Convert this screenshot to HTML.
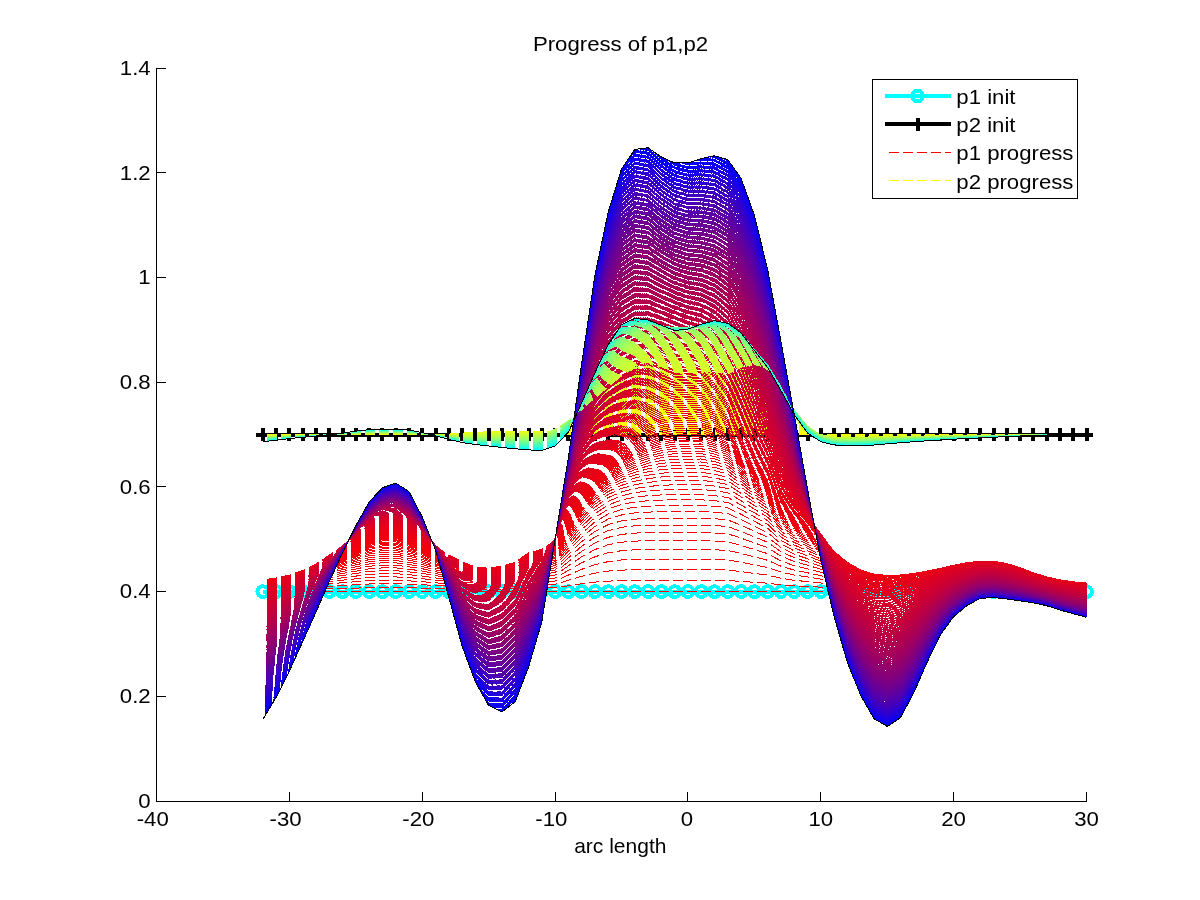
<!DOCTYPE html>
<html><head><meta charset="utf-8"><title>Progress of p1,p2</title>
<style>html,body{margin:0;padding:0;background:#fff}svg{display:block}text{font-family:"Liberation Sans",sans-serif;font-size:20.8px;fill:#000}.p path{vector-effect:non-scaling-stroke}</style></head>
<body>
<svg width="1200" height="900" viewBox="0 0 1200 900">
<rect width="1200" height="900" fill="#fff"/>
<g shape-rendering="crispEdges">
<g stroke="#0ff" stroke-width="4" fill="none"><path d="M262.8 591.6H1086.5"/>
<circle cx="262.8" cy="591.6" r="5.4"/><circle cx="276.1" cy="591.6" r="5.4"/><circle cx="289.4" cy="591.6" r="5.4"/><circle cx="302.6" cy="591.6" r="5.4"/><circle cx="315.9" cy="591.6" r="5.4"/><circle cx="329.2" cy="591.6" r="5.4"/><circle cx="342.5" cy="591.6" r="5.4"/><circle cx="355.8" cy="591.6" r="5.4"/><circle cx="369.1" cy="591.6" r="5.4"/><circle cx="382.4" cy="591.6" r="5.4"/><circle cx="395.6" cy="591.6" r="5.4"/><circle cx="408.9" cy="591.6" r="5.4"/><circle cx="422.2" cy="591.6" r="5.4"/><circle cx="435.5" cy="591.6" r="5.4"/><circle cx="448.8" cy="591.6" r="5.4"/><circle cx="462.1" cy="591.6" r="5.4"/><circle cx="475.4" cy="591.6" r="5.4"/><circle cx="488.6" cy="591.6" r="5.4"/><circle cx="501.9" cy="591.6" r="5.4"/><circle cx="515.2" cy="591.6" r="5.4"/><circle cx="528.5" cy="591.6" r="5.4"/><circle cx="541.8" cy="591.6" r="5.4"/><circle cx="555.1" cy="591.6" r="5.4"/><circle cx="568.4" cy="591.6" r="5.4"/><circle cx="581.6" cy="591.6" r="5.4"/><circle cx="594.9" cy="591.6" r="5.4"/><circle cx="608.2" cy="591.6" r="5.4"/><circle cx="621.5" cy="591.6" r="5.4"/><circle cx="634.8" cy="591.6" r="5.4"/><circle cx="648.1" cy="591.6" r="5.4"/><circle cx="661.4" cy="591.6" r="5.4"/><circle cx="674.6" cy="591.6" r="5.4"/><circle cx="687.9" cy="591.6" r="5.4"/><circle cx="701.2" cy="591.6" r="5.4"/><circle cx="714.5" cy="591.6" r="5.4"/><circle cx="727.8" cy="591.6" r="5.4"/><circle cx="741.1" cy="591.6" r="5.4"/><circle cx="754.4" cy="591.6" r="5.4"/><circle cx="767.6" cy="591.6" r="5.4"/><circle cx="780.9" cy="591.6" r="5.4"/><circle cx="794.2" cy="591.6" r="5.4"/><circle cx="807.5" cy="591.6" r="5.4"/><circle cx="820.8" cy="591.6" r="5.4"/><circle cx="834.1" cy="591.6" r="5.4"/><circle cx="847.4" cy="591.6" r="5.4"/><circle cx="860.6" cy="591.6" r="5.4"/><circle cx="873.9" cy="591.6" r="5.4"/><circle cx="887.2" cy="591.6" r="5.4"/><circle cx="900.5" cy="591.6" r="5.4"/><circle cx="913.8" cy="591.6" r="5.4"/><circle cx="927.1" cy="591.6" r="5.4"/><circle cx="940.4" cy="591.6" r="5.4"/><circle cx="953.6" cy="591.6" r="5.4"/><circle cx="966.9" cy="591.6" r="5.4"/><circle cx="980.2" cy="591.6" r="5.4"/><circle cx="993.5" cy="591.6" r="5.4"/><circle cx="1006.8" cy="591.6" r="5.4"/><circle cx="1020.1" cy="591.6" r="5.4"/><circle cx="1033.4" cy="591.6" r="5.4"/><circle cx="1046.6" cy="591.6" r="5.4"/><circle cx="1059.9" cy="591.6" r="5.4"/><circle cx="1073.2" cy="591.6" r="5.4"/><circle cx="1086.5" cy="591.6" r="5.4"/></g>
<g stroke="#000" stroke-width="4" fill="none"><path d="M256.3 434.6H1093.0"/>
<path d="M262.8 428.1v13M276.1 428.1v13M289.4 428.1v13M302.6 428.1v13M315.9 428.1v13M329.2 428.1v13M342.5 428.1v13M355.8 428.1v13M369.1 428.1v13M382.4 428.1v13M395.6 428.1v13M408.9 428.1v13M422.2 428.1v13M435.5 428.1v13M448.8 428.1v13M462.1 428.1v13M475.4 428.1v13M488.6 428.1v13M501.9 428.1v13M515.2 428.1v13M528.5 428.1v13M541.8 428.1v13M555.1 428.1v13M568.4 428.1v13M581.6 428.1v13M594.9 428.1v13M608.2 428.1v13M621.5 428.1v13M634.8 428.1v13M648.1 428.1v13M661.4 428.1v13M674.6 428.1v13M687.9 428.1v13M701.2 428.1v13M714.5 428.1v13M727.8 428.1v13M741.1 428.1v13M754.4 428.1v13M767.6 428.1v13M780.9 428.1v13M794.2 428.1v13M807.5 428.1v13M820.8 428.1v13M834.1 428.1v13M847.4 428.1v13M860.6 428.1v13M873.9 428.1v13M887.2 428.1v13M900.5 428.1v13M913.8 428.1v13M927.1 428.1v13M940.4 428.1v13M953.6 428.1v13M966.9 428.1v13M980.2 428.1v13M993.5 428.1v13M1006.8 428.1v13M1020.1 428.1v13M1033.4 428.1v13M1046.6 428.1v13M1059.9 428.1v13M1073.2 428.1v13M1086.5 428.1v13"/></g>
<g class="p q" transform="translate(262.786,0) scale(13.2857,1)" fill="none" stroke-width="1" stroke-dasharray="10 4" stroke-dashoffset="10">
<path stroke="#ff0000" d="M0 591.6l1 0 1 0 1 0 1 0 1 0 1 0 1 0 1 0 1 0 1 0 1 0 1 0 1 0 1 0 1 0 1 0 1 0 1 0 1 0 1 0 1 0 1 0 1 0 1 0 1 0 1 0 1 0 1 0 1 0 1 0 1 0 1 0 1 0 1 0 1 0 1 0 1 0 1 0 1 0 1 0 1 0 1 0 1 0 1 0 1 0 1 0 1 0 1 0 1 0 1 0 1 0 1 0 1 0 1 0 1 0 1 0 1 0 1 0 1 0 1 0 1 0 1 0"/>
<path stroke="#ffff00" d="M0 434.6l1 0 1 0 1 0 1 0 1 0 1 0 1 0 1 0 1 0 1 0 1 0 1 0 1 0 1 0 1 0 1 0 1 0 1 0 1 0 1 0 1 0 1 0 1 0 1 0 1 0 1 0 1 0 1 0 1 0 1 0 1 0 1 0 1 0 1 0 1 0 1 0 1 0 1 0 1 0 1 0 1 0 1 0 1 0 1 0 1 0 1 0 1 0 1 0 1 0 1 0 1 0 1 0 1 0 1 0 1 0 1 0 1 0 1 0 1 0 1 0 1 0 1 0"/>
<path stroke="#fe0001" d="M0 590.3l1-.1 1-.2 1-.3 1-.4 1-.4 1-.4 1-.4 1-.4 1-.1 1 0 1 .2 1 .3 1 .4 1 .2 1 .3 1 .3 1 0 1-.2 1-.3 1-.6 1-.1 1-.3 1-2 1-2.1 1-1.6 1-1 1-.5 1-.2 1-.1 1 .1 1 0 1 0 1 0 1 0 1 .2 1 .8 1 .9 1 .9 1 1.6 1 1 1 .6 1 .8 1 1 1 .7 1 .5 1 .2 1 .1 1 0 1 0 1-.1 1-.2 1-.2 1-.1 1-.1 1 0 1 .2 1 .3 1 .5 1 .3 1 .2 1 .2 1 .1"/>
<path stroke="#feff01" d="M0 434.6l1 0 1 0 1 0 1 0 1 0 1 0 1 0 1 0 1 0 1 0 1 0 1 0 1 0 1-.1 1-.1 1-.1 1-.1 1 0 1 0 1 0 1 .1 1 .1 1 0 1 0 1-.2 1-.2 1-.3 1-.2 1-.1 1 0 1 0 1 0 1 0 1 .1 1 .1 1 0 1 .2 1 .1 1 .2 1 .2 1 .2 1 .1 1 .1 1 0 1 0 1 0 1-.1 1 0 1 0 1 0 1 0 1 0 1 0 1 0 1 0 1 0 1 0 1 0 1 0 1 0 1 0 1 0"/>
<path stroke="#fe0001" d="M0 589l1-.2 1-.3 1-.6 1-.7 1-.9 1-.8 1-.7 1-.8 1-.2 1 0 1 .4 1 .5 1 .9 1 .4 1 .6 1 .5 1 0 1-.4 1-.5 1-1.2 1-.2 1-.5 1-4 1-4 1-3.1 1-2.1 1-1 1-.4 1-.1 1 0 1 0 1 0 1 0 1 .1 1 .3 1 1.6 1 1.8 1 1.7 1 3.2 1 2 1 1.3 1 1.4 1 2.1 1 1.2 1 1 1 .5 1 .2 1 0 1-.1 1-.3 1-.2 1-.4 1-.3 1-.1 1 0 1 .4 1 .6 1 .8 1 .6 1 .5 1 .3 1 .1"/>
<path stroke="#feff01" d="M0 434.7l1 0 1-.1 1 0 1 0 1 0 1 0 1 0 1 0 1 0 1 0 1 0 1 0 1 0 1-.1 1-.3 1-.2 1-.1 1 0 1 0 1 0 1 .1 1 .3 1 0 1-.1 1-.4 1-.5 1-.4 1-.4 1-.3 1 0 1 .1 1 0 1 0 1 .1 1 .1 1 .2 1 .2 1 .3 1 .4 1 .5 1 .3 1 .2 1 .1 1 0 1 0 1 0 1 0 1 0 1 0 1 0 1 0 1-.1 1 0 1 0 1 0 1 0 1 0 1 0 1 0 1 0 1 0 1 0"/>
<path stroke="#fd0002" d="M0 587.9l1-.3 1-.5 1-.8 1-1.1 1-1.3 1-1.2 1-1 1-1.1 1-.4 1 0 1 .7 1 .7 1 1.3 1 .6 1 .8 1 .8 1 .1 1-.6 1-.8 1-1.8 1-.2 1-.8 1-5.9 1-5.8 1-4.6 1-3.1 1-1.6 1-.6 1-.2 1 .1 1 0 1 0 1 0 1 .2 1 .4 1 2.3 1 2.6 1 2.7 1 4.5 1 3 1 2 1 2.2 1 3 1 1.8 1 1.4 1 .8 1 .3 1-.1 1-.2 1-.3 1-.4 1-.5 1-.4 1-.2 1 0 1 .5 1 .9 1 1.2 1 .9 1 .6 1 .4 1 .3"/>
<path stroke="#fdff02" d="M0 434.7l1 0 1 0 1-.1 1 0 1 0 1 0 1 0 1 0 1 0 1 0 1 0 1 0 1 0 1-.2 1-.4 1-.3 1-.2 1 0 1 0 1 0 1 .2 1 .4 1 0 1-.1 1-.7 1-.6 1-.7 1-.6 1-.4 1 0 1 .1 1 0 1 0 1 .1 1 .3 1 .2 1 .3 1 .4 1 .7 1 .7 1 .5 1 .3 1 .1 1 0 1 0 1 0 1 0 1 0 1 0 1 0 1 0 1 0 1 0 1 0 1-.1 1 0 1 0 1 0 1 0 1 0 1 0 1 0"/>
<path stroke="#fd0002" d="M0 586.8l1-.4 1-.6 1-1 1-1.4 1-1.8 1-1.4 1-1.4 1-1.5 1-.5 1 .1 1 .8 1 1 1 1.7 1 .8 1 1 1 1 1 .1 1-.7 1-.9 1-2.4 1-.2 1-1.1 1-7.7 1-7.5 1-6 1-4.1 1-2 1-.9 1-.2 1 0 1 0 1 0 1 0 1 .2 1 .6 1 3.1 1 3.3 1 3.5 1 5.9 1 3.9 1 2.7 1 2.8 1 3.9 1 2.3 1 1.9 1 1 1 .3 1-.1 1-.2 1-.4 1-.5 1-.7 1-.5 1-.3 1 0 1 .7 1 1.2 1 1.5 1 1.1 1 .8 1 .6 1 .3"/>
<path stroke="#fdff02" d="M0 434.7l1 0 1 0 1 0 1-.1 1 0 1 0 1 0 1 0 1 0 1 0 1 0 1 0 1 0 1-.3 1-.5 1-.4 1-.2 1 0 1 0 1-.1 1 .3 1 .5 1 0 1-.1 1-.9 1-.9 1-.9 1-.8 1-.4 1 0 1 0 1 0 1 0 1 .2 1 .4 1 .2 1 .5 1 .5 1 .9 1 .9 1 .7 1 .4 1 .2 1 0 1 0 1 0 1-.1 1 0 1 0 1 0 1 0 1 0 1 0 1 0 1 0 1-.1 1 0 1 0 1 0 1 0 1 0 1 0"/>
<path stroke="#fc0003" d="M0 585.9l1-.5 1-.8 1-1.3 1-1.6 1-2.2 1-1.7 1-1.7 1-1.8 1-.6 1 0 1 1 1 1.3 1 2 1 1 1 1.3 1 1.2 1 .2 1-.9 1-1.2 1-2.8 1-.3 1-1.4 1-9.2 1-9.1 1-7.2 1-4.9 1-2.5 1-1.1 1-.4 1 .1 1 0 1 0 1 0 1 .3 1 .7 1 3.7 1 4 1 4.2 1 7.2 1 4.8 1 3.2 1 3.4 1 4.7 1 2.8 1 2.3 1 1.2 1 .4 1-.1 1-.3 1-.5 1-.6 1-.9 1-.6 1-.3 1 0 1 .8 1 1.4 1 1.8 1 1.4 1 1 1 .7 1 .4"/>
<path stroke="#fcff03" d="M0 434.7l1 0 1 0 1 0 1-.1 1 0 1 0 1 0 1-.1 1 0 1 0 1 0 1 .1 1 0 1-.4 1-.6 1-.5 1-.2 1-.1 1 0 1 0 1 .3 1 .6 1 0 1-.1 1-1.1 1-1.1 1-1.1 1-1 1-.6 1 0 1 .1 1-.1 1 .1 1 .2 1 .4 1 .4 1 .5 1 .7 1 1 1 1.2 1 .9 1 .5 1 .2 1 0 1 0 1 0 1 0 1-.1 1 0 1 0 1 0 1 0 1 0 1 0 1 0 1 0 1-.1 1 0 1 0 1 0 1 0 1 0"/>
<path stroke="#fc0003" d="M0 585l1-.6 1-.9 1-1.4 1-2 1-2.5 1-2.1 1-2 1-2.1 1-.7 1 0 1 1.2 1 1.5 1 2.4 1 1.2 1 1.5 1 1.5 1 .2 1-1 1-1.4 1-3.3 1-.4 1-1.6 1-10.8 1-10.4 1-8.3 1-5.7 1-2.9 1-1.3 1-.5 1 0 1 .1 1-.1 1 0 1 .4 1 .8 1 4.3 1 4.8 1 4.8 1 8.4 1 5.4 1 3.7 1 4 1 5.5 1 3.3 1 2.7 1 1.4 1 .5 1-.2 1-.3 1-.7 1-.7 1-1 1-.7 1-.4 1 0 1 .9 1 1.7 1 2.1 1 1.6 1 1.2 1 .7 1 .5"/>
<path stroke="#fcff03" d="M0 434.8l1-.1 1 0 1 0 1-.1 1 0 1 0 1 0 1-.1 1 0 1 0 1 0 1 .1 1 0 1-.4 1-.8 1-.5 1-.3 1 0 1 0 1 0 1 .3 1 .7 1 0 1-.2 1-1.3 1-1.4 1-1.3 1-1.2 1-.7 1 0 1 .1 1 0 1 0 1 .3 1 .5 1 .4 1 .7 1 .7 1 1.3 1 1.4 1 1.1 1 .6 1 .3 1-.1 1 0 1 0 1 0 1 0 1 0 1-.1 1 0 1 0 1 0 1 0 1 0 1 0 1-.1 1 0 1 0 1 0 1 0 1 0"/>
<path stroke="#fb0004" d="M0 584.3l1-.7 1-1.1 1-1.6 1-2.3 1-2.8 1-2.4 1-2.2 1-2.4 1-.9 1 0 1 1.4 1 1.7 1 2.8 1 1.3 1 1.7 1 1.7 1 .3 1-1.2 1-1.5 1-3.8 1-.5 1-1.8 1-12.1 1-11.6 1-9.3 1-6.4 1-3.3 1-1.5 1-.6 1-.1 1 0 1 0 1 0 1 .4 1 1.1 1 4.9 1 5.3 1 5.5 1 9.3 1 6.1 1 4.2 1 4.5 1 6.2 1 3.7 1 3.1 1 1.5 1 .6 1-.1 1-.5 1-.7 1-.8 1-1.1 1-.9 1-.4 1 0 1 1 1 1.9 1 2.4 1 1.8 1 1.3 1 .8 1 .6"/>
<path stroke="#fbff04" d="M0 434.8l1-.1 1 0 1 0 1 0 1-.1 1 0 1-.1 1 0 1 0 1 0 1 0 1 .1 1 0 1-.5 1-.8 1-.6 1-.3 1-.1 1 0 1 0 1 .4 1 .8 1-.1 1-.2 1-1.6 1-1.5 1-1.5 1-1.4 1-.9 1 0 1 .1 1 0 1 0 1 .4 1 .6 1 .5 1 .7 1 .9 1 1.5 1 1.7 1 1.2 1 .7 1 .3 1 0 1 0 1 0 1-.1 1 0 1 0 1 0 1-.1 1 0 1 0 1 0 1 0 1 0 1 0 1-.1 1 0 1 0 1 0 1 0"/>
<path stroke="#fa0005" d="M0 583.6l1-.8 1-1.2 1-1.8 1-2.5 1-3.2 1-2.6 1-2.5 1-2.8 1-.9 1 0 1 1.5 1 1.9 1 3.1 1 1.6 1 1.9 1 1.9 1 .3 1-1.3 1-1.7 1-4.1 1-.6 1-2 1-13.4 1-12.8 1-10.1 1-6.9 1-3.7 1-1.8 1-.7 1-.2 1 0 1 0 1-.1 1 .6 1 1.2 1 5.4 1 5.9 1 6 1 10.3 1 6.7 1 4.5 1 5 1 6.9 1 4.2 1 3.3 1 1.8 1 .7 1-.2 1-.5 1-.8 1-1 1-1.2 1-.9 1-.5 1 0 1 1.1 1 2.1 1 2.6 1 2 1 1.5 1 .9 1 .6"/>
<path stroke="#faff05" d="M0 434.8l1 0 1-.1 1 0 1 0 1-.1 1 0 1-.1 1 0 1 0 1 0 1 0 1 .1 1 .1 1-.6 1-.9 1-.6 1-.4 1 0 1 0 1 0 1 .4 1 .7 1-.1 1-.2 1-1.8 1-1.7 1-1.8 1-1.6 1-1 1 0 1 .2 1 0 1 0 1 .4 1 .7 1 .5 1 .9 1 1 1 1.7 1 1.9 1 1.4 1 .8 1 .3 1 0 1 0 1 0 1 0 1-.1 1 0 1 0 1 0 1-.1 1 0 1 0 1 0 1 0 1 0 1-.1 1 0 1 0 1 0 1 0"/>
<path stroke="#fa0005" d="M0 583l1-.9 1-1.3 1-2 1-2.8 1-3.4 1-2.9 1-2.8 1-3 1-1.1 1 0 1 1.7 1 2.1 1 3.4 1 1.8 1 2.1 1 2.1 1 .3 1-1.3 1-1.9 1-4.6 1-.6 1-2.3 1-14.5 1-13.7 1-10.9 1-7.5 1-4 1-2.1 1-.8 1-.4 1-.1 1 0 1 0 1 .7 1 1.3 1 6 1 6.5 1 6.5 1 11.1 1 7.2 1 4.9 1 5.4 1 7.6 1 4.5 1 3.8 1 1.9 1 .7 1-.2 1-.5 1-1 1-1 1-1.3 1-1.1 1-.5 1 0 1 1.2 1 2.3 1 2.8 1 2.2 1 1.6 1 1 1 .7"/>
<path stroke="#faff05" d="M0 434.8l1 0 1-.1 1 0 1 0 1-.1 1 0 1-.1 1 0 1 0 1 0 1 0 1 .1 1 .1 1-.6 1-.9 1-.7 1-.4 1 0 1 0 1 0 1 .4 1 .7 1-.2 1-.2 1-2 1-2 1-2 1-1.8 1-1 1 0 1 .1 1 0 1 0 1 .4 1 .9 1 .6 1 .9 1 1.2 1 1.9 1 2.1 1 1.6 1 .9 1 .4 1 0 1-.1 1 0 1 0 1 0 1-.1 1 0 1 0 1 0 1-.1 1 0 1 0 1 0 1 0 1-.1 1 0 1 0 1 0 1 0"/>
<path stroke="#f90006" d="M0 582.4l1-.9 1-1.5 1-2.1 1-3 1-3.7 1-3.2 1-3.1 1-3.2 1-1.2 1 0 1 1.8 1 2.3 1 3.8 1 1.9 1 2.4 1 2.2 1 .4 1-1.5 1-2 1-5 1-.7 1-2.4 1-15.6 1-14.7 1-11.5 1-8 1-4.4 1-2.3 1-1 1-.5 1-.1 1 0 1-.1 1 .8 1 1.5 1 6.5 1 7 1 7 1 11.9 1 7.7 1 5.2 1 5.9 1 8.1 1 4.9 1 4.1 1 2.1 1 .8 1-.2 1-.7 1-1 1-1.1 1-1.5 1-1.1 1-.6 1 0 1 1.4 1 2.4 1 3 1 2.4 1 1.7 1 1.1 1 .7"/>
<path stroke="#f9ff06" d="M0 434.8l1 0 1-.1 1 0 1 0 1-.1 1 0 1-.1 1 0 1 0 1 0 1 0 1 .1 1 .1 1-.6 1-.9 1-.7 1-.4 1-.1 1 0 1 0 1 .4 1 .7 1-.2 1-.3 1-2.2 1-2.2 1-2.2 1-2 1-1.2 1 0 1 .2 1 0 1 0 1 .5 1 .9 1 .6 1 1.1 1 1.3 1 2.1 1 2.3 1 1.8 1 1 1 .4 1 0 1 0 1 0 1-.1 1 0 1-.1 1 0 1 0 1 0 1-.1 1 0 1 0 1 0 1 0 1-.1 1 0 1 0 1 0 1 0"/>
<path stroke="#f90006" d="M0 581.9l1-1 1-1.5 1-2.4 1-3.2 1-4 1-3.4 1-3.3 1-3.5 1-1.3 1-.1 1 2 1 2.6 1 4 1 2.1 1 2.6 1 2.4 1 .4 1-1.5 1-2.2 1-5.3 1-.8 1-2.7 1-16.6 1-15.4 1-12.2 1-8.4 1-4.7 1-2.5 1-1.3 1-.6 1-.2 1 0 1-.1 1 .9 1 1.8 1 7 1 7.4 1 7.4 1 12.7 1 8 1 5.6 1 6.2 1 8.7 1 5.3 1 4.4 1 2.3 1 .8 1-.2 1-.7 1-1.1 1-1.3 1-1.5 1-1.2 1-.7 1 .1 1 1.4 1 2.6 1 3.2 1 2.5 1 1.8 1 1.2 1 .8"/>
<path stroke="#f9ff06" d="M0 434.9l1-.1 1 0 1-.1 1 0 1-.1 1 0 1-.1 1-.1 1 0 1 0 1 .1 1 0 1 .2 1-.6 1-1 1-.7 1-.4 1 0 1 0 1 0 1 .4 1 .6 1-.3 1-.3 1-2.4 1-2.4 1-2.4 1-2.2 1-1.3 1 0 1 .2 1-.1 1 0 1 .6 1 1 1 .7 1 1.1 1 1.5 1 2.3 1 2.6 1 1.9 1 1.1 1 .4 1 0 1 0 1 0 1-.1 1 0 1 0 1-.1 1 0 1 0 1 0 1-.1 1 0 1 0 1 0 1-.1 1 0 1 0 1 0 1 0"/>
<path stroke="#f80007" d="M0 581.5l1-1.1 1-1.6 1-2.6 1-3.3 1-4.3 1-3.7 1-3.5 1-3.8 1-1.4 1 0 1 2.1 1 2.7 1 4.3 1 2.4 1 2.7 1 2.6 1 .4 1-1.6 1-2.3 1-5.6 1-.9 1-2.9 1-17.5 1-16.1 1-12.7 1-8.8 1-5 1-2.8 1-1.5 1-.8 1-.3 1 0 1-.1 1 1.1 1 1.9 1 7.5 1 7.8 1 7.8 1 13.4 1 8.4 1 5.9 1 6.6 1 9.2 1 5.7 1 4.6 1 2.4 1 .9 1-.2 1-.8 1-1.2 1-1.3 1-1.7 1-1.3 1-.7 1 .1 1 1.5 1 2.7 1 3.4 1 2.7 1 1.9 1 1.2 1 .9"/>
<path stroke="#f8ff07" d="M0 434.9l1-.1 1 0 1-.1 1 0 1-.1 1 0 1-.1 1-.1 1 0 1 0 1 0 1 .1 1 .2 1-.6 1-1 1-.7 1-.4 1-.1 1 0 1 0 1 .4 1 .7 1-.5 1-.2 1-2.8 1-2.6 1-2.6 1-2.4 1-1.4 1 0 1 .2 1 0 1 0 1 .6 1 1 1 .8 1 1.3 1 1.6 1 2.5 1 2.8 1 2.1 1 1.2 1 .5 1 0 1-.1 1 0 1 0 1-.1 1 0 1 0 1-.1 1 0 1 0 1-.1 1 0 1 0 1 0 1 0 1-.1 1 0 1 0 1 0"/>
<path stroke="#f80007" d="M0 581.1l1-1.1 1-1.8 1-2.7 1-3.5 1-4.6 1-3.8 1-3.8 1-4 1-1.6 1 0 1 2.2 1 3 1 4.6 1 2.5 1 2.9 1 2.8 1 .5 1-1.7 1-2.5 1-5.9 1-1 1-3 1-18.5 1-16.6 1-13.2 1-9.1 1-5.4 1-3.1 1-1.8 1-1 1-.4 1 0 1-.1 1 1.3 1 2.1 1 8 1 8.3 1 8.1 1 14 1 8.8 1 6.1 1 6.9 1 9.8 1 6 1 4.9 1 2.6 1 .9 1-.2 1-.9 1-1.3 1-1.4 1-1.7 1-1.4 1-.8 1 .1 1 1.5 1 2.9 1 3.6 1 2.8 1 2 1 1.3 1 .9"/>
<path stroke="#f8ff07" d="M0 434.9l1-.1 1 0 1-.1 1 0 1-.1 1 0 1-.1 1-.1 1 0 1 0 1 0 1 .1 1 .2 1-.6 1-1 1-.7 1-.5 1 0 1 0 1 0 1 .4 1 .6 1-.5 1-.3 1-3 1-2.8 1-2.8 1-2.6 1-1.5 1 0 1 .2 1 0 1 0 1 .6 1 1.2 1 .8 1 1.4 1 1.7 1 2.7 1 3 1 2.3 1 1.3 1 .5 1 0 1 0 1 0 1-.1 1 0 1-.1 1 0 1-.1 1 0 1 0 1 0 1-.1 1 0 1 0 1 0 1-.1 1 0 1 0 1 0"/>
<path stroke="#f70008" d="M0 580.8l1-1.2 1-1.9 1-2.8 1-3.8 1-4.7 1-4.1 1-4 1-4.3 1-1.6 1-.1 1 2.4 1 3.1 1 4.9 1 2.7 1 3.1 1 3 1 .5 1-1.8 1-2.6 1-6.2 1-1.1 1-3.2 1-19.2 1-17.2 1-13.6 1-9.5 1-5.6 1-3.5 1-2 1-1.2 1-.5 1 0 1-.1 1 1.4 1 2.4 1 8.4 1 8.7 1 8.5 1 14.5 1 9.1 1 6.4 1 7.3 1 10.2 1 6.3 1 5.1 1 2.8 1 1 1-.3 1-.9 1-1.4 1-1.5 1-1.8 1-1.5 1-.8 1 .1 1 1.6 1 3 1 3.7 1 3 1 2.1 1 1.3 1 .9"/>
<path stroke="#f7ff08" d="M0 434.9l1 0 1-.1 1-.1 1 0 1-.1 1 0 1-.1 1-.1 1 0 1 0 1 0 1 .1 1 .2 1-.6 1-1 1-.7 1-.5 1 0 1 0 1-.1 1 .4 1 .6 1-.6 1-.3 1-3.2 1-3 1-3.1 1-2.7 1-1.7 1 0 1 .3 1-.1 1 .1 1 .6 1 1.3 1 .9 1 1.4 1 1.8 1 3 1 3.3 1 2.4 1 1.4 1 .6 1-.1 1 0 1 0 1-.1 1 0 1-.1 1 0 1 0 1-.1 1 0 1 0 1-.1 1 0 1 0 1 0 1-.1 1 0 1 0 1 0"/>
<path stroke="#f60008" d="M0 580.6l1-1.4 1-1.9 1-3 1-3.9 1-5 1-4.3 1-4.2 1-4.5 1-1.7 1-.1 1 2.5 1 3.3 1 5.1 1 2.9 1 3.3 1 3.1 1 .5 1-1.8 1-2.7 1-6.5 1-1.2 1-3.4 1-20 1-17.5 1-13.9 1-9.8 1-6 1-3.8 1-2.3 1-1.4 1-.6 1 0 1-.1 1 1.6 1 2.6 1 8.8 1 9.1 1 8.8 1 15 1 9.5 1 6.6 1 7.5 1 10.7 1 6.6 1 5.4 1 2.9 1 1 1-.3 1-.9 1-1.5 1-1.6 1-2 1-1.5 1-.8 1 .1 1 1.6 1 3.2 1 3.8 1 3.1 1 2.1 1 1.4 1 1"/>
<path stroke="#f6ff08" d="M0 435l1-.1 1-.1 1-.1 1 0 1-.1 1 0 1-.1 1-.1 1 0 1 0 1 0 1 .1 1 .2 1-.6 1-1 1-.8 1-.4 1-.1 1 0 1 0 1 .4 1 .5 1-.7 1-.3 1-3.4 1-3.2 1-3.3 1-2.9 1-1.8 1 0 1 .3 1-.1 1 0 1 .7 1 1.4 1 .9 1 1.6 1 2 1 3.1 1 3.5 1 2.6 1 1.5 1 .6 1 0 1 0 1-.1 1 0 1-.1 1 0 1-.1 1 0 1-.1 1 0 1 0 1-.1 1 0 1 0 1 0 1-.1 1 0 1 0 1 0"/>
<path stroke="#f60009" d="M0 580.3l1-1.3 1-2.1 1-3.1 1-4.1 1-5.2 1-4.5 1-4.4 1-4.7 1-1.9 1-.1 1 2.6 1 3.5 1 5.4 1 3 1 3.5 1 3.3 1 .6 1-1.9 1-2.8 1-6.7 1-1.3 1-3.6 1-20.7 1-18 1-14.2 1-10 1-6.3 1-4 1-2.6 1-1.7 1-.7 1 0 1-.1 1 1.7 1 2.9 1 9.2 1 9.4 1 9.1 1 15.5 1 9.7 1 6.8 1 7.8 1 11.1 1 7 1 5.6 1 3 1 1.1 1-.3 1-1 1-1.6 1-1.7 1-2 1-1.6 1-.9 1 .1 1 1.7 1 3.3 1 3.9 1 3.2 1 2.3 1 1.4 1 1"/>
<path stroke="#f6ff09" d="M0 435l1-.1 1-.1 1 0 1-.1 1-.1 1-.1 1-.1 1 0 1 0 1 0 1 0 1 .1 1 .2 1-.6 1-1 1-.8 1-.5 1 0 1 0 1 0 1 .4 1 .4 1-.7 1-.4 1-3.6 1-3.5 1-3.4 1-3.2 1-1.8 1 0 1 .2 1 0 1 0 1 .8 1 1.4 1 1 1 1.7 1 2.1 1 3.3 1 3.7 1 2.8 1 1.6 1 .6 1 0 1 0 1 0 1-.1 1-.1 1 0 1-.1 1 0 1 0 1-.1 1 0 1 0 1-.1 1 0 1 0 1-.1 1 0 1 0 1 0"/>
<path stroke="#f5000a" d="M0 580.2l1-1.5 1-2.2 1-3.2 1-4.3 1-5.4 1-4.6 1-4.7 1-4.9 1-1.9 1-.1 1 2.7 1 3.6 1 5.7 1 3.2 1 3.6 1 3.5 1 .6 1-1.9 1-2.9 1-7 1-1.4 1-3.8 1-21.4 1-18.2 1-14.5 1-10.2 1-6.6 1-4.4 1-2.9 1-1.9 1-.9 1 0 1 0 1 1.9 1 3.1 1 9.6 1 9.8 1 9.4 1 15.9 1 9.9 1 7 1 8.1 1 11.5 1 7.2 1 5.9 1 3.1 1 1.2 1-.4 1-1.1 1-1.6 1-1.8 1-2.1 1-1.7 1-.9 1 .1 1 1.8 1 3.3 1 4.1 1 3.3 1 2.3 1 1.5 1 1"/>
<path stroke="#f5ff0a" d="M0 435l1-.1 1-.1 1 0 1-.1 1-.1 1-.1 1-.1 1 0 1-.1 1 0 1 .1 1 .1 1 .2 1-.6 1-1 1-.8 1-.5 1 0 1 0 1-.1 1 .4 1 .4 1-.8 1-.4 1-3.8 1-3.7 1-3.6 1-3.4 1-1.9 1 0 1 .2 1 0 1 0 1 .8 1 1.5 1 1.1 1 1.8 1 2.2 1 3.6 1 3.9 1 2.9 1 1.7 1 .7 1 0 1-.1 1 0 1-.1 1 0 1-.1 1 0 1-.1 1 0 1-.1 1 0 1 0 1-.1 1 0 1 0 1-.1 1 0 1 0 1 0"/>
<path stroke="#f5000a" d="M0 580l1-1.5 1-2.3 1-3.3 1-4.5 1-5.5 1-4.9 1-4.8 1-5.2 1-2 1-.1 1 2.8 1 3.8 1 5.9 1 3.4 1 3.8 1 3.6 1 .7 1-2 1-3 1-7.2 1-1.5 1-4 1-22 1-18.5 1-14.6 1-10.5 1-6.9 1-4.7 1-3.2 1-2.2 1-.9 1 0 1-.1 1 2 1 3.4 1 10 1 10.1 1 9.7 1 16.3 1 10.1 1 7.2 1 8.4 1 11.8 1 7.5 1 6.1 1 3.3 1 1.2 1-.4 1-1.1 1-1.8 1-1.8 1-2.2 1-1.8 1-.9 1 .1 1 1.8 1 3.4 1 4.2 1 3.4 1 2.4 1 1.5 1 1.1"/>
<path stroke="#f5ff0a" d="M0 435l1-.1 1-.1 1 0 1-.1 1-.1 1-.1 1-.1 1-.1 1 0 1 0 1 .1 1 .1 1 .2 1-.6 1-1 1-.8 1-.5 1-.1 1 0 1 0 1 .4 1 .4 1-1 1-.4 1-4 1-3.9 1-3.9 1-3.5 1-2 1-.1 1 .3 1 0 1 0 1 .9 1 1.5 1 1.2 1 1.9 1 2.3 1 3.8 1 4.1 1 3.1 1 1.8 1 .7 1 0 1 0 1-.1 1-.1 1 0 1-.1 1 0 1-.1 1 0 1-.1 1 0 1 0 1-.1 1 0 1 0 1-.1 1 0 1 0 1 0"/>
<path stroke="#f4000b" d="M0 579.9l1-1.6 1-2.3 1-3.5 1-4.6 1-5.8 1-5 1-5 1-5.3 1-2.2 1-.1 1 2.9 1 4 1 6.1 1 3.5 1 4.1 1 3.7 1 .7 1-2 1-3.1 1-7.4 1-1.7 1-4.1 1-22.5 1-18.8 1-14.8 1-10.6 1-7.2 1-5 1-3.5 1-2.4 1-1.1 1-.1 1 0 1 2.2 1 3.6 1 10.4 1 10.4 1 9.9 1 16.7 1 10.3 1 7.3 1 8.6 1 12.3 1 7.7 1 6.3 1 3.4 1 1.2 1-.3 1-1.3 1-1.8 1-1.9 1-2.3 1-1.8 1-1 1 .1 1 1.9 1 3.5 1 4.3 1 3.4 1 2.5 1 1.6 1 1.1"/>
<path stroke="#f4ff0b" d="M0 435l1-.1 1 0 1-.1 1-.1 1-.1 1-.1 1-.1 1-.1 1 0 1 0 1 0 1 .2 1 .2 1-.6 1-1 1-.8 1-.5 1-.1 1 0 1 0 1 .4 1 .3 1-1 1-.5 1-4.2 1-4.1 1-4.1 1-3.7 1-2.2 1 0 1 .4 1-.1 1 0 1 .9 1 1.7 1 1.2 1 2 1 2.4 1 4 1 4.3 1 3.3 1 1.9 1 .7 1 0 1 0 1-.1 1 0 1-.1 1-.1 1 0 1-.1 1 0 1 0 1-.1 1 0 1-.1 1 0 1 0 1-.1 1 0 1 0 1 0"/>
<path stroke="#f4000b" d="M0 579.8l1-1.6 1-2.4 1-3.6 1-4.8 1-5.9 1-5.2 1-5.2 1-5.6 1-2.2 1-.1 1 3 1 4.1 1 6.3 1 3.8 1 4.2 1 3.8 1 .8 1-2 1-3.2 1-7.7 1-1.7 1-4.4 1-23 1-18.9 1-15 1-10.8 1-7.4 1-5.3 1-3.8 1-2.7 1-1.2 1 0 1-.1 1 2.4 1 3.8 1 10.8 1 10.7 1 10.1 1 17 1 10.4 1 7.5 1 8.9 1 12.6 1 7.9 1 6.5 1 3.6 1 1.3 1-.4 1-1.3 1-1.9 1-2.1 1-2.4 1-1.8 1-1 1 .1 1 1.9 1 3.6 1 4.4 1 3.5 1 2.5 1 1.6 1 1.2"/>
<path stroke="#f4ff0b" d="M0 435.1l1-.1 1-.1 1-.1 1-.1 1-.1 1-.1 1-.1 1-.1 1 0 1 0 1 0 1 .2 1 .2 1-.6 1-1 1-.8 1-.5 1-.1 1 0 1 0 1 .4 1 .2 1-1.1 1-.5 1-4.4 1-4.3 1-4.3 1-3.9 1-2.3 1 0 1 .4 1-.1 1 .1 1 .9 1 1.7 1 1.3 1 2.1 1 2.5 1 4.2 1 4.6 1 3.4 1 2 1 .8 1 0 1-.1 1 0 1-.1 1-.1 1 0 1-.1 1 0 1-.1 1 0 1-.1 1 0 1-.1 1 0 1 0 1-.1 1 0 1 0 1 0"/>
<path stroke="#f3000c" d="M0 579.8l1-1.7 1-2.5 1-3.7 1-4.9 1-6.1 1-5.4 1-5.4 1-5.7 1-2.3 1-.2 1 3.1 1 4.3 1 6.5 1 4 1 4.3 1 4 1 .8 1-2 1-3.3 1-7.9 1-1.8 1-4.5 1-23.6 1-19.1 1-15 1-11 1-7.6 1-5.6 1-4.2 1-2.9 1-1.3 1 0 1-.1 1 2.6 1 4 1 11.1 1 11 1 10.3 1 17.3 1 10.6 1 7.6 1 9.1 1 12.9 1 8.2 1 6.7 1 3.7 1 1.3 1-.4 1-1.4 1-2 1-2.1 1-2.4 1-1.9 1-1.1 1 .1 1 2 1 3.6 1 4.5 1 3.5 1 2.6 1 1.7 1 1.2"/>
<path stroke="#f3ff0c" d="M0 435.1l1-.1 1-.1 1-.1 1-.1 1-.1 1-.1 1-.1 1-.1 1 0 1 0 1 0 1 .2 1 .2 1-.6 1-1 1-.8 1-.5 1-.1 1 0 1 0 1 .3 1 .2 1-1.2 1-.5 1-4.6 1-4.5 1-4.5 1-4 1-2.4 1 0 1 .3 1 0 1 0 1 .9 1 1.9 1 1.3 1 2.2 1 2.7 1 4.3 1 4.8 1 3.6 1 2.1 1 .8 1 0 1 0 1-.1 1-.1 1 0 1-.1 1-.1 1 0 1-.1 1 0 1-.1 1 0 1-.1 1 0 1 0 1-.1 1 0 1 0 1 0"/>
<path stroke="#f3000c" d="M0 579.8l1-1.8 1-2.6 1-3.8 1-5 1-6.3 1-5.6 1-5.5 1-5.9 1-2.4 1-.2 1 3.2 1 4.5 1 6.7 1 4.1 1 4.5 1 4.1 1 .9 1-2.1 1-3.3 1-8.1 1-1.9 1-4.8 1-23.9 1-19.3 1-15.1 1-11.1 1-7.8 1-6 1-4.4 1-3.2 1-1.4 1 0 1-.1 1 2.7 1 4.3 1 11.4 1 11.2 1 10.5 1 17.6 1 10.7 1 7.8 1 9.3 1 13.2 1 8.5 1 6.9 1 3.7 1 1.4 1-.4 1-1.5 1-2 1-2.3 1-2.5 1-1.9 1-1.1 1 .1 1 2 1 3.7 1 4.5 1 3.7 1 2.6 1 1.7 1 1.2"/>
<path stroke="#f3ff0c" d="M0 435.1l1-.1 1-.1 1-.1 1-.1 1-.1 1-.1 1-.1 1-.1 1 0 1 0 1 0 1 .2 1 .2 1-.6 1-1 1-.8 1-.5 1-.1 1 0 1 0 1 .3 1 .1 1-1.2 1-.5 1-4.9 1-4.7 1-4.7 1-4.2 1-2.5 1 0 1 .3 1 0 1 0 1 1 1 1.9 1 1.4 1 2.3 1 2.8 1 4.6 1 5 1 3.7 1 2.2 1 .9 1-.1 1 0 1-.1 1 0 1-.1 1-.1 1-.1 1 0 1-.1 1 0 1-.1 1 0 1 0 1-.1 1 0 1-.1 1 0 1 0 1 0"/>
<path stroke="#f2000d" d="M0 579.8l1-1.8 1-2.7 1-3.9 1-5.2 1-6.4 1-5.7 1-5.7 1-6.1 1-2.5 1-.2 1 3.3 1 4.6 1 6.9 1 4.3 1 4.7 1 4.2 1 1 1-2.2 1-3.4 1-8.3 1-2 1-4.9 1-24.4 1-19.3 1-15.2 1-11.2 1-8.1 1-6.3 1-4.7 1-3.4 1-1.5 1 0 1-.1 1 2.9 1 4.5 1 11.7 1 11.4 1 10.7 1 17.8 1 10.9 1 7.9 1 9.4 1 13.6 1 8.7 1 7 1 3.9 1 1.5 1-.5 1-1.5 1-2.2 1-2.3 1-2.6 1-2 1-1.1 1 .1 1 2 1 3.8 1 4.6 1 3.7 1 2.7 1 1.7 1 1.3"/>
<path stroke="#f2ff0d" d="M0 435.1l1-.1 1-.1 1-.1 1-.1 1-.1 1-.1 1-.1 1-.1 1-.1 1 .1 1 0 1 .2 1 .2 1-.6 1-1 1-.8 1-.5 1-.1 1 0 1 0 1 .3 1 .1 1-1.4 1-.5 1-5.1 1-4.9 1-4.9 1-4.4 1-2.6 1 0 1 .4 1-.1 1 .1 1 1 1 2 1 1.4 1 2.4 1 2.9 1 4.8 1 5.2 1 3.9 1 2.3 1 .9 1 0 1-.1 1 0 1-.1 1-.1 1-.1 1 0 1-.1 1 0 1-.1 1 0 1-.1 1 0 1-.1 1 0 1-.1 1 0 1 0 1 0"/>
<path stroke="#f1000e" d="M0 579.9l1-1.9 1-2.8 1-4 1-5.3 1-6.6 1-5.9 1-5.8 1-6.2 1-2.7 1-.2 1 3.4 1 4.8 1 7.1 1 4.4 1 4.8 1 4.4 1 1 1-2.1 1-3.5 1-8.5 1-2.1 1-5.1 1-24.8 1-19.4 1-15.3 1-11.3 1-8.3 1-6.5 1-5 1-3.6 1-1.7 1 0 1-.1 1 3 1 4.8 1 11.9 1 11.7 1 10.8 1 18.1 1 11 1 8 1 9.7 1 13.8 1 8.9 1 7.3 1 4 1 1.4 1-.5 1-1.5 1-2.3 1-2.4 1-2.6 1-2.1 1-1.1 1 0 1 2.1 1 3.8 1 4.7 1 3.8 1 2.7 1 1.8 1 1.2"/>
<path stroke="#f1ff0e" d="M0 435.2l1-.2 1-.1 1-.1 1-.1 1-.1 1-.1 1-.1 1-.2 1 0 1 0 1 .1 1 .2 1 .2 1-.6 1-1 1-.8 1-.5 1-.1 1 0 1 0 1 .3 1 0 1-1.4 1-.6 1-5.3 1-5.1 1-5.1 1-4.6 1-2.7 1 0 1 .4 1 0 1 0 1 1.1 1 2 1 1.6 1 2.4 1 3.1 1 4.9 1 5.4 1 4.2 1 2.3 1 .9 1 0 1 0 1-.1 1-.1 1-.1 1 0 1-.1 1-.1 1 0 1-.1 1 0 1-.1 1 0 1-.1 1 0 1-.1 1 0 1 0 1 0"/>
<path stroke="#f1000e" d="M0 580l1-2 1-2.9 1-4.1 1-5.4 1-6.8 1-6 1-6 1-6.4 1-2.7 1-.2 1 3.5 1 4.9 1 7.3 1 4.5 1 5.1 1 4.5 1 1 1-2.1 1-3.6 1-8.6 1-2.3 1-5.3 1-25.2 1-19.5 1-15.3 1-11.4 1-8.6 1-6.8 1-5.2 1-3.9 1-1.8 1 0 1 0 1 3.1 1 5 1 12.2 1 11.9 1 11 1 18.3 1 11.1 1 8.2 1 9.8 1 14.2 1 9.1 1 7.4 1 4.1 1 1.6 1-.6 1-1.6 1-2.4 1-2.4 1-2.8 1-2.1 1-1.1 1 0 1 2.1 1 3.9 1 4.8 1 3.7 1 2.8 1 1.8 1 1.3"/>
<path stroke="#f1ff0e" d="M0 435.2l1-.1 1-.2 1-.1 1-.1 1-.1 1-.1 1-.1 1-.2 1 0 1 0 1 .1 1 .2 1 .2 1-.6 1-.9 1-.8 1-.6 1-.1 1 0 1 0 1 .3 1-.1 1-1.5 1-.6 1-5.5 1-5.3 1-5.3 1-4.7 1-2.8 1 0 1 .4 1-.1 1 .1 1 1.1 1 2.1 1 1.6 1 2.6 1 3.1 1 5.2 1 5.6 1 4.3 1 2.4 1 1 1 0 1-.1 1-.1 1-.1 1 0 1-.1 1-.1 1-.1 1 0 1-.1 1 0 1-.1 1 0 1-.1 1 0 1-.1 1 0 1 0 1 0"/>
<path stroke="#f0000f" d="M0 580.1l1-2.1 1-2.9 1-4.3 1-5.5 1-6.9 1-6.1 1-6.2 1-6.5 1-2.8 1-.2 1 3.5 1 5 1 7.5 1 4.8 1 5.1 1 4.6 1 1.2 1-2.2 1-3.6 1-8.8 1-2.4 1-5.5 1-25.6 1-19.6 1-15.4 1-11.5 1-8.8 1-7.1 1-5.5 1-4 1-1.9 1 0 1-.1 1 3.3 1 5.1 1 12.5 1 12.2 1 11.1 1 18.6 1 11.2 1 8.4 1 10 1 14.4 1 9.4 1 7.5 1 4.3 1 1.5 1-.5 1-1.8 1-2.4 1-2.5 1-2.8 1-2.2 1-1.2 1 .1 1 2.1 1 3.9 1 4.8 1 3.8 1 2.9 1 1.8 1 1.3"/>
<path stroke="#f0ff0f" d="M0 435.2l1-.1 1-.2 1-.1 1-.1 1-.1 1-.1 1-.2 1-.1 1 0 1 0 1 0 1 .3 1 .2 1-.5 1-1 1-.8 1-.6 1-.1 1 0 1 0 1 .3 1-.1 1-1.7 1-.6 1-5.7 1-5.5 1-5.4 1-5 1-2.9 1 0 1 .4 1 0 1 0 1 1.2 1 2.2 1 1.6 1 2.7 1 3.2 1 5.4 1 5.8 1 4.5 1 2.5 1 1 1 0 1-.1 1 0 1-.1 1-.1 1-.1 1-.1 1 0 1-.1 1-.1 1 0 1-.1 1 0 1-.1 1 0 1 0 1-.1 1 0 1 0"/>
<path stroke="#f0000f" d="M0 580.2l1-2.1 1-3 1-4.4 1-5.6 1-7 1-6.3 1-6.3 1-6.7 1-2.9 1-.3 1 3.6 1 5.2 1 7.7 1 4.9 1 5.3 1 4.8 1 1.2 1-2.2 1-3.7 1-9 1-2.5 1-5.6 1-26 1-19.7 1-15.6 1-11.6 1-9 1-7.3 1-5.8 1-4.2 1-2 1 0 1-.1 1 3.5 1 5.3 1 12.7 1 12.4 1 11.3 1 18.8 1 11.4 1 8.5 1 10.2 1 14.7 1 9.5 1 7.8 1 4.3 1 1.6 1-.6 1-1.8 1-2.5 1-2.6 1-2.9 1-2.2 1-1.2 1 0 1 2.2 1 3.9 1 4.9 1 3.9 1 2.8 1 1.9 1 1.3"/>
<path stroke="#f0ff0f" d="M0 435.2l1-.1 1-.1 1-.2 1-.1 1-.1 1-.1 1-.2 1-.1 1 0 1 0 1 0 1 .2 1 .3 1-.5 1-1 1-.8 1-.6 1 0 1 0 1-.1 1 .3 1-.2 1-1.7 1-.7 1-5.9 1-5.7 1-5.6 1-5.1 1-3 1 0 1 .4 1-.1 1 .1 1 1.2 1 2.3 1 1.7 1 2.7 1 3.4 1 5.6 1 6 1 4.6 1 2.6 1 1 1 0 1 0 1-.1 1-.1 1-.1 1-.1 1-.1 1 0 1-.1 1 0 1-.1 1-.1 1 0 1-.1 1 0 1 0 1-.1 1 0 1 0"/>
<path stroke="#ef0010" d="M0 580.4l1-2.2 1-3.1 1-4.5 1-5.7 1-7.2 1-6.4 1-6.5 1-6.8 1-2.9 1-.3 1 3.6 1 5.4 1 7.8 1 5.1 1 5.5 1 4.8 1 1.3 1-2.2 1-3.7 1-9.2 1-2.6 1-5.9 1-26.3 1-19.8 1-15.6 1-11.8 1-9.1 1-7.6 1-6 1-4.5 1-2 1 0 1-.1 1 3.6 1 5.4 1 13 1 12.6 1 11.5 1 19 1 11.5 1 8.6 1 10.5 1 14.9 1 9.8 1 7.9 1 4.4 1 1.6 1-.6 1-1.9 1-2.6 1-2.7 1-2.9 1-2.3 1-1.2 1 0 1 2.2 1 4 1 4.9 1 3.9 1 2.9 1 1.9 1 1.3"/>
<path stroke="#efff10" d="M0 435.2l1-.1 1-.1 1-.1 1-.2 1-.1 1-.1 1-.2 1-.1 1 0 1 0 1 0 1 .2 1 .3 1-.5 1-1 1-.8 1-.5 1-.1 1 0 1-.1 1 .3 1-.3 1-1.8 1-.6 1-6.2 1-5.8 1-5.9 1-5.3 1-3.1 1 0 1 .5 1-.1 1 .1 1 1.2 1 2.4 1 1.7 1 2.9 1 3.5 1 5.7 1 6.2 1 4.8 1 2.7 1 1.1 1 0 1-.1 1-.1 1-.1 1-.1 1-.1 1 0 1-.1 1-.1 1 0 1-.1 1-.1 1 0 1-.1 1 0 1 0 1-.1 1 0 1 0"/>
<path stroke="#ef0010" d="M0 580.5l1-2.2 1-3.2 1-4.5 1-5.9 1-7.3 1-6.5 1-6.6 1-7 1-3.1 1-.3 1 3.8 1 5.4 1 8 1 5.3 1 5.6 1 5 1 1.3 1-2.2 1-3.8 1-9.3 1-2.7 1-6.1 1-26.6 1-19.8 1-15.7 1-11.9 1-9.3 1-7.8 1-6.2 1-4.7 1-2.1 1 0 1-.1 1 3.7 1 5.6 1 13.2 1 12.8 1 11.6 1 19.2 1 11.6 1 8.7 1 10.7 1 15.1 1 10 1 8.1 1 4.5 1 1.6 1-.6 1-1.9 1-2.7 1-2.8 1-3 1-2.3 1-1.3 1 0 1 2.2 1 4.1 1 4.9 1 3.9 1 3 1 1.9 1 1.4"/>
<path stroke="#efff10" d="M0 435.3l1-.2 1-.1 1-.1 1-.2 1-.1 1-.1 1-.2 1-.1 1-.1 1 .1 1 0 1 .2 1 .3 1-.5 1-1 1-.7 1-.6 1-.1 1 0 1 0 1 .2 1-.3 1-1.9 1-.7 1-6.3 1-6.1 1-6.1 1-5.4 1-3.2 1 0 1 .5 1-.1 1 .1 1 1.2 1 2.5 1 1.8 1 2.9 1 3.6 1 6 1 6.4 1 4.9 1 2.8 1 1.1 1 0 1-.1 1 0 1-.1 1-.1 1-.1 1-.1 1-.1 1-.1 1 0 1-.1 1 0 1-.1 1-.1 1 0 1 0 1-.1 1 0 1 0"/>
<path stroke="#ee0011" d="M0 580.7l1-2.3 1-3.2 1-4.7 1-6 1-7.4 1-6.6 1-6.8 1-7.1 1-3.1 1-.3 1 3.8 1 5.5 1 8.2 1 5.4 1 5.8 1 5.1 1 1.4 1-2.2 1-3.9 1-9.4 1-2.8 1-6.3 1-26.9 1-20 1-15.8 1-11.9 1-9.5 1-8.1 1-6.4 1-4.8 1-2.2 1 0 1-.1 1 3.8 1 5.8 1 13.4 1 12.9 1 11.8 1 19.4 1 11.7 1 8.9 1 10.8 1 15.4 1 10.2 1 8.2 1 4.6 1 1.7 1-.6 1-2 1-2.8 1-2.9 1-3.1 1-2.3 1-1.4 1 .1 1 2.2 1 4.1 1 4.9 1 4 1 3 1 1.9 1 1.4"/>
<path stroke="#eeff11" d="M0 435.3l1-.2 1-.1 1-.1 1-.2 1-.1 1-.1 1-.2 1-.1 1-.1 1 0 1 .1 1 .2 1 .3 1-.5 1-.9 1-.8 1-.6 1-.1 1 0 1 0 1 .2 1-.4 1-2 1-.7 1-6.5 1-6.3 1-6.2 1-5.6 1-3.3 1 0 1 .5 1-.1 1 .1 1 1.2 1 2.6 1 1.8 1 3.1 1 3.7 1 6.1 1 6.7 1 5 1 2.9 1 1.1 1 0 1 0 1-.1 1-.1 1-.1 1-.1 1-.1 1-.1 1 0 1-.1 1-.1 1 0 1-.1 1-.1 1 0 1 0 1-.1 1 0 1 0"/>
<path stroke="#ed0012" d="M0 580.9l1-2.3 1-3.4 1-4.7 1-6.1 1-7.5 1-6.8 1-6.9 1-7.3 1-3.2 1-.3 1 3.9 1 5.7 1 8.3 1 5.6 1 5.9 1 5.2 1 1.5 1-2.2 1-3.9 1-9.6 1-3 1-6.4 1-27.2 1-20.1 1-15.9 1-12 1-9.8 1-8.2 1-6.6 1-5 1-2.3 1 0 1-.1 1 3.9 1 6 1 13.6 1 13.1 1 11.9 1 19.6 1 11.8 1 9.1 1 11 1 15.6 1 10.4 1 8.3 1 4.8 1 1.7 1-.7 1-2.1 1-2.9 1-2.9 1-3.2 1-2.3 1-1.4 1 .1 1 2.2 1 4.1 1 5 1 4 1 3 1 1.9 1 1.5"/>
<path stroke="#edff12" d="M0 435.3l1-.1 1-.2 1-.1 1-.1 1-.2 1-.1 1-.2 1-.2 1 0 1 0 1 .1 1 .2 1 .3 1-.5 1-.9 1-.8 1-.5 1-.1 1 0 1-.1 1 .3 1-.5 1-2.1 1-.8 1-6.7 1-6.4 1-6.5 1-5.7 1-3.4 1 0 1 .5 1-.1 1 .1 1 1.3 1 2.6 1 1.9 1 3.1 1 3.9 1 6.3 1 6.8 1 5.2 1 3 1 1.2 1 0 1-.1 1-.1 1-.1 1-.1 1-.1 1-.1 1-.1 1 0 1-.1 1-.1 1 0 1-.1 1 0 1-.1 1 0 1-.1 1 0 1 0"/>
<path stroke="#ed0012" d="M0 581.2l1-2.5 1-3.4 1-4.8 1-6.2 1-7.7 1-6.9 1-7 1-7.4 1-3.3 1-.3 1 3.9 1 5.9 1 8.4 1 5.8 1 6.1 1 5.3 1 1.5 1-2.2 1-3.9 1-9.7 1-3.1 1-6.7 1-27.5 1-20.2 1-16 1-12.2 1-10 1-8.4 1-6.8 1-5.1 1-2.4 1 0 1-.1 1 4 1 6.1 1 13.8 1 13.3 1 12 1 19.8 1 12 1 9.3 1 11.2 1 15.9 1 10.5 1 8.5 1 4.8 1 1.8 1-.7 1-2.1 1-3 1-3.1 1-3.2 1-2.4 1-1.4 1 .1 1 2.2 1 4.1 1 5 1 4.1 1 3 1 2 1 1.4"/>
<path stroke="#edff12" d="M0 435.3l1-.1 1-.2 1-.1 1-.1 1-.2 1-.1 1-.2 1-.2 1 0 1 0 1 .1 1 .2 1 .3 1-.4 1-1 1-.7 1-.6 1-.1 1 0 1 0 1 .2 1-.6 1-2.2 1-.8 1-6.9 1-6.6 1-6.6 1-5.9 1-3.5 1 0 1 .5 1-.1 1 .1 1 1.3 1 2.7 1 2 1 3.2 1 3.9 1 6.5 1 7.1 1 5.3 1 3.1 1 1.2 1 0 1-.1 1 0 1-.2 1-.1 1-.1 1-.1 1 0 1-.1 1-.1 1-.1 1 0 1-.1 1 0 1-.1 1 0 1-.1 1 0 1 0"/>
<path stroke="#ec0013" d="M0 581.4l1-2.5 1-3.5 1-4.9 1-6.3 1-7.8 1-7 1-7.2 1-7.5 1-3.3 1-.4 1 4 1 5.9 1 8.7 1 5.9 1 6.3 1 5.4 1 1.6 1-2.2 1-4 1-9.8 1-3.2 1-7 1-27.8 1-20.3 1-16.2 1-12.3 1-10.2 1-8.7 1-7 1-5.2 1-2.4 1 0 1-.1 1 4.1 1 6.2 1 14 1 13.4 1 12.3 1 20 1 12.2 1 9.4 1 11.5 1 16.1 1 10.7 1 8.6 1 5 1 1.8 1-.8 1-2.2 1-3.1 1-3.1 1-3.3 1-2.5 1-1.4 1 .1 1 2.2 1 4.2 1 5 1 4.1 1 3 1 2 1 1.5"/>
<path stroke="#ecff13" d="M0 435.3l1-.1 1-.2 1-.1 1-.1 1-.2 1-.1 1-.2 1-.2 1 0 1 0 1 .1 1 .2 1 .3 1-.4 1-.9 1-.8 1-.6 1-.1 1 0 1 0 1 .2 1-.6 1-2.3 1-.8 1-7.1 1-6.9 1-6.8 1-6 1-3.6 1 0 1 .5 1 0 1 0 1 1.4 1 2.7 1 2.1 1 3.3 1 4 1 6.7 1 7.2 1 5.6 1 3.1 1 1.3 1-.1 1 0 1-.1 1-.1 1-.2 1 0 1-.1 1-.1 1-.1 1-.1 1 0 1-.1 1-.1 1 0 1-.1 1 0 1-.1 1 0 1 0"/>
<path stroke="#ec0013" d="M0 581.7l1-2.6 1-3.6 1-5 1-6.4 1-7.9 1-7.1 1-7.3 1-7.6 1-3.5 1-.3 1 4 1 6.1 1 8.7 1 6.1 1 6.5 1 5.5 1 1.6 1-2.1 1-4 1-10 1-3.3 1-7.2 1-28.2 1-20.5 1-16.3 1-12.5 1-10.3 1-9 1-7.1 1-5.3 1-2.5 1 0 1-.1 1 4.1 1 6.4 1 14.1 1 13.7 1 12.4 1 20.2 1 12.4 1 9.7 1 11.7 1 16.3 1 10.9 1 8.8 1 5 1 1.8 1-.7 1-2.3 1-3.2 1-3.3 1-3.3 1-2.5 1-1.4 1 0 1 2.3 1 4.1 1 5.1 1 4.1 1 3.1 1 2 1 1.5"/>
<path stroke="#ecff13" d="M0 435.4l1-.2 1-.2 1-.1 1-.1 1-.2 1-.1 1-.2 1-.2 1 0 1 0 1 0 1 .3 1 .3 1-.4 1-.9 1-.8 1-.5 1-.1 1 0 1-.1 1 .2 1-.7 1-2.4 1-.8 1-7.3 1-7 1-7 1-6.2 1-3.7 1 0 1 .6 1-.1 1 0 1 1.5 1 2.8 1 2.1 1 3.4 1 4.1 1 6.9 1 7.4 1 5.7 1 3.3 1 1.2 1 0 1-.1 1-.1 1-.1 1-.1 1-.1 1-.1 1-.1 1-.1 1-.1 1 0 1-.1 1-.1 1 0 1-.1 1 0 1-.1 1 0 1 0"/>
<path stroke="#eb0014" d="M0 582l1-2.6 1-3.7 1-5.1 1-6.5 1-8 1-7.3 1-7.4 1-7.8 1-3.5 1-.4 1 4.1 1 6.2 1 8.9 1 6.3 1 6.6 1 5.7 1 1.6 1-2.1 1-4.1 1-10 1-3.5 1-7.4 1-28.5 1-20.7 1-16.5 1-12.7 1-10.6 1-9.1 1-7.3 1-5.4 1-2.6 1 0 1-.1 1 4.3 1 6.5 1 14.3 1 13.8 1 12.6 1 20.5 1 12.6 1 9.9 1 11.9 1 16.6 1 11.1 1 8.9 1 5.1 1 1.8 1-.7 1-2.4 1-3.3 1-3.4 1-3.3 1-2.6 1-1.5 1 .1 1 2.2 1 4.2 1 5.1 1 4.1 1 3.1 1 2.1 1 1.4"/>
<path stroke="#ebff14" d="M0 435.4l1-.2 1-.1 1-.2 1-.1 1-.2 1-.1 1-.3 1-.1 1-.1 1 .1 1 0 1 .3 1 .4 1-.5 1-.9 1-.7 1-.6 1-.1 1 0 1 0 1 .1 1-.8 1-2.4 1-.9 1-7.5 1-7.2 1-7.1 1-6.4 1-3.7 1 0 1 .5 1-.1 1 .1 1 1.4 1 2.9 1 2.2 1 3.4 1 4.3 1 7 1 7.7 1 5.8 1 3.4 1 1.2 1 0 1-.1 1 0 1-.2 1-.1 1-.1 1-.1 1-.1 1-.1 1-.1 1 0 1-.1 1-.1 1 0 1-.1 1 0 1-.1 1 0 1 0"/>
<path stroke="#eb0014" d="M0 582.3l1-2.7 1-3.8 1-5.2 1-6.6 1-8.1 1-7.4 1-7.5 1-7.9 1-3.5 1-.5 1 4.2 1 6.3 1 9.1 1 6.4 1 6.7 1 5.8 1 1.8 1-2.2 1-4 1-10.2 1-3.6 1-7.7 1-28.8 1-20.9 1-16.7 1-12.9 1-10.8 1-9.3 1-7.5 1-5.5 1-2.6 1 0 1-.1 1 4.3 1 6.6 1 14.5 1 13.9 1 12.9 1 20.7 1 12.8 1 10.2 1 12.2 1 16.8 1 11.3 1 9 1 5.2 1 1.9 1-.8 1-2.5 1-3.4 1-3.4 1-3.5 1-2.6 1-1.5 1 .1 1 2.2 1 4.2 1 5.1 1 4.2 1 3.1 1 2 1 1.5"/>
<path stroke="#ebff14" d="M0 435.4l1-.2 1-.1 1-.2 1-.1 1-.2 1-.1 1-.3 1-.1 1-.1 1 .1 1 0 1 .3 1 .4 1-.5 1-.8 1-.8 1-.6 1-.1 1 0 1 0 1 .2 1-.9 1-2.5 1-.9 1-7.7 1-7.4 1-7.4 1-6.5 1-3.8 1 0 1 .6 1-.1 1 0 1 1.5 1 3 1 2.2 1 3.5 1 4.4 1 7.2 1 7.8 1 6 1 3.5 1 1.3 1 0 1-.1 1-.1 1-.1 1-.2 1-.1 1-.1 1-.1 1-.1 1 0 1-.1 1-.1 1-.1 1 0 1-.1 1 0 1-.1 1 0 1 0"/>
<path stroke="#ea0015" d="M0 582.6l1-2.7 1-3.9 1-5.3 1-6.7 1-8.2 1-7.5 1-7.7 1-7.9 1-3.7 1-.4 1 4.2 1 6.4 1 9.2 1 6.6 1 6.9 1 5.9 1 1.8 1-2.1 1-4.1 1-10.3 1-3.7 1-8 1-29.1 1-21.1 1-17 1-13 1-11.1 1-9.5 1-7.6 1-5.6 1-2.6 1 0 1-.2 1 4.4 1 6.7 1 14.6 1 14.2 1 13 1 21 1 13.1 1 10.4 1 12.5 1 17 1 11.5 1 9.1 1 5.3 1 1.9 1-.8 1-2.6 1-3.5 1-3.5 1-3.5 1-2.7 1-1.5 1 0 1 2.3 1 4.2 1 5.2 1 4.1 1 3.1 1 2.1 1 1.5"/>
<path stroke="#eaff15" d="M0 435.4l1-.1 1-.2 1-.2 1-.1 1-.2 1-.1 1-.3 1-.2 1 0 1 0 1 .1 1 .3 1 .4 1-.5 1-.8 1-.7 1-.6 1-.1 1 0 1-.1 1 .2 1-1 1-2.6 1-.9 1-7.9 1-7.6 1-7.5 1-6.7 1-3.9 1 .1 1 .5 1 0 1 0 1 1.5 1 3.1 1 2.2 1 3.6 1 4.5 1 7.4 1 8 1 6.1 1 3.6 1 1.3 1 0 1-.1 1-.1 1-.1 1-.2 1-.1 1-.1 1-.1 1 0 1-.1 1-.1 1-.1 1-.1 1 0 1-.1 1 0 1-.1 1 0 1 0"/>
<path stroke="#e90016" d="M0 582.9l1-2.8 1-3.9 1-5.4 1-6.8 1-8.3 1-7.7 1-7.7 1-8.1 1-3.7 1-.5 1 4.3 1 6.5 1 9.3 1 6.8 1 7.1 1 6 1 1.9 1-2.1 1-4.1 1-10.4 1-3.8 1-8.3 1-29.5 1-21.3 1-17.2 1-13.3 1-11.2 1-9.8 1-7.7 1-5.7 1-2.7 1 0 1-.1 1 4.4 1 6.8 1 14.8 1 14.3 1 13.3 1 21.3 1 13.3 1 10.7 1 12.7 1 17.3 1 11.6 1 9.3 1 5.3 1 2 1-.9 1-2.6 1-3.6 1-3.7 1-3.5 1-2.7 1-1.6 1 .1 1 2.3 1 4.2 1 5.1 1 4.2 1 3.1 1 2.1 1 1.5"/>
<path stroke="#e9ff16" d="M0 435.5l1-.2 1-.2 1-.2 1-.1 1-.2 1-.2 1-.2 1-.2 1 0 1 0 1 .1 1 .3 1 .4 1-.4 1-.9 1-.7 1-.6 1-.1 1 0 1 0 1 .1 1-1 1-2.7 1-1 1-8.1 1-7.7 1-7.7 1-6.8 1-4 1 0 1 .6 1-.1 1 .1 1 1.5 1 3.1 1 2.3 1 3.7 1 4.6 1 7.6 1 8.2 1 6.2 1 3.7 1 1.3 1 0 1 0 1-.1 1-.2 1-.1 1-.1 1-.1 1-.1 1-.1 1-.1 1-.1 1-.1 1-.1 1 0 1-.1 1 0 1-.1 1 0 1 0"/>
<path stroke="#e90016" d="M0 583.3l1-2.9 1-4 1-5.5 1-6.9 1-8.4 1-7.8 1-7.8 1-8.3 1-3.7 1-.5 1 4.3 1 6.6 1 9.5 1 6.9 1 7.3 1 6.1 1 2 1-2.1 1-4.1 1-10.5 1-4 1-8.5 1-29.8 1-21.6 1-17.5 1-13.4 1-11.6 1-9.9 1-7.9 1-5.7 1-2.7 1 0 1-.2 1 4.5 1 6.9 1 14.9 1 14.6 1 13.4 1 21.6 1 13.5 1 11.1 1 13 1 17.5 1 11.8 1 9.4 1 5.4 1 2 1-.9 1-2.8 1-3.7 1-3.7 1-3.6 1-2.8 1-1.5 1 0 1 2.3 1 4.2 1 5.1 1 4.2 1 3.2 1 2.1 1 1.6"/>
<path stroke="#e9ff16" d="M0 435.5l1-.2 1-.2 1-.2 1-.1 1-.2 1-.2 1-.2 1-.2 1 0 1 0 1 .1 1 .3 1 .4 1-.4 1-.8 1-.8 1-.5 1-.1 1 0 1-.1 1 .1 1-1.1 1-2.8 1-1 1-8.2 1-7.9 1-7.9 1-7 1-4 1 0 1 .6 1-.1 1 .1 1 1.6 1 3.1 1 2.3 1 3.9 1 4.7 1 7.7 1 8.4 1 6.4 1 3.7 1 1.4 1 0 1-.1 1-.1 1-.2 1-.1 1-.1 1-.1 1-.1 1-.1 1-.1 1-.1 1-.1 1 0 1-.1 1-.1 1 0 1-.1 1 0 1 0"/>
<path stroke="#e80017" d="M0 583.7l1-3 1-4.1 1-5.5 1-7.1 1-8.5 1-7.9 1-7.9 1-8.4 1-3.8 1-.5 1 4.3 1 6.8 1 9.6 1 7.1 1 7.4 1 6.3 1 2 1-2 1-4.2 1-10.6 1-4.1 1-8.9 1-30 1-21.9 1-17.7 1-13.7 1-11.8 1-10.1 1-8 1-5.9 1-2.7 1 0 1-.2 1 4.6 1 7 1 15 1 14.8 1 13.7 1 21.8 1 13.8 1 11.3 1 13.4 1 17.7 1 11.9 1 9.6 1 5.5 1 2 1-.9 1-2.9 1-3.8 1-3.8 1-3.7 1-2.8 1-1.6 1 0 1 2.3 1 4.3 1 5.1 1 4.2 1 3.2 1 2.1 1 1.6"/>
<path stroke="#e8ff17" d="M0 435.5l1-.2 1-.2 1-.2 1-.1 1-.2 1-.2 1-.2 1-.2 1 0 1 0 1 .1 1 .3 1 .4 1-.4 1-.8 1-.7 1-.6 1-.1 1 0 1 0 1 .1 1-1.2 1-2.9 1-1 1-8.5 1-8.1 1-8 1-7.1 1-4.1 1 0 1 .6 1-.1 1 .1 1 1.6 1 3.2 1 2.4 1 3.9 1 4.8 1 7.9 1 8.5 1 6.6 1 3.8 1 1.4 1 0 1-.1 1-.1 1-.1 1-.2 1-.1 1-.1 1-.1 1-.1 1-.1 1-.1 1-.1 1 0 1-.1 1-.1 1 0 1-.1 1 0 1 0"/>
<path stroke="#e80017" d="M0 584.1l1-3.1 1-4.1 1-5.7 1-7.1 1-8.7 1-7.9 1-8.1 1-8.5 1-3.9 1-.5 1 4.4 1 6.8 1 9.8 1 7.2 1 7.6 1 6.4 1 2.2 1-2.1 1-4.2 1-10.6 1-4.3 1-9.2 1-30.4 1-22.1 1-18 1-14 1-12 1-10.2 1-8.2 1-5.9 1-2.7 1 0 1-.2 1 4.6 1 7.1 1 15.1 1 15 1 13.9 1 22.1 1 14.1 1 11.6 1 13.7 1 17.9 1 12.2 1 9.6 1 5.6 1 2 1-.9 1-3 1-3.9 1-3.9 1-3.8 1-2.8 1-1.6 1 0 1 2.3 1 4.2 1 5.2 1 4.2 1 3.2 1 2.1 1 1.6"/>
<path stroke="#e8ff17" d="M0 435.5l1-.2 1-.2 1-.1 1-.2 1-.2 1-.2 1-.2 1-.2 1-.1 1 .1 1 0 1 .4 1 .4 1-.4 1-.7 1-.8 1-.5 1-.1 1 0 1-.1 1 .1 1-1.2 1-3 1-1.1 1-8.6 1-8.3 1-8.2 1-7.2 1-4.2 1 0 1 .6 1-.1 1 .1 1 1.6 1 3.3 1 2.4 1 4 1 4.9 1 8.1 1 8.7 1 6.7 1 3.9 1 1.4 1 0 1 0 1-.1 1-.2 1-.2 1-.1 1-.1 1-.1 1-.1 1-.1 1-.1 1-.1 1 0 1-.1 1-.1 1 0 1-.1 1 0 1 0"/>
<path stroke="#e70018" d="M0 584.5l1-3.1 1-4.3 1-5.8 1-7.2 1-8.7 1-8.1 1-8.2 1-8.6 1-4 1-.5 1 4.4 1 7 1 9.9 1 7.4 1 7.8 1 6.5 1 2.2 1-2 1-4.2 1-10.8 1-4.3 1-9.5 1-30.8 1-22.4 1-18.3 1-14.2 1-12.2 1-10.5 1-8.2 1-6 1-2.7 1-.1 1-.2 1 4.6 1 7.2 1 15.3 1 15.1 1 14.2 1 22.4 1 14.4 1 12 1 13.9 1 18.1 1 12.4 1 9.7 1 5.7 1 2.1 1-1 1-3 1-4.1 1-4 1-3.8 1-2.9 1-1.6 1 0 1 2.3 1 4.2 1 5.2 1 4.2 1 3.2 1 2.2 1 1.6"/>
<path stroke="#e7ff18" d="M0 435.5l1-.2 1-.2 1-.1 1-.2 1-.2 1-.2 1-.2 1-.2 1-.1 1 .1 1 0 1 .4 1 .4 1-.4 1-.7 1-.7 1-.6 1-.1 1 0 1 0 1 0 1-1.3 1-3.1 1-1 1-8.9 1-8.4 1-8.4 1-7.3 1-4.3 1 0 1 .6 1 0 1 0 1 1.7 1 3.3 1 2.5 1 4.1 1 5 1 8.2 1 8.9 1 6.8 1 4 1 1.5 1 0 1-.1 1-.1 1-.2 1-.1 1-.2 1-.1 1-.1 1-.1 1-.1 1-.1 1 0 1-.1 1-.1 1-.1 1 0 1-.1 1 0 1 0"/>
<path stroke="#e70018" d="M0 584.9l1-3.2 1-4.3 1-5.9 1-7.3 1-8.9 1-8.2 1-8.3 1-8.6 1-4.1 1-.6 1 4.5 1 7.1 1 10.1 1 7.5 1 8 1 6.6 1 2.3 1-2 1-4.2 1-10.9 1-4.5 1-9.8 1-31.1 1-22.6 1-18.7 1-14.4 1-12.5 1-10.7 1-8.3 1-6 1-2.8 1 0 1-.3 1 4.7 1 7.3 1 15.4 1 15.3 1 14.4 1 22.7 1 14.7 1 12.3 1 14.2 1 18.4 1 12.5 1 9.9 1 5.8 1 2.1 1-1.1 1-3.1 1-4.1 1-4.2 1-3.9 1-2.9 1-1.7 1 0 1 2.4 1 4.2 1 5.1 1 4.3 1 3.2 1 2.2 1 1.6"/>
<path stroke="#e7ff18" d="M0 435.6l1-.2 1-.2 1-.2 1-.2 1-.2 1-.2 1-.2 1-.2 1-.1 1 0 1 .1 1 .3 1 .5 1-.3 1-.8 1-.7 1-.5 1-.1 1 0 1-.1 1 .1 1-1.4 1-3.2 1-1.1 1-9 1-8.6 1-8.6 1-7.5 1-4.3 1 0 1 .7 1-.1 1 0 1 1.7 1 3.4 1 2.5 1 4.2 1 5.1 1 8.4 1 9.1 1 6.9 1 4.1 1 1.5 1 0 1-.1 1-.1 1-.1 1-.2 1-.1 1-.2 1-.1 1-.1 1-.1 1 0 1-.1 1-.1 1-.1 1-.1 1 0 1-.1 1 0 1 0"/>
<path stroke="#e60019" d="M0 585.3l1-3.2 1-4.4 1-6 1-7.4 1-9 1-8.3 1-8.4 1-8.8 1-4.1 1-.6 1 4.5 1 7.2 1 10.2 1 7.7 1 8.2 1 6.7 1 2.4 1-2 1-4.2 1-11 1-4.6 1-10.2 1-31.3 1-23 1-19 1-14.7 1-12.7 1-10.9 1-8.4 1-6 1-2.8 1 0 1-.3 1 4.7 1 7.4 1 15.5 1 15.5 1 14.6 1 23 1 15 1 12.6 1 14.6 1 18.6 1 12.7 1 10 1 5.8 1 2.2 1-1.1 1-3.2 1-4.3 1-4.2 1-4 1-2.9 1-1.8 1 0 1 2.4 1 4.2 1 5.1 1 4.3 1 3.2 1 2.2 1 1.6"/>
<path stroke="#e6ff19" d="M0 435.6l1-.2 1-.2 1-.2 1-.2 1-.2 1-.2 1-.2 1-.3 1 0 1 0 1 .1 1 .3 1 .5 1-.3 1-.7 1-.7 1-.6 1-.1 1 0 1 0 1 0 1-1.5 1-3.2 1-1.2 1-9.2 1-8.8 1-8.6 1-7.7 1-4.4 1 0 1 .7 1-.1 1 .1 1 1.7 1 3.4 1 2.6 1 4.3 1 5.2 1 8.5 1 9.3 1 7.1 1 4.1 1 1.5 1 0 1 0 1-.2 1-.1 1-.2 1-.1 1-.1 1-.1 1-.1 1-.1 1-.1 1-.1 1-.1 1-.1 1-.1 1 0 1-.1 1 0 1-.1"/>
<path stroke="#e6001a" d="M0 585.8l1-3.4 1-4.5 1-6 1-7.6 1-9 1-8.4 1-8.6 1-8.8 1-4.2 1-.6 1 4.5 1 7.3 1 10.3 1 8 1 8.2 1 6.9 1 2.5 1-1.9 1-4.3 1-11 1-4.8 1-10.5 1-31.7 1-23.3 1-19.3 1-15 1-13 1-11 1-8.5 1-6.1 1-2.7 1 0 1-.3 1 4.7 1 7.4 1 15.7 1 15.6 1 14.9 1 23.3 1 15.3 1 13 1 14.9 1 18.8 1 12.9 1 10.1 1 5.9 1 2.2 1-1.1 1-3.4 1-4.4 1-4.3 1-4 1-3 1-1.8 1 0 1 2.4 1 4.2 1 5.1 1 4.3 1 3.2 1 2.2 1 1.7"/>
<path stroke="#e6ff1a" d="M0 435.6l1-.2 1-.2 1-.2 1-.2 1-.2 1-.2 1-.3 1-.2 1 0 1 0 1 .1 1 .3 1 .5 1-.3 1-.7 1-.7 1-.5 1-.1 1 0 1-.1 1 0 1-1.5 1-3.3 1-1.2 1-9.4 1-9 1-8.8 1-7.7 1-4.5 1 0 1 .7 1-.1 1 0 1 1.8 1 3.5 1 2.6 1 4.3 1 5.3 1 8.7 1 9.5 1 7.2 1 4.2 1 1.6 1 0 1-.1 1-.1 1-.2 1-.2 1-.1 1-.1 1-.1 1-.1 1-.1 1-.1 1-.1 1-.1 1-.1 1-.1 1 0 1-.1 1 0 1-.1"/>
<path stroke="#e5001a" d="M0 586.2l1-3.4 1-4.6 1-6.2 1-7.6 1-9.1 1-8.6 1-8.6 1-9 1-4.2 1-.6 1 4.6 1 7.4 1 10.4 1 8.1 1 8.5 1 7 1 2.5 1-1.9 1-4.3 1-11.1 1-4.9 1-10.8 1-32.1 1-23.6 1-19.7 1-15.2 1-13.2 1-11.2 1-8.6 1-6.1 1-2.7 1-.1 1-.3 1 4.8 1 7.5 1 15.7 1 15.8 1 15.2 1 23.5 1 15.7 1 13.4 1 15.2 1 19 1 13.1 1 10.2 1 6 1 2.2 1-1.1 1-3.5 1-4.5 1-4.4 1-4.1 1-3.1 1-1.7 1-.1 1 2.4 1 4.2 1 5.1 1 4.3 1 3.3 1 2.2 1 1.6"/>
<path stroke="#e5ff1a" d="M0 435.6l1-.2 1-.2 1-.2 1-.2 1-.2 1-.2 1-.3 1-.2 1 0 1 0 1 .1 1 .3 1 .5 1-.3 1-.6 1-.7 1-.6 1-.1 1 0 1 0 1 0 1-1.7 1-3.4 1-1.2 1-9.5 1-9.2 1-8.9 1-7.9 1-4.6 1 .1 1 .6 1 0 1 0 1 1.8 1 3.5 1 2.7 1 4.4 1 5.4 1 8.8 1 9.7 1 7.3 1 4.3 1 1.6 1 0 1-.1 1-.1 1-.2 1-.1 1-.2 1-.1 1-.1 1-.1 1-.1 1-.1 1-.1 1-.1 1-.1 1-.1 1 0 1-.1 1 0 1-.1"/>
<path stroke="#e4001b" d="M0 586.7l1-3.5 1-4.7 1-6.3 1-7.7 1-9.3 1-8.6 1-8.7 1-9.1 1-4.3 1-.6 1 4.6 1 7.5 1 10.6 1 8.3 1 8.6 1 7.1 1 2.7 1-1.9 1-4.3 1-11.2 1-5.1 1-11.2 1-32.3 1-24 1-20 1-15.5 1-13.5 1-11.3 1-8.7 1-6.1 1-2.7 1-.1 1-.3 1 4.8 1 7.5 1 15.9 1 16 1 15.4 1 23.8 1 16 1 13.8 1 15.5 1 19.3 1 13.2 1 10.3 1 6.1 1 2.2 1-1.1 1-3.6 1-4.6 1-4.6 1-4.1 1-3.1 1-1.8 1 0 1 2.3 1 4.2 1 5.2 1 4.2 1 3.3 1 2.2 1 1.7"/>
<path stroke="#e4ff1b" d="M0 435.6l1-.2 1-.2 1-.2 1-.2 1-.2 1-.2 1-.3 1-.2 1-.1 1 .1 1 .1 1 .3 1 .5 1-.2 1-.7 1-.6 1-.6 1-.1 1 0 1-.1 1 0 1-1.7 1-3.5 1-1.2 1-9.8 1-9.3 1-9.1 1-8 1-4.6 1 0 1 .7 1-.1 1 .1 1 1.8 1 3.6 1 2.7 1 4.5 1 5.4 1 9.1 1 9.8 1 7.5 1 4.3 1 1.6 1 0 1 0 1-.2 1-.1 1-.2 1-.1 1-.2 1-.1 1-.1 1-.1 1-.1 1-.1 1-.1 1-.1 1-.1 1 0 1-.1 1 0 1-.1"/>
<path stroke="#e4001b" d="M0 587.1l1-3.5 1-4.8 1-6.3 1-7.8 1-9.4 1-8.8 1-8.8 1-9.2 1-4.4 1-.6 1 4.6 1 7.7 1 10.7 1 8.4 1 8.8 1 7.3 1 2.7 1-1.8 1-4.3 1-11.3 1-5.2 1-11.6 1-32.6 1-24.3 1-20.4 1-15.8 1-13.7 1-11.5 1-8.8 1-6.1 1-2.7 1-.1 1-.3 1 4.8 1 7.6 1 15.9 1 16.2 1 15.6 1 24.2 1 16.4 1 14 1 15.9 1 19.5 1 13.4 1 10.4 1 6.2 1 2.3 1-1.2 1-3.7 1-4.7 1-4.7 1-4.2 1-3.1 1-1.9 1 0 1 2.3 1 4.3 1 5.1 1 4.2 1 3.3 1 2.3 1 1.7"/>
<path stroke="#e4ff1b" d="M0 435.7l1-.3 1-.2 1-.2 1-.2 1-.2 1-.2 1-.3 1-.2 1-.1 1 .1 1 0 1 .4 1 .5 1-.2 1-.7 1-.6 1-.5 1-.2 1 0 1 0 1 0 1-1.8 1-3.6 1-1.3 1-9.9 1-9.5 1-9.2 1-8.1 1-4.7 1 0 1 .7 1-.1 1 .1 1 1.8 1 3.7 1 2.7 1 4.6 1 5.5 1 9.2 1 10 1 7.6 1 4.4 1 1.7 1 0 1-.1 1-.1 1-.2 1-.2 1-.1 1-.2 1-.1 1-.1 1-.1 1-.1 1-.1 1-.1 1-.1 1-.1 1 0 1-.1 1 0 1-.1"/>
<path stroke="#e3001c" d="M0 587.6l1-3.6 1-4.9 1-6.4 1-7.9 1-9.5 1-8.9 1-8.9 1-9.3 1-4.4 1-.7 1 4.7 1 7.7 1 10.9 1 8.6 1 9 1 7.3 1 2.9 1-1.8 1-4.4 1-11.3 1-5.4 1-11.9 1-33 1-24.6 1-20.8 1-16 1-14 1-11.6 1-8.8 1-6.1 1-2.8 1 0 1-.4 1 4.8 1 7.7 1 16 1 16.3 1 15.9 1 24.5 1 16.7 1 14.4 1 16.2 1 19.8 1 13.5 1 10.6 1 6.3 1 2.2 1-1.2 1-3.8 1-4.8 1-4.8 1-4.3 1-3.2 1-1.8 1-.1 1 2.4 1 4.2 1 5.1 1 4.2 1 3.4 1 2.2 1 1.7"/>
<path stroke="#e3ff1c" d="M0 435.7l1-.2 1-.3 1-.2 1-.2 1-.2 1-.2 1-.3 1-.2 1-.1 1 .1 1 0 1 .4 1 .5 1-.2 1-.6 1-.6 1-.6 1-.1 1 0 1 0 1-.1 1-1.9 1-3.6 1-1.4 1-10 1-9.6 1-9.5 1-8.2 1-4.7 1 0 1 .7 1-.1 1 .1 1 1.8 1 3.7 1 2.8 1 4.6 1 5.7 1 9.3 1 10.2 1 7.7 1 4.5 1 1.7 1 0 1-.1 1-.1 1-.2 1-.2 1-.1 1-.1 1-.2 1-.1 1-.1 1-.1 1-.1 1-.1 1-.1 1-.1 1 0 1-.1 1 0 1-.1"/>
<path stroke="#e3001c" d="M0 588.1l1-3.7 1-4.9 1-6.6 1-8 1-9.6 1-8.9 1-9.1 1-9.4 1-4.5 1-.7 1 4.8 1 7.8 1 11 1 8.8 1 9.1 1 7.5 1 2.9 1-1.7 1-4.4 1-11.4 1-5.5 1-12.3 1-33.3 1-25 1-21.1 1-16.4 1-14.2 1-11.7 1-8.9 1-6.1 1-2.8 1 0 1-.4 1 4.8 1 7.7 1 16.2 1 16.5 1 16.1 1 24.8 1 17 1 14.8 1 16.6 1 19.9 1 13.8 1 10.7 1 6.3 1 2.3 1-1.3 1-3.8 1-5 1-4.9 1-4.4 1-3.2 1-1.9 1 0 1 2.3 1 4.2 1 5.1 1 4.3 1 3.3 1 2.3 1 1.7"/>
<path stroke="#e3ff1c" d="M0 435.7l1-.2 1-.3 1-.2 1-.2 1-.2 1-.2 1-.3 1-.3 1 0 1 0 1 .1 1 .4 1 .5 1-.2 1-.6 1-.6 1-.5 1-.2 1 .1 1-.1 1-.1 1-1.9 1-3.8 1-1.3 1-10.2 1-9.8 1-9.6 1-8.3 1-4.8 1 0 1 .8 1-.1 1 0 1 1.9 1 3.7 1 2.8 1 4.8 1 5.7 1 9.5 1 10.3 1 7.8 1 4.6 1 1.7 1 0 1 0 1-.2 1-.2 1-.1 1-.2 1-.1 1-.2 1-.1 1-.1 1-.1 1-.1 1-.1 1-.1 1 0 1-.1 1-.1 1 0 1-.1"/>
<path stroke="#e2001d" d="M0 588.6l1-3.7 1-5.1 1-6.7 1-8.1 1-9.7 1-9 1-9.2 1-9.4 1-4.6 1-.7 1 4.8 1 7.9 1 11.1 1 8.9 1 9.4 1 7.6 1 3 1-1.7 1-4.4 1-11.5 1-5.7 1-12.6 1-33.6 1-25.4 1-21.5 1-16.6 1-14.4 1-11.9 1-9 1-6.1 1-2.7 1 0 1-.5 1 4.8 1 7.8 1 16.2 1 16.7 1 16.4 1 25.1 1 17.4 1 15.2 1 16.8 1 20.2 1 13.9 1 10.8 1 6.5 1 2.3 1-1.3 1-4 1-5.1 1-5 1-4.4 1-3.3 1-1.9 1-.1 1 2.4 1 4.2 1 5.1 1 4.2 1 3.4 1 2.2 1 1.8"/>
<path stroke="#e2ff1d" d="M0 435.7l1-.2 1-.2 1-.3 1-.2 1-.2 1-.2 1-.3 1-.3 1 0 1 0 1 .1 1 .4 1 .5 1-.2 1-.5 1-.6 1-.6 1-.1 1 0 1 0 1-.1 1-2 1-3.9 1-1.4 1-10.4 1-9.9 1-9.7 1-8.5 1-4.8 1 0 1 .8 1-.1 1 0 1 1.9 1 3.8 1 2.9 1 4.8 1 5.8 1 9.6 1 10.5 1 8 1 4.6 1 1.8 1 0 1-.1 1-.1 1-.2 1-.2 1-.2 1-.1 1-.1 1-.2 1-.1 1-.1 1-.1 1-.1 1-.1 1 0 1-.1 1-.1 1 0 1-.1"/>
<path stroke="#e2001d" d="M0 589.1l1-3.8 1-5.2 1-6.7 1-8.2 1-9.8 1-9.2 1-9.3 1-9.5 1-4.6 1-.8 1 4.8 1 8.1 1 11.2 1 9.1 1 9.5 1 7.8 1 3.1 1-1.7 1-4.3 1-11.7 1-5.8 1-12.9 1-34 1-25.7 1-21.9 1-16.9 1-14.7 1-12 1-9 1-6.1 1-2.7 1-.1 1-.4 1 4.8 1 7.8 1 16.3 1 16.9 1 16.6 1 25.4 1 17.7 1 15.6 1 17.2 1 20.4 1 14.1 1 10.9 1 6.6 1 2.3 1-1.4 1-4 1-5.3 1-5.1 1-4.5 1-3.3 1-2 1 0 1 2.3 1 4.2 1 5.1 1 4.2 1 3.4 1 2.3 1 1.7"/>
<path stroke="#e2ff1d" d="M0 435.8l1-.3 1-.2 1-.3 1-.2 1-.2 1-.2 1-.3 1-.3 1 0 1 0 1 .1 1 .4 1 .5 1-.1 1-.6 1-.6 1-.5 1-.1 1 0 1-.1 1-.1 1-2.1 1-3.9 1-1.4 1-10.6 1-10.1 1-9.8 1-8.6 1-4.9 1 .1 1 .7 1-.1 1 .1 1 1.9 1 3.8 1 2.9 1 4.9 1 5.9 1 9.8 1 10.6 1 8.1 1 4.7 1 1.8 1 0 1-.1 1-.1 1-.2 1-.2 1-.1 1-.2 1-.1 1-.1 1-.2 1-.1 1-.1 1-.1 1-.1 1 0 1-.1 1-.1 1 0 1-.1"/>
<path stroke="#e1001e" d="M0 589.6l1-3.9 1-5.2 1-6.9 1-8.3 1-9.9 1-9.2 1-9.4 1-9.6 1-4.8 1-.7 1 4.8 1 8.2 1 11.3 1 9.3 1 9.7 1 7.9 1 3.2 1-1.6 1-4.4 1-11.7 1-6 1-13.3 1-34.3 1-26.1 1-22.2 1-17.2 1-14.9 1-12.2 1-9.1 1-6 1-2.8 1 0 1-.5 1 4.9 1 7.8 1 16.4 1 17 1 16.9 1 25.7 1 18.1 1 15.9 1 17.6 1 20.6 1 14.2 1 11.1 1 6.6 1 2.4 1-1.4 1-4.2 1-5.4 1-5.2 1-4.6 1-3.3 1-2 1-.1 1 2.4 1 4.2 1 5.1 1 4.2 1 3.4 1 2.3 1 1.7"/>
<path stroke="#e1ff1e" d="M0 435.8l1-.3 1-.2 1-.2 1-.3 1-.2 1-.2 1-.3 1-.3 1 0 1 0 1 .1 1 .4 1 .5 1-.1 1-.5 1-.6 1-.6 1-.1 1 0 1 0 1-.1 1-2.2 1-4 1-1.5 1-10.7 1-10.2 1-10 1-8.7 1-4.9 1 0 1 .8 1-.1 1 0 1 2 1 3.8 1 3 1 4.9 1 6 1 9.9 1 10.8 1 8.2 1 4.8 1 1.9 1 0 1-.1 1-.2 1-.2 1-.2 1-.1 1-.2 1-.1 1-.1 1-.1 1-.2 1-.1 1-.1 1-.1 1 0 1-.1 1-.1 1 0 1-.1"/>
<path stroke="#e0001f" d="M0 590.2l1-4 1-5.4 1-6.9 1-8.4 1-10.1 1-9.3 1-9.5 1-9.7 1-4.8 1-.7 1 4.8 1 8.3 1 11.4 1 9.5 1 9.9 1 8 1 3.3 1-1.6 1-4.4 1-11.8 1-6.1 1-13.7 1-34.6 1-26.4 1-22.7 1-17.5 1-15.1 1-12.3 1-9.1 1-6 1-2.7 1-.1 1-.5 1 4.9 1 7.9 1 16.4 1 17.2 1 17.1 1 26.1 1 18.4 1 16.3 1 17.8 1 20.9 1 14.4 1 11.2 1 6.7 1 2.4 1-1.4 1-4.3 1-5.5 1-5.4 1-4.6 1-3.4 1-2 1-.1 1 2.3 1 4.2 1 5.1 1 4.2 1 3.4 1 2.3 1 1.8"/>
<path stroke="#e0ff1f" d="M0 435.8l1-.3 1-.2 1-.2 1-.3 1-.2 1-.2 1-.3 1-.3 1-.1 1 .1 1 .1 1 .4 1 .5 1-.1 1-.5 1-.6 1-.5 1-.1 1 0 1-.1 1-.1 1-2.2 1-4.1 1-1.5 1-10.9 1-10.4 1-10.1 1-8.8 1-5 1 .1 1 .8 1-.1 1 0 1 2 1 3.9 1 2.9 1 5.1 1 6.1 1 10 1 10.9 1 8.4 1 4.8 1 1.9 1 0 1-.1 1-.1 1-.2 1-.2 1-.2 1-.1 1-.2 1-.1 1-.1 1-.1 1-.2 1-.1 1-.1 1 0 1-.1 1-.1 1 0 1-.1"/>
<path stroke="#e0001f" d="M0 590.7l1-4.1 1-5.4 1-7.1 1-8.5 1-10.1 1-9.4 1-9.6 1-9.8 1-4.9 1-.8 1 5 1 8.3 1 11.6 1 9.7 1 10 1 8.2 1 3.3 1-1.5 1-4.4 1-11.9 1-6.3 1-14 1-35 1-26.8 1-23 1-17.8 1-15.4 1-12.4 1-9.1 1-6 1-2.7 1 0 1-.6 1 4.9 1 7.9 1 16.5 1 17.3 1 17.4 1 26.4 1 18.7 1 16.7 1 18.2 1 21.1 1 14.6 1 11.3 1 6.8 1 2.4 1-1.5 1-4.3 1-5.7 1-5.4 1-4.8 1-3.4 1-2.1 1 0 1 2.3 1 4.2 1 5.1 1 4.2 1 3.4 1 2.3 1 1.8"/>
<path stroke="#e0ff1f" d="M0 435.8l1-.3 1-.2 1-.2 1-.2 1-.3 1-.2 1-.4 1-.2 1-.1 1 .1 1 .1 1 .4 1 .5 1-.1 1-.4 1-.6 1-.5 1-.2 1 .1 1-.1 1-.2 1-2.2 1-4.2 1-1.6 1-11 1-10.6 1-10.2 1-8.9 1-5 1 .1 1 .8 1-.1 1 0 1 1.9 1 4 1 3 1 5.1 1 6.2 1 10.2 1 11 1 8.5 1 4.9 1 1.9 1 0 1-.1 1-.1 1-.2 1-.2 1-.2 1-.1 1-.2 1-.1 1-.1 1-.1 1-.1 1-.2 1 0 1-.1 1-.1 1-.1 1 0 1-.1"/>
<path stroke="#df0020" d="M0 591.2l1-4.1 1-5.5 1-7.2 1-8.6 1-10.2 1-9.6 1-9.7 1-9.9 1-4.8 1-.9 1 5 1 8.4 1 11.7 1 9.9 1 10.2 1 8.3 1 3.4 1-1.5 1-4.4 1-12 1-6.4 1-14.4 1-35.2 1-27.2 1-23.5 1-18.1 1-15.5 1-12.6 1-9.1 1-6 1-2.6 1-.1 1-.5 1 4.8 1 7.9 1 16.6 1 17.5 1 17.7 1 26.6 1 19.1 1 17.1 1 18.5 1 21.3 1 14.8 1 11.4 1 6.9 1 2.5 1-1.6 1-4.5 1-5.7 1-5.6 1-4.8 1-3.5 1-2.1 1 0 1 2.3 1 4.2 1 5 1 4.2 1 3.4 1 2.4 1 1.8"/>
<path stroke="#dfff20" d="M0 435.8l1-.2 1-.3 1-.2 1-.2 1-.3 1-.2 1-.4 1-.2 1-.1 1 0 1 .1 1 .5 1 .5 1 0 1-.5 1-.6 1-.5 1-.1 1 0 1 0 1-.2 1-2.4 1-4.2 1-1.6 1-11.2 1-10.7 1-10.4 1-8.9 1-5.1 1 0 1 .9 1-.2 1 .1 1 1.9 1 4.1 1 3 1 5.1 1 6.3 1 10.3 1 11.3 1 8.6 1 4.9 1 1.9 1 .1 1-.1 1-.2 1-.2 1-.2 1-.2 1-.1 1-.2 1-.1 1-.1 1-.1 1-.1 1-.1 1-.1 1-.1 1-.1 1-.1 1 0 1-.1"/>
<path stroke="#df0020" d="M0 591.8l1-4.3 1-5.6 1-7.3 1-8.7 1-10.3 1-9.6 1-9.8 1-10 1-4.9 1-.9 1 5 1 8.5 1 11.8 1 10.1 1 10.4 1 8.4 1 3.6 1-1.5 1-4.4 1-12.1 1-6.6 1-14.8 1-35.5 1-27.6 1-23.8 1-18.4 1-15.8 1-12.7 1-9.1 1-5.9 1-2.7 1 0 1-.6 1 4.8 1 8 1 16.6 1 17.7 1 17.9 1 26.9 1 19.5 1 17.4 1 18.9 1 21.5 1 15 1 11.5 1 7 1 2.5 1-1.6 1-4.6 1-5.9 1-5.7 1-4.8 1-3.6 1-2.1 1-.1 1 2.4 1 4.1 1 5.1 1 4.2 1 3.4 1 2.3 1 1.9"/>
<path stroke="#dfff20" d="M0 435.9l1-.3 1-.3 1-.2 1-.2 1-.3 1-.2 1-.4 1-.3 1 0 1 0 1 .1 1 .5 1 .5 1 0 1-.5 1-.5 1-.5 1-.2 1 .1 1-.1 1-.2 1-2.4 1-4.3 1-1.6 1-11.4 1-10.9 1-10.5 1-9 1-5.2 1 .1 1 .8 1-.1 1 .1 1 1.9 1 4.1 1 3.1 1 5.2 1 6.4 1 10.4 1 11.4 1 8.7 1 5.1 1 1.9 1 0 1-.1 1-.1 1-.3 1-.2 1-.1 1-.2 1-.1 1-.2 1-.1 1-.1 1-.1 1-.1 1-.1 1-.1 1-.1 1-.1 1 0 1-.1"/>
<path stroke="#de0021" d="M0 592.3l1-4.3 1-5.7 1-7.4 1-8.8 1-10.4 1-9.8 1-9.9 1-10 1-5 1-.9 1 5 1 8.7 1 11.9 1 10.2 1 10.6 1 8.6 1 3.6 1-1.4 1-4.5 1-12.1 1-6.8 1-15.1 1-35.8 1-28 1-24.3 1-18.6 1-16 1-12.8 1-9.2 1-5.9 1-2.5 1-.1 1-.6 1 4.8 1 8 1 16.7 1 17.8 1 18.1 1 27.3 1 19.8 1 17.8 1 19.2 1 21.8 1 15.1 1 11.6 1 7.1 1 2.5 1-1.6 1-4.7 1-6 1-5.8 1-5 1-3.5 1-2.2 1-.1 1 2.4 1 4.1 1 5 1 4.2 1 3.5 1 2.3 1 1.8"/>
<path stroke="#deff21" d="M0 435.9l1-.3 1-.3 1-.2 1-.2 1-.3 1-.2 1-.4 1-.3 1 0 1 0 1 .1 1 .5 1 .5 1 0 1-.4 1-.5 1-.6 1-.1 1 0 1 0 1-.2 1-2.5 1-4.5 1-1.6 1-11.5 1-11 1-10.7 1-9.1 1-5.2 1 .1 1 .8 1-.1 1 0 1 2 1 4.1 1 3.1 1 5.3 1 6.5 1 10.6 1 11.5 1 8.8 1 5.2 1 1.9 1 0 1-.1 1-.1 1-.2 1-.2 1-.2 1-.2 1-.1 1-.2 1-.1 1-.1 1-.1 1-.1 1-.1 1-.1 1-.1 1-.1 1 0 1-.1"/>
<path stroke="#de0021" d="M0 592.9l1-4.4 1-5.8 1-7.5 1-8.9 1-10.5 1-9.9 1-10 1-10.1 1-5.1 1-.9 1 5.1 1 8.7 1 12 1 10.5 1 10.7 1 8.7 1 3.8 1-1.4 1-4.5 1-12.2 1-7 1-15.4 1-36.2 1-28.4 1-24.6 1-18.9 1-16.2 1-12.9 1-9.2 1-5.8 1-2.6 1 0 1-.7 1 4.8 1 8 1 16.7 1 18 1 18.4 1 27.5 1 20.2 1 18.1 1 19.6 1 22 1 15.3 1 11.8 1 7.2 1 2.5 1-1.7 1-4.8 1-6.2 1-5.9 1-5 1-3.6 1-2.2 1-.1 1 2.4 1 4.1 1 5 1 4.2 1 3.4 1 2.4 1 1.8"/>
<path stroke="#deff21" d="M0 435.9l1-.3 1-.3 1-.2 1-.2 1-.3 1-.2 1-.4 1-.3 1 0 1 0 1 .1 1 .4 1 .6 1 0 1-.4 1-.5 1-.5 1-.1 1 0 1-.1 1-.2 1-2.5 1-4.6 1-1.6 1-11.7 1-11.2 1-10.8 1-9.2 1-5.2 1 .1 1 .8 1-.1 1 0 1 2 1 4.2 1 3.1 1 5.4 1 6.5 1 10.7 1 11.7 1 9 1 5.2 1 1.9 1 .1 1-.2 1-.1 1-.2 1-.2 1-.2 1-.2 1-.1 1-.1 1-.2 1-.1 1-.1 1-.1 1-.1 1-.1 1-.1 1-.1 1 0 1-.1"/>
<path stroke="#dd0022" d="M0 593.4l1-4.4 1-5.9 1-7.6 1-9 1-10.7 1-9.9 1-10.1 1-10.2 1-5.1 1-.9 1 5 1 8.8 1 12.2 1 10.6 1 11 1 8.8 1 3.8 1-1.3 1-4.5 1-12.4 1-7.1 1-15.8 1-36.4 1-28.8 1-25 1-19.2 1-16.4 1-13 1-9.2 1-5.8 1-2.5 1 0 1-.7 1 4.7 1 8.1 1 16.7 1 18.1 1 18.7 1 27.8 1 20.5 1 18.5 1 19.9 1 22.2 1 15.5 1 11.9 1 7.3 1 2.6 1-1.7 1-5 1-6.3 1-6 1-5.1 1-3.7 1-2.2 1-.1 1 2.3 1 4.2 1 4.9 1 4.3 1 3.4 1 2.4 1 1.8"/>
<path stroke="#ddff22" d="M0 435.9l1-.3 1-.2 1-.3 1-.2 1-.3 1-.2 1-.4 1-.3 1-.1 1 .1 1 .1 1 .4 1 .6 1 0 1-.3 1-.5 1-.5 1-.2 1 0 1 0 1-.2 1-2.7 1-4.6 1-1.7 1-11.8 1-11.3 1-11 1-9.3 1-5.2 1 0 1 .9 1-.1 1 0 1 2 1 4.2 1 3.2 1 5.4 1 6.6 1 10.9 1 11.8 1 9.1 1 5.3 1 2 1 0 1-.1 1-.2 1-.2 1-.2 1-.2 1-.1 1-.2 1-.1 1-.2 1-.1 1-.1 1-.1 1-.1 1-.1 1-.1 1-.1 1 0 1-.1"/>
<path stroke="#dc0023" d="M0 594l1-4.6 1-6 1-7.6 1-9.2 1-10.7 1-10 1-10.2 1-10.3 1-5.2 1-.9 1 5.1 1 8.9 1 12.3 1 10.8 1 11.1 1 8.9 1 4 1-1.3 1-4.6 1-12.4 1-7.3 1-16.1 1-36.8 1-29.1 1-25.4 1-19.4 1-16.7 1-13.1 1-9.2 1-5.7 1-2.5 1 0 1-.7 1 4.7 1 8 1 16.9 1 18.2 1 18.9 1 28.1 1 20.8 1 18.9 1 20.2 1 22.4 1 15.7 1 12 1 7.4 1 2.6 1-1.7 1-5.1 1-6.4 1-6.2 1-5.1 1-3.8 1-2.2 1-.1 1 2.3 1 4.1 1 5 1 4.2 1 3.5 1 2.4 1 1.8"/>
<path stroke="#dcff23" d="M0 435.9l1-.3 1-.2 1-.3 1-.2 1-.3 1-.3 1-.3 1-.3 1-.1 1 .1 1 .1 1 .4 1 .6 1 .1 1-.4 1-.5 1-.5 1-.1 1 0 1 0 1-.3 1-2.7 1-4.7 1-1.7 1-12 1-11.5 1-11 1-9.4 1-5.4 1 .1 1 .9 1-.1 1 0 1 2 1 4.3 1 3.2 1 5.5 1 6.7 1 11 1 12 1 9.1 1 5.4 1 2 1 0 1-.1 1-.1 1-.3 1-.2 1-.2 1-.1 1-.2 1-.1 1-.1 1-.2 1-.1 1-.1 1-.1 1-.1 1-.1 1-.1 1 0 1-.1"/>
<path stroke="#dc0023" d="M0 594.6l1-4.7 1-6.1 1-7.8 1-9.2 1-10.8 1-10.2 1-10.2 1-10.4 1-5.3 1-.9 1 5.1 1 9 1 12.4 1 11 1 11.3 1 9.1 1 4 1-1.2 1-4.6 1-12.5 1-7.4 1-16.6 1-37 1-29.4 1-25.8 1-19.8 1-16.8 1-13.2 1-9.2 1-5.7 1-2.5 1 0 1-.7 1 4.7 1 8.1 1 16.8 1 18.4 1 19.1 1 28.4 1 21.1 1 19.3 1 20.5 1 22.7 1 15.8 1 12.2 1 7.5 1 2.6 1-1.8 1-5.2 1-6.5 1-6.3 1-5.3 1-3.7 1-2.3 1-.1 1 2.3 1 4.1 1 5 1 4.2 1 3.4 1 2.4 1 1.9"/>
<path stroke="#dcff23" d="M0 436l1-.3 1-.3 1-.3 1-.2 1-.3 1-.3 1-.3 1-.3 1-.1 1 .1 1 .1 1 .4 1 .6 1 .1 1-.3 1-.5 1-.5 1-.2 1 .1 1-.1 1-.3 1-2.7 1-4.8 1-1.8 1-12.1 1-11.6 1-11.2 1-9.5 1-5.4 1 .1 1 .9 1-.2 1 .1 1 2 1 4.3 1 3.3 1 5.5 1 6.8 1 11.2 1 12.1 1 9.3 1 5.4 1 2 1 .1 1-.2 1-.1 1-.2 1-.3 1-.1 1-.2 1-.2 1-.1 1-.1 1-.2 1-.1 1-.1 1-.1 1-.1 1-.1 1-.1 1 0 1-.1"/>
<path stroke="#db0024" d="M0 595.2l1-4.8 1-6.2 1-7.9 1-9.3 1-10.9 1-10.3 1-10.3 1-10.5 1-5.3 1-1 1 5.2 1 9.1 1 12.5 1 11.2 1 11.5 1 9.2 1 4.1 1-1.2 1-4.6 1-12.6 1-7.6 1-16.9 1-37.3 1-29.8 1-26.1 1-20.1 1-17 1-13.3 1-9.2 1-5.7 1-2.4 1 0 1-.8 1 4.7 1 8.1 1 16.9 1 18.6 1 19.3 1 28.7 1 21.4 1 19.6 1 20.9 1 22.8 1 16.1 1 12.2 1 7.6 1 2.7 1-1.9 1-5.2 1-6.8 1-6.3 1-5.4 1-3.8 1-2.3 1-.1 1 2.3 1 4.1 1 5 1 4.1 1 3.5 1 2.4 1 1.9"/>
<path stroke="#dbff24" d="M0 436l1-.3 1-.3 1-.3 1-.2 1-.3 1-.3 1-.3 1-.3 1-.1 1 0 1 .1 1 .5 1 .6 1 .1 1-.3 1-.5 1-.5 1-.1 1 0 1 0 1-.3 1-2.9 1-4.8 1-1.8 1-12.3 1-11.8 1-11.3 1-9.6 1-5.4 1 .1 1 .8 1-.1 1 .1 1 2 1 4.3 1 3.3 1 5.7 1 6.8 1 11.3 1 12.3 1 9.4 1 5.5 1 2.1 1 0 1-.1 1-.2 1-.2 1-.2 1-.2 1-.2 1-.1 1-.2 1-.1 1-.2 1-.1 1-.1 1-.1 1-.1 1-.1 1-.1 1 0 1-.1"/>
<path stroke="#db0024" d="M0 595.7l1-4.8 1-6.3 1-8 1-9.4 1-11 1-10.4 1-10.5 1-10.5 1-5.4 1-.9 1 5.1 1 9.2 1 12.7 1 11.3 1 11.7 1 9.4 1 4.2 1-1.2 1-4.6 1-12.7 1-7.8 1-17.2 1-37.6 1-30.2 1-26.5 1-20.2 1-17.3 1-13.3 1-9.3 1-5.6 1-2.4 1 0 1-.8 1 4.7 1 8.1 1 17 1 18.6 1 19.6 1 28.9 1 21.8 1 19.9 1 21.2 1 23 1 16.3 1 12.4 1 7.6 1 2.7 1-1.8 1-5.4 1-6.9 1-6.5 1-5.4 1-3.8 1-2.4 1-.1 1 2.3 1 4.1 1 4.9 1 4.2 1 3.5 1 2.4 1 1.9"/>
<path stroke="#dbff24" d="M0 436l1-.3 1-.3 1-.3 1-.2 1-.3 1-.3 1-.3 1-.4 1 0 1 0 1 .1 1 .5 1 .7 1 0 1-.3 1-.4 1-.5 1-.2 1 .1 1-.1 1-.3 1-2.9 1-4.9 1-1.8 1-12.5 1-11.9 1-11.5 1-9.7 1-5.5 1 .1 1 .9 1-.1 1 0 1 2.1 1 4.4 1 3.3 1 5.7 1 7 1 11.4 1 12.4 1 9.5 1 5.6 1 2.1 1 0 1-.1 1-.1 1-.3 1-.2 1-.2 1-.2 1-.1 1-.2 1-.1 1-.1 1-.2 1-.1 1-.1 1-.1 1-.1 1-.1 1 0 1-.1"/>
<path stroke="#da0025" d="M0 596.3l1-4.9 1-6.4 1-8.1 1-9.5 1-11.1 1-10.5 1-10.6 1-10.6 1-5.4 1-1 1 5.2 1 9.3 1 12.8 1 11.5 1 11.9 1 9.4 1 4.3 1-1.1 1-4.6 1-12.8 1-8 1-17.5 1-37.9 1-30.5 1-26.8 1-20.6 1-17.4 1-13.4 1-9.3 1-5.6 1-2.4 1 0 1-.8 1 4.7 1 8.1 1 17 1 18.8 1 19.8 1 29.2 1 22 1 20.3 1 21.5 1 23.3 1 16.4 1 12.5 1 7.8 1 2.7 1-1.9 1-5.5 1-7 1-6.6 1-5.5 1-3.9 1-2.4 1-.1 1 2.3 1 4.1 1 4.9 1 4.2 1 3.5 1 2.4 1 1.9"/>
<path stroke="#daff25" d="M0 436l1-.3 1-.3 1-.3 1-.2 1-.3 1-.3 1-.4 1-.3 1 0 1 0 1 .1 1 .5 1 .7 1 .1 1-.3 1-.5 1-.5 1-.1 1 0 1 0 1-.3 1-3 1-5 1-1.9 1-12.6 1-12.1 1-11.6 1-9.8 1-5.5 1 .1 1 .9 1-.1 1 0 1 2.1 1 4.4 1 3.4 1 5.8 1 7 1 11.6 1 12.5 1 9.7 1 5.6 1 2.1 1 .1 1-.2 1-.1 1-.2 1-.3 1-.2 1-.2 1-.1 1-.2 1-.1 1-.1 1-.2 1-.1 1-.1 1-.1 1-.1 1-.1 1 0 1-.1"/>
<path stroke="#da0025" d="M0 596.9l1-5 1-6.5 1-8.2 1-9.6 1-11.2 1-10.6 1-10.7 1-10.7 1-5.4 1-1 1 5.2 1 9.4 1 12.8 1 11.7 1 12.1 1 9.6 1 4.4 1-1.1 1-4.6 1-12.9 1-8.1 1-18 1-38.1 1-30.8 1-27.2 1-20.8 1-17.6 1-13.5 1-9.3 1-5.5 1-2.4 1 0 1-.8 1 4.6 1 8.1 1 17.1 1 18.9 1 20 1 29.5 1 22.3 1 20.6 1 21.8 1 23.5 1 16.6 1 12.7 1 7.8 1 2.8 1-1.9 1-5.7 1-7.1 1-6.8 1-5.5 1-3.9 1-2.5 1-.1 1 2.3 1 4.1 1 4.9 1 4.1 1 3.5 1 2.5 1 1.9"/>
<path stroke="#daff25" d="M0 436l1-.3 1-.3 1-.2 1-.3 1-.3 1-.3 1-.4 1-.3 1-.1 1 .1 1 .1 1 .5 1 .7 1 .1 1-.3 1-.4 1-.5 1-.2 1 .1 1-.1 1-.3 1-3 1-5.1 1-1.9 1-12.8 1-12.2 1-11.7 1-9.9 1-5.6 1 .1 1 .9 1-.1 1 0 1 2.1 1 4.5 1 3.4 1 5.8 1 7.2 1 11.6 1 12.8 1 9.7 1 5.7 1 2.2 1 0 1-.1 1-.2 1-.2 1-.3 1-.2 1-.1 1-.2 1-.2 1-.1 1-.1 1-.2 1-.1 1-.1 1-.1 1-.1 1-.1 1 0 1-.1"/>
<path stroke="#d90026" d="M0 597.5l1-5.1 1-6.6 1-8.3 1-9.7 1-11.3 1-10.7 1-10.8 1-10.8 1-5.5 1-1 1 5.3 1 9.4 1 13 1 11.9 1 12.3 1 9.7 1 4.5 1-1.1 1-4.6 1-13 1-8.3 1-18.3 1-38.4 1-31.2 1-27.5 1-21.1 1-17.7 1-13.7 1-9.2 1-5.5 1-2.3 1 0 1-.9 1 4.7 1 8.1 1 17.1 1 19 1 20.2 1 29.7 1 22.7 1 20.9 1 22.1 1 23.7 1 16.9 1 12.7 1 8 1 2.8 1-2 1-5.7 1-7.3 1-6.9 1-5.6 1-4 1-2.4 1-.1 1 2.3 1 4 1 4.8 1 4.2 1 3.5 1 2.5 1 1.9"/>
<path stroke="#d9ff26" d="M0 436.1l1-.4 1-.3 1-.2 1-.3 1-.3 1-.3 1-.4 1-.3 1-.1 1 .1 1 .1 1 .5 1 .7 1 .1 1-.2 1-.5 1-.5 1-.1 1 0 1 0 1-.4 1-3.1 1-5.1 1-2 1-12.9 1-12.4 1-11.8 1-10 1-5.6 1 .1 1 .9 1-.1 1 0 1 2.2 1 4.4 1 3.5 1 5.9 1 7.2 1 11.8 1 12.9 1 9.9 1 5.7 1 2.2 1 0 1-.1 1-.1 1-.3 1-.2 1-.2 1-.2 1-.2 1-.1 1-.2 1-.1 1-.2 1-.1 1-.1 1-.1 1-.1 1-.1 1 0 1-.1"/>
<path stroke="#d80027" d="M0 598.1l1-5.2 1-6.7 1-8.4 1-9.8 1-11.4 1-10.8 1-10.8 1-10.9 1-5.6 1-1 1 5.2 1 9.6 1 13.1 1 12.1 1 12.4 1 9.9 1 4.6 1-1.1 1-4.6 1-13.1 1-8.5 1-18.6 1-38.7 1-31.5 1-27.9 1-21.3 1-18 1-13.7 1-9.2 1-5.4 1-2.3 1-.1 1-.8 1 4.6 1 8.1 1 17.1 1 19.2 1 20.4 1 30 1 23 1 21.2 1 22.5 1 23.9 1 17 1 12.9 1 8.1 1 2.8 1-2 1-5.9 1-7.4 1-7 1-5.7 1-4.1 1-2.4 1-.1 1 2.3 1 4 1 4.8 1 4.2 1 3.5 1 2.5 1 1.9"/>
<path stroke="#d8ff27" d="M0 436.1l1-.3 1-.4 1-.2 1-.3 1-.3 1-.3 1-.4 1-.3 1-.1 1 .1 1 .1 1 .5 1 .7 1 .1 1-.2 1-.4 1-.5 1-.2 1 .1 1-.1 1-.3 1-3.2 1-5.2 1-2 1-13.1 1-12.5 1-12 1-10.1 1-5.7 1 .2 1 .9 1-.1 1 0 1 2.2 1 4.5 1 3.5 1 5.9 1 7.3 1 12 1 13 1 10 1 5.8 1 2.2 1 .1 1-.2 1-.1 1-.3 1-.2 1-.2 1-.2 1-.2 1-.1 1-.2 1-.1 1-.1 1-.2 1-.1 1-.1 1-.1 1-.1 1 0 1-.1"/>
<path stroke="#d80027" d="M0 598.7l1-5.3 1-6.7 1-8.6 1-9.9 1-11.5 1-10.9 1-10.9 1-11 1-5.6 1-1.1 1 5.3 1 9.7 1 13.2 1 12.2 1 12.7 1 10 1 4.7 1-1 1-4.7 1-13.2 1-8.6 1-19 1-39 1-31.9 1-28.2 1-21.6 1-18.1 1-13.8 1-9.2 1-5.4 1-2.2 1-.1 1-.8 1 4.6 1 8.1 1 17.1 1 19.3 1 20.7 1 30.2 1 23.3 1 21.6 1 22.7 1 24.1 1 17.2 1 13.1 1 8.1 1 2.9 1-2.1 1-6 1-7.5 1-7.1 1-5.8 1-4.1 1-2.5 1-.1 1 2.3 1 4 1 4.8 1 4.2 1 3.5 1 2.4 1 2"/>
<path stroke="#d8ff27" d="M0 436.1l1-.3 1-.3 1-.3 1-.3 1-.3 1-.3 1-.4 1-.3 1-.1 1 .1 1 .1 1 .5 1 .7 1 .1 1-.2 1-.4 1-.5 1-.1 1 0 1 0 1-.4 1-3.2 1-5.3 1-2.1 1-13.2 1-12.6 1-12.2 1-10.1 1-5.8 1 .1 1 1 1-.1 1 0 1 2.2 1 4.5 1 3.5 1 6.1 1 7.4 1 12.1 1 13.1 1 10.1 1 5.9 1 2.3 1 0 1-.1 1-.2 1-.2 1-.3 1-.2 1-.2 1-.2 1-.1 1-.2 1-.1 1-.1 1-.2 1-.1 1-.1 1-.1 1-.1 1 0 1-.1"/>
<path stroke="#d70028" d="M0 599.3l1-5.4 1-6.8 1-8.7 1-10 1-11.6 1-11 1-11 1-11.1 1-5.6 1-1.1 1 5.3 1 9.7 1 13.4 1 12.4 1 12.8 1 10.2 1 4.7 1-.9 1-4.7 1-13.3 1-8.8 1-19.3 1-39.2 1-32.3 1-28.7 1-21.8 1-18.3 1-13.8 1-9.2 1-5.3 1-2.2 1 0 1-.9 1 4.5 1 8.1 1 17.2 1 19.4 1 20.9 1 30.5 1 23.5 1 22 1 23 1 24.4 1 17.3 1 13.2 1 8.3 1 2.9 1-2.1 1-6.1 1-7.7 1-7.3 1-5.8 1-4.1 1-2.6 1-.1 1 2.3 1 4 1 4.8 1 4.1 1 3.5 1 2.5 1 2"/>
<path stroke="#d7ff28" d="M0 436.1l1-.3 1-.3 1-.3 1-.3 1-.3 1-.3 1-.4 1-.3 1-.1 1 0 1 .2 1 .5 1 .7 1 .2 1-.2 1-.4 1-.5 1-.2 1 .1 1-.1 1-.4 1-3.3 1-5.4 1-2 1-13.4 1-12.8 1-12.2 1-10.3 1-5.8 1 .1 1 1 1-.1 1 0 1 2.2 1 4.6 1 3.5 1 6.2 1 7.4 1 12.2 1 13.4 1 10.2 1 5.9 1 2.3 1 0 1-.1 1-.2 1-.2 1-.3 1-.2 1-.2 1-.1 1-.2 1-.1 1-.2 1-.1 1-.2 1-.1 1-.1 1-.1 1-.1 1 0 1-.1"/>
<path stroke="#d70028" d="M0 599.8l1-5.4 1-6.9 1-8.8 1-10.1 1-11.7 1-11.1 1-11.1 1-11.1 1-5.7 1-1.2 1 5.4 1 9.8 1 13.5 1 12.6 1 13 1 10.3 1 4.8 1-.9 1-4.7 1-13.3 1-9.1 1-19.7 1-39.4 1-32.7 1-29 1-22.1 1-18.5 1-13.8 1-9.2 1-5.2 1-2.2 1 0 1-.9 1 4.5 1 8.1 1 17.2 1 19.5 1 21.1 1 30.7 1 23.9 1 22.3 1 23.3 1 24.6 1 17.6 1 13.3 1 8.3 1 3 1-2.2 1-6.2 1-7.8 1-7.4 1-5.9 1-4.2 1-2.6 1-.1 1 2.3 1 4 1 4.8 1 4.1 1 3.5 1 2.5 1 2"/>
<path stroke="#d7ff28" d="M0 436.1l1-.3 1-.3 1-.3 1-.3 1-.3 1-.3 1-.4 1-.4 1 0 1 0 1 .1 1 .6 1 .7 1 .2 1-.2 1-.4 1-.5 1-.1 1 0 1 0 1-.4 1-3.4 1-5.5 1-2 1-13.6 1-12.9 1-12.4 1-10.4 1-5.8 1 .1 1 1 1-.1 1 0 1 2.2 1 4.7 1 3.5 1 6.2 1 7.6 1 12.3 1 13.5 1 10.3 1 6 1 2.3 1 .1 1-.2 1-.1 1-.3 1-.2 1-.3 1-.1 1-.2 1-.2 1-.1 1-.2 1-.1 1-.2 1-.1 1-.1 1-.1 1-.1 1 0 1-.1"/>
<path stroke="#d60029" d="M0 600.4l1-5.4 1-7.1 1-8.9 1-10.2 1-11.8 1-11.2 1-11.2 1-11.2 1-5.7 1-1.2 1 5.4 1 9.9 1 13.6 1 12.8 1 13.1 1 10.5 1 4.9 1-.8 1-4.8 1-13.4 1-9.2 1-20.1 1-39.7 1-33 1-29.4 1-22.4 1-18.6 1-14 1-9.1 1-5.1 1-2.2 1 0 1-.9 1 4.4 1 8.1 1 17.2 1 19.7 1 21.3 1 31 1 24.2 1 22.6 1 23.7 1 24.8 1 17.7 1 13.4 1 8.5 1 3 1-2.2 1-6.3 1-8 1-7.5 1-6 1-4.2 1-2.6 1-.2 1 2.3 1 4 1 4.7 1 4.2 1 3.5 1 2.5 1 2"/>
<path stroke="#d6ff29" d="M0 436.2l1-.4 1-.3 1-.3 1-.3 1-.3 1-.3 1-.4 1-.4 1 0 1 0 1 .1 1 .6 1 .7 1 .2 1-.1 1-.4 1-.5 1-.2 1 .1 1-.1 1-.4 1-3.4 1-5.6 1-2.1 1-13.7 1-13 1-12.6 1-10.4 1-5.9 1 .1 1 1 1-.1 1 0 1 2.2 1 4.7 1 3.6 1 6.3 1 7.6 1 12.5 1 13.6 1 10.4 1 6.1 1 2.4 1 0 1-.1 1-.2 1-.3 1-.2 1-.2 1-.2 1-.2 1-.2 1-.1 1-.2 1-.1 1-.2 1-.1 1-.1 1-.1 1-.1 1 0 1-.1"/>
<path stroke="#d60029" d="M0 601l1-5.5 1-7.2 1-9 1-10.3 1-11.9 1-11.3 1-11.3 1-11.2 1-5.9 1-1.1 1 5.4 1 10 1 13.7 1 12.9 1 13.4 1 10.5 1 5.1 1-.8 1-4.8 1-13.5 1-9.4 1-20.4 1-40 1-33.4 1-29.8 1-22.6 1-18.8 1-14 1-9.1 1-5.1 1-2 1-.1 1-.9 1 4.4 1 8.1 1 17.2 1 19.8 1 21.5 1 31.3 1 24.5 1 22.9 1 24 1 25 1 17.9 1 13.6 1 8.6 1 3 1-2.3 1-6.4 1-8.1 1-7.6 1-6.1 1-4.3 1-2.6 1-.2 1 2.3 1 4 1 4.7 1 4.1 1 3.6 1 2.5 1 2"/>
<path stroke="#d6ff29" d="M0 436.2l1-.4 1-.3 1-.3 1-.3 1-.3 1-.3 1-.4 1-.4 1-.1 1 .1 1 .1 1 .6 1 .7 1 .2 1-.1 1-.4 1-.5 1-.1 1 0 1 0 1-.4 1-3.6 1-5.6 1-2.1 1-13.8 1-13.3 1-12.6 1-10.6 1-5.9 1 .1 1 1 1-.1 1 0 1 2.2 1 4.8 1 3.6 1 6.4 1 7.7 1 12.6 1 13.7 1 10.6 1 6.1 1 2.4 1 0 1-.1 1-.2 1-.2 1-.3 1-.2 1-.2 1-.2 1-.2 1-.1 1-.2 1-.1 1-.2 1-.1 1-.1 1-.1 1-.1 1 0 1-.1"/>
<path stroke="#d5002a" d="M0 601.6l1-5.6 1-7.3 1-9 1-10.5 1-12 1-11.3 1-11.5 1-11.3 1-5.9 1-1.1 1 5.4 1 10.1 1 13.8 1 13.1 1 13.6 1 10.6 1 5.2 1-.8 1-4.7 1-13.7 1-9.6 1-20.7 1-40.3 1-33.7 1-30.2 1-22.9 1-19 1-14 1-9.1 1-5 1-2 1 0 1-1 1 4.4 1 8 1 17.3 1 19.9 1 21.7 1 31.6 1 24.8 1 23.3 1 24.2 1 25.3 1 18.1 1 13.7 1 8.6 1 3.1 1-2.3 1-6.6 1-8.2 1-7.8 1-6.1 1-4.3 1-2.7 1-.1 1 2.2 1 4 1 4.7 1 4.1 1 3.6 1 2.5 1 2"/>
<path stroke="#d5ff2a" d="M0 436.2l1-.3 1-.4 1-.3 1-.3 1-.3 1-.3 1-.4 1-.4 1-.1 1 .1 1 .1 1 .6 1 .7 1 .2 1-.1 1-.3 1-.5 1-.2 1 .1 1 0 1-.5 1-3.6 1-5.7 1-2.1 1-14 1-13.4 1-12.8 1-10.6 1-6 1 .1 1 1 1-.1 1 0 1 2.3 1 4.7 1 3.7 1 6.4 1 7.8 1 12.8 1 13.9 1 10.6 1 6.2 1 2.4 1 .1 1-.2 1-.1 1-.3 1-.3 1-.2 1-.2 1-.2 1-.1 1-.2 1-.2 1-.1 1-.1 1-.2 1-.1 1-.1 1-.1 1 0 1-.1"/>
<path stroke="#d4002a" d="M0 602.2l1-5.7 1-7.4 1-9.1 1-10.6 1-12.1 1-11.4 1-11.5 1-11.5 1-5.9 1-1.2 1 5.5 1 10.2 1 13.8 1 13.4 1 13.7 1 10.8 1 5.3 1-.7 1-4.8 1-13.8 1-9.7 1-21.1 1-40.5 1-34.2 1-30.5 1-23.2 1-19.1 1-14.1 1-9 1-4.9 1-2 1 0 1-1 1 4.3 1 8 1 17.3 1 20 1 21.9 1 31.8 1 25.2 1 23.6 1 24.6 1 25.4 1 18.3 1 13.8 1 8.8 1 3.1 1-2.4 1-6.6 1-8.4 1-7.9 1-6.2 1-4.4 1-2.7 1-.1 1 2.3 1 3.9 1 4.7 1 4.1 1 3.5 1 2.6 1 2"/>
<path stroke="#d4ff2a" d="M0 436.2l1-.3 1-.4 1-.3 1-.3 1-.3 1-.3 1-.5 1-.3 1-.1 1 .1 1 .1 1 .6 1 .7 1 .3 1-.1 1-.4 1-.4 1-.2 1 0 1 0 1-.5 1-3.6 1-5.8 1-2.2 1-14.1 1-13.5 1-12.9 1-10.8 1-6 1 .1 1 1 1-.1 1 0 1 2.3 1 4.8 1 3.7 1 6.5 1 7.9 1 12.8 1 14.1 1 10.8 1 6.3 1 2.4 1 0 1-.1 1-.2 1-.3 1-.3 1-.2 1-.2 1-.2 1-.1 1-.2 1-.1 1-.2 1-.1 1-.2 1-.1 1-.1 1-.1 1 0 1-.1"/>
<path stroke="#d4002b" d="M0 602.8l1-5.8 1-7.5 1-9.2 1-10.7 1-12.2 1-11.5 1-11.6 1-11.5 1-6 1-1.2 1 5.5 1 10.3 1 13.9 1 13.6 1 13.9 1 10.9 1 5.4 1-.7 1-4.8 1-13.9 1-9.9 1-21.4 1-40.8 1-34.6 1-30.9 1-23.4 1-19.3 1-14.1 1-9 1-4.8 1-2 1 0 1-1 1 4.3 1 8 1 17.3 1 20.1 1 22.2 1 32 1 25.5 1 23.9 1 24.9 1 25.7 1 18.4 1 14 1 8.9 1 3.1 1-2.4 1-6.8 1-8.5 1-8 1-6.3 1-4.4 1-2.7 1-.2 1 2.3 1 3.9 1 4.7 1 4.1 1 3.5 1 2.6 1 2"/>
<path stroke="#d4ff2b" d="M0 436.2l1-.3 1-.4 1-.3 1-.3 1-.3 1-.3 1-.5 1-.3 1-.1 1 .1 1 .1 1 .5 1 .8 1 .3 1-.1 1-.3 1-.5 1-.1 1 0 1 0 1-.5 1-3.7 1-5.9 1-2.2 1-14.3 1-13.7 1-13 1-10.8 1-6.1 1 .1 1 1 1-.1 1 0 1 2.3 1 4.9 1 3.7 1 6.6 1 7.9 1 13 1 14.2 1 10.9 1 6.4 1 2.4 1 0 1-.1 1-.2 1-.3 1-.2 1-.3 1-.2 1-.1 1-.2 1-.2 1-.1 1-.2 1-.1 1-.2 1-.1 1-.1 1-.1 1 0 1-.1"/>
<path stroke="#d3002c" d="M0 603.4l1-5.9 1-7.5 1-9.4 1-10.8 1-12.3 1-11.6 1-11.7 1-11.5 1-6.1 1-1.2 1 5.5 1 10.4 1 14.1 1 13.7 1 14.1 1 11 1 5.5 1-.7 1-4.8 1-14 1-10.1 1-21.7 1-41.1 1-34.9 1-31.3 1-23.7 1-19.4 1-14.2 1-9 1-4.7 1-1.9 1 0 1-1 1 4.2 1 8 1 17.3 1 20.2 1 22.4 1 32.3 1 25.8 1 24.3 1 25.1 1 25.9 1 18.7 1 14.1 1 8.9 1 3.2 1-2.4 1-6.9 1-8.7 1-8.1 1-6.4 1-4.5 1-2.7 1-.2 1 2.3 1 3.9 1 4.6 1 4.1 1 3.6 1 2.6 1 2"/>
<path stroke="#d3ff2c" d="M0 436.3l1-.4 1-.3 1-.4 1-.3 1-.3 1-.3 1-.5 1-.3 1-.1 1 0 1 .2 1 .5 1 .8 1 .3 1 0 1-.4 1-.4 1-.2 1 .1 1-.1 1-.5 1-3.8 1-5.9 1-2.3 1-14.4 1-13.8 1-13.1 1-11 1-6.1 1 .1 1 1 1-.1 1 0 1 2.4 1 4.9 1 3.8 1 6.5 1 8.1 1 13.1 1 14.3 1 11 1 6.5 1 2.4 1 .1 1-.2 1-.1 1-.3 1-.3 1-.2 1-.2 1-.2 1-.2 1-.2 1-.1 1-.2 1-.1 1-.2 1-.1 1-.1 1-.1 1 0 1-.1"/>
<path stroke="#d3002c" d="M0 604l1-6 1-7.6 1-9.5 1-10.8 1-12.4 1-11.8 1-11.7 1-11.7 1-6.1 1-1.2 1 5.5 1 10.4 1 14.3 1 13.8 1 14.3 1 11.2 1 5.6 1-.6 1-4.9 1-14 1-10.3 1-22.1 1-41.3 1-35.3 1-31.7 1-24 1-19.6 1-14.2 1-8.9 1-4.6 1-1.9 1 0 1-1.1 1 4.3 1 7.9 1 17.3 1 20.4 1 22.5 1 32.6 1 26.1 1 24.6 1 25.5 1 26 1 18.9 1 14.2 1 9.1 1 3.1 1-2.4 1-7 1-8.8 1-8.3 1-6.4 1-4.5 1-2.8 1-.2 1 2.3 1 3.9 1 4.6 1 4.1 1 3.6 1 2.5 1 2.1"/>
<path stroke="#d3ff2c" d="M0 436.3l1-.4 1-.3 1-.4 1-.3 1-.3 1-.3 1-.5 1-.4 1 0 1 0 1 .2 1 .5 1 .8 1 .3 1 0 1-.3 1-.5 1-.1 1 0 1 0 1-.5 1-3.9 1-6 1-2.3 1-14.6 1-13.9 1-13.3 1-11 1-6.2 1 .1 1 1.1 1-.2 1 .1 1 2.3 1 4.9 1 3.9 1 6.6 1 8.1 1 13.3 1 14.5 1 11.1 1 6.5 1 2.5 1 0 1-.1 1-.2 1-.3 1-.3 1-.2 1-.2 1-.2 1-.2 1-.2 1-.1 1-.2 1-.1 1-.2 1-.1 1-.1 1-.1 1 0 1-.1"/>
<path stroke="#d2002d" d="M0 604.6l1-6 1-7.8 1-9.6 1-10.9 1-12.5 1-11.9 1-11.8 1-11.7 1-6.1 1-1.3 1 5.5 1 10.5 1 14.4 1 14 1 14.5 1 11.3 1 5.7 1-.6 1-4.9 1-14.1 1-10.5 1-22.4 1-41.6 1-35.7 1-32 1-24.2 1-19.8 1-14.3 1-8.8 1-4.6 1-1.8 1 0 1-1.1 1 4.2 1 7.9 1 17.4 1 20.4 1 22.8 1 32.8 1 26.4 1 24.9 1 25.8 1 26.3 1 19 1 14.4 1 9.1 1 3.2 1-2.4 1-7.2 1-8.9 1-8.4 1-6.5 1-4.6 1-2.8 1-.1 1 2.2 1 3.9 1 4.6 1 4.1 1 3.6 1 2.5 1 2.1"/>
<path stroke="#d2ff2d" d="M0 436.3l1-.4 1-.3 1-.4 1-.3 1-.3 1-.3 1-.5 1-.4 1 0 1 0 1 .1 1 .6 1 .8 1 .3 1 0 1-.3 1-.4 1-.2 1 .1 1-.1 1-.5 1-3.9 1-6.1 1-2.3 1-14.8 1-14 1-13.4 1-11.2 1-6.2 1 .1 1 1.1 1-.1 1 0 1 2.3 1 5 1 3.9 1 6.7 1 8.2 1 13.4 1 14.6 1 11.2 1 6.6 1 2.5 1 0 1-.1 1-.2 1-.3 1-.3 1-.2 1-.2 1-.2 1-.2 1-.1 1-.2 1-.2 1-.1 1-.2 1-.1 1-.1 1-.1 1-.1 1 0"/>
<path stroke="#d2002d" d="M0 605.2l1-6.1 1-7.9 1-9.7 1-11 1-12.6 1-11.9 1-12 1-11.8 1-6.1 1-1.3 1 5.5 1 10.6 1 14.5 1 14.2 1 14.7 1 11.4 1 5.8 1-.6 1-4.9 1-14.2 1-10.6 1-22.8 1-41.9 1-36 1-32.4 1-24.5 1-19.9 1-14.3 1-8.8 1-4.5 1-1.8 1 0 1-1.1 1 4.2 1 7.9 1 17.3 1 20.6 1 23 1 33 1 26.7 1 25.3 1 26.1 1 26.4 1 19.3 1 14.5 1 9.2 1 3.2 1-2.5 1-7.2 1-9.1 1-8.5 1-6.6 1-4.6 1-2.8 1-.2 1 2.2 1 3.9 1 4.6 1 4.1 1 3.5 1 2.6 1 2.1"/>
<path stroke="#d2ff2d" d="M0 436.3l1-.4 1-.3 1-.3 1-.4 1-.3 1-.3 1-.5 1-.4 1-.1 1 .1 1 .1 1 .6 1 .8 1 .4 1 0 1-.3 1-.5 1-.1 1 0 1 0 1-.6 1-3.9 1-6.2 1-2.4 1-14.8 1-14.3 1-13.5 1-11.2 1-6.3 1 .2 1 1 1-.1 1 0 1 2.4 1 5 1 3.9 1 6.8 1 8.2 1 13.6 1 14.7 1 11.4 1 6.6 1 2.5 1 .1 1-.2 1-.2 1-.2 1-.3 1-.3 1-.2 1-.2 1-.2 1-.1 1-.2 1-.2 1-.1 1-.2 1-.1 1-.1 1-.1 1-.1 1 0"/>
<path stroke="#d1002e" d="M0 605.8l1-6.2 1-8 1-9.8 1-11.1 1-12.7 1-12 1-12 1-11.9 1-6.2 1-1.3 1 5.5 1 10.7 1 14.6 1 14.4 1 14.8 1 11.6 1 5.9 1-.5 1-5 1-14.3 1-10.8 1-23.1 1-42.1 1-36.4 1-32.8 1-24.7 1-20.1 1-14.3 1-8.8 1-4.4 1-1.7 1-.1 1-1.1 1 4.1 1 7.9 1 17.4 1 20.6 1 23.2 1 33.4 1 26.9 1 25.6 1 26.4 1 26.7 1 19.4 1 14.6 1 9.4 1 3.2 1-2.5 1-7.4 1-9.2 1-8.6 1-6.7 1-4.6 1-2.9 1-.2 1 2.2 1 3.9 1 4.6 1 4 1 3.6 1 2.6 1 2.1"/>
<path stroke="#d1ff2e" d="M0 436.3l1-.3 1-.4 1-.3 1-.3 1-.4 1-.3 1-.5 1-.4 1-.1 1 .1 1 .1 1 .6 1 .8 1 .4 1 0 1-.3 1-.4 1-.2 1 .1 1-.1 1-.5 1-4.1 1-6.2 1-2.4 1-15 1-14.4 1-13.6 1-11.3 1-6.4 1 .2 1 1.1 1-.2 1 0 1 2.4 1 5.1 1 3.9 1 6.9 1 8.3 1 13.7 1 14.9 1 11.4 1 6.7 1 2.6 1 0 1-.1 1-.2 1-.3 1-.3 1-.3 1-.2 1-.2 1-.2 1-.1 1-.2 1-.2 1-.1 1-.1 1-.2 1-.1 1-.1 1-.1 1 0"/>
<path stroke="#d1002e" d="M0 606.4l1-6.3 1-8.1 1-9.9 1-11.2 1-12.8 1-12.1 1-12.1 1-11.9 1-6.3 1-1.3 1 5.5 1 10.8 1 14.7 1 14.6 1 15 1 11.7 1 6 1-.5 1-4.9 1-14.5 1-11 1-23.4 1-42.4 1-36.8 1-33.1 1-25 1-20.2 1-14.4 1-8.7 1-4.3 1-1.7 1 0 1-1.2 1 4.1 1 7.8 1 17.4 1 20.8 1 23.4 1 33.6 1 27.3 1 25.9 1 26.6 1 26.9 1 19.6 1 14.8 1 9.4 1 3.3 1-2.6 1-7.5 1-9.3 1-8.8 1-6.7 1-4.7 1-2.9 1-.2 1 2.3 1 3.8 1 4.5 1 4.1 1 3.6 1 2.6 1 2.1"/>
<path stroke="#d1ff2e" d="M0 436.4l1-.4 1-.4 1-.3 1-.3 1-.4 1-.3 1-.5 1-.4 1-.1 1 .1 1 .1 1 .6 1 .8 1 .4 1 .1 1-.3 1-.5 1-.1 1 0 1 0 1-.6 1-4.1 1-6.3 1-2.4 1-15.2 1-14.5 1-13.8 1-11.4 1-6.3 1 .1 1 1.1 1-.2 1 .1 1 2.4 1 5.1 1 3.9 1 7 1 8.4 1 13.8 1 15 1 11.5 1 6.8 1 2.6 1 0 1-.1 1-.2 1-.3 1-.3 1-.2 1-.3 1-.2 1-.1 1-.2 1-.2 1-.1 1-.2 1-.1 1-.2 1-.1 1-.1 1-.1 1 0"/>
<path stroke="#d0002f" d="M0 607l1-6.4 1-8.1 1-10.1 1-11.3 1-12.9 1-12.2 1-12.2 1-12 1-6.3 1-1.3 1 5.6 1 10.8 1 14.8 1 14.8 1 15.2 1 11.8 1 6.1 1-.5 1-4.9 1-14.6 1-11.1 1-23.8 1-42.6 1-37.2 1-33.5 1-25.2 1-20.4 1-14.4 1-8.7 1-4.2 1-1.6 1-.1 1-1.1 1 4 1 7.8 1 17.4 1 20.9 1 23.6 1 33.8 1 27.6 1 26.2 1 27 1 27.1 1 19.8 1 14.8 1 9.6 1 3.3 1-2.6 1-7.6 1-9.5 1-8.9 1-6.8 1-4.7 1-3 1-.2 1 2.3 1 3.8 1 4.5 1 4.1 1 3.6 1 2.6 1 2.1"/>
<path stroke="#d0ff2f" d="M0 436.4l1-.4 1-.4 1-.3 1-.3 1-.4 1-.3 1-.5 1-.4 1-.1 1 .1 1 .1 1 .6 1 .8 1 .4 1 .1 1-.3 1-.4 1-.2 1 .1 1-.1 1-.5 1-4.2 1-6.4 1-2.5 1-15.3 1-14.6 1-13.9 1-11.5 1-6.4 1 .2 1 1 1-.1 1 0 1 2.4 1 5.2 1 4 1 7 1 8.5 1 13.9 1 15.1 1 11.7 1 6.8 1 2.6 1 .1 1-.2 1-.2 1-.3 1-.3 1-.2 1-.2 1-.2 1-.2 1-.2 1-.2 1-.1 1-.2 1-.1 1-.2 1-.1 1-.1 1-.1 1 0"/>
<path stroke="#cf0030" d="M0 607.6l1-6.5 1-8.2 1-10.1 1-11.5 1-12.9 1-12.4 1-12.2 1-12.1 1-6.4 1-1.3 1 5.6 1 11 1 14.8 1 14.9 1 15.4 1 12 1 6.2 1-.4 1-5 1-14.7 1-11.3 1-24.1 1-42.9 1-37.5 1-33.9 1-25.5 1-20.5 1-14.5 1-8.6 1-4.1 1-1.6 1 0 1-1.2 1 4 1 7.8 1 17.4 1 21 1 23.7 1 34.1 1 27.9 1 26.5 1 27.3 1 27.3 1 20 1 15 1 9.6 1 3.4 1-2.7 1-7.7 1-9.6 1-9 1-6.9 1-4.8 1-2.9 1-.2 1 2.2 1 3.8 1 4.5 1 4 1 3.6 1 2.7 1 2.1"/>
<path stroke="#cfff30" d="M0 436.4l1-.4 1-.4 1-.3 1-.3 1-.4 1-.3 1-.5 1-.4 1-.1 1 0 1 .2 1 .6 1 .8 1 .4 1 .1 1-.2 1-.5 1-.1 1 0 1 0 1-.6 1-4.2 1-6.5 1-2.5 1-15.4 1-14.8 1-14 1-11.6 1-6.5 1 .2 1 1.1 1-.2 1 .1 1 2.4 1 5.2 1 4 1 7.1 1 8.5 1 14.1 1 15.3 1 11.7 1 6.9 1 2.7 1 0 1-.2 1-.1 1-.3 1-.4 1-.2 1-.2 1-.2 1-.2 1-.2 1-.2 1-.1 1-.2 1-.1 1-.2 1-.1 1-.1 1-.1 1 0"/>
<path stroke="#cf0030" d="M0 608.2l1-6.6 1-8.3 1-10.2 1-11.6 1-13 1-12.4 1-12.4 1-12.1 1-6.4 1-1.4 1 5.6 1 11.1 1 14.9 1 15.1 1 15.6 1 12.1 1 6.2 1-.3 1-5 1-14.8 1-11.5 1-24.4 1-43.1 1-37.9 1-34.3 1-25.7 1-20.7 1-14.5 1-8.6 1-4 1-1.5 1 0 1-1.3 1 4 1 7.7 1 17.4 1 21.1 1 24 1 34.4 1 28.1 1 26.9 1 27.5 1 27.6 1 20.1 1 15.1 1 9.8 1 3.4 1-2.8 1-7.8 1-9.8 1-9 1-7 1-4.8 1-3 1-.2 1 2.2 1 3.8 1 4.5 1 4 1 3.6 1 2.6 1 2.2"/>
<path stroke="#cfff30" d="M0 436.4l1-.4 1-.4 1-.3 1-.3 1-.4 1-.4 1-.5 1-.4 1 0 1 0 1 .2 1 .6 1 .8 1 .5 1 .1 1-.3 1-.4 1-.2 1 .1 1 0 1-.7 1-4.3 1-6.5 1-2.5 1-15.6 1-14.9 1-14.2 1-11.6 1-6.5 1 .1 1 1.1 1-.1 1 0 1 2.5 1 5.2 1 4 1 7.2 1 8.6 1 14.2 1 15.4 1 11.9 1 6.9 1 2.7 1 0 1-.1 1-.2 1-.3 1-.3 1-.3 1-.2 1-.2 1-.2 1-.2 1-.2 1-.1 1-.2 1-.1 1-.2 1-.1 1-.1 1-.1 1 0"/>
<path stroke="#ce0031" d="M0 608.8l1-6.7 1-8.4 1-10.3 1-11.7 1-13.1 1-12.5 1-12.5 1-12.2 1-6.4 1-1.4 1 5.6 1 11.2 1 15 1 15.3 1 15.8 1 12.2 1 6.3 1-.3 1-5 1-14.8 1-11.7 1-24.8 1-43.4 1-38.3 1-34.6 1-26 1-20.8 1-14.5 1-8.6 1-3.9 1-1.4 1-.1 1-1.2 1 3.9 1 7.7 1 17.4 1 21.2 1 24.2 1 34.6 1 28.5 1 27.1 1 27.9 1 27.7 1 20.3 1 15.3 1 9.8 1 3.4 1-2.7 1-8 1-9.9 1-9.2 1-7 1-4.9 1-3 1-.2 1 2.2 1 3.8 1 4.5 1 4 1 3.6 1 2.6 1 2.2"/>
<path stroke="#ceff31" d="M0 436.4l1-.4 1-.3 1-.4 1-.3 1-.4 1-.4 1-.5 1-.4 1-.1 1 .1 1 .2 1 .6 1 .8 1 .5 1 .1 1-.2 1-.4 1-.2 1 .1 1-.1 1-.6 1-4.4 1-6.6 1-2.6 1-15.7 1-15 1-14.3 1-11.8 1-6.5 1 .2 1 1.1 1-.2 1 .1 1 2.4 1 5.3 1 4.1 1 7.2 1 8.7 1 14.3 1 15.5 1 12 1 7 1 2.7 1 .1 1-.2 1-.2 1-.3 1-.3 1-.3 1-.2 1-.2 1-.2 1-.2 1-.1 1-.2 1-.2 1-.1 1-.2 1-.1 1-.1 1-.1 1 0"/>
<path stroke="#ce0031" d="M0 609.3l1-6.7 1-8.5 1-10.4 1-11.7 1-13.3 1-12.6 1-12.5 1-12.3 1-6.5 1-1.4 1 5.7 1 11.2 1 15.1 1 15.5 1 15.9 1 12.4 1 6.4 1-.3 1-5 1-14.9 1-11.9 1-25.1 1-43.6 1-38.7 1-35 1-26.2 1-21 1-14.5 1-8.5 1-3.8 1-1.4 1-.1 1-1.2 1 3.8 1 7.7 1 17.4 1 21.3 1 24.4 1 34.8 1 28.8 1 27.5 1 28.1 1 27.9 1 20.5 1 15.4 1 9.9 1 3.5 1-2.8 1-8 1-10.1 1-9.3 1-7.1 1-4.9 1-3.1 1-.2 1 2.2 1 3.8 1 4.4 1 4 1 3.7 1 2.6 1 2.2"/>
<path stroke="#ceff31" d="M0 436.5l1-.4 1-.4 1-.4 1-.3 1-.4 1-.4 1-.5 1-.4 1-.1 1 .1 1 .1 1 .7 1 .8 1 .5 1 .2 1-.3 1-.4 1-.1 1 0 1 0 1-.7 1-4.4 1-6.7 1-2.6 1-15.9 1-15.1 1-14.4 1-11.9 1-6.5 1 .1 1 1.2 1-.2 1 0 1 2.5 1 5.3 1 4.1 1 7.3 1 8.8 1 14.4 1 15.7 1 12 1 7.1 1 2.7 1 .1 1-.2 1-.2 1-.3 1-.3 1-.2 1-.3 1-.2 1-.2 1-.2 1-.1 1-.2 1-.2 1-.1 1-.2 1-.1 1-.1 1-.1 1 0"/>
<path stroke="#cd0032" d="M0 609.9l1-6.8 1-8.6 1-10.5 1-11.8 1-13.4 1-12.7 1-12.6 1-12.3 1-6.5 1-1.5 1 5.7 1 11.3 1 15.2 1 15.7 1 16.1 1 12.5 1 6.5 1-.2 1-5.1 1-15 1-12.1 1-25.4 1-43.9 1-39 1-35.4 1-26.5 1-21.1 1-14.5 1-8.5 1-3.7 1-1.3 1-.1 1-1.2 1 3.8 1 7.6 1 17.4 1 21.4 1 24.6 1 35.1 1 29.1 1 27.7 1 28.5 1 28.1 1 20.6 1 15.5 1 10.1 1 3.5 1-2.9 1-8.1 1-10.2 1-9.4 1-7.2 1-5 1-3.1 1-.2 1 2.2 1 3.8 1 4.4 1 4 1 3.6 1 2.7 1 2.2"/>
<path stroke="#cdff32" d="M0 436.5l1-.4 1-.4 1-.4 1-.3 1-.4 1-.4 1-.5 1-.4 1-.1 1 .1 1 .1 1 .7 1 .8 1 .5 1 .2 1-.2 1-.4 1-.2 1 .1 1-.1 1-.6 1-4.5 1-6.8 1-2.6 1-16 1-15.3 1-14.5 1-12 1-6.6 1 .2 1 1.1 1-.1 1 0 1 2.5 1 5.3 1 4.2 1 7.3 1 8.8 1 14.6 1 15.8 1 12.2 1 7.1 1 2.8 1 0 1-.1 1-.2 1-.3 1-.4 1-.2 1-.2 1-.3 1-.2 1-.1 1-.2 1-.2 1-.2 1-.1 1-.2 1-.1 1-.1 1-.1 1 0"/>
<path stroke="#cd0032" d="M0 610.5l1-6.9 1-8.7 1-10.6 1-11.9 1-13.5 1-12.7 1-12.7 1-12.4 1-6.6 1-1.5 1 5.7 1 11.4 1 15.4 1 15.8 1 16.3 1 12.6 1 6.6 1-.2 1-5.1 1-15.1 1-12.3 1-25.7 1-44.1 1-39.4 1-35.8 1-26.7 1-21.3 1-14.5 1-8.4 1-3.6 1-1.3 1 0 1-1.3 1 3.7 1 7.6 1 17.4 1 21.5 1 24.8 1 35.3 1 29.4 1 28.1 1 28.7 1 28.3 1 20.9 1 15.6 1 10.1 1 3.5 1-2.8 1-8.3 1-10.3 1-9.6 1-7.2 1-5 1-3.1 1-.3 1 2.2 1 3.7 1 4.5 1 4 1 3.6 1 2.7 1 2.2"/>
<path stroke="#cdff32" d="M0 436.5l1-.4 1-.4 1-.4 1-.3 1-.4 1-.4 1-.5 1-.4 1-.1 1 .1 1 .1 1 .7 1 .8 1 .5 1 .2 1-.2 1-.4 1-.1 1 0 1 0 1-.7 1-4.6 1-6.8 1-2.6 1-16.2 1-15.4 1-14.6 1-12.1 1-6.6 1 .2 1 1.1 1-.2 1 .1 1 2.5 1 5.3 1 4.2 1 7.4 1 8.9 1 14.7 1 15.9 1 12.3 1 7.2 1 2.8 1 0 1-.1 1-.2 1-.3 1-.3 1-.3 1-.2 1-.2 1-.2 1-.2 1-.2 1-.2 1-.2 1-.1 1-.2 1-.1 1-.1 1-.1 1 0"/>
<path stroke="#cc0033" d="M0 611.1l1-7 1-8.8 1-10.7 1-12 1-13.6 1-12.8 1-12.8 1-12.5 1-6.6 1-1.5 1 5.8 1 11.4 1 15.5 1 16 1 16.4 1 12.8 1 6.6 1-.1 1-5.1 1-15.3 1-12.3 1-26.1 1-44.4 1-39.8 1-36.1 1-27 1-21.4 1-14.5 1-8.3 1-3.6 1-1.2 1 0 1-1.3 1 3.7 1 7.5 1 17.4 1 21.6 1 25 1 35.6 1 29.6 1 28.4 1 29 1 28.5 1 21.1 1 15.7 1 10.2 1 3.6 1-2.9 1-8.4 1-10.5 1-9.6 1-7.4 1-5 1-3.1 1-.3 1 2.2 1 3.7 1 4.5 1 3.9 1 3.7 1 2.7 1 2.2"/>
<path stroke="#ccff33" d="M0 436.5l1-.4 1-.4 1-.4 1-.3 1-.4 1-.4 1-.5 1-.4 1-.1 1 .1 1 .1 1 .7 1 .8 1 .6 1 .2 1-.2 1-.4 1-.2 1 .1 1 0 1-.7 1-4.7 1-6.9 1-2.7 1-16.3 1-15.5 1-14.7 1-12.2 1-6.7 1 .2 1 1.2 1-.2 1 0 1 2.6 1 5.4 1 4.2 1 7.4 1 9 1 14.8 1 16.1 1 12.4 1 7.2 1 2.8 1 .1 1-.2 1-.2 1-.3 1-.3 1-.3 1-.2 1-.2 1-.2 1-.2 1-.2 1-.2 1-.2 1-.1 1-.2 1-.1 1-.1 1-.1 1 0"/>
<path stroke="#cb0034" d="M0 611.6l1-7 1-8.9 1-10.8 1-12.1 1-13.6 1-13 1-12.8 1-12.6 1-6.6 1-1.5 1 5.7 1 11.5 1 15.6 1 16.1 1 16.7 1 12.8 1 6.8 1-.1 1-5.2 1-15.3 1-12.5 1-26.4 1-44.6 1-40.2 1-36.5 1-27.2 1-21.5 1-14.6 1-8.2 1-3.5 1-1.1 1-.1 1-1.3 1 3.6 1 7.6 1 17.4 1 21.7 1 25.1 1 35.9 1 29.9 1 28.7 1 29.3 1 28.6 1 21.3 1 15.8 1 10.3 1 3.6 1-2.9 1-8.5 1-10.6 1-9.8 1-7.4 1-5 1-3.2 1-.3 1 2.2 1 3.7 1 4.4 1 4 1 3.6 1 2.7 1 2.3"/>
<path stroke="#cbff34" d="M0 436.5l1-.4 1-.4 1-.4 1-.3 1-.4 1-.4 1-.5 1-.4 1-.1 1 0 1 .2 1 .7 1 .8 1 .6 1 .2 1-.1 1-.5 1-.1 1 0 1 0 1-.7 1-4.7 1-7 1-2.7 1-16.4 1-15.7 1-14.9 1-12.1 1-6.8 1 .2 1 1.2 1-.2 1 0 1 2.6 1 5.4 1 4.3 1 7.4 1 9.1 1 14.9 1 16.2 1 12.5 1 7.3 1 2.9 1 0 1-.1 1-.2 1-.4 1-.3 1-.3 1-.2 1-.2 1-.2 1-.2 1-.2 1-.2 1-.2 1-.1 1-.1 1-.2 1-.1 1-.1 1 0"/>
<path stroke="#cb0034" d="M0 612.2l1-7.1 1-9 1-10.9 1-12.2 1-13.7 1-13 1-13 1-12.6 1-6.7 1-1.5 1 5.7 1 11.6 1 15.7 1 16.3 1 16.8 1 13 1 6.9 1-.1 1-5.2 1-15.4 1-12.7 1-26.7 1-44.8 1-40.6 1-36.9 1-27.4 1-21.7 1-14.6 1-8.1 1-3.4 1-1.1 1 0 1-1.4 1 3.6 1 7.5 1 17.4 1 21.8 1 25.4 1 36 1 30.2 1 29 1 29.6 1 28.9 1 21.4 1 16 1 10.4 1 3.6 1-3 1-8.6 1-10.7 1-9.9 1-7.5 1-5.1 1-3.2 1-.2 1 2.1 1 3.7 1 4.4 1 4 1 3.6 1 2.7 1 2.2"/>
<path stroke="#cbff34" d="M0 436.6l1-.5 1-.4 1-.4 1-.3 1-.4 1-.4 1-.5 1-.5 1 0 1 0 1 .2 1 .7 1 .8 1 .6 1 .3 1-.2 1-.4 1-.2 1 .1 1 0 1-.7 1-4.8 1-7.1 1-2.7 1-16.6 1-15.8 1-15 1-12.2 1-6.8 1 .2 1 1.1 1-.1 1 0 1 2.6 1 5.4 1 4.3 1 7.6 1 9.1 1 15 1 16.4 1 12.6 1 7.4 1 2.8 1 0 1-.1 1-.2 1-.3 1-.4 1-.2 1-.3 1-.2 1-.2 1-.2 1-.2 1-.2 1-.1 1-.2 1-.1 1-.2 1-.1 1-.1 1 0"/>
<path stroke="#ca0035" d="M0 612.8l1-7.2 1-9.1 1-11 1-12.3 1-13.8 1-13.1 1-13 1-12.7 1-6.8 1-1.5 1 5.8 1 11.7 1 15.7 1 16.5 1 17 1 13.1 1 6.9 1 0 1-5.2 1-15.5 1-12.9 1-27 1-45.1 1-40.9 1-37.2 1-27.7 1-21.8 1-14.6 1-8.1 1-3.2 1-1.1 1 0 1-1.4 1 3.5 1 7.5 1 17.4 1 21.9 1 25.5 1 36.3 1 30.5 1 29.3 1 29.8 1 29.1 1 21.5 1 16.2 1 10.5 1 3.6 1-3 1-8.7 1-10.8 1-10.1 1-7.5 1-5.2 1-3.2 1-.2 1 2.1 1 3.7 1 4.4 1 3.9 1 3.7 1 2.7 1 2.2"/>
<path stroke="#caff35" d="M0 436.6l1-.5 1-.4 1-.3 1-.4 1-.4 1-.4 1-.5 1-.5 1-.1 1 .1 1 .2 1 .6 1 1 1 .5 1 .3 1-.1 1-.4 1-.2 1 .1 1-.1 1-.7 1-4.8 1-7.2 1-2.8 1-16.6 1-16 1-15.1 1-12.3 1-6.8 1 .2 1 1.1 1-.1 1 0 1 2.6 1 5.5 1 4.3 1 7.6 1 9.2 1 15.1 1 16.5 1 12.7 1 7.5 1 2.8 1 .1 1-.2 1-.2 1-.3 1-.4 1-.2 1-.3 1-.2 1-.2 1-.2 1-.2 1-.2 1-.1 1-.2 1-.1 1-.2 1-.1 1-.1 1 0"/>
<path stroke="#ca0035" d="M0 613.3l1-7.3 1-9.1 1-11.1 1-12.4 1-13.9 1-13.2 1-13.1 1-12.7 1-6.8 1-1.6 1 5.8 1 11.8 1 15.8 1 16.7 1 17.1 1 13.3 1 7 1 0 1-5.2 1-15.6 1-13.1 1-27.3 1-45.3 1-41.3 1-37.6 1-27.9 1-22 1-14.6 1-8 1-3.1 1-1 1-.1 1-1.3 1 3.4 1 7.4 1 17.4 1 22 1 25.7 1 36.6 1 30.8 1 29.5 1 30.2 1 29.2 1 21.7 1 16.3 1 10.6 1 3.6 1-3 1-8.8 1-11 1-10.1 1-7.6 1-5.2 1-3.3 1-.2 1 2.1 1 3.7 1 4.3 1 4 1 3.6 1 2.8 1 2.2"/>
<path stroke="#caff35" d="M0 436.6l1-.4 1-.5 1-.3 1-.4 1-.4 1-.4 1-.5 1-.5 1-.1 1 .1 1 .1 1 .7 1 1 1 .6 1 .3 1-.2 1-.4 1-.1 1 0 1 0 1-.8 1-4.9 1-7.2 1-2.8 1-16.8 1-16.1 1-15.2 1-12.4 1-6.8 1 .2 1 1.1 1-.1 1 0 1 2.6 1 5.5 1 4.4 1 7.6 1 9.3 1 15.3 1 16.6 1 12.8 1 7.5 1 2.9 1 0 1-.1 1-.3 1-.3 1-.3 1-.3 1-.2 1-.3 1-.2 1-.2 1-.2 1-.2 1-.1 1-.2 1-.1 1-.2 1-.1 1-.1 1 0"/>
<path stroke="#c90036" d="M0 613.9l1-7.4 1-9.2 1-11.2 1-12.5 1-14 1-13.3 1-13.1 1-12.8 1-6.9 1-1.5 1 5.8 1 11.8 1 15.9 1 16.9 1 17.3 1 13.3 1 7.1 1 .1 1-5.3 1-15.6 1-13.3 1-27.6 1-45.5 1-41.7 1-37.9 1-28.2 1-22.1 1-14.6 1-7.9 1-3.1 1-.9 1-.1 1-1.4 1 3.4 1 7.4 1 17.4 1 22.1 1 25.9 1 36.8 1 31 1 29.9 1 30.4 1 29.4 1 21.9 1 16.4 1 10.7 1 3.7 1-3.1 1-8.9 1-11.1 1-10.3 1-7.6 1-5.3 1-3.3 1-.2 1 2.1 1 3.7 1 4.3 1 3.9 1 3.7 1 2.7 1 2.3"/>
<path stroke="#c9ff36" d="M0 436.6l1-.4 1-.4 1-.4 1-.4 1-.4 1-.4 1-.5 1-.5 1-.1 1 .1 1 .1 1 .7 1 1 1 .6 1 .3 1-.1 1-.4 1-.2 1 .1 1-.1 1-.7 1-5 1-7.2 1-2.9 1-17 1-16.2 1-15.3 1-12.4 1-6.9 1 .2 1 1.2 1-.2 1 0 1 2.6 1 5.6 1 4.3 1 7.8 1 9.3 1 15.4 1 16.7 1 12.9 1 7.6 1 2.9 1 0 1-.1 1-.2 1-.4 1-.3 1-.3 1-.2 1-.3 1-.2 1-.2 1-.2 1-.2 1-.1 1-.2 1-.1 1-.2 1-.1 1-.1 1 0"/>
<path stroke="#c90036" d="M0 614.4l1-7.4 1-9.4 1-11.3 1-12.5 1-14.1 1-13.3 1-13.3 1-12.8 1-6.9 1-1.6 1 5.8 1 11.9 1 16.1 1 16.9 1 17.5 1 13.5 1 7.2 1 .1 1-5.3 1-15.8 1-13.4 1-27.9 1-45.8 1-42 1-38.3 1-28.4 1-22.2 1-14.6 1-7.9 1-2.9 1-.9 1 0 1-1.5 1 3.4 1 7.3 1 17.4 1 22.2 1 26.1 1 37 1 31.3 1 30.2 1 30.6 1 29.6 1 22.1 1 16.5 1 10.7 1 3.8 1-3.1 1-9.1 1-11.2 1-10.3 1-7.8 1-5.3 1-3.3 1-.2 1 2.1 1 3.7 1 4.3 1 3.9 1 3.7 1 2.7 1 2.3"/>
<path stroke="#c9ff36" d="M0 436.6l1-.4 1-.4 1-.4 1-.4 1-.4 1-.4 1-.6 1-.4 1-.1 1 .1 1 .1 1 .7 1 1 1 .6 1 .3 1-.1 1-.4 1-.1 1 0 1 0 1-.8 1-5 1-7.3 1-2.9 1-17.1 1-16.4 1-15.3 1-12.6 1-6.9 1 .2 1 1.2 1-.2 1 0 1 2.6 1 5.6 1 4.4 1 7.8 1 9.4 1 15.5 1 16.9 1 13 1 7.6 1 2.9 1 .1 1-.2 1-.2 1-.3 1-.4 1-.3 1-.2 1-.2 1-.3 1-.2 1-.2 1-.1 1-.2 1-.2 1-.1 1-.2 1-.1 1-.1 1 0"/>
<path stroke="#c80037" d="M0 615l1-7.5 1-9.5 1-11.4 1-12.6 1-14.2 1-13.4 1-13.3 1-13 1-6.9 1-1.6 1 5.9 1 11.9 1 16.2 1 17.1 1 17.6 1 13.6 1 7.3 1 .1 1-5.2 1-15.9 1-13.5 1-28.3 1-46 1-42.4 1-38.6 1-28.7 1-22.3 1-14.6 1-7.8 1-2.9 1-.8 1 0 1-1.5 1 3.3 1 7.3 1 17.4 1 22.3 1 26.2 1 37.3 1 31.6 1 30.4 1 30.9 1 29.9 1 22.2 1 16.6 1 10.8 1 3.8 1-3.2 1-9.1 1-11.3 1-10.5 1-7.8 1-5.3 1-3.4 1-.2 1 2.1 1 3.6 1 4.3 1 4 1 3.6 1 2.8 1 2.2"/>
<path stroke="#c8ff37" d="M0 436.7l1-.5 1-.4 1-.4 1-.4 1-.4 1-.4 1-.6 1-.4 1-.1 1 .1 1 .1 1 .7 1 1 1 .6 1 .4 1-.1 1-.4 1-.2 1 .1 1 0 1-.8 1-5.1 1-7.4 1-2.9 1-17.3 1-16.4 1-15.5 1-12.7 1-6.9 1 .2 1 1.2 1-.2 1 0 1 2.7 1 5.6 1 4.4 1 7.9 1 9.5 1 15.5 1 17 1 13.1 1 7.7 1 3 1 0 1-.2 1-.2 1-.3 1-.4 1-.2 1-.3 1-.2 1-.2 1-.3 1-.1 1-.2 1-.2 1-.2 1-.1 1-.2 1-.1 1-.1 1 0"/>
<path stroke="#c70038" d="M0 615.5l1-7.6 1-9.5 1-11.5 1-12.7 1-14.2 1-13.6 1-13.4 1-13 1-6.9 1-1.6 1 5.8 1 12.1 1 16.2 1 17.3 1 17.8 1 13.7 1 7.4 1 .1 1-5.3 1-15.9 1-13.7 1-28.6 1-46.2 1-42.7 1-39 1-28.9 1-22.4 1-14.7 1-7.7 1-2.8 1-.8 1 0 1-1.5 1 3.3 1 7.3 1 17.3 1 22.4 1 26.4 1 37.5 1 31.9 1 30.7 1 31.2 1 30 1 22.3 1 16.8 1 10.9 1 3.8 1-3.2 1-9.2 1-11.5 1-10.6 1-7.8 1-5.4 1-3.4 1-.2 1 2.1 1 3.6 1 4.3 1 3.9 1 3.7 1 2.7 1 2.3"/>
<path stroke="#c7ff38" d="M0 436.7l1-.5 1-.4 1-.4 1-.4 1-.4 1-.4 1-.6 1-.4 1-.1 1 0 1 .2 1 .7 1 1 1 .6 1 .4 1-.1 1-.4 1-.1 1 0 1 0 1-.8 1-5.1 1-7.5 1-3 1-17.3 1-16.6 1-15.6 1-12.7 1-7 1 .2 1 1.2 1-.1 1 0 1 2.6 1 5.7 1 4.4 1 7.9 1 9.6 1 15.7 1 17.1 1 13.2 1 7.7 1 3 1 0 1-.1 1-.2 1-.4 1-.3 1-.3 1-.3 1-.2 1-.2 1-.2 1-.2 1-.2 1-.2 1-.2 1-.1 1-.2 1-.1 1-.1 1 0"/>
<path stroke="#c70038" d="M0 616.1l1-7.7 1-9.6 1-11.6 1-12.8 1-14.3 1-13.7 1-13.4 1-13.1 1-7 1-1.6 1 5.9 1 12.1 1 16.3 1 17.4 1 18 1 13.8 1 7.5 1 .2 1-5.3 1-16.1 1-13.8 1-28.9 1-46.4 1-43.1 1-39.3 1-29.1 1-22.6 1-14.6 1-7.7 1-2.7 1-.7 1 0 1-1.5 1 3.2 1 7.2 1 17.4 1 22.4 1 26.6 1 37.7 1 32.2 1 31 1 31.4 1 30.2 1 22.5 1 16.8 1 11.1 1 3.8 1-3.2 1-9.4 1-11.6 1-10.6 1-8 1-5.4 1-3.4 1-.2 1 2.1 1 3.6 1 4.2 1 4 1 3.6 1 2.8 1 2.3"/>
<path stroke="#c7ff38" d="M0 436.7l1-.5 1-.4 1-.4 1-.4 1-.4 1-.4 1-.6 1-.4 1-.1 1 0 1 .2 1 .7 1 1 1 .7 1 .4 1-.1 1-.4 1-.2 1 .1 1 0 1-.8 1-5.2 1-7.6 1-3 1-17.5 1-16.7 1-15.7 1-12.8 1-7 1 .2 1 1.3 1-.2 1 0 1 2.6 1 5.7 1 4.5 1 8 1 9.6 1 15.8 1 17.2 1 13.3 1 7.8 1 3 1 .1 1-.2 1-.2 1-.4 1-.3 1-.3 1-.3 1-.2 1-.2 1-.2 1-.2 1-.2 1-.2 1-.2 1-.1 1-.2 1-.1 1-.1 1 0"/>
<path stroke="#c60039" d="M0 616.6l1-7.8 1-9.7 1-11.6 1-12.9 1-14.4 1-13.7 1-13.6 1-13.1 1-7 1-1.7 1 5.9 1 12.2 1 16.4 1 17.6 1 18.1 1 14 1 7.5 1 .2 1-5.3 1-16.1 1-14 1-29.2 1-46.6 1-43.4 1-39.7 1-29.4 1-22.6 1-14.7 1-7.6 1-2.6 1-.6 1-.1 1-1.5 1 3.2 1 7.1 1 17.4 1 22.5 1 26.8 1 37.9 1 32.4 1 31.3 1 31.7 1 30.4 1 22.7 1 16.9 1 11.1 1 3.9 1-3.3 1-9.4 1-11.7 1-10.8 1-8 1-5.5 1-3.4 1-.2 1 2.1 1 3.6 1 4.2 1 3.9 1 3.7 1 2.8 1 2.3"/>
<path stroke="#c6ff39" d="M0 436.7l1-.5 1-.4 1-.4 1-.4 1-.4 1-.4 1-.6 1-.5 1-.1 1 .1 1 .2 1 .7 1 1 1 .7 1 .4 1-.1 1-.4 1-.1 1 .1 1-.1 1-.8 1-5.3 1-7.6 1-3 1-17.6 1-16.9 1-15.8 1-12.8 1-7 1 .2 1 1.2 1-.2 1 .1 1 2.6 1 5.7 1 4.5 1 8 1 9.7 1 15.9 1 17.4 1 13.4 1 7.8 1 3 1 .1 1-.2 1-.2 1-.3 1-.4 1-.3 1-.2 1-.3 1-.2 1-.2 1-.2 1-.2 1-.2 1-.2 1-.1 1-.2 1-.1 1-.1 1 0"/>
<path stroke="#c60039" d="M0 617.1l1-7.8 1-9.8 1-11.8 1-12.9 1-14.5 1-13.8 1-13.6 1-13.2 1-7 1-1.7 1 5.9 1 12.2 1 16.5 1 17.8 1 18.3 1 14 1 7.6 1 .3 1-5.4 1-16.2 1-14.2 1-29.4 1-46.8 1-43.8 1-40 1-29.6 1-22.7 1-14.7 1-7.6 1-2.4 1-.7 1 0 1-1.5 1 3.1 1 7.1 1 17.4 1 22.6 1 27 1 38.1 1 32.6 1 31.6 1 31.9 1 30.6 1 22.8 1 17.1 1 11.2 1 3.9 1-3.3 1-9.6 1-11.8 1-10.9 1-8 1-5.5 1-3.5 1-.3 1 2.2 1 3.5 1 4.3 1 3.9 1 3.6 1 2.8 1 2.3"/>
<path stroke="#c6ff39" d="M0 436.7l1-.4 1-.5 1-.4 1-.4 1-.4 1-.4 1-.6 1-.5 1-.1 1 .1 1 .2 1 .7 1 1 1 .7 1 .4 1 0 1-.4 1-.2 1 .1 1 0 1-.9 1-5.3 1-7.7 1-3 1-17.8 1-16.9 1-15.9 1-12.9 1-7.1 1 .2 1 1.3 1-.2 1 0 1 2.7 1 5.7 1 4.5 1 8.1 1 9.8 1 16 1 17.4 1 13.5 1 7.9 1 3.1 1 0 1-.1 1-.3 1-.3 1-.4 1-.3 1-.2 1-.3 1-.2 1-.2 1-.2 1-.2 1-.2 1-.2 1-.1 1-.2 1-.1 1-.1 1 0"/>
<path stroke="#c5003a" d="M0 617.6l1-7.9 1-9.8 1-11.9 1-13.1 1-14.5 1-13.9 1-13.7 1-13.2 1-7.1 1-1.7 1 6 1 12.3 1 16.6 1 17.9 1 18.4 1 14.2 1 7.7 1 .2 1-5.3 1-16.3 1-14.4 1-29.7 1-47 1-44.1 1-40.4 1-29.8 1-22.9 1-14.6 1-7.6 1-2.3 1-.6 1 0 1-1.6 1 3.1 1 7.1 1 17.4 1 22.6 1 27.2 1 38.3 1 32.9 1 31.9 1 32.2 1 30.7 1 23 1 17.1 1 11.3 1 3.9 1-3.3 1-9.6 1-12 1-11 1-8.1 1-5.5 1-3.5 1-.3 1 2.2 1 3.5 1 4.2 1 3.9 1 3.7 1 2.8 1 2.3"/>
<path stroke="#c5ff3a" d="M0 436.8l1-.5 1-.5 1-.4 1-.4 1-.4 1-.4 1-.6 1-.5 1-.1 1 .1 1 .2 1 .7 1 1 1 .7 1 .5 1-.1 1-.3 1-.2 1 .1 1-.1 1-.8 1-5.4 1-7.8 1-3 1-17.9 1-17.1 1-16 1-13 1-7.1 1 .3 1 1.2 1-.1 1 0 1 2.6 1 5.8 1 4.6 1 8.1 1 9.8 1 16.1 1 17.6 1 13.6 1 7.9 1 3.1 1 .1 1-.2 1-.2 1-.4 1-.4 1-.2 1-.3 1-.3 1-.2 1-.2 1-.2 1-.2 1-.2 1-.2 1-.1 1-.2 1-.1 1-.1 1 0"/>
<path stroke="#c5003a" d="M0 618.1l1-7.9 1-10 1-11.9 1-13.2 1-14.6 1-13.9 1-13.8 1-13.3 1-7.1 1-1.7 1 5.9 1 12.4 1 16.7 1 18 1 18.6 1 14.3 1 7.8 1 .3 1-5.4 1-16.4 1-14.5 1-30 1-47.2 1-44.5 1-40.6 1-30 1-23.1 1-14.6 1-7.5 1-2.3 1-.5 1 0 1-1.6 1 3 1 7.1 1 17.4 1 22.7 1 27.3 1 38.6 1 33.2 1 32.1 1 32.4 1 30.8 1 23.2 1 17.3 1 11.3 1 4 1-3.4 1-9.7 1-12.1 1-11.1 1-8.1 1-5.6 1-3.5 1-.3 1 2.2 1 3.5 1 4.2 1 3.9 1 3.6 1 2.8 1 2.4"/>
<path stroke="#c5ff3a" d="M0 436.8l1-.5 1-.5 1-.4 1-.4 1-.4 1-.4 1-.6 1-.5 1-.1 1 .1 1 .1 1 .8 1 1 1 .7 1 .5 1 0 1-.4 1-.1 1 0 1 0 1-.9 1-5.4 1-7.8 1-3.2 1-18 1-17.1 1-16.2 1-13 1-7.1 1 .2 1 1.3 1-.2 1 0 1 2.7 1 5.8 1 4.6 1 8.2 1 9.9 1 16.2 1 17.7 1 13.6 1 8 1 3.1 1 .1 1-.2 1-.2 1-.4 1-.3 1-.3 1-.3 1-.2 1-.3 1-.2 1-.2 1-.2 1-.2 1-.2 1-.1 1-.2 1-.1 1-.1 1 0"/>
<path stroke="#c4003b" d="M0 618.6l1-8 1-10 1-12 1-13.3 1-14.7 1-14 1-13.8 1-13.4 1-7.2 1-1.7 1 6 1 12.4 1 16.8 1 18.2 1 18.7 1 14.4 1 7.9 1 .3 1-5.4 1-16.5 1-14.6 1-30.3 1-47.5 1-44.7 1-41 1-30.2 1-23.1 1-14.7 1-7.4 1-2.2 1-.5 1 0 1-1.6 1 3 1 7 1 17.4 1 22.8 1 27.5 1 38.7 1 33.5 1 32.3 1 32.7 1 31 1 23.3 1 17.4 1 11.5 1 3.9 1-3.4 1-9.8 1-12.1 1-11.2 1-8.3 1-5.6 1-3.5 1-.3 1 2.1 1 3.6 1 4.1 1 3.9 1 3.7 1 2.8 1 2.3"/>
<path stroke="#c4ff3b" d="M0 436.8l1-.5 1-.4 1-.5 1-.4 1-.4 1-.4 1-.6 1-.5 1-.1 1 .1 1 .1 1 .8 1 1 1 .8 1 .5 1-.1 1-.3 1-.2 1 .1 1 0 1-.9 1-5.5 1-7.9 1-3.2 1-18.1 1-17.3 1-16.2 1-13.1 1-7.1 1 .2 1 1.3 1-.2 1 0 1 2.7 1 5.8 1 4.6 1 8.2 1 10 1 16.3 1 17.8 1 13.8 1 8 1 3.2 1 0 1-.1 1-.3 1-.3 1-.4 1-.3 1-.3 1-.2 1-.3 1-.2 1-.2 1-.2 1-.2 1-.2 1-.1 1-.2 1-.1 1-.1 1 0"/>
<path stroke="#c3003c" d="M0 619.1l1-8.1 1-10.1 1-12.1 1-13.3 1-14.8 1-14.1 1-13.9 1-13.4 1-7.2 1-1.7 1 5.9 1 12.6 1 16.8 1 18.3 1 18.9 1 14.5 1 8 1 .3 1-5.4 1-16.5 1-14.8 1-30.6 1-47.7 1-45 1-41.3 1-30.5 1-23.2 1-14.7 1-7.3 1-2.1 1-.4 1-.1 1-1.6 1 3 1 6.9 1 17.4 1 22.9 1 27.7 1 38.9 1 33.7 1 32.6 1 32.9 1 31.2 1 23.5 1 17.4 1 11.6 1 4 1-3.5 1-9.9 1-12.2 1-11.3 1-8.3 1-5.7 1-3.5 1-.3 1 2.1 1 3.5 1 4.2 1 3.8 1 3.7 1 2.8 1 2.4"/>
<path stroke="#c3ff3c" d="M0 436.8l1-.5 1-.4 1-.5 1-.4 1-.4 1-.4 1-.6 1-.5 1-.1 1 0 1 .2 1 .8 1 1 1 .8 1 .5 1 0 1-.4 1-.1 1 0 1 0 1-.9 1-5.5 1-8 1-3.2 1-18.2 1-17.5 1-16.3 1-13.1 1-7.2 1 .3 1 1.3 1-.2 1 0 1 2.7 1 5.8 1 4.6 1 8.3 1 10.1 1 16.4 1 17.9 1 13.8 1 8.1 1 3.2 1 .1 1-.2 1-.2 1-.4 1-.4 1-.3 1-.3 1-.2 1-.2 1-.3 1-.2 1-.2 1-.2 1-.2 1-.1 1-.2 1-.1 1-.1 1 0"/>
<path stroke="#c3003c" d="M0 619.6l1-8.2 1-10.1 1-12.2 1-13.4 1-14.9 1-14.2 1-13.9 1-13.5 1-7.2 1-1.8 1 6 1 12.6 1 16.9 1 18.5 1 19 1 14.6 1 8.1 1 .4 1-5.5 1-16.6 1-14.9 1-30.9 1-47.8 1-45.5 1-41.6 1-30.6 1-23.4 1-14.7 1-7.2 1-2 1-.4 1 0 1-1.6 1 2.8 1 7 1 17.3 1 23 1 27.8 1 39.2 1 33.9 1 32.9 1 33.1 1 31.4 1 23.6 1 17.6 1 11.6 1 4 1-3.5 1-10 1-12.3 1-11.4 1-8.4 1-5.7 1-3.5 1-.3 1 2.1 1 3.5 1 4.1 1 3.9 1 3.7 1 2.8 1 2.4"/>
<path stroke="#c3ff3c" d="M0 436.8l1-.5 1-.4 1-.5 1-.4 1-.4 1-.4 1-.7 1-.4 1-.1 1 0 1 .2 1 .8 1 1 1 .8 1 .5 1 0 1-.3 1-.2 1 .1 1 0 1-.9 1-5.6 1-8.1 1-3.2 1-18.4 1-17.5 1-16.4 1-13.2 1-7.2 1 .3 1 1.3 1-.2 1 0 1 2.7 1 5.8 1 4.7 1 8.3 1 10.1 1 16.5 1 18.1 1 13.9 1 8.2 1 3.1 1 .1 1-.2 1-.2 1-.4 1-.4 1-.3 1-.2 1-.3 1-.2 1-.3 1-.2 1-.2 1-.2 1-.2 1-.1 1-.2 1-.1 1-.1 1 0"/>
<path stroke="#c2003d" d="M0 620.1l1-8.2 1-10.3 1-12.3 1-13.5 1-14.9 1-14.2 1-14.1 1-13.4 1-7.3 1-1.8 1 6 1 12.6 1 17 1 18.7 1 19.1 1 14.7 1 8.1 1 .5 1-5.5 1-16.7 1-15.1 1-31.1 1-48 1-45.8 1-41.9 1-30.9 1-23.4 1-14.7 1-7.2 1-1.9 1-.3 1-.1 1-1.6 1 2.8 1 6.9 1 17.4 1 23 1 28 1 39.4 1 34.1 1 33.2 1 33.3 1 31.6 1 23.7 1 17.7 1 11.7 1 4 1-3.5 1-10.1 1-12.5 1-11.4 1-8.5 1-5.7 1-3.6 1-.3 1 2.2 1 3.4 1 4.1 1 3.9 1 3.7 1 2.8 1 2.4"/>
<path stroke="#c2ff3d" d="M0 436.8l1-.4 1-.5 1-.4 1-.4 1-.5 1-.4 1-.7 1-.5 1-.1 1 .1 1 .2 1 .8 1 1 1 .8 1 .6 1 0 1-.4 1-.1 1 .1 1-.1 1-.9 1-5.6 1-8.2 1-3.2 1-18.5 1-17.7 1-16.4 1-13.3 1-7.2 1 .3 1 1.3 1-.2 1 0 1 2.7 1 5.8 1 4.7 1 8.4 1 10.2 1 16.6 1 18.1 1 14 1 8.3 1 3.1 1 .1 1-.2 1-.2 1-.4 1-.3 1-.3 1-.3 1-.3 1-.2 1-.2 1-.3 1-.2 1-.2 1-.2 1-.1 1-.2 1-.1 1-.1 1 0"/>
<path stroke="#c2003d" d="M0 620.6l1-8.3 1-10.4 1-12.3 1-13.6 1-15 1-14.3 1-14.1 1-13.5 1-7.4 1-1.7 1 6 1 12.7 1 17 1 18.8 1 19.3 1 14.8 1 8.2 1 .5 1-5.5 1-16.8 1-15.2 1-31.4 1-48.2 1-46.1 1-42.2 1-31.1 1-23.6 1-14.7 1-7.1 1-1.8 1-.2 1-.1 1-1.6 1 2.7 1 6.9 1 17.3 1 23.2 1 28.1 1 39.5 1 34.5 1 33.3 1 33.6 1 31.7 1 23.9 1 17.8 1 11.7 1 4.1 1-3.5 1-10.2 1-12.6 1-11.6 1-8.4 1-5.8 1-3.6 1-.3 1 2.1 1 3.5 1 4.1 1 3.8 1 3.8 1 2.8 1 2.4"/>
<path stroke="#c2ff3d" d="M0 436.9l1-.5 1-.5 1-.4 1-.4 1-.5 1-.4 1-.7 1-.5 1-.1 1 .1 1 .2 1 .8 1 1 1 .8 1 .6 1 0 1-.3 1-.2 1 .1 1 0 1-.9 1-5.8 1-8.1 1-3.3 1-18.6 1-17.8 1-16.6 1-13.3 1-7.2 1 .3 1 1.3 1-.2 1 0 1 2.7 1 5.9 1 4.7 1 8.4 1 10.2 1 16.8 1 18.2 1 14.1 1 8.3 1 3.2 1 0 1-.1 1-.3 1-.3 1-.4 1-.3 1-.3 1-.3 1-.2 1-.2 1-.2 1-.3 1-.2 1-.1 1-.2 1-.2 1-.1 1-.1 1 0"/>
<path stroke="#c1003e" d="M0 621l1-8.3 1-10.5 1-12.4 1-13.6 1-15.1 1-14.4 1-14.1 1-13.6 1-7.4 1-1.8 1 6 1 12.8 1 17.2 1 18.9 1 19.4 1 14.9 1 8.3 1 .5 1-5.6 1-16.8 1-15.4 1-31.6 1-48.4 1-46.4 1-42.6 1-31.2 1-23.7 1-14.7 1-7 1-1.7 1-.3 1 0 1-1.7 1 2.8 1 6.8 1 17.3 1 23.2 1 28.3 1 39.8 1 34.6 1 33.6 1 33.9 1 31.8 1 24 1 17.9 1 11.8 1 4.1 1-3.5 1-10.3 1-12.7 1-11.7 1-8.5 1-5.8 1-3.6 1-.3 1 2.1 1 3.4 1 4.1 1 3.9 1 3.7 1 2.8 1 2.4"/>
<path stroke="#c1ff3e" d="M0 436.9l1-.5 1-.5 1-.4 1-.4 1-.5 1-.4 1-.7 1-.5 1-.1 1 .1 1 .2 1 .8 1 1 1 .9 1 .6 1 0 1-.4 1-.1 1 .1 1-.1 1-.9 1-5.8 1-8.2 1-3.4 1-18.7 1-17.9 1-16.6 1-13.3 1-7.3 1 .3 1 1.3 1-.2 1 0 1 2.7 1 5.9 1 4.8 1 8.4 1 10.3 1 16.8 1 18.4 1 14.1 1 8.4 1 3.2 1 .1 1-.2 1-.2 1-.4 1-.4 1-.3 1-.3 1-.3 1-.2 1-.2 1-.2 1-.3 1-.2 1-.1 1-.2 1-.2 1-.1 1-.1 1 0"/>
<path stroke="#c1003e" d="M0 621.5l1-8.4 1-10.5 1-12.5 1-13.8 1-15.1 1-14.5 1-14.2 1-13.6 1-7.4 1-1.8 1 6 1 12.9 1 17.2 1 19 1 19.6 1 15 1 8.3 1 .6 1-5.6 1-16.9 1-15.5 1-31.9 1-48.6 1-46.7 1-42.9 1-31.4 1-23.8 1-14.7 1-7 1-1.6 1-.2 1 0 1-1.7 1 2.7 1 6.8 1 17.3 1 23.3 1 28.4 1 40 1 34.9 1 33.8 1 34.1 1 31.9 1 24.2 1 18 1 11.9 1 4.1 1-3.6 1-10.3 1-12.8 1-11.8 1-8.6 1-5.8 1-3.6 1-.4 1 2.2 1 3.4 1 4.1 1 3.8 1 3.7 1 2.9 1 2.4"/>
<path stroke="#c1ff3e" d="M0 436.9l1-.5 1-.5 1-.4 1-.4 1-.5 1-.4 1-.7 1-.5 1-.1 1 .1 1 .2 1 .8 1 1 1 .9 1 .6 1 0 1-.3 1-.2 1 .1 1 0 1-1 1-5.8 1-8.3 1-3.4 1-18.8 1-18 1-16.7 1-13.4 1-7.3 1 .3 1 1.3 1-.1 1-.1 1 2.7 1 6 1 4.7 1 8.6 1 10.3 1 16.9 1 18.4 1 14.3 1 8.4 1 3.2 1 .1 1-.2 1-.2 1-.4 1-.4 1-.3 1-.3 1-.2 1-.3 1-.2 1-.2 1-.2 1-.3 1-.1 1-.2 1-.2 1-.1 1-.1 1 0"/>
<path stroke="#c0003f" d="M0 621.9l1-8.5 1-10.5 1-12.6 1-13.8 1-15.2 1-14.5 1-14.3 1-13.7 1-7.4 1-1.8 1 6 1 12.9 1 17.3 1 19.2 1 19.7 1 15.1 1 8.4 1 .5 1-5.5 1-17 1-15.6 1-32.2 1-48.8 1-47 1-43.2 1-31.6 1-23.9 1-14.7 1-6.9 1-1.5 1-.1 1-.1 1-1.7 1 2.6 1 6.8 1 17.3 1 23.4 1 28.6 1 40.1 1 35.1 1 34.1 1 34.3 1 32.1 1 24.3 1 18.1 1 11.9 1 4.2 1-3.6 1-10.5 1-12.9 1-11.8 1-8.7 1-5.8 1-3.7 1-.3 1 2.1 1 3.4 1 4.1 1 3.8 1 3.8 1 2.8 1 2.4"/>
<path stroke="#c0ff3f" d="M0 436.9l1-.5 1-.5 1-.4 1-.4 1-.5 1-.5 1-.6 1-.5 1-.1 1 .1 1 .1 1 .8 1 1.1 1 .9 1 .6 1 .1 1-.4 1-.1 1 .1 1-.1 1-.9 1-5.9 1-8.3 1-3.5 1-18.9 1-18.1 1-16.9 1-13.4 1-7.2 1 .3 1 1.3 1-.2 1 0 1 2.7 1 5.9 1 4.8 1 8.6 1 10.4 1 17 1 18.5 1 14.4 1 8.4 1 3.3 1 0 1-.1 1-.3 1-.4 1-.4 1-.3 1-.3 1-.2 1-.3 1-.2 1-.2 1-.2 1-.2 1-.2 1-.2 1-.2 1-.1 1-.1 1-.1"/>
<path stroke="#c0003f" d="M0 622.4l1-8.6 1-10.6 1-12.7 1-13.8 1-15.3 1-14.6 1-14.3 1-13.8 1-7.4 1-1.9 1 6.1 1 12.9 1 17.4 1 19.3 1 19.9 1 15.1 1 8.5 1 .6 1-5.6 1-17 1-15.8 1-32.4 1-49 1-47.3 1-43.4 1-31.9 1-24 1-14.6 1-6.9 1-1.4 1-.1 1 0 1-1.8 1 2.6 1 6.7 1 17.3 1 23.4 1 28.8 1 40.3 1 35.4 1 34.3 1 34.5 1 32.2 1 24.5 1 18.1 1 12.1 1 4.1 1-3.6 1-10.5 1-13 1-11.9 1-8.7 1-5.9 1-3.7 1-.3 1 2.1 1 3.4 1 4 1 3.9 1 3.7 1 2.8 1 2.4"/>
<path stroke="#c0ff3f" d="M0 436.9l1-.5 1-.5 1-.4 1-.4 1-.5 1-.5 1-.6 1-.5 1-.1 1 .1 1 .1 1 .8 1 1.1 1 .9 1 .7 1 0 1-.3 1-.2 1 .1 1 0 1-1 1-5.9 1-8.4 1-3.5 1-19.1 1-18.2 1-16.9 1-13.4 1-7.3 1 .3 1 1.3 1-.2 1 0 1 2.7 1 6 1 4.8 1 8.6 1 10.5 1 17.1 1 18.6 1 14.4 1 8.5 1 3.3 1 .1 1-.2 1-.2 1-.4 1-.4 1-.4 1-.2 1-.3 1-.3 1-.2 1-.2 1-.2 1-.2 1-.2 1-.2 1-.2 1-.1 1-.1 1-.1"/>
<path stroke="#bf0040" d="M0 622.8l1-8.6 1-10.7 1-12.8 1-13.9 1-15.3 1-14.7 1-14.4 1-13.8 1-7.4 1-1.9 1 6.1 1 13 1 17.4 1 19.4 1 20 1 15.3 1 8.5 1 .7 1-5.6 1-17.2 1-15.9 1-32.6 1-49.2 1-47.6 1-43.7 1-32.1 1-24 1-14.7 1-6.8 1-1.3 1-.1 1 0 1-1.7 1 2.5 1 6.7 1 17.2 1 23.5 1 28.9 1 40.5 1 35.6 1 34.6 1 34.7 1 32.4 1 24.5 1 18.3 1 12.1 1 4.2 1-3.7 1-10.6 1-13.1 1-12 1-8.7 1-5.9 1-3.7 1-.4 1 2.1 1 3.4 1 4 1 3.9 1 3.7 1 2.9 1 2.4"/>
<path stroke="#bfff40" d="M0 437l1-.6 1-.5 1-.4 1-.4 1-.5 1-.5 1-.6 1-.5 1-.1 1 0 1 .2 1 .8 1 1.1 1 .9 1 .7 1 .1 1-.4 1-.1 1 .1 1 0 1-1 1-6 1-8.5 1-3.5 1-19.2 1-18.3 1-17 1-13.5 1-7.2 1 .3 1 1.3 1-.2 1 0 1 2.7 1 6 1 4.8 1 8.7 1 10.5 1 17.2 1 18.7 1 14.5 1 8.5 1 3.3 1 .1 1-.2 1-.2 1-.4 1-.4 1-.3 1-.3 1-.3 1-.2 1-.3 1-.2 1-.2 1-.2 1-.2 1-.2 1-.2 1-.1 1-.1 1-.1"/>
<path stroke="#be0041" d="M0 623.2l1-8.6 1-10.8 1-12.8 1-14 1-15.5 1-14.7 1-14.4 1-13.8 1-7.6 1-1.8 1 6.1 1 13 1 17.5 1 19.6 1 20.1 1 15.4 1 8.6 1 .6 1-5.6 1-17.2 1-16 1-32.9 1-49.3 1-48 1-44 1-32.2 1-24.2 1-14.7 1-6.7 1-1.2 1 0 1 0 1-1.8 1 2.5 1 6.6 1 17.3 1 23.5 1 29.1 1 40.7 1 35.8 1 34.8 1 34.9 1 32.5 1 24.7 1 18.3 1 12.2 1 4.2 1-3.7 1-10.6 1-13.2 1-12.1 1-8.8 1-5.9 1-3.8 1-.3 1 2.1 1 3.4 1 4 1 3.8 1 3.7 1 2.9 1 2.4"/>
<path stroke="#beff41" d="M0 437l1-.5 1-.5 1-.5 1-.4 1-.5 1-.5 1-.6 1-.5 1-.2 1 .1 1 .2 1 .8 1 1.1 1 .9 1 .7 1 .1 1-.3 1-.2 1 .1 1 0 1-1 1-6 1-8.5 1-3.6 1-19.3 1-18.4 1-17.1 1-13.5 1-7.3 1 .3 1 1.4 1-.2 1 0 1 2.6 1 6 1 4.9 1 8.7 1 10.6 1 17.3 1 18.8 1 14.6 1 8.5 1 3.3 1 .1 1-.1 1-.3 1-.4 1-.4 1-.3 1-.3 1-.3 1-.2 1-.3 1-.2 1-.2 1-.2 1-.2 1-.2 1-.2 1-.1 1-.1 1-.1"/>
<path stroke="#be0041" d="M0 623.6l1-8.7 1-10.8 1-12.9 1-14.1 1-15.5 1-14.7 1-14.5 1-13.9 1-7.6 1-1.8 1 6.1 1 13.1 1 17.6 1 19.6 1 20.3 1 15.4 1 8.7 1 .7 1-5.7 1-17.2 1-16.2 1-33.1 1-49.5 1-48.2 1-44.4 1-32.4 1-24.2 1-14.7 1-6.7 1-1.1 1 0 1 0 1-1.8 1 2.5 1 6.5 1 17.3 1 23.7 1 29.1 1 40.9 1 36 1 35.1 1 35.1 1 32.7 1 24.8 1 18.4 1 12.2 1 4.3 1-3.8 1-10.7 1-13.3 1-12.2 1-8.8 1-6 1-3.7 1-.4 1 2.1 1 3.4 1 4 1 3.8 1 3.8 1 2.8 1 2.5"/>
<path stroke="#beff41" d="M0 437l1-.5 1-.5 1-.5 1-.4 1-.5 1-.5 1-.6 1-.6 1-.1 1 .1 1 .2 1 .8 1 1.1 1 1 1 .7 1 .1 1-.4 1-.1 1 .1 1 0 1-1 1-6 1-8.6 1-3.7 1-19.4 1-18.5 1-17.2 1-13.5 1-7.3 1 .3 1 1.3 1-.1 1-.1 1 2.7 1 6 1 4.9 1 8.8 1 10.6 1 17.4 1 18.9 1 14.6 1 8.6 1 3.4 1 .1 1-.2 1-.3 1-.4 1-.4 1-.3 1-.3 1-.3 1-.2 1-.3 1-.2 1-.2 1-.2 1-.2 1-.2 1-.2 1-.1 1-.1 1-.1"/>
<path stroke="#bd0042" d="M0 624.1l1-8.8 1-10.9 1-13 1-14.1 1-15.6 1-14.8 1-14.6 1-13.9 1-7.6 1-1.9 1 6.1 1 13.2 1 17.7 1 19.8 1 20.3 1 15.6 1 8.7 1 .7 1-5.6 1-17.4 1-16.2 1-33.4 1-49.7 1-48.5 1-44.6 1-32.7 1-24.3 1-14.7 1-6.6 1-1 1 .1 1 0 1-1.8 1 2.4 1 6.5 1 17.2 1 23.8 1 29.3 1 41.1 1 36.2 1 35.3 1 35.3 1 32.8 1 24.9 1 18.5 1 12.4 1 4.2 1-3.7 1-10.9 1-13.3 1-12.3 1-8.9 1-6 1-3.8 1-.3 1 2.1 1 3.4 1 3.9 1 3.8 1 3.8 1 2.8 1 2.5"/>
<path stroke="#bdff42" d="M0 437l1-.5 1-.5 1-.5 1-.4 1-.5 1-.5 1-.6 1-.6 1-.1 1 .1 1 .2 1 .8 1 1.1 1 1 1 .7 1 .1 1-.3 1-.2 1 .2 1-.1 1-1 1-6 1-8.6 1-3.8 1-19.5 1-18.7 1-17.2 1-13.6 1-7.2 1 .3 1 1.3 1-.2 1 0 1 2.7 1 6 1 4.9 1 8.9 1 10.7 1 17.4 1 19 1 14.7 1 8.7 1 3.3 1 .1 1-.2 1-.2 1-.4 1-.5 1-.3 1-.3 1-.3 1-.2 1-.3 1-.2 1-.2 1-.2 1-.2 1-.2 1-.2 1-.1 1-.1 1-.1"/>
<path stroke="#bd0042" d="M0 624.5l1-8.8 1-11 1-13.1 1-14.2 1-15.6 1-14.9 1-14.6 1-14 1-7.6 1-1.9 1 6.1 1 13.3 1 17.7 1 19.9 1 20.5 1 15.6 1 8.8 1 .8 1-5.7 1-17.4 1-16.4 1-33.6 1-49.9 1-48.8 1-44.9 1-32.8 1-24.4 1-14.7 1-6.5 1-1 1 .2 1-.1 1-1.8 1 2.4 1 6.5 1 17.2 1 23.8 1 29.5 1 41.2 1 36.5 1 35.5 1 35.5 1 33 1 25 1 18.6 1 12.4 1 4.3 1-3.8 1-10.9 1-13.5 1-12.3 1-9 1-6 1-3.8 1-.4 1 2.1 1 3.4 1 4 1 3.8 1 3.7 1 2.9 1 2.4"/>
<path stroke="#bdff42" d="M0 437l1-.5 1-.5 1-.5 1-.4 1-.5 1-.5 1-.7 1-.5 1-.1 1 .1 1 .2 1 .8 1 1.1 1 1 1 .7 1 .1 1-.3 1-.1 1 .1 1 0 1-1 1-6.1 1-8.7 1-3.8 1-19.6 1-18.8 1-17.3 1-13.6 1-7.2 1 .3 1 1.3 1-.2 1 0 1 2.7 1 6 1 5 1 8.9 1 10.7 1 17.6 1 19.1 1 14.7 1 8.7 1 3.3 1 .1 1-.2 1-.2 1-.4 1-.4 1-.4 1-.3 1-.2 1-.3 1-.2 1-.3 1-.2 1-.2 1-.2 1-.2 1-.1 1-.2 1-.1 1-.1"/>
<path stroke="#bc0043" d="M0 624.9l1-8.9 1-11 1-13.1 1-14.3 1-15.7 1-15 1-14.6 1-14 1-7.7 1-1.9 1 6.1 1 13.3 1 17.8 1 20 1 20.7 1 15.7 1 8.9 1 .7 1-5.7 1-17.4 1-16.6 1-33.8 1-50 1-49.1 1-45.2 1-33 1-24.6 1-14.6 1-6.5 1-.9 1 .2 1 0 1-1.8 1 2.3 1 6.4 1 17.3 1 23.8 1 29.6 1 41.4 1 36.7 1 35.7 1 35.8 1 33.1 1 25.2 1 18.6 1 12.5 1 4.3 1-3.8 1-11 1-13.6 1-12.4 1-9 1-6 1-3.9 1-.3 1 2.1 1 3.3 1 4 1 3.8 1 3.7 1 2.9 1 2.5"/>
<path stroke="#bcff43" d="M0 437.1l1-.6 1-.5 1-.5 1-.4 1-.5 1-.5 1-.7 1-.5 1-.1 1 .1 1 .2 1 .8 1 1.1 1 1 1 .8 1 .1 1-.3 1-.1 1 .1 1 0 1-1 1-6.2 1-8.7 1-3.9 1-19.8 1-18.8 1-17.4 1-13.6 1-7.2 1 .3 1 1.3 1-.1 1-.1 1 2.7 1 6 1 5 1 9 1 10.8 1 17.6 1 19.2 1 14.8 1 8.7 1 3.4 1 0 1-.1 1-.3 1-.4 1-.4 1-.3 1-.3 1-.3 1-.3 1-.2 1-.3 1-.2 1-.2 1-.2 1-.2 1-.1 1-.2 1-.1 1-.1"/>
<path stroke="#bc0043" d="M0 625.3l1-8.9 1-11.1 1-13.2 1-14.4 1-15.7 1-15 1-14.8 1-14 1-7.7 1-1.9 1 6.1 1 13.4 1 17.8 1 20.2 1 20.7 1 15.8 1 9 1 .8 1-5.7 1-17.6 1-16.6 1-34.1 1-50.2 1-49.4 1-45.5 1-33.2 1-24.6 1-14.7 1-6.4 1-.8 1 .3 1 0 1-1.8 1 2.2 1 6.4 1 17.2 1 23.9 1 29.8 1 41.6 1 36.9 1 35.9 1 36 1 33.2 1 25.3 1 18.8 1 12.5 1 4.3 1-3.8 1-11.1 1-13.6 1-12.5 1-9.1 1-6.1 1-3.8 1-.4 1 2.1 1 3.4 1 3.9 1 3.8 1 3.7 1 2.9 1 2.5"/>
<path stroke="#bcff43" d="M0 437.1l1-.6 1-.5 1-.5 1-.4 1-.5 1-.5 1-.7 1-.5 1-.1 1 .1 1 .1 1 .9 1 1.1 1 1 1 .8 1 .1 1-.3 1-.1 1 .1 1 0 1-1 1-6.1 1-8.8 1-4 1-19.9 1-18.9 1-17.4 1-13.7 1-7.2 1 .3 1 1.4 1-.2 1-.1 1 2.7 1 6.1 1 4.9 1 9.1 1 10.8 1 17.7 1 19.3 1 14.9 1 8.7 1 3.4 1 .1 1-.2 1-.3 1-.4 1-.4 1-.3 1-.3 1-.3 1-.3 1-.2 1-.3 1-.2 1-.2 1-.2 1-.2 1-.1 1-.2 1-.1 1-.1"/>
<path stroke="#bb0044" d="M0 625.7l1-9 1-11.1 1-13.3 1-14.4 1-15.8 1-15.1 1-14.8 1-14.1 1-7.7 1-1.9 1 6.1 1 13.4 1 17.9 1 20.3 1 20.9 1 15.9 1 9 1 .8 1-5.7 1-17.6 1-16.8 1-34.3 1-50.4 1-49.7 1-45.7 1-33.4 1-24.7 1-14.7 1-6.3 1-.7 1 .3 1 0 1-1.9 1 2.2 1 6.4 1 17.2 1 24 1 29.9 1 41.8 1 37.1 1 36.1 1 36.2 1 33.4 1 25.4 1 18.8 1 12.6 1 4.4 1-3.9 1-11.1 1-13.8 1-12.6 1-9.1 1-6.1 1-3.8 1-.4 1 2.1 1 3.3 1 3.9 1 3.8 1 3.8 1 2.9 1 2.5"/>
<path stroke="#bbff44" d="M0 437.1l1-.6 1-.5 1-.5 1-.4 1-.5 1-.5 1-.7 1-.5 1-.1 1 0 1 .2 1 .9 1 1.1 1 1.1 1 .7 1 .2 1-.3 1-.1 1 .1 1 0 1-1 1-6.2 1-8.8 1-4.1 1-20 1-19 1-17.5 1-13.7 1-7.2 1 .3 1 1.4 1-.2 1 0 1 2.6 1 6.1 1 5 1 9.1 1 10.9 1 17.8 1 19.3 1 15 1 8.7 1 3.4 1 .1 1-.2 1-.2 1-.4 1-.5 1-.3 1-.3 1-.3 1-.3 1-.2 1-.2 1-.3 1-.2 1-.2 1-.2 1-.1 1-.2 1-.1 1-.1"/>
<path stroke="#ba0045" d="M0 626.2l1-9.1 1-11.3 1-13.3 1-14.5 1-15.8 1-15.2 1-14.8 1-14.2 1-7.7 1-1.9 1 6.1 1 13.4 1 18.1 1 20.3 1 21 1 16 1 9.1 1 .8 1-5.7 1-17.7 1-16.8 1-34.5 1-50.6 1-50 1-46.1 1-33.5 1-24.8 1-14.7 1-6.3 1-.6 1 .4 1 0 1-1.9 1 2.1 1 6.4 1 17.2 1 24 1 30.1 1 41.9 1 37.4 1 36.3 1 36.4 1 33.5 1 25.5 1 19 1 12.6 1 4.4 1-3.9 1-11.2 1-13.8 1-12.7 1-9.2 1-6.1 1-3.9 1-.4 1 2.1 1 3.3 1 4 1 3.7 1 3.8 1 2.9 1 2.5"/>
<path stroke="#baff45" d="M0 437.1l1-.5 1-.6 1-.5 1-.4 1-.5 1-.5 1-.7 1-.5 1-.2 1 .1 1 .2 1 .9 1 1.1 1 1.1 1 .8 1 .1 1-.3 1-.1 1 .1 1 0 1-1 1-6.2 1-8.9 1-4.1 1-20.1 1-19.1 1-17.6 1-13.6 1-7.3 1 .4 1 1.3 1-.1 1-.1 1 2.7 1 6 1 5.1 1 9.1 1 11 1 17.8 1 19.5 1 15 1 8.7 1 3.4 1 .1 1-.1 1-.3 1-.4 1-.4 1-.4 1-.3 1-.3 1-.3 1-.2 1-.2 1-.3 1-.2 1-.2 1-.2 1-.1 1-.2 1-.1 1-.1"/>
<path stroke="#ba0045" d="M0 626.6l1-9.2 1-11.3 1-13.4 1-14.5 1-16 1-15.2 1-14.9 1-14.2 1-7.7 1-2 1 6.2 1 13.5 1 18.1 1 20.5 1 21.1 1 16.1 1 9.1 1 .9 1-5.7 1-17.8 1-17 1-34.7 1-50.8 1-50.3 1-46.3 1-33.8 1-24.8 1-14.7 1-6.2 1-.5 1 .4 1 0 1-1.9 1 2.1 1 6.3 1 17.2 1 24.1 1 30.2 1 42.1 1 37.5 1 36.6 1 36.6 1 33.6 1 25.7 1 19 1 12.7 1 4.4 1-3.9 1-11.3 1-13.9 1-12.8 1-9.2 1-6.1 1-3.9 1-.4 1 2.1 1 3.3 1 3.9 1 3.7 1 3.8 1 2.9 1 2.5"/>
<path stroke="#baff45" d="M0 437.1l1-.5 1-.6 1-.4 1-.5 1-.5 1-.5 1-.7 1-.6 1-.1 1 .1 1 .2 1 .9 1 1.1 1 1.1 1 .8 1 .2 1-.3 1-.1 1 .1 1 0 1-1 1-6.2 1-9 1-4.2 1-20.2 1-19.2 1-17.6 1-13.7 1-7.2 1 .3 1 1.4 1-.2 1 0 1 2.6 1 6.1 1 5 1 9.2 1 11.1 1 17.9 1 19.5 1 15.1 1 8.8 1 3.4 1 .1 1-.2 1-.3 1-.4 1-.4 1-.4 1-.3 1-.3 1-.2 1-.3 1-.2 1-.3 1-.2 1-.2 1-.2 1-.1 1-.2 1-.1 1-.1"/>
<path stroke="#b90046" d="M0 627l1-9.2 1-11.4 1-13.4 1-14.7 1-16 1-15.2 1-15 1-14.2 1-7.8 1-2 1 6.2 1 13.5 1 18.2 1 20.6 1 21.3 1 16.1 1 9.2 1 .9 1-5.7 1-17.8 1-17.2 1-34.9 1-51 1-50.5 1-46.6 1-34 1-24.9 1-14.7 1-6.1 1-.5 1 .5 1 0 1-1.9 1 2 1 6.3 1 17.1 1 24.2 1 30.3 1 42.4 1 37.7 1 36.8 1 36.8 1 33.8 1 25.8 1 19.1 1 12.7 1 4.5 1-4 1-11.3 1-14.1 1-12.8 1-9.3 1-6.1 1-4 1-.4 1 2.1 1 3.3 1 3.9 1 3.8 1 3.7 1 2.9 1 2.6"/>
<path stroke="#b9ff46" d="M0 437.1l1-.5 1-.5 1-.5 1-.5 1-.5 1-.5 1-.7 1-.6 1-.1 1 .1 1 .2 1 .9 1 1.1 1 1.1 1 .8 1 .2 1-.3 1-.1 1 .1 1 0 1-1 1-6.2 1-9 1-4.3 1-20.3 1-19.3 1-17.7 1-13.7 1-7.2 1 .4 1 1.4 1-.2 1-.1 1 2.7 1 6 1 5.1 1 9.3 1 11 1 18 1 19.6 1 15.2 1 8.8 1 3.4 1 .1 1-.2 1-.2 1-.5 1-.4 1-.3 1-.4 1-.3 1-.2 1-.3 1-.2 1-.3 1-.2 1-.2 1-.2 1-.1 1-.2 1-.1 1-.1"/>
<path stroke="#b90046" d="M0 627.4l1-9.3 1-11.4 1-13.5 1-14.7 1-16.1 1-15.3 1-15 1-14.3 1-7.8 1-2 1 6.2 1 13.6 1 18.2 1 20.7 1 21.4 1 16.3 1 9.2 1 1 1-5.8 1-17.9 1-17.3 1-35.1 1-51.1 1-50.9 1-46.8 1-34.2 1-25 1-14.7 1-6.1 1-.3 1 .5 1 0 1-1.9 1 2 1 6.2 1 17.1 1 24.3 1 30.4 1 42.5 1 38 1 37 1 37 1 33.9 1 25.9 1 19.2 1 12.8 1 4.5 1-4 1-11.4 1-14.1 1-13 1-9.2 1-6.3 1-3.9 1-.4 1 2.1 1 3.3 1 3.8 1 3.8 1 3.8 1 2.9 1 2.5"/>
<path stroke="#b9ff46" d="M0 437.2l1-.6 1-.5 1-.5 1-.5 1-.5 1-.5 1-.7 1-.6 1-.1 1 .1 1 .2 1 .9 1 1.1 1 1.1 1 .9 1 .1 1-.2 1-.1 1 .1 1 0 1-1 1-6.3 1-9 1-4.4 1-20.4 1-19.4 1-17.7 1-13.7 1-7.2 1 .4 1 1.3 1-.1 1-.1 1 2.6 1 6.1 1 5.1 1 9.3 1 11.1 1 18.1 1 19.7 1 15.1 1 8.9 1 3.4 1 .1 1-.2 1-.2 1-.5 1-.4 1-.3 1-.3 1-.3 1-.3 1-.3 1-.2 1-.3 1-.2 1-.2 1-.2 1-.1 1-.2 1-.1 1-.1"/>
<path stroke="#b80047" d="M0 627.8l1-9.3 1-11.5 1-13.6 1-14.8 1-16.1 1-15.4 1-15.1 1-14.3 1-7.8 1-2 1 6.2 1 13.6 1 18.3 1 20.9 1 21.5 1 16.3 1 9.3 1 1 1-5.8 1-17.9 1-17.4 1-35.4 1-51.3 1-51.1 1-47.2 1-34.3 1-25.1 1-14.6 1-6.1 1-.3 1 .6 1 0 1-2 1 2 1 6.2 1 17.2 1 24.3 1 30.5 1 42.7 1 38.2 1 37.2 1 37.2 1 34 1 26.1 1 19.2 1 12.9 1 4.5 1-4 1-11.5 1-14.2 1-13 1-9.3 1-6.3 1-4 1-.3 1 2 1 3.3 1 3.8 1 3.8 1 3.8 1 2.9 1 2.5"/>
<path stroke="#b8ff47" d="M0 437.2l1-.6 1-.5 1-.5 1-.5 1-.5 1-.5 1-.7 1-.6 1-.1 1 .1 1 .2 1 .9 1 1.2 1 1 1 .9 1 .2 1-.3 1-.1 1 .2 1 0 1-1.1 1-6.2 1-9.1 1-4.5 1-20.5 1-19.5 1-17.8 1-13.6 1-7.2 1 .3 1 1.4 1-.1 1-.1 1 2.6 1 6.1 1 5.1 1 9.4 1 11.1 1 18.2 1 19.7 1 15.2 1 8.9 1 3.4 1 .1 1-.1 1-.3 1-.4 1-.5 1-.3 1-.3 1-.3 1-.3 1-.3 1-.2 1-.2 1-.3 1-.2 1-.2 1-.1 1-.2 1-.1 1-.1"/>
<path stroke="#b80047" d="M0 628.2l1-9.4 1-11.5 1-13.7 1-14.8 1-16.2 1-15.5 1-15.1 1-14.3 1-7.9 1-2 1 6.2 1 13.7 1 18.3 1 21 1 21.6 1 16.5 1 9.3 1 1 1-5.8 1-18 1-17.5 1-35.6 1-51.5 1-51.4 1-47.4 1-34.4 1-25.3 1-14.6 1-6 1-.2 1 .6 1 0 1-2 1 2 1 6.1 1 17.2 1 24.3 1 30.8 1 42.8 1 38.4 1 37.4 1 37.4 1 34.2 1 26.1 1 19.4 1 12.9 1 4.5 1-4 1-11.6 1-14.3 1-13 1-9.4 1-6.3 1-4 1-.4 1 2.1 1 3.2 1 3.9 1 3.7 1 3.8 1 2.9 1 2.6"/>
<path stroke="#b8ff47" d="M0 437.2l1-.6 1-.5 1-.5 1-.5 1-.5 1-.5 1-.7 1-.6 1-.1 1 .1 1 .2 1 .9 1 1.2 1 1.1 1 .8 1 .2 1-.2 1-.1 1 .1 1 0 1-1 1-6.3 1-9.1 1-4.6 1-20.6 1-19.6 1-17.8 1-13.7 1-7.1 1 .3 1 1.4 1-.1 1-.1 1 2.6 1 6 1 5.2 1 9.4 1 11.2 1 18.2 1 19.9 1 15.2 1 8.9 1 3.5 1 .1 1-.2 1-.3 1-.4 1-.4 1-.4 1-.3 1-.3 1-.3 1-.3 1-.2 1-.2 1-.3 1-.2 1-.2 1-.1 1-.2 1-.1 1-.1"/>
<path stroke="#b70048" d="M0 628.6l1-9.4 1-11.7 1-13.7 1-14.9 1-16.2 1-15.5 1-15.2 1-14.4 1-7.9 1-2 1 6.2 1 13.7 1 18.4 1 21.1 1 21.8 1 16.5 1 9.4 1 1.1 1-5.9 1-18 1-17.7 1-35.8 1-51.6 1-51.7 1-47.7 1-34.6 1-25.3 1-14.7 1-5.9 1-.1 1 .6 1 0 1-1.9 1 1.8 1 6.1 1 17.2 1 24.4 1 30.9 1 43 1 38.6 1 37.6 1 37.6 1 34.3 1 26.3 1 19.4 1 13 1 4.5 1-4 1-11.7 1-14.3 1-13.2 1-9.4 1-6.4 1-4 1-.3 1 2 1 3.3 1 3.8 1 3.7 1 3.8 1 3 1 2.5"/>
<path stroke="#b7ff48" d="M0 437.2l1-.6 1-.5 1-.5 1-.5 1-.5 1-.5 1-.7 1-.6 1-.1 1 .1 1 .2 1 .9 1 1.2 1 1.1 1 .9 1 .2 1-.3 1-.1 1 .2 1 0 1-1.1 1-6.3 1-9.1 1-4.7 1-20.7 1-19.6 1-17.9 1-13.7 1-7.1 1 .4 1 1.4 1-.2 1-.1 1 2.6 1 6 1 5.2 1 9.5 1 11.3 1 18.2 1 19.9 1 15.3 1 9 1 3.4 1 .1 1-.2 1-.2 1-.5 1-.4 1-.4 1-.3 1-.3 1-.3 1-.2 1-.3 1-.2 1-.3 1-.2 1-.2 1-.1 1-.2 1-.1 1-.1"/>
<path stroke="#b60049" d="M0 629l1-9.5 1-11.7 1-13.8 1-14.9 1-16.3 1-15.6 1-15.2 1-14.5 1-7.9 1-2 1 6.2 1 13.8 1 18.5 1 21.2 1 21.8 1 16.6 1 9.5 1 1.1 1-5.9 1-18.1 1-17.7 1-36.1 1-51.8 1-51.9 1-48 1-34.8 1-25.4 1-14.6 1-5.9 1 0 1 .7 1-.1 1-1.9 1 1.8 1 6.1 1 17.1 1 24.5 1 31 1 43.2 1 38.8 1 37.8 1 37.7 1 34.5 1 26.4 1 19.5 1 13.1 1 4.6 1-4.1 1-11.7 1-14.5 1-13.2 1-9.5 1-6.4 1-4 1-.4 1 2.1 1 3.2 1 3.8 1 3.8 1 3.7 1 3 1 2.5"/>
<path stroke="#b6ff49" d="M0 437.2l1-.5 1-.6 1-.5 1-.5 1-.5 1-.5 1-.7 1-.6 1-.1 1 0 1 .2 1 1 1 1.2 1 1.1 1 .9 1 .2 1-.2 1-.1 1 .1 1 0 1-1 1-6.3 1-9.2 1-4.8 1-20.7 1-19.8 1-18 1-13.6 1-7.1 1 .4 1 1.4 1-.2 1-.1 1 2.6 1 6 1 5.2 1 9.6 1 11.3 1 18.3 1 20 1 15.3 1 9 1 3.4 1 .1 1-.1 1-.3 1-.5 1-.4 1-.4 1-.3 1-.3 1-.3 1-.2 1-.3 1-.2 1-.3 1-.2 1-.2 1-.1 1-.2 1-.1 1-.1"/>
<path stroke="#b60049" d="M0 629.4l1-9.5 1-11.8 1-13.9 1-15 1-16.4 1-15.6 1-15.3 1-14.5 1-7.9 1-2.1 1 6.3 1 13.8 1 18.6 1 21.3 1 22 1 16.7 1 9.5 1 1.1 1-5.8 1-18.3 1-17.8 1-36.3 1-52 1-52.2 1-48.1 1-35.1 1-25.4 1-14.7 1-5.8 1 .1 1 .7 1 0 1-2 1 1.8 1 6 1 17.1 1 24.6 1 31.1 1 43.4 1 38.9 1 38.1 1 37.9 1 34.6 1 26.5 1 19.7 1 13.1 1 4.6 1-4.1 1-11.8 1-14.6 1-13.3 1-9.5 1-6.4 1-4 1-.4 1 2 1 3.2 1 3.8 1 3.8 1 3.8 1 2.9 1 2.6"/>
<path stroke="#b6ff49" d="M0 437.3l1-.6 1-.6 1-.5 1-.5 1-.5 1-.5 1-.8 1-.5 1-.2 1 .1 1 .2 1 .9 1 1.3 1 1.1 1 .9 1 .2 1-.2 1-.1 1 .2 1 0 1-1 1-6.4 1-9.2 1-4.9 1-20.8 1-19.9 1-18 1-13.6 1-7.1 1 .4 1 1.4 1-.2 1 0 1 2.5 1 6.1 1 5.2 1 9.5 1 11.4 1 18.4 1 20 1 15.4 1 9 1 3.5 1 .1 1-.2 1-.3 1-.4 1-.5 1-.3 1-.4 1-.3 1-.3 1-.2 1-.3 1-.2 1-.3 1-.2 1-.2 1-.1 1-.2 1-.1 1-.1"/>
<path stroke="#b5004a" d="M0 629.8l1-9.6 1-11.8 1-14 1-15 1-16.5 1-15.7 1-15.3 1-14.5 1-8 1-2.1 1 6.3 1 13.9 1 18.6 1 21.4 1 22.1 1 16.8 1 9.6 1 1.1 1-5.8 1-18.3 1-18 1-36.5 1-52.1 1-52.5 1-48.4 1-35.2 1-25.6 1-14.6 1-5.8 1 .1 1 .8 1 0 1-2 1 1.8 1 5.9 1 17.2 1 24.6 1 31.3 1 43.4 1 39.2 1 38.3 1 38.1 1 34.8 1 26.6 1 19.7 1 13.2 1 4.6 1-4.1 1-11.9 1-14.7 1-13.4 1-9.5 1-6.4 1-4.1 1-.4 1 2.1 1 3.2 1 3.8 1 3.7 1 3.8 1 2.9 1 2.6"/>
<path stroke="#b5ff4a" d="M0 437.3l1-.6 1-.6 1-.5 1-.5 1-.5 1-.5 1-.8 1-.6 1-.1 1 .1 1 .2 1 .9 1 1.3 1 1.1 1 .9 1 .3 1-.3 1 0 1 .1 1 0 1-1 1-6.4 1-9.2 1-5 1-20.9 1-20 1-18 1-13.6 1-7.1 1 .5 1 1.4 1-.2 1-.1 1 2.5 1 6.1 1 5.2 1 9.6 1 11.4 1 18.5 1 20.1 1 15.4 1 9 1 3.5 1 .1 1-.2 1-.3 1-.4 1-.5 1-.3 1-.4 1-.3 1-.2 1-.3 1-.3 1-.2 1-.3 1-.2 1-.2 1-.1 1-.2 1-.1 1-.1"/>
<path stroke="#b5004a" d="M0 630.2l1-9.6 1-11.9 1-14 1-15.2 1-16.5 1-15.7 1-15.4 1-14.6 1-8 1-2.1 1 6.3 1 13.9 1 18.7 1 21.6 1 22.2 1 16.8 1 9.7 1 1.1 1-5.8 1-18.4 1-18.1 1-36.7 1-52.3 1-52.7 1-48.7 1-35.4 1-25.6 1-14.7 1-5.7 1 .2 1 .9 1-.1 1-2 1 1.7 1 6 1 17.1 1 24.7 1 31.4 1 43.6 1 39.4 1 38.5 1 38.3 1 34.9 1 26.7 1 19.8 1 13.3 1 4.6 1-4.2 1-11.9 1-14.7 1-13.5 1-9.6 1-6.5 1-4 1-.5 1 2.1 1 3.2 1 3.8 1 3.7 1 3.8 1 3 1 2.5"/>
<path stroke="#b5ff4a" d="M0 437.3l1-.6 1-.6 1-.5 1-.5 1-.5 1-.5 1-.8 1-.6 1-.1 1 .1 1 .2 1 .9 1 1.3 1 1.1 1 1 1 .2 1-.2 1-.1 1 .2 1 0 1-1 1-6.4 1-9.3 1-5.1 1-21 1-20 1-18.1 1-13.6 1-7 1 .4 1 1.5 1-.2 1-.1 1 2.5 1 6 1 5.3 1 9.6 1 11.5 1 18.5 1 20.1 1 15.5 1 9 1 3.5 1 .1 1-.2 1-.2 1-.5 1-.4 1-.4 1-.3 1-.3 1-.3 1-.3 1-.3 1-.2 1-.2 1-.3 1-.2 1-.1 1-.2 1-.1 1-.1"/>
<path stroke="#b4004b" d="M0 630.6l1-9.7 1-12 1-14 1-15.2 1-16.6 1-15.8 1-15.5 1-14.6 1-8 1-2.1 1 6.3 1 14 1 18.7 1 21.7 1 22.3 1 17 1 9.7 1 1.2 1-5.9 1-18.4 1-18.3 1-36.9 1-52.4 1-53 1-49 1-35.5 1-25.7 1-14.7 1-5.6 1 .2 1 .9 1 0 1-2 1 1.6 1 6 1 17.1 1 24.7 1 31.5 1 43.9 1 39.5 1 38.7 1 38.5 1 35 1 26.9 1 19.8 1 13.4 1 4.6 1-4.2 1-12 1-14.8 1-13.6 1-9.6 1-6.5 1-4.1 1-.4 1 2 1 3.2 1 3.8 1 3.7 1 3.8 1 3 1 2.6"/>
<path stroke="#b4ff4b" d="M0 437.3l1-.6 1-.6 1-.5 1-.5 1-.5 1-.5 1-.8 1-.6 1-.1 1 .1 1 .2 1 .9 1 1.3 1 1.1 1 1 1 .2 1-.2 1-.1 1 .2 1 0 1-1 1-6.4 1-9.3 1-5.2 1-21.1 1-20.1 1-18.1 1-13.5 1-7 1 .4 1 1.4 1-.2 1 0 1 2.4 1 6 1 5.3 1 9.7 1 11.5 1 18.6 1 20.2 1 15.5 1 9.1 1 3.4 1 .2 1-.2 1-.3 1-.5 1-.4 1-.4 1-.3 1-.3 1-.3 1-.3 1-.2 1-.3 1-.2 1-.3 1-.2 1-.1 1-.2 1-.1 1-.1"/>
<path stroke="#b4004b" d="M0 631l1-9.8 1-12 1-14.1 1-15.3 1-16.6 1-15.9 1-15.5 1-14.6 1-8.1 1-2.1 1 6.3 1 14 1 18.8 1 21.8 1 22.5 1 17 1 9.8 1 1.2 1-5.9 1-18.5 1-18.3 1-37.2 1-52.6 1-53.2 1-49.2 1-35.7 1-25.9 1-14.6 1-5.6 1 .4 1 .9 1-.1 1-2 1 1.6 1 5.9 1 17.1 1 24.8 1 31.7 1 44 1 39.7 1 39 1 38.6 1 35.1 1 27 1 20 1 13.4 1 4.6 1-4.2 1-12.1 1-14.9 1-13.6 1-9.7 1-6.5 1-4.1 1-.5 1 2.1 1 3.2 1 3.7 1 3.7 1 3.8 1 3 1 2.6"/>
<path stroke="#b4ff4b" d="M0 437.3l1-.6 1-.5 1-.6 1-.5 1-.5 1-.5 1-.8 1-.6 1-.1 1 .1 1 .2 1 .9 1 1.3 1 1.2 1 .9 1 .3 1-.2 1-.1 1 .1 1 .1 1-1 1-6.4 1-9.4 1-5.3 1-21.1 1-20.2 1-18.2 1-13.5 1-6.9 1 .4 1 1.4 1-.2 1 0 1 2.4 1 6 1 5.3 1 9.7 1 11.6 1 18.6 1 20.2 1 15.6 1 9.1 1 3.5 1 .1 1-.2 1-.3 1-.4 1-.5 1-.4 1-.3 1-.3 1-.3 1-.3 1-.2 1-.3 1-.2 1-.3 1-.2 1-.1 1-.2 1-.1 1-.1"/>
<path stroke="#b3004c" d="M0 631.4l1-9.8 1-12.1 1-14.2 1-15.4 1-16.6 1-16 1-15.5 1-14.7 1-8.1 1-2.1 1 6.3 1 14.1 1 18.9 1 21.8 1 22.6 1 17.1 1 9.9 1 1.2 1-5.9 1-18.6 1-18.4 1-37.4 1-52.7 1-53.6 1-49.4 1-35.9 1-25.9 1-14.6 1-5.6 1 .5 1 .9 1 0 1-2.1 1 1.6 1 5.9 1 17.1 1 24.9 1 31.7 1 44.2 1 39.9 1 39.2 1 38.8 1 35.3 1 27 1 20.1 1 13.4 1 4.7 1-4.2 1-12.2 1-15 1-13.7 1-9.7 1-6.6 1-4.1 1-.4 1 2 1 3.2 1 3.7 1 3.7 1 3.8 1 3 1 2.6"/>
<path stroke="#b3ff4c" d="M0 437.3l1-.6 1-.5 1-.6 1-.5 1-.5 1-.5 1-.8 1-.6 1-.1 1 .1 1 .2 1 .9 1 1.3 1 1.2 1 .9 1 .3 1-.2 1-.1 1 .2 1 0 1-1 1-6.4 1-9.4 1-5.3 1-21.3 1-20.3 1-18.2 1-13.5 1-6.9 1 .5 1 1.4 1-.2 1 0 1 2.4 1 6 1 5.3 1 9.8 1 11.5 1 18.7 1 20.3 1 15.6 1 9.1 1 3.5 1 .1 1-.2 1-.2 1-.5 1-.5 1-.3 1-.4 1-.3 1-.3 1-.3 1-.2 1-.3 1-.2 1-.3 1-.2 1-.1 1-.2 1-.1 1-.1"/>
<path stroke="#b2004c" d="M0 631.7l1-9.8 1-12.1 1-14.3 1-15.4 1-16.8 1-15.9 1-15.6 1-14.8 1-8.1 1-2.1 1 6.3 1 14.1 1 19 1 22 1 22.7 1 17.2 1 9.9 1 1.2 1-5.9 1-18.6 1-18.6 1-37.6 1-52.9 1-53.8 1-49.7 1-36 1-26 1-14.6 1-5.5 1 .5 1 1 1-.1 1-2 1 1.5 1 5.9 1 17 1 25 1 31.9 1 44.3 1 40.1 1 39.4 1 39 1 35.4 1 27.2 1 20.1 1 13.5 1 4.7 1-4.2 1-12.3 1-15.1 1-13.7 1-9.8 1-6.6 1-4.1 1-.5 1 2.1 1 3.1 1 3.8 1 3.7 1 3.8 1 2.9 1 2.6"/>
<path stroke="#b2ff4c" d="M0 437.4l1-.6 1-.6 1-.6 1-.5 1-.4 1-.6 1-.8 1-.6 1-.1 1 .1 1 .2 1 .9 1 1.3 1 1.2 1 1 1 .2 1-.2 1 0 1 .1 1 .1 1-1 1-6.5 1-9.4 1-5.4 1-21.4 1-20.3 1-18.2 1-13.5 1-6.8 1 .4 1 1.5 1-.2 1-.1 1 2.4 1 5.9 1 5.3 1 9.9 1 11.6 1 18.7 1 20.4 1 15.6 1 9.1 1 3.5 1 .1 1-.1 1-.3 1-.5 1-.5 1-.3 1-.4 1-.3 1-.3 1-.3 1-.2 1-.3 1-.2 1-.3 1-.2 1-.1 1-.2 1-.1 1-.1"/>
<path stroke="#b2004d" d="M0 632.1l1-9.9 1-12.2 1-14.3 1-15.5 1-16.8 1-16 1-15.7 1-14.7 1-8.2 1-2.1 1 6.3 1 14.2 1 19 1 22.1 1 22.8 1 17.3 1 10 1 1.2 1-5.9 1-18.7 1-18.7 1-37.8 1-53 1-54.1 1-49.9 1-36.2 1-26.1 1-14.6 1-5.5 1 .6 1 1 1 0 1-2.1 1 1.5 1 5.8 1 17.1 1 25 1 32 1 44.5 1 40.4 1 39.5 1 39.2 1 35.5 1 27.3 1 20.2 1 13.6 1 4.7 1-4.3 1-12.3 1-15.1 1-13.9 1-9.8 1-6.6 1-4.2 1-.4 1 2 1 3.2 1 3.7 1 3.7 1 3.8 1 3 1 2.6"/>
<path stroke="#b2ff4d" d="M0 437.4l1-.6 1-.6 1-.5 1-.5 1-.5 1-.6 1-.8 1-.6 1-.2 1 .1 1 .2 1 1 1 1.3 1 1.2 1 1 1 .3 1-.2 1-.1 1 .2 1 0 1-1 1-6.4 1-9.5 1-5.5 1-21.4 1-20.5 1-18.2 1-13.4 1-6.8 1 .5 1 1.4 1-.2 1-.1 1 2.4 1 5.9 1 5.3 1 9.9 1 11.7 1 18.8 1 20.3 1 15.8 1 9 1 3.5 1 .2 1-.2 1-.3 1-.5 1-.4 1-.4 1-.4 1-.3 1-.3 1-.3 1-.2 1-.3 1-.2 1-.2 1-.2 1-.2 1-.2 1-.1 1-.1"/>
<path stroke="#b1004e" d="M0 632.5l1-9.9 1-12.3 1-14.4 1-15.5 1-16.9 1-16.1 1-15.7 1-14.8 1-8.2 1-2.1 1 6.3 1 14.3 1 19 1 22.2 1 22.9 1 17.4 1 10.1 1 1.2 1-6 1-18.7 1-18.8 1-38 1-53.2 1-54.3 1-50.2 1-36.3 1-26.2 1-14.6 1-5.4 1 .6 1 1.1 1 0 1-2.1 1 1.4 1 5.8 1 17.1 1 25 1 32.2 1 44.6 1 40.6 1 39.7 1 39.4 1 35.6 1 27.4 1 20.3 1 13.7 1 4.7 1-4.3 1-12.4 1-15.2 1-13.9 1-9.9 1-6.7 1-4.1 1-.5 1 2.1 1 3.1 1 3.7 1 3.7 1 3.8 1 3 1 2.6"/>
<path stroke="#b1ff4e" d="M0 437.4l1-.6 1-.6 1-.5 1-.5 1-.5 1-.7 1-.7 1-.6 1-.2 1 .1 1 .2 1 1 1 1.3 1 1.2 1 1 1 .3 1-.2 1-.1 1 .2 1 .1 1-1 1-6.5 1-9.5 1-5.6 1-21.5 1-20.5 1-18.3 1-13.4 1-6.7 1 .5 1 1.4 1-.2 1-.1 1 2.4 1 5.9 1 5.3 1 10 1 11.7 1 18.8 1 20.4 1 15.8 1 9.1 1 3.5 1 .1 1-.2 1-.3 1-.4 1-.5 1-.4 1-.3 1-.4 1-.3 1-.2 1-.3 1-.3 1-.2 1-.2 1-.2 1-.2 1-.2 1-.1 1-.1"/>
<path stroke="#b1004e" d="M0 632.9l1-10 1-12.3 1-14.5 1-15.6 1-16.9 1-16.2 1-15.7 1-14.9 1-8.2 1-2.1 1 6.3 1 14.3 1 19.1 1 22.4 1 23 1 17.4 1 10.1 1 1.3 1-6 1-18.8 1-18.9 1-38.2 1-53.4 1-54.5 1-50.4 1-36.6 1-26.2 1-14.6 1-5.4 1 .8 1 1.1 1-.1 1-2.1 1 1.5 1 5.7 1 17.1 1 25.1 1 32.3 1 44.7 1 40.8 1 39.9 1 39.6 1 35.7 1 27.6 1 20.3 1 13.8 1 4.7 1-4.3 1-12.5 1-15.3 1-14 1-10 1-6.6 1-4.2 1-.4 1 2 1 3.1 1 3.7 1 3.7 1 3.8 1 3 1 2.6"/>
<path stroke="#b1ff4e" d="M0 437.4l1-.6 1-.6 1-.5 1-.5 1-.5 1-.7 1-.7 1-.7 1-.1 1 .1 1 .2 1 1 1 1.3 1 1.2 1 1 1 .3 1-.2 1 0 1 .2 1 0 1-1 1-6.4 1-9.5 1-5.8 1-21.6 1-20.6 1-18.3 1-13.3 1-6.7 1 .5 1 1.5 1-.2 1-.1 1 2.3 1 5.9 1 5.3 1 10 1 11.7 1 18.9 1 20.5 1 15.8 1 9.1 1 3.5 1 .1 1-.2 1-.2 1-.5 1-.5 1-.4 1-.3 1-.4 1-.3 1-.2 1-.3 1-.3 1-.2 1-.2 1-.2 1-.2 1-.2 1-.1 1-.1"/>
<path stroke="#b0004f" d="M0 633.3l1-10.1 1-12.4 1-14.5 1-15.7 1-16.9 1-16.2 1-15.9 1-14.8 1-8.3 1-2.1 1 6.3 1 14.4 1 19.1 1 22.5 1 23.1 1 17.5 1 10.2 1 1.3 1-6 1-18.8 1-19 1-38.5 1-53.5 1-54.8 1-50.7 1-36.7 1-26.3 1-14.6 1-5.3 1 .8 1 1.2 1-.1 1-2.1 1 1.4 1 5.7 1 17.1 1 25.1 1 32.4 1 45 1 40.9 1 40.1 1 39.8 1 35.8 1 27.7 1 20.4 1 13.8 1 4.8 1-4.4 1-12.5 1-15.4 1-14.1 1-10 1-6.6 1-4.3 1-.4 1 2 1 3.2 1 3.6 1 3.7 1 3.8 1 3 1 2.7"/>
<path stroke="#b0ff4f" d="M0 437.4l1-.6 1-.6 1-.5 1-.5 1-.5 1-.7 1-.7 1-.7 1-.1 1 .1 1 .2 1 1 1 1.3 1 1.2 1 1.1 1 .2 1-.1 1-.1 1 .2 1 .1 1-1 1-6.5 1-9.5 1-5.9 1-21.6 1-20.7 1-18.3 1-13.3 1-6.7 1 .6 1 1.4 1-.2 1-.1 1 2.3 1 5.9 1 5.3 1 10 1 11.8 1 18.9 1 20.6 1 15.8 1 9.1 1 3.5 1 .2 1-.2 1-.3 1-.5 1-.5 1-.4 1-.3 1-.3 1-.3 1-.3 1-.3 1-.3 1-.2 1-.2 1-.2 1-.2 1-.2 1-.1 1-.1"/>
<path stroke="#b0004f" d="M0 633.6l1-10.1 1-12.4 1-14.6 1-15.7 1-17.1 1-16.2 1-15.9 1-14.9 1-8.3 1-2.1 1 6.3 1 14.4 1 19.2 1 22.6 1 23.3 1 17.6 1 10.2 1 1.3 1-6 1-18.9 1-19.1 1-38.7 1-53.7 1-55 1-50.9 1-36.9 1-26.4 1-14.6 1-5.3 1 .9 1 1.2 1 0 1-2.1 1 1.3 1 5.7 1 17 1 25.3 1 32.5 1 45.1 1 41.1 1 40.3 1 39.9 1 36.1 1 27.7 1 20.5 1 13.9 1 4.8 1-4.4 1-12.6 1-15.5 1-14.1 1-10.1 1-6.7 1-4.2 1-.4 1 2 1 3.1 1 3.6 1 3.7 1 3.8 1 3 1 2.7"/>
<path stroke="#b0ff4f" d="M0 437.5l1-.7 1-.6 1-.5 1-.5 1-.5 1-.7 1-.8 1-.6 1-.1 1 .1 1 .2 1 1 1 1.3 1 1.3 1 1 1 .3 1-.2 1 0 1 .2 1 0 1-1 1-6.4 1-9.6 1-6 1-21.7 1-20.7 1-18.4 1-13.2 1-6.6 1 .5 1 1.4 1-.2 1-.1 1 2.3 1 5.8 1 5.4 1 10.1 1 11.8 1 18.9 1 20.6 1 15.9 1 9.1 1 3.5 1 .2 1-.2 1-.3 1-.5 1-.5 1-.3 1-.4 1-.3 1-.3 1-.3 1-.3 1-.2 1-.3 1-.2 1-.2 1-.2 1-.2 1-.1 1-.1"/>
<path stroke="#af0050" d="M0 634l1-10.1 1-12.5 1-14.7 1-15.8 1-17.1 1-16.3 1-15.9 1-15 1-8.3 1-2.1 1 6.3 1 14.5 1 19.3 1 22.6 1 23.4 1 17.7 1 10.3 1 1.3 1-6 1-19 1-19.2 1-38.9 1-53.8 1-55.3 1-51.2 1-37 1-26.5 1-14.6 1-5.2 1 1 1 1.2 1 0 1-2.2 1 1.4 1 5.6 1 17 1 25.3 1 32.7 1 45.2 1 41.3 1 40.5 1 40.1 1 36.2 1 27.9 1 20.6 1 13.9 1 4.8 1-4.4 1-12.7 1-15.6 1-14.2 1-10.1 1-6.7 1-4.3 1-.4 1 2 1 3.1 1 3.7 1 3.6 1 3.9 1 3 1 2.6"/>
<path stroke="#afff50" d="M0 437.5l1-.7 1-.6 1-.5 1-.5 1-.5 1-.7 1-.8 1-.6 1-.1 1 .1 1 .2 1 1 1 1.3 1 1.3 1 1 1 .3 1-.2 1 0 1 .2 1 .1 1-1 1-6.5 1-9.6 1-6 1-21.9 1-20.8 1-18.4 1-13.2 1-6.5 1 .5 1 1.5 1-.2 1-.1 1 2.2 1 5.8 1 5.4 1 10.1 1 11.9 1 19 1 20.6 1 15.9 1 9.1 1 3.6 1 .1 1-.2 1-.3 1-.5 1-.4 1-.4 1-.4 1-.3 1-.3 1-.3 1-.3 1-.2 1-.3 1-.2 1-.2 1-.2 1-.2 1-.1 1-.1"/>
<path stroke="#af0050" d="M0 634.4l1-10.2 1-12.6 1-14.7 1-15.8 1-17.2 1-16.4 1-15.9 1-15 1-8.4 1-2.1 1 6.3 1 14.5 1 19.4 1 22.7 1 23.5 1 17.8 1 10.4 1 1.3 1-6 1-19.1 1-19.3 1-39.1 1-53.9 1-55.6 1-51.4 1-37.2 1-26.5 1-14.7 1-5.1 1 1 1 1.3 1 0 1-2.2 1 1.3 1 5.6 1 17 1 25.4 1 32.7 1 45.4 1 41.5 1 40.7 1 40.3 1 36.3 1 28 1 20.7 1 13.9 1 4.9 1-4.5 1-12.7 1-15.7 1-14.3 1-10.1 1-6.7 1-4.3 1-.5 1 2.1 1 3.1 1 3.6 1 3.6 1 3.9 1 3 1 2.6"/>
<path stroke="#afff50" d="M0 437.5l1-.6 1-.7 1-.5 1-.5 1-.5 1-.7 1-.8 1-.6 1-.1 1 .1 1 .2 1 1 1 1.3 1 1.3 1 1 1 .3 1-.1 1-.1 1 .2 1 .1 1-1 1-6.4 1-9.7 1-6.1 1-21.9 1-20.9 1-18.4 1-13.2 1-6.5 1 .6 1 1.4 1-.2 1-.1 1 2.2 1 5.8 1 5.4 1 10.2 1 11.9 1 19 1 20.7 1 15.9 1 9.2 1 3.5 1 .1 1-.2 1-.2 1-.5 1-.5 1-.4 1-.4 1-.3 1-.3 1-.3 1-.3 1-.2 1-.3 1-.2 1-.2 1-.2 1-.2 1-.1 1-.1"/>
<path stroke="#ae0051" d="M0 634.8l1-10.3 1-12.6 1-14.8 1-15.9 1-17.2 1-16.5 1-16 1-15 1-8.4 1-2.2 1 6.4 1 14.6 1 19.4 1 22.9 1 23.6 1 17.8 1 10.4 1 1.4 1-6 1-19.1 1-19.5 1-39.3 1-54.1 1-55.8 1-51.7 1-37.3 1-26.6 1-14.7 1-5 1 1.1 1 1.3 1 0 1-2.2 1 1.2 1 5.6 1 17 1 25.4 1 32.9 1 45.6 1 41.6 1 40.9 1 40.5 1 36.4 1 28.1 1 20.8 1 14 1 4.9 1-4.5 1-12.8 1-15.8 1-14.3 1-10.2 1-6.8 1-4.3 1-.4 1 2 1 3.1 1 3.6 1 3.6 1 3.9 1 3 1 2.7"/>
<path stroke="#aeff51" d="M0 437.5l1-.6 1-.6 1-.6 1-.5 1-.5 1-.7 1-.8 1-.6 1-.2 1 .1 1 .3 1 1 1 1.3 1 1.3 1 1 1 .4 1-.2 1 0 1 .2 1 .1 1-1 1-6.5 1-9.7 1-6.2 1-22 1-21 1-18.4 1-13.1 1-6.5 1 .6 1 1.5 1-.2 1-.2 1 2.2 1 5.8 1 5.4 1 10.2 1 11.9 1 19.1 1 20.7 1 16 1 9.2 1 3.5 1 .2 1-.2 1-.3 1-.5 1-.5 1-.4 1-.3 1-.4 1-.3 1-.3 1-.3 1-.2 1-.3 1-.2 1-.2 1-.2 1-.2 1-.1 1-.1"/>
<path stroke="#ad0052" d="M0 635.1l1-10.3 1-12.7 1-14.8 1-16 1-17.2 1-16.5 1-16.1 1-15.1 1-8.3 1-2.3 1 6.4 1 14.6 1 19.5 1 23 1 23.7 1 17.9 1 10.5 1 1.4 1-6 1-19.2 1-19.6 1-39.5 1-54.2 1-56.1 1-51.9 1-37.5 1-26.7 1-14.6 1-5 1 1.1 1 1.4 1 0 1-2.2 1 1.2 1 5.5 1 17 1 25.5 1 33 1 45.7 1 41.9 1 41 1 40.7 1 36.5 1 28.2 1 20.9 1 14.1 1 4.8 1-4.4 1-12.9 1-15.8 1-14.5 1-10.2 1-6.8 1-4.3 1-.5 1 2 1 3.1 1 3.6 1 3.7 1 3.8 1 3 1 2.7"/>
<path stroke="#adff52" d="M0 437.5l1-.6 1-.6 1-.6 1-.5 1-.5 1-.7 1-.8 1-.6 1-.2 1 .1 1 .3 1 1 1 1.3 1 1.3 1 1.1 1 .3 1-.2 1 0 1 .2 1 .1 1-1 1-6.5 1-9.7 1-6.3 1-22.1 1-21 1-18.4 1-13.1 1-6.4 1 .6 1 1.4 1-.2 1-.1 1 2.1 1 5.8 1 5.4 1 10.3 1 11.9 1 19.2 1 20.7 1 16 1 9.2 1 3.5 1 .2 1-.2 1-.3 1-.5 1-.5 1-.4 1-.3 1-.4 1-.3 1-.3 1-.2 1-.3 1-.3 1-.2 1-.2 1-.2 1-.2 1-.1 1-.1"/>
<path stroke="#ad0052" d="M0 635.5l1-10.3 1-12.8 1-14.9 1-16 1-17.4 1-16.5 1-16.1 1-15.1 1-8.4 1-2.3 1 6.4 1 14.7 1 19.5 1 23.1 1 23.8 1 18 1 10.6 1 1.4 1-6.1 1-19.2 1-19.7 1-39.7 1-54.4 1-56.3 1-52.1 1-37.7 1-26.7 1-14.7 1-5 1 1.3 1 1.4 1 0 1-2.2 1 1.1 1 5.5 1 17.1 1 25.5 1 33.1 1 45.8 1 42.1 1 41.3 1 40.8 1 36.6 1 28.3 1 21 1 14.1 1 4.9 1-4.5 1-12.9 1-15.9 1-14.6 1-10.2 1-6.8 1-4.4 1-.4 1 2 1 3 1 3.6 1 3.7 1 3.8 1 3 1 2.7"/>
<path stroke="#adff52" d="M0 437.5l1-.6 1-.6 1-.6 1-.5 1-.5 1-.7 1-.8 1-.6 1-.2 1 .1 1 .2 1 1.1 1 1.3 1 1.3 1 1.1 1 .3 1-.1 1 0 1 .2 1 0 1-.9 1-6.5 1-9.7 1-6.5 1-22.1 1-21.1 1-18.5 1-13 1-6.4 1 .6 1 1.4 1-.1 1-.2 1 2.2 1 5.7 1 5.4 1 10.3 1 12 1 19.2 1 20.8 1 16 1 9.2 1 3.6 1 .1 1-.2 1-.3 1-.5 1-.5 1-.4 1-.3 1-.4 1-.3 1-.3 1-.2 1-.3 1-.3 1-.2 1-.2 1-.2 1-.2 1-.1 1-.1"/>
<path stroke="#ac0053" d="M0 635.9l1-10.4 1-12.8 1-15 1-16.1 1-17.4 1-16.6 1-16.1 1-15.2 1-8.4 1-2.3 1 6.4 1 14.7 1 19.6 1 23.2 1 24 1 18.1 1 10.5 1 1.5 1-6.1 1-19.3 1-19.8 1-39.9 1-54.5 1-56.6 1-52.3 1-37.8 1-26.9 1-14.6 1-5 1 1.4 1 1.4 1 0 1-2.2 1 1.1 1 5.5 1 17 1 25.5 1 33.3 1 46 1 42.2 1 41.5 1 41 1 36.7 1 28.5 1 21 1 14.2 1 4.9 1-4.5 1-13 1-16 1-14.6 1-10.3 1-6.9 1-4.3 1-.5 1 2 1 3.1 1 3.5 1 3.7 1 3.8 1 3.1 1 2.6"/>
<path stroke="#acff53" d="M0 437.6l1-.7 1-.6 1-.6 1-.5 1-.5 1-.7 1-.8 1-.7 1-.1 1 .1 1 .2 1 1.1 1 1.3 1 1.3 1 1.1 1 .3 1-.1 1 0 1 .2 1 .1 1-1 1-6.5 1-9.7 1-6.5 1-22.3 1-21.2 1-18.5 1-12.9 1-6.3 1 .5 1 1.5 1-.2 1-.1 1 2.1 1 5.7 1 5.5 1 10.3 1 12 1 19.2 1 20.9 1 16 1 9.3 1 3.5 1 .1 1-.1 1-.3 1-.5 1-.5 1-.4 1-.4 1-.3 1-.4 1-.3 1-.2 1-.3 1-.3 1-.2 1-.2 1-.2 1-.2 1-.1 1-.1"/>
<path stroke="#ac0053" d="M0 636.3l1-10.5 1-12.9 1-15 1-16.2 1-17.4 1-16.7 1-16.2 1-15.2 1-8.4 1-2.3 1 6.5 1 14.7 1 19.7 1 23.3 1 24 1 18.2 1 10.6 1 1.5 1-6.1 1-19.4 1-19.9 1-40 1-54.8 1-56.7 1-52.7 1-37.9 1-27 1-14.6 1-4.9 1 1.5 1 1.4 1 0 1-2.2 1 1 1 5.5 1 17 1 25.6 1 33.4 1 46.1 1 42.4 1 41.7 1 41.2 1 36.8 1 28.6 1 21.1 1 14.2 1 5 1-4.6 1-13 1-16.1 1-14.7 1-10.3 1-6.9 1-4.4 1-.5 1 2 1 3.1 1 3.5 1 3.7 1 3.8 1 3.1 1 2.7"/>
<path stroke="#acff53" d="M0 437.6l1-.7 1-.6 1-.6 1-.5 1-.5 1-.7 1-.8 1-.7 1-.1 1 .1 1 .2 1 1.1 1 1.3 1 1.3 1 1.1 1 .4 1-.1 1-.1 1 .3 1 0 1-.9 1-6.5 1-9.8 1-6.6 1-22.3 1-21.3 1-18.5 1-13 1-6.2 1 .6 1 1.4 1-.1 1-.2 1 2.1 1 5.7 1 5.5 1 10.3 1 12.1 1 19.3 1 20.9 1 16 1 9.3 1 3.5 1 .2 1-.2 1-.3 1-.5 1-.5 1-.4 1-.4 1-.3 1-.3 1-.3 1-.3 1-.3 1-.3 1-.2 1-.2 1-.2 1-.2 1-.1 1-.1"/>
<path stroke="#ab0054" d="M0 636.6l1-10.5 1-12.9 1-15.1 1-16.2 1-17.5 1-16.7 1-16.3 1-15.2 1-8.5 1-2.3 1 6.5 1 14.7 1 19.8 1 23.4 1 24.1 1 18.3 1 10.7 1 1.5 1-6.1 1-19.5 1-20 1-40.2 1-54.9 1-57 1-52.9 1-38.1 1-27 1-14.6 1-4.9 1 1.5 1 1.5 1 0 1-2.2 1 1 1 5.4 1 17 1 25.7 1 33.5 1 46.3 1 42.6 1 41.8 1 41.3 1 37 1 28.7 1 21.2 1 14.3 1 5 1-4.6 1-13.2 1-16.1 1-14.8 1-10.4 1-6.9 1-4.4 1-.4 1 2 1 3 1 3.6 1 3.6 1 3.8 1 3.1 1 2.7"/>
<path stroke="#abff54" d="M0 437.6l1-.7 1-.6 1-.6 1-.5 1-.5 1-.7 1-.8 1-.7 1-.1 1 .1 1 .2 1 1 1 1.4 1 1.4 1 1.1 1 .3 1-.1 1 0 1 .2 1 .1 1-1 1-6.5 1-9.8 1-6.7 1-22.4 1-21.3 1-18.6 1-12.9 1-6.2 1 .6 1 1.5 1-.2 1-.2 1 2.1 1 5.7 1 5.5 1 10.4 1 12.1 1 19.3 1 20.9 1 16.2 1 9.2 1 3.5 1 .2 1-.2 1-.3 1-.5 1-.5 1-.4 1-.4 1-.3 1-.3 1-.3 1-.3 1-.3 1-.3 1-.2 1-.2 1-.2 1-.2 1-.1 1-.1"/>
<path stroke="#ab0054" d="M0 637l1-10.6 1-13 1-15.2 1-16.2 1-17.6 1-16.7 1-16.3 1-15.3 1-8.5 1-2.3 1 6.5 1 14.8 1 19.8 1 23.5 1 24.3 1 18.3 1 10.7 1 1.6 1-6.2 1-19.4 1-20.2 1-40.4 1-55.1 1-57.2 1-53.1 1-38.3 1-27.1 1-14.6 1-4.7 1 1.5 1 1.6 1-.1 1-2.2 1 1 1 5.3 1 17 1 25.8 1 33.6 1 46.4 1 42.8 1 42 1 41.5 1 37.1 1 28.8 1 21.2 1 14.4 1 5 1-4.6 1-13.2 1-16.2 1-14.8 1-10.5 1-6.9 1-4.4 1-.5 1 2 1 3 1 3.6 1 3.6 1 3.8 1 3.1 1 2.7"/>
<path stroke="#abff54" d="M0 437.6l1-.7 1-.6 1-.6 1-.5 1-.5 1-.7 1-.8 1-.7 1-.1 1 .1 1 .2 1 1 1 1.4 1 1.4 1 1.1 1 .3 1-.1 1 0 1 .2 1 .1 1-.9 1-6.5 1-9.9 1-6.8 1-22.4 1-21.4 1-18.6 1-12.9 1-6.1 1 .6 1 1.5 1-.2 1-.2 1 2 1 5.7 1 5.5 1 10.4 1 12.2 1 19.3 1 21 1 16.2 1 9.2 1 3.6 1 .1 1-.2 1-.3 1-.5 1-.5 1-.4 1-.4 1-.3 1-.3 1-.3 1-.3 1-.3 1-.3 1-.2 1-.2 1-.2 1-.2 1-.1 1-.1"/>
<path stroke="#aa0055" d="M0 637.3l1-10.6 1-13 1-15.3 1-16.3 1-17.6 1-16.8 1-16.3 1-15.4 1-8.5 1-2.3 1 6.5 1 14.9 1 19.8 1 23.6 1 24.4 1 18.4 1 10.8 1 1.6 1-6.2 1-19.5 1-20.3 1-40.6 1-55.2 1-57.5 1-53.3 1-38.4 1-27.2 1-14.6 1-4.7 1 1.6 1 1.6 1-.1 1-2.2 1 1 1 5.3 1 17 1 25.8 1 33.7 1 46.6 1 42.9 1 42.2 1 41.7 1 37.2 1 28.9 1 21.3 1 14.5 1 5 1-4.6 1-13.3 1-16.3 1-14.9 1-10.5 1-6.9 1-4.5 1-.4 1 1.9 1 3.1 1 3.5 1 3.6 1 3.9 1 3 1 2.7"/>
<path stroke="#aaff55" d="M0 437.6l1-.6 1-.7 1-.6 1-.5 1-.5 1-.7 1-.8 1-.7 1-.1 1 .1 1 .2 1 1 1 1.4 1 1.4 1 1.1 1 .4 1-.1 1 0 1 .2 1 .1 1-1 1-6.5 1-9.8 1-7 1-22.5 1-21.5 1-18.6 1-12.8 1-6.1 1 .6 1 1.5 1-.2 1-.2 1 2.1 1 5.6 1 5.5 1 10.5 1 12.2 1 19.4 1 21 1 16.2 1 9.2 1 3.6 1 .2 1-.2 1-.3 1-.5 1-.6 1-.4 1-.3 1-.4 1-.3 1-.3 1-.3 1-.3 1-.3 1-.2 1-.2 1-.2 1-.2 1-.1 1-.1"/>
<path stroke="#a90056" d="M0 637.7l1-10.7 1-13.1 1-15.3 1-16.3 1-17.7 1-16.9 1-16.4 1-15.3 1-8.6 1-2.3 1 6.5 1 14.9 1 19.9 1 23.7 1 24.5 1 18.5 1 10.9 1 1.6 1-6.2 1-19.6 1-20.4 1-40.8 1-55.3 1-57.8 1-53.5 1-38.6 1-27.2 1-14.6 1-4.7 1 1.7 1 1.6 1 0 1-2.3 1 .9 1 5.3 1 17 1 25.9 1 33.8 1 46.7 1 43.2 1 42.3 1 41.9 1 37.3 1 29 1 21.4 1 14.5 1 5.1 1-4.7 1-13.3 1-16.4 1-15 1-10.5 1-7 1-4.4 1-.5 1 2 1 3 1 3.5 1 3.6 1 3.9 1 3 1 2.8"/>
<path stroke="#a9ff56" d="M0 437.6l1-.6 1-.7 1-.6 1-.5 1-.5 1-.7 1-.8 1-.7 1-.2 1 .1 1 .3 1 1 1 1.4 1 1.4 1 1.1 1 .4 1-.1 1 0 1 .2 1 .1 1-.9 1-6.5 1-9.9 1-7 1-22.7 1-21.5 1-18.6 1-12.8 1-6 1 .6 1 1.5 1-.2 1-.2 1 2 1 5.6 1 5.5 1 10.5 1 12.2 1 19.5 1 21.1 1 16.2 1 9.3 1 3.5 1 .2 1-.2 1-.3 1-.5 1-.5 1-.4 1-.4 1-.4 1-.3 1-.3 1-.3 1-.3 1-.3 1-.2 1-.2 1-.2 1-.2 1-.1 1-.1"/>
<path stroke="#a90056" d="M0 638.1l1-10.7 1-13.2 1-15.4 1-16.4 1-17.7 1-16.9 1-16.5 1-15.4 1-8.6 1-2.3 1 6.5 1 15 1 19.9 1 23.9 1 24.5 1 18.6 1 10.9 1 1.6 1-6.2 1-19.6 1-20.5 1-41 1-55.5 1-57.9 1-53.8 1-38.7 1-27.4 1-14.6 1-4.6 1 1.8 1 1.6 1 0 1-2.3 1 .9 1 5.3 1 17 1 25.9 1 33.9 1 46.9 1 43.3 1 42.5 1 42.1 1 37.4 1 29.2 1 21.4 1 14.6 1 5 1-4.6 1-13.4 1-16.5 1-15 1-10.6 1-7 1-4.5 1-.5 1 2 1 3 1 3.5 1 3.6 1 3.9 1 3.1 1 2.7"/>
<path stroke="#a9ff56" d="M0 437.7l1-.7 1-.7 1-.5 1-.6 1-.5 1-.7 1-.9 1-.6 1-.2 1 .1 1 .3 1 1 1 1.4 1 1.4 1 1.1 1 .4 1-.1 1 0 1 .3 1 .1 1-1 1-6.5 1-9.9 1-7.1 1-22.7 1-21.6 1-18.7 1-12.7 1-6 1 .7 1 1.4 1-.2 1-.1 1 1.9 1 5.6 1 5.5 1 10.6 1 12.2 1 19.5 1 21.1 1 16.3 1 9.3 1 3.5 1 .2 1-.2 1-.3 1-.5 1-.5 1-.4 1-.4 1-.4 1-.3 1-.3 1-.3 1-.3 1-.2 1-.3 1-.2 1-.2 1-.2 1-.1 1-.1"/>
<path stroke="#a80057" d="M0 638.4l1-10.7 1-13.3 1-15.4 1-16.5 1-17.8 1-16.9 1-16.5 1-15.5 1-8.5 1-2.4 1 6.5 1 15 1 20 1 24 1 24.7 1 18.6 1 11 1 1.6 1-6.2 1-19.7 1-20.6 1-41.2 1-55.6 1-58.2 1-54 1-38.9 1-27.4 1-14.6 1-4.6 1 1.9 1 1.7 1-.1 1-2.3 1 .9 1 5.2 1 17 1 26 1 34 1 47 1 43.5 1 42.8 1 42.2 1 37.5 1 29.3 1 21.5 1 14.6 1 5.1 1-4.7 1-13.5 1-16.5 1-15.1 1-10.6 1-7.1 1-4.5 1-.4 1 1.9 1 3 1 3.5 1 3.6 1 3.9 1 3.1 1 2.7"/>
<path stroke="#a8ff57" d="M0 437.7l1-.7 1-.6 1-.6 1-.6 1-.5 1-.7 1-.9 1-.6 1-.2 1 .1 1 .3 1 1 1 1.4 1 1.4 1 1.2 1 .4 1-.1 1 0 1 .2 1 .1 1-.9 1-6.5 1-10 1-7.2 1-22.8 1-21.6 1-18.7 1-12.7 1-5.9 1 .6 1 1.5 1-.2 1-.2 1 2 1 5.5 1 5.6 1 10.6 1 12.2 1 19.6 1 21.1 1 16.3 1 9.3 1 3.6 1 .1 1-.2 1-.3 1-.5 1-.5 1-.4 1-.4 1-.3 1-.4 1-.3 1-.3 1-.3 1-.2 1-.3 1-.2 1-.2 1-.2 1-.1 1-.1"/>
<path stroke="#a80057" d="M0 638.8l1-10.8 1-13.3 1-15.5 1-16.5 1-17.9 1-17 1-16.5 1-15.5 1-8.6 1-2.4 1 6.5 1 15.1 1 20.1 1 24 1 24.8 1 18.7 1 11 1 1.7 1-6.2 1-19.8 1-20.7 1-41.4 1-55.8 1-58.4 1-54.2 1-39 1-27.5 1-14.6 1-4.5 1 1.9 1 1.7 1 0 1-2.3 1 .8 1 5.2 1 17 1 26 1 34.1 1 47.2 1 43.7 1 42.9 1 42.3 1 37.7 1 29.4 1 21.6 1 14.7 1 5.1 1-4.8 1-13.5 1-16.6 1-15.2 1-10.6 1-7.1 1-4.5 1-.5 1 2 1 3 1 3.4 1 3.6 1 3.9 1 3.1 1 2.7"/>
<path stroke="#a8ff57" d="M0 437.7l1-.7 1-.6 1-.6 1-.6 1-.5 1-.7 1-.9 1-.7 1-.1 1 .1 1 .2 1 1.1 1 1.4 1 1.4 1 1.2 1 .4 1-.1 1 0 1 .3 1 .1 1-1 1-6.5 1-10 1-7.3 1-22.8 1-21.8 1-18.7 1-12.6 1-5.9 1 .7 1 1.5 1-.2 1-.2 1 1.9 1 5.5 1 5.6 1 10.6 1 12.3 1 19.6 1 21.2 1 16.3 1 9.3 1 3.6 1 .2 1-.2 1-.3 1-.6 1-.5 1-.4 1-.4 1-.3 1-.4 1-.3 1-.3 1-.3 1-.2 1-.3 1-.2 1-.2 1-.2 1-.1 1-.1"/>
<path stroke="#a70058" d="M0 639.1l1-10.8 1-13.4 1-15.5 1-16.6 1-17.9 1-17.1 1-16.6 1-15.5 1-8.6 1-2.3 1 6.4 1 15.1 1 20.2 1 24.1 1 24.9 1 18.8 1 11.1 1 1.7 1-6.3 1-19.8 1-20.8 1-41.6 1-55.9 1-58.7 1-54.4 1-39.2 1-27.5 1-14.6 1-4.5 1 2 1 1.8 1-.1 1-2.3 1 .8 1 5.2 1 16.9 1 26.1 1 34.3 1 47.3 1 43.8 1 43.1 1 42.5 1 37.8 1 29.5 1 21.7 1 14.7 1 5.1 1-4.7 1-13.6 1-16.8 1-15.2 1-10.7 1-7.1 1-4.5 1-.5 1 2 1 3 1 3.4 1 3.6 1 3.9 1 3.1 1 2.7"/>
<path stroke="#a7ff58" d="M0 437.7l1-.7 1-.6 1-.6 1-.6 1-.5 1-.7 1-.9 1-.7 1-.1 1 .1 1 .2 1 1.1 1 1.4 1 1.4 1 1.2 1 .4 1-.1 1 .1 1 .2 1 .1 1-.9 1-6.5 1-10.1 1-7.4 1-22.9 1-21.8 1-18.7 1-12.6 1-5.8 1 .6 1 1.5 1-.2 1-.2 1 1.9 1 5.5 1 5.6 1 10.7 1 12.3 1 19.6 1 21.3 1 16.3 1 9.3 1 3.6 1 .2 1-.2 1-.3 1-.5 1-.6 1-.4 1-.4 1-.3 1-.4 1-.3 1-.3 1-.3 1-.2 1-.3 1-.2 1-.2 1-.2 1-.1 1-.1"/>
<path stroke="#a70058" d="M0 639.5l1-10.9 1-13.4 1-15.6 1-16.7 1-17.9 1-17.2 1-16.6 1-15.5 1-8.7 1-2.3 1 6.4 1 15.2 1 20.2 1 24.2 1 25 1 18.9 1 11.2 1 1.7 1-6.3 1-19.9 1-20.9 1-41.8 1-56 1-58.9 1-54.7 1-39.3 1-27.6 1-14.6 1-4.5 1 2.1 1 1.8 1 0 1-2.4 1 .8 1 5.1 1 17 1 26.1 1 34.4 1 47.4 1 44 1 43.3 1 42.7 1 37.9 1 29.6 1 21.7 1 14.8 1 5.2 1-4.8 1-13.6 1-16.9 1-15.3 1-10.7 1-7.1 1-4.5 1-.5 1 1.9 1 3 1 3.4 1 3.6 1 3.9 1 3.1 1 2.8"/>
<path stroke="#a7ff58" d="M0 437.7l1-.7 1-.6 1-.6 1-.6 1-.5 1-.7 1-.9 1-.7 1-.1 1 .1 1 .2 1 1.1 1 1.4 1 1.5 1 1.1 1 .4 1 0 1 0 1 .3 1 .1 1-1 1-6.5 1-10 1-7.5 1-23 1-21.9 1-18.7 1-12.6 1-5.8 1 .7 1 1.5 1-.2 1-.2 1 1.9 1 5.5 1 5.5 1 10.8 1 12.3 1 19.7 1 21.3 1 16.3 1 9.4 1 3.5 1 .2 1-.2 1-.3 1-.5 1-.5 1-.5 1-.3 1-.4 1-.3 1-.4 1-.3 1-.2 1-.3 1-.3 1-.2 1-.2 1-.2 1-.1 1-.1"/>
<path stroke="#a60059" d="M0 639.9l1-11 1-13.5 1-15.6 1-16.7 1-18.1 1-17.1 1-16.7 1-15.6 1-8.7 1-2.3 1 6.5 1 15.2 1 20.2 1 24.3 1 25.2 1 18.9 1 11.2 1 1.7 1-6.2 1-20 1-21 1-42 1-56.2 1-59.1 1-54.9 1-39.4 1-27.7 1-14.6 1-4.4 1 2.1 1 1.9 1-.1 1-2.3 1 .7 1 5.1 1 16.9 1 26.2 1 34.5 1 47.6 1 44.2 1 43.4 1 42.9 1 38 1 29.7 1 21.8 1 14.9 1 5.1 1-4.7 1-13.8 1-16.9 1-15.3 1-10.8 1-7.1 1-4.6 1-.5 1 2 1 2.9 1 3.5 1 3.5 1 3.9 1 3.1 1 2.8"/>
<path stroke="#a6ff59" d="M0 437.8l1-.7 1-.7 1-.6 1-.6 1-.5 1-.7 1-.9 1-.7 1-.1 1 .1 1 .2 1 1.1 1 1.4 1 1.5 1 1.2 1 .4 1-.1 1 0 1 .3 1 .1 1-.9 1-6.5 1-10.1 1-7.6 1-23.1 1-21.9 1-18.8 1-12.5 1-5.7 1 .7 1 1.5 1-.2 1-.3 1 1.9 1 5.5 1 5.6 1 10.7 1 12.4 1 19.7 1 21.3 1 16.4 1 9.4 1 3.6 1 .2 1-.2 1-.4 1-.5 1-.5 1-.4 1-.4 1-.4 1-.3 1-.3 1-.3 1-.3 1-.3 1-.3 1-.2 1-.2 1-.2 1-.1 1-.1"/>
<path stroke="#a5005a" d="M0 640.2l1-11 1-13.5 1-15.8 1-16.7 1-18.1 1-17.2 1-16.7 1-15.7 1-8.7 1-2.3 1 6.5 1 15.2 1 20.3 1 24.5 1 25.2 1 19 1 11.3 1 1.7 1-6.3 1-20 1-21.1 1-42.2 1-56.3 1-59.3 1-55.2 1-39.5 1-27.8 1-14.6 1-4.4 1 2.2 1 1.9 1 0 1-2.4 1 .7 1 5.1 1 16.9 1 26.2 1 34.6 1 47.8 1 44.3 1 43.6 1 43.1 1 38.1 1 29.8 1 21.9 1 14.9 1 5.2 1-4.8 1-13.8 1-17 1-15.4 1-10.8 1-7.2 1-4.6 1-.5 1 2 1 2.9 1 3.5 1 3.5 1 3.9 1 3.1 1 2.8"/>
<path stroke="#a5ff5a" d="M0 437.8l1-.7 1-.7 1-.6 1-.6 1-.5 1-.7 1-.9 1-.7 1-.2 1 .2 1 .2 1 1.1 1 1.5 1 1.4 1 1.2 1 .4 1-.1 1 .1 1 .2 1 .2 1-1 1-6.5 1-10.1 1-7.7 1-23.1 1-22 1-18.8 1-12.5 1-5.7 1 .7 1 1.5 1-.2 1-.2 1 1.8 1 5.5 1 5.6 1 10.8 1 12.4 1 19.8 1 21.3 1 16.5 1 9.3 1 3.6 1 .2 1-.2 1-.3 1-.6 1-.5 1-.4 1-.4 1-.4 1-.3 1-.3 1-.3 1-.3 1-.3 1-.3 1-.2 1-.2 1-.2 1-.1 1-.1"/>
<path stroke="#a5005a" d="M0 640.6l1-11.1 1-13.6 1-15.8 1-16.8 1-18.1 1-17.3 1-16.8 1-15.6 1-8.8 1-2.3 1 6.5 1 15.3 1 20.3 1 24.6 1 25.3 1 19.1 1 11.3 1 1.8 1-6.3 1-20.1 1-21.2 1-42.4 1-56.4 1-59.6 1-55.3 1-39.8 1-27.8 1-14.6 1-4.3 1 2.2 1 2 1-.1 1-2.3 1 .6 1 5.1 1 16.9 1 26.3 1 34.7 1 47.9 1 44.5 1 43.8 1 43.2 1 38.2 1 29.9 1 22 1 14.9 1 5.2 1-4.8 1-13.8 1-17.1 1-15.5 1-10.9 1-7.1 1-4.6 1-.5 1 1.9 1 3 1 3.4 1 3.5 1 3.9 1 3.1 1 2.8"/>
<path stroke="#a5ff5a" d="M0 437.8l1-.7 1-.7 1-.6 1-.6 1-.5 1-.7 1-.9 1-.7 1-.2 1 .1 1 .3 1 1.1 1 1.5 1 1.4 1 1.2 1 .4 1 0 1 0 1 .3 1 .1 1-.9 1-6.5 1-10.2 1-7.8 1-23.2 1-22.1 1-18.8 1-12.4 1-5.6 1 .7 1 1.5 1-.2 1-.2 1 1.8 1 5.4 1 5.6 1 10.9 1 12.4 1 19.8 1 21.4 1 16.5 1 9.3 1 3.6 1 .2 1-.2 1-.3 1-.5 1-.6 1-.4 1-.4 1-.4 1-.3 1-.3 1-.3 1-.3 1-.3 1-.3 1-.2 1-.2 1-.2 1-.1 1-.1"/>
<path stroke="#a4005b" d="M0 640.9l1-11.1 1-13.6 1-15.9 1-16.9 1-18.1 1-17.4 1-16.8 1-15.7 1-8.7 1-2.4 1 6.5 1 15.3 1 20.5 1 24.6 1 25.4 1 19.2 1 11.4 1 1.8 1-6.4 1-20.1 1-21.3 1-42.6 1-56.6 1-59.8 1-55.5 1-39.9 1-27.9 1-14.6 1-4.2 1 2.3 1 1.9 1 0 1-2.4 1 .6 1 5 1 17 1 26.3 1 34.8 1 48 1 44.7 1 44 1 43.3 1 38.4 1 30 1 22 1 15.1 1 5.2 1-4.9 1-13.9 1-17.1 1-15.6 1-10.9 1-7.2 1-4.6 1-.5 1 2 1 2.9 1 3.4 1 3.5 1 3.9 1 3.1 1 2.8"/>
<path stroke="#a4ff5b" d="M0 437.8l1-.7 1-.7 1-.6 1-.6 1-.5 1-.7 1-.9 1-.7 1-.2 1 .1 1 .3 1 1.1 1 1.5 1 1.4 1 1.2 1 .5 1-.1 1 .1 1 .2 1 .2 1-1 1-6.5 1-10.2 1-7.8 1-23.3 1-22.2 1-18.8 1-12.3 1-5.7 1 .8 1 1.5 1-.2 1-.3 1 1.8 1 5.4 1 5.7 1 10.8 1 12.5 1 19.8 1 21.5 1 16.5 1 9.4 1 3.5 1 .2 1-.2 1-.3 1-.5 1-.6 1-.4 1-.4 1-.4 1-.3 1-.3 1-.3 1-.3 1-.3 1-.3 1-.2 1-.2 1-.2 1-.1 1-.1"/>
<path stroke="#a4005b" d="M0 641.3l1-11.2 1-13.7 1-15.9 1-16.9 1-18.3 1-17.3 1-16.9 1-15.7 1-8.8 1-2.4 1 6.5 1 15.4 1 20.5 1 24.7 1 25.5 1 19.3 1 11.4 1 1.8 1-6.3 1-20.2 1-21.4 1-42.8 1-56.7 1-60 1-55.8 1-40 1-28 1-14.6 1-4.2 1 2.4 1 2 1-.1 1-2.3 1 .5 1 5 1 17 1 26.3 1 35 1 48.1 1 44.8 1 44.2 1 43.5 1 38.5 1 30.1 1 22.1 1 15.1 1 5.2 1-4.8 1-14 1-17.2 1-15.7 1-10.9 1-7.2 1-4.7 1-.5 1 2 1 2.9 1 3.4 1 3.5 1 3.9 1 3.2 1 2.7"/>
<path stroke="#a4ff5b" d="M0 437.8l1-.7 1-.7 1-.6 1-.6 1-.5 1-.7 1-.9 1-.7 1-.2 1 .1 1 .3 1 1.1 1 1.5 1 1.4 1 1.2 1 .5 1-.1 1 .1 1 .3 1 .1 1-.9 1-6.5 1-10.2 1-8 1-23.4 1-22.2 1-18.8 1-12.3 1-5.6 1 .8 1 1.4 1-.2 1-.2 1 1.8 1 5.4 1 5.6 1 10.9 1 12.5 1 19.9 1 21.5 1 16.5 1 9.4 1 3.6 1 .2 1-.2 1-.4 1-.5 1-.5 1-.5 1-.4 1-.3 1-.4 1-.3 1-.3 1-.3 1-.3 1-.3 1-.2 1-.2 1-.2 1-.1 1-.1"/>
<path stroke="#a3005c" d="M0 641.6l1-11.2 1-13.7 1-16 1-17 1-18.3 1-17.4 1-16.9 1-15.8 1-8.8 1-2.4 1 6.5 1 15.4 1 20.6 1 24.8 1 25.7 1 19.3 1 11.5 1 1.8 1-6.3 1-20.3 1-21.5 1-43 1-56.8 1-60.3 1-55.9 1-40.2 1-28 1-14.7 1-4.1 1 2.4 1 2.1 1-.1 1-2.4 1 .6 1 4.9 1 16.9 1 26.5 1 35 1 48.3 1 45 1 44.3 1 43.7 1 38.6 1 30.2 1 22.2 1 15.1 1 5.3 1-4.9 1-14.1 1-17.2 1-15.7 1-11 1-7.3 1-4.6 1-.5 1 1.9 1 2.9 1 3.4 1 3.5 1 3.9 1 3.2 1 2.8"/>
<path stroke="#a3ff5c" d="M0 437.8l1-.7 1-.7 1-.6 1-.6 1-.5 1-.7 1-.9 1-.8 1-.1 1 .1 1 .3 1 1.1 1 1.5 1 1.4 1 1.3 1 .4 1 0 1 0 1 .3 1 .1 1-.9 1-6.5 1-10.2 1-8.1 1-23.4 1-22.3 1-18.8 1-12.3 1-5.5 1 .7 1 1.5 1-.2 1-.2 1 1.7 1 5.4 1 5.6 1 11 1 12.6 1 19.8 1 21.6 1 16.5 1 9.4 1 3.6 1 .2 1-.2 1-.3 1-.6 1-.5 1-.5 1-.4 1-.3 1-.4 1-.3 1-.3 1-.3 1-.3 1-.3 1-.2 1-.2 1-.2 1-.1 1-.1"/>
<path stroke="#a3005c" d="M0 641.9l1-11.2 1-13.8 1-16 1-17.1 1-18.3 1-17.5 1-17 1-15.8 1-8.8 1-2.4 1 6.5 1 15.5 1 20.6 1 24.9 1 25.8 1 19.4 1 11.5 1 1.9 1-6.4 1-20.3 1-21.6 1-43.2 1-57 1-60.4 1-56.2 1-40.3 1-28.1 1-14.6 1-4.1 1 2.5 1 2 1 0 1-2.4 1 .5 1 4.9 1 16.9 1 26.5 1 35.2 1 48.4 1 45.1 1 44.5 1 43.9 1 38.7 1 30.3 1 22.3 1 15.2 1 5.2 1-4.9 1-14.1 1-17.4 1-15.7 1-11.1 1-7.2 1-4.7 1-.5 1 1.9 1 2.9 1 3.4 1 3.5 1 3.9 1 3.2 1 2.8"/>
<path stroke="#a3ff5c" d="M0 437.9l1-.8 1-.6 1-.7 1-.6 1-.5 1-.7 1-.9 1-.8 1-.1 1 .1 1 .2 1 1.2 1 1.5 1 1.4 1 1.3 1 .4 1 0 1 .1 1 .3 1 .1 1-.9 1-6.5 1-10.3 1-8.2 1-23.4 1-22.4 1-18.9 1-12.2 1-5.5 1 .8 1 1.5 1-.2 1-.2 1 1.7 1 5.3 1 5.7 1 11 1 12.6 1 19.9 1 21.5 1 16.6 1 9.4 1 3.6 1 .2 1-.2 1-.3 1-.5 1-.6 1-.4 1-.4 1-.4 1-.4 1-.3 1-.3 1-.3 1-.3 1-.3 1-.2 1-.2 1-.2 1-.1 1-.1"/>
<path stroke="#a2005d" d="M0 642.3l1-11.3 1-13.9 1-16 1-17.2 1-18.3 1-17.6 1-17 1-15.8 1-8.9 1-2.4 1 6.6 1 15.5 1 20.6 1 25.1 1 25.8 1 19.5 1 11.5 1 1.9 1-6.3 1-20.4 1-21.7 1-43.4 1-57.1 1-60.7 1-56.3 1-40.5 1-28.2 1-14.6 1-4.1 1 2.6 1 2.1 1 0 1-2.5 1 .5 1 4.9 1 16.9 1 26.6 1 35.2 1 48.6 1 45.3 1 44.7 1 44 1 38.8 1 30.4 1 22.3 1 15.3 1 5.3 1-5 1-14.2 1-17.4 1-15.8 1-11.1 1-7.3 1-4.7 1-.5 1 2 1 2.9 1 3.3 1 3.5 1 3.9 1 3.2 1 2.8"/>
<path stroke="#a2ff5d" d="M0 437.9l1-.8 1-.6 1-.7 1-.6 1-.5 1-.7 1-1 1-.7 1-.1 1 .1 1 .2 1 1.2 1 1.5 1 1.5 1 1.2 1 .5 1-.1 1 .1 1 .3 1 .1 1-.9 1-6.5 1-10.3 1-8.2 1-23.6 1-22.4 1-18.9 1-12.2 1-5.4 1 .8 1 1.5 1-.2 1-.3 1 1.7 1 5.3 1 5.7 1 11 1 12.7 1 19.9 1 21.6 1 16.6 1 9.4 1 3.6 1 .2 1-.2 1-.3 1-.5 1-.6 1-.4 1-.4 1-.4 1-.4 1-.3 1-.3 1-.3 1-.3 1-.3 1-.2 1-.2 1-.2 1-.1 1-.1"/>
<path stroke="#a2005e" d="M0 642.6l1-11.3 1-13.9 1-16.2 1-17.1 1-18.5 1-17.6 1-17 1-15.9 1-8.9 1-2.4 1 6.6 1 15.5 1 20.7 1 25.2 1 25.9 1 19.5 1 11.7 1 1.9 1-6.4 1-20.4 1-21.9 1-43.5 1-57.2 1-60.9 1-56.6 1-40.6 1-28.2 1-14.7 1-4 1 2.6 1 2.2 1-.1 1-2.4 1 .4 1 4.9 1 16.9 1 26.6 1 35.4 1 48.7 1 45.4 1 44.9 1 44.1 1 39 1 30.5 1 22.4 1 15.3 1 5.3 1-5 1-14.2 1-17.5 1-15.9 1-11.1 1-7.3 1-4.7 1-.6 1 2 1 2.9 1 3.3 1 3.5 1 3.9 1 3.2 1 2.8"/>
<path stroke="#a2ff5e" d="M0 437.9l1-.7 1-.7 1-.7 1-.5 1-.6 1-.8 1-.9 1-.7 1-.1 1 .1 1 .2 1 1.2 1 1.5 1 1.5 1 1.2 1 .5 1 0 1 .1 1 .2 1 .2 1-.9 1-6.5 1-10.3 1-8.4 1-23.6 1-22.5 1-18.9 1-12.2 1-5.3 1 .8 1 1.5 1-.2 1-.3 1 1.7 1 5.3 1 5.6 1 11.1 1 12.7 1 20 1 21.6 1 16.6 1 9.5 1 3.6 1 .2 1-.2 1-.3 1-.6 1-.6 1-.4 1-.4 1-.4 1-.3 1-.4 1-.3 1-.3 1-.3 1-.3 1-.2 1-.2 1-.2 1-.1 1-.1"/>
<path stroke="#a1005e" d="M0 643l1-11.4 1-14 1-16.2 1-17.2 1-18.5 1-17.6 1-17.1 1-15.9 1-9 1-2.4 1 6.6 1 15.6 1 20.7 1 25.3 1 26 1 19.6 1 11.7 1 2 1-6.4 1-20.5 1-22 1-43.7 1-57.4 1-61 1-56.8 1-40.8 1-28.3 1-14.6 1-4 1 2.7 1 2.2 1-.1 1-2.4 1 .4 1 4.9 1 16.8 1 26.7 1 35.4 1 48.9 1 45.6 1 45 1 44.3 1 39.1 1 30.5 1 22.6 1 15.3 1 5.3 1-4.9 1-14.3 1-17.6 1-16 1-11.1 1-7.4 1-4.7 1-.5 1 1.9 1 2.9 1 3.3 1 3.5 1 3.9 1 3.2 1 2.8"/>
<path stroke="#a1ff5e" d="M0 437.9l1-.7 1-.7 1-.7 1-.5 1-.6 1-.8 1-.9 1-.7 1-.2 1 .2 1 .2 1 1.2 1 1.5 1 1.5 1 1.3 1 .4 1 0 1 .1 1 .3 1 .1 1-.9 1-6.5 1-10.3 1-8.5 1-23.7 1-22.5 1-19 1-12 1-5.4 1 .8 1 1.5 1-.2 1-.2 1 1.6 1 5.3 1 5.7 1 11.1 1 12.7 1 20 1 21.7 1 16.7 1 9.4 1 3.6 1 .2 1-.2 1-.3 1-.6 1-.5 1-.5 1-.4 1-.4 1-.3 1-.4 1-.3 1-.3 1-.3 1-.2 1-.3 1-.2 1-.2 1-.1 1-.1"/>
<path stroke="#a0005f" d="M0 643.3l1-11.4 1-14 1-16.3 1-17.3 1-18.5 1-17.7 1-17.2 1-15.9 1-8.9 1-2.5 1 6.6 1 15.6 1 20.9 1 25.3 1 26.1 1 19.7 1 11.8 1 1.9 1-6.4 1-20.5 1-22.1 1-43.9 1-57.5 1-61.3 1-57 1-40.8 1-28.4 1-14.7 1-3.9 1 2.7 1 2.2 1 0 1-2.5 1 .4 1 4.9 1 16.9 1 26.6 1 35.6 1 49 1 45.8 1 45.1 1 44.5 1 39.2 1 30.6 1 22.6 1 15.4 1 5.4 1-5 1-14.4 1-17.7 1-16 1-11.2 1-7.4 1-4.7 1-.5 1 1.9 1 2.9 1 3.3 1 3.5 1 3.9 1 3.2 1 2.8"/>
<path stroke="#a0ff5f" d="M0 437.9l1-.7 1-.7 1-.6 1-.6 1-.6 1-.8 1-.9 1-.7 1-.2 1 .1 1 .3 1 1.2 1 1.5 1 1.5 1 1.3 1 .5 1-.1 1 .1 1 .3 1 .2 1-.9 1-6.5 1-10.4 1-8.6 1-23.7 1-22.6 1-19 1-12 1-5.3 1 .8 1 1.5 1-.2 1-.2 1 1.6 1 5.2 1 5.7 1 11.2 1 12.7 1 20.1 1 21.7 1 16.7 1 9.4 1 3.6 1 .2 1-.2 1-.3 1-.6 1-.5 1-.5 1-.4 1-.4 1-.3 1-.4 1-.3 1-.3 1-.3 1-.2 1-.3 1-.2 1-.2 1-.1 1-.1"/>
<path stroke="#a0005f" d="M0 643.7l1-11.5 1-14.1 1-16.3 1-17.3 1-18.6 1-17.8 1-17.2 1-16 1-8.9 1-2.5 1 6.6 1 15.7 1 20.9 1 25.4 1 26.3 1 19.7 1 11.8 1 2 1-6.4 1-20.6 1-22.2 1-44.1 1-57.6 1-61.5 1-57.2 1-41 1-28.5 1-14.6 1-3.9 1 2.8 1 2.2 1 0 1-2.5 1 .4 1 4.8 1 16.9 1 26.7 1 35.7 1 49.1 1 45.9 1 45.3 1 44.7 1 39.2 1 30.8 1 22.7 1 15.4 1 5.4 1-5 1-14.4 1-17.8 1-16.1 1-11.2 1-7.4 1-4.8 1-.5 1 1.9 1 2.9 1 3.3 1 3.5 1 3.9 1 3.2 1 2.8"/>
<path stroke="#a0ff5f" d="M0 437.9l1-.7 1-.7 1-.6 1-.6 1-.6 1-.8 1-.9 1-.7 1-.2 1 .1 1 .3 1 1.1 1 1.6 1 1.5 1 1.3 1 .5 1 0 1 .1 1 .3 1 .1 1-.9 1-6.5 1-10.4 1-8.6 1-23.8 1-22.7 1-19 1-12 1-5.2 1 .8 1 1.5 1-.2 1-.3 1 1.6 1 5.3 1 5.7 1 11.2 1 12.7 1 20.1 1 21.8 1 16.7 1 9.4 1 3.6 1 .2 1-.2 1-.3 1-.5 1-.6 1-.5 1-.4 1-.4 1-.3 1-.3 1-.4 1-.3 1-.3 1-.2 1-.3 1-.2 1-.2 1-.1 1-.1"/>
<path stroke="#9f0060" d="M0 644l1-11.5 1-14.2 1-16.3 1-17.4 1-18.7 1-17.8 1-17.2 1-16 1-9 1-2.5 1 6.6 1 15.8 1 20.9 1 25.5 1 26.4 1 19.8 1 11.9 1 2 1-6.5 1-20.7 1-22.2 1-44.3 1-57.7 1-61.8 1-57.4 1-41.1 1-28.5 1-14.6 1-3.9 1 2.9 1 2.2 1 0 1-2.5 1 .3 1 4.8 1 16.9 1 26.8 1 35.8 1 49.2 1 46.1 1 45.5 1 44.7 1 39.4 1 30.9 1 22.7 1 15.6 1 5.3 1-5 1-14.5 1-17.8 1-16.2 1-11.2 1-7.5 1-4.7 1-.6 1 2 1 2.8 1 3.3 1 3.5 1 3.9 1 3.2 1 2.8"/>
<path stroke="#9fff60" d="M0 438l1-.8 1-.7 1-.6 1-.6 1-.6 1-.8 1-.9 1-.7 1-.2 1 .1 1 .3 1 1.1 1 1.6 1 1.5 1 1.3 1 .5 1 0 1 .1 1 .3 1 .2 1-.9 1-6.5 1-10.4 1-8.8 1-23.9 1-22.7 1-19 1-12 1-5.1 1 .8 1 1.5 1-.2 1-.3 1 1.6 1 5.2 1 5.7 1 11.2 1 12.8 1 20.2 1 21.8 1 16.7 1 9.4 1 3.7 1 .2 1-.2 1-.3 1-.6 1-.6 1-.4 1-.5 1-.3 1-.4 1-.3 1-.4 1-.3 1-.3 1-.2 1-.3 1-.2 1-.2 1-.1 1-.1"/>
<path stroke="#9f0060" d="M0 644.3l1-11.5 1-14.2 1-16.5 1-17.4 1-18.7 1-17.9 1-17.2 1-16.1 1-9 1-2.5 1 6.7 1 15.7 1 21 1 25.6 1 26.5 1 19.9 1 11.9 1 2 1-6.5 1-20.7 1-22.3 1-44.5 1-57.9 1-61.9 1-57.6 1-41.2 1-28.6 1-14.7 1-3.8 1 2.9 1 2.3 1 0 1-2.5 1 .3 1 4.7 1 16.9 1 26.9 1 35.8 1 49.4 1 46.2 1 45.7 1 44.9 1 39.5 1 31 1 22.8 1 15.6 1 5.4 1-5.1 1-14.5 1-17.9 1-16.3 1-11.3 1-7.4 1-4.8 1-.5 1 1.9 1 2.8 1 3.3 1 3.5 1 3.9 1 3.2 1 2.8"/>
<path stroke="#9fff60" d="M0 438l1-.8 1-.7 1-.6 1-.6 1-.6 1-.8 1-.9 1-.7 1-.2 1 .1 1 .3 1 1.1 1 1.6 1 1.5 1 1.3 1 .5 1 0 1 .1 1 .4 1 .1 1-.9 1-6.5 1-10.4 1-8.9 1-23.9 1-22.8 1-19 1-11.9 1-5.2 1 .9 1 1.5 1-.2 1-.3 1 1.5 1 5.2 1 5.8 1 11.2 1 12.9 1 20.1 1 21.8 1 16.8 1 9.5 1 3.6 1 .2 1-.2 1-.3 1-.6 1-.6 1-.4 1-.4 1-.4 1-.4 1-.3 1-.3 1-.4 1-.3 1-.2 1-.3 1-.2 1-.2 1-.1 1-.1"/>
<path stroke="#9e0061" d="M0 644.7l1-11.7 1-14.2 1-16.5 1-17.5 1-18.7 1-17.9 1-17.4 1-16 1-9.1 1-2.5 1 6.7 1 15.8 1 21 1 25.7 1 26.6 1 20 1 11.9 1 2.1 1-6.5 1-20.8 1-22.4 1-44.7 1-58 1-62.1 1-57.8 1-41.4 1-28.7 1-14.6 1-3.8 1 3 1 2.3 1 0 1-2.5 1 .2 1 4.8 1 16.8 1 26.9 1 36 1 49.5 1 46.4 1 45.8 1 45.1 1 39.6 1 31.1 1 22.8 1 15.7 1 5.4 1-5.1 1-14.6 1-18 1-16.3 1-11.3 1-7.5 1-4.8 1-.5 1 1.9 1 2.9 1 3.2 1 3.5 1 3.9 1 3.2 1 2.9"/>
<path stroke="#9eff61" d="M0 438l1-.8 1-.7 1-.6 1-.6 1-.6 1-.8 1-.9 1-.8 1-.1 1 .1 1 .3 1 1.1 1 1.6 1 1.5 1 1.4 1 .5 1 0 1 .1 1 .3 1 .2 1-.9 1-6.5 1-10.5 1-8.9 1-24.1 1-22.8 1-19 1-11.9 1-5.1 1 .9 1 1.5 1-.2 1-.3 1 1.5 1 5.2 1 5.7 1 11.3 1 12.9 1 20.2 1 21.8 1 16.8 1 9.5 1 3.6 1 .2 1-.2 1-.3 1-.6 1-.5 1-.5 1-.4 1-.4 1-.4 1-.3 1-.3 1-.4 1-.3 1-.2 1-.3 1-.2 1-.2 1-.1 1-.1"/>
<path stroke="#9e0061" d="M0 645l1-11.7 1-14.3 1-16.5 1-17.6 1-18.8 1-17.9 1-17.4 1-16.1 1-9 1-2.5 1 6.6 1 15.8 1 21.1 1 25.8 1 26.7 1 20 1 12.1 1 2 1-6.5 1-20.8 1-22.6 1-44.8 1-58.1 1-62.3 1-58 1-41.5 1-28.8 1-14.6 1-3.8 1 3 1 2.4 1 0 1-2.6 1 .3 1 4.7 1 16.9 1 26.9 1 36.1 1 49.6 1 46.6 1 45.9 1 45.3 1 39.7 1 31.2 1 22.9 1 15.7 1 5.4 1-5.1 1-14.7 1-18 1-16.4 1-11.3 1-7.5 1-4.9 1-.5 1 1.9 1 2.9 1 3.2 1 3.5 1 3.9 1 3.2 1 2.9"/>
<path stroke="#9eff61" d="M0 438l1-.7 1-.8 1-.6 1-.6 1-.6 1-.8 1-.9 1-.8 1-.1 1 .1 1 .2 1 1.2 1 1.6 1 1.6 1 1.3 1 .5 1 0 1 .1 1 .3 1 .2 1-.9 1-6.5 1-10.5 1-9 1-24.1 1-22.9 1-19.1 1-11.8 1-5 1 .9 1 1.5 1-.2 1-.3 1 1.5 1 5.1 1 5.8 1 11.3 1 12.9 1 20.2 1 21.9 1 16.8 1 9.5 1 3.6 1 .3 1-.2 1-.4 1-.5 1-.6 1-.5 1-.4 1-.4 1-.4 1-.3 1-.3 1-.3 1-.4 1-.2 1-.3 1-.2 1-.2 1-.1 1-.1"/>
<path stroke="#9d0062" d="M0 645.3l1-11.7 1-14.3 1-16.6 1-17.6 1-18.9 1-18 1-17.4 1-16.1 1-9.1 1-2.5 1 6.6 1 15.9 1 21.1 1 26 1 26.7 1 20.1 1 12.1 1 2.1 1-6.5 1-20.9 1-22.7 1-45 1-58.2 1-62.6 1-58.1 1-41.7 1-28.8 1-14.7 1-3.7 1 3.1 1 2.4 1 0 1-2.6 1 .2 1 4.7 1 16.9 1 27 1 36.2 1 49.7 1 46.7 1 46.2 1 45.3 1 39.9 1 31.2 1 23 1 15.8 1 5.4 1-5.1 1-14.7 1-18.1 1-16.4 1-11.5 1-7.5 1-4.8 1-.6 1 1.9 1 2.9 1 3.2 1 3.5 1 3.9 1 3.2 1 2.9"/>
<path stroke="#9dff62" d="M0 438l1-.7 1-.7 1-.7 1-.6 1-.6 1-.8 1-.9 1-.8 1-.1 1 .1 1 .2 1 1.2 1 1.6 1 1.6 1 1.3 1 .5 1 0 1 .2 1 .3 1 .2 1-.9 1-6.5 1-10.5 1-9.2 1-24.1 1-23 1-19.1 1-11.7 1-5 1 .8 1 1.6 1-.2 1-.3 1 1.4 1 5.2 1 5.7 1 11.4 1 12.9 1 20.3 1 21.9 1 16.8 1 9.5 1 3.6 1 .3 1-.2 1-.4 1-.5 1-.6 1-.5 1-.4 1-.4 1-.4 1-.3 1-.3 1-.3 1-.3 1-.3 1-.3 1-.2 1-.2 1-.1 1-.1"/>
<path stroke="#9c0063" d="M0 645.7l1-11.8 1-14.4 1-16.7 1-17.6 1-18.9 1-18.1 1-17.4 1-16.2 1-9.1 1-2.5 1 6.6 1 16 1 21.2 1 26 1 26.8 1 20.2 1 12.1 1 2.1 1-6.5 1-20.9 1-22.8 1-45.1 1-58.5 1-62.7 1-58.3 1-41.8 1-28.9 1-14.7 1-3.6 1 3.1 1 2.4 1 0 1-2.6 1 .2 1 4.7 1 16.9 1 27 1 36.3 1 49.8 1 46.9 1 46.3 1 45.5 1 40 1 31.3 1 23.1 1 15.8 1 5.5 1-5.2 1-14.8 1-18.2 1-16.4 1-11.5 1-7.6 1-4.8 1-.6 1 2 1 2.8 1 3.2 1 3.5 1 3.9 1 3.2 1 2.9"/>
<path stroke="#9cff63" d="M0 438l1-.7 1-.7 1-.7 1-.6 1-.6 1-.8 1-.9 1-.8 1-.2 1 .2 1 .2 1 1.2 1 1.6 1 1.6 1 1.3 1 .5 1 .1 1 .1 1 .3 1 .2 1-.9 1-6.5 1-10.5 1-9.3 1-24.2 1-23 1-19.1 1-11.7 1-4.9 1 .8 1 1.6 1-.3 1-.2 1 1.4 1 5.1 1 5.8 1 11.4 1 12.9 1 20.4 1 21.9 1 16.9 1 9.5 1 3.6 1 .2 1-.2 1-.3 1-.6 1-.6 1-.5 1-.4 1-.4 1-.3 1-.4 1-.3 1-.3 1-.3 1-.3 1-.3 1-.2 1-.2 1-.1 1-.1"/>
<path stroke="#9c0063" d="M0 646l1-11.8 1-14.4 1-16.8 1-17.7 1-18.9 1-18.1 1-17.5 1-16.3 1-9.1 1-2.5 1 6.6 1 16 1 21.3 1 26.1 1 26.9 1 20.3 1 12.2 1 2.1 1-6.5 1-21 1-22.9 1-45.3 1-58.6 1-62.9 1-58.6 1-41.8 1-29 1-14.7 1-3.6 1 3.2 1 2.4 1 0 1-2.6 1 .2 1 4.6 1 16.9 1 27.1 1 36.4 1 49.9 1 47.1 1 46.4 1 45.7 1 40 1 31.5 1 23.1 1 15.9 1 5.5 1-5.2 1-14.8 1-18.3 1-16.5 1-11.5 1-7.6 1-4.9 1-.5 1 1.9 1 2.8 1 3.2 1 3.5 1 3.9 1 3.2 1 2.9"/>
<path stroke="#9cff63" d="M0 438.1l1-.8 1-.7 1-.7 1-.6 1-.6 1-.8 1-.9 1-.8 1-.2 1 .2 1 .2 1 1.2 1 1.6 1 1.6 1 1.3 1 .6 1 0 1 .1 1 .4 1 .1 1-.8 1-6.5 1-10.6 1-9.3 1-24.3 1-23.1 1-19.1 1-11.7 1-4.9 1 .9 1 1.5 1-.2 1-.2 1 1.4 1 5 1 5.8 1 11.5 1 13 1 20.3 1 22 1 16.9 1 9.5 1 3.6 1 .2 1-.2 1-.3 1-.6 1-.6 1-.4 1-.5 1-.4 1-.3 1-.4 1-.3 1-.3 1-.3 1-.3 1-.3 1-.2 1-.2 1-.1 1-.1"/>
<path stroke="#9b0064" d="M0 646.3l1-11.8 1-14.5 1-16.8 1-17.8 1-19 1-18.1 1-17.6 1-16.2 1-9.2 1-2.5 1 6.7 1 16 1 21.3 1 26.2 1 27 1 20.4 1 12.2 1 2.1 1-6.5 1-21.1 1-22.9 1-45.5 1-58.7 1-63.1 1-58.8 1-42 1-29 1-14.7 1-3.6 1 3.3 1 2.4 1 0 1-2.6 1 .1 1 4.7 1 16.9 1 27.1 1 36.5 1 50.1 1 47.1 1 46.6 1 45.9 1 40.1 1 31.6 1 23.2 1 15.9 1 5.5 1-5.2 1-14.9 1-18.3 1-16.6 1-11.6 1-7.6 1-4.9 1-.5 1 1.9 1 2.8 1 3.2 1 3.5 1 3.9 1 3.2 1 2.9"/>
<path stroke="#9bff64" d="M0 438.1l1-.8 1-.7 1-.7 1-.6 1-.6 1-.8 1-1 1-.7 1-.2 1 .1 1 .3 1 1.2 1 1.6 1 1.6 1 1.4 1 .5 1 .1 1 .1 1 .3 1 .2 1-.9 1-6.5 1-10.6 1-9.4 1-24.3 1-23.2 1-19.1 1-11.6 1-4.9 1 .9 1 1.5 1-.2 1-.3 1 1.4 1 5.1 1 5.8 1 11.5 1 13 1 20.4 1 22 1 16.9 1 9.5 1 3.6 1 .3 1-.2 1-.4 1-.6 1-.6 1-.4 1-.4 1-.5 1-.3 1-.4 1-.3 1-.3 1-.3 1-.3 1-.3 1-.2 1-.2 1-.1 1-.1"/>
<path stroke="#9b0064" d="M0 646.7l1-11.9 1-14.6 1-16.8 1-17.8 1-19.1 1-18.2 1-17.6 1-16.3 1-9.1 1-2.6 1 6.7 1 16 1 21.4 1 26.3 1 27.2 1 20.4 1 12.2 1 2.2 1-6.6 1-21.1 1-23 1-45.7 1-58.8 1-63.3 1-59 1-42.1 1-29.1 1-14.7 1-3.6 1 3.3 1 2.5 1 0 1-2.6 1 .1 1 4.6 1 16.9 1 27.2 1 36.6 1 50.2 1 47.3 1 46.8 1 45.9 1 40.3 1 31.6 1 23.3 1 16 1 5.5 1-5.2 1-15 1-18.4 1-16.6 1-11.6 1-7.6 1-4.9 1-.6 1 1.9 1 2.8 1 3.2 1 3.5 1 3.9 1 3.2 1 2.9"/>
<path stroke="#9bff64" d="M0 438.1l1-.8 1-.7 1-.7 1-.6 1-.6 1-.8 1-1 1-.7 1-.2 1 .1 1 .3 1 1.2 1 1.6 1 1.6 1 1.4 1 .5 1 .1 1 .1 1 .4 1 .1 1-.8 1-6.5 1-10.6 1-9.6 1-24.4 1-23.2 1-19.1 1-11.6 1-4.8 1 .9 1 1.5 1-.2 1-.3 1 1.4 1 5 1 5.8 1 11.6 1 13 1 20.4 1 22.1 1 16.9 1 9.5 1 3.6 1 .3 1-.2 1-.4 1-.5 1-.6 1-.5 1-.4 1-.4 1-.4 1-.4 1-.3 1-.3 1-.3 1-.3 1-.3 1-.2 1-.2 1-.1 1-.1"/>
<path stroke="#9a0065" d="M0 647l1-11.9 1-14.7 1-16.9 1-17.8 1-19.1 1-18.3 1-17.6 1-16.3 1-9.2 1-2.6 1 6.7 1 16.1 1 21.4 1 26.4 1 27.3 1 20.4 1 12.4 1 2.2 1-6.6 1-21.2 1-23.2 1-45.8 1-58.9 1-63.5 1-59.1 1-42.3 1-29.2 1-14.7 1-3.5 1 3.3 1 2.6 1-.1 1-2.6 1 .1 1 4.6 1 16.9 1 27.2 1 36.7 1 50.3 1 47.5 1 46.9 1 46.1 1 40.4 1 31.7 1 23.4 1 16 1 5.5 1-5.2 1-15 1-18.5 1-16.7 1-11.7 1-7.6 1-4.9 1-.6 1 1.9 1 2.8 1 3.2 1 3.5 1 3.9 1 3.2 1 2.9"/>
<path stroke="#9aff65" d="M0 438.1l1-.8 1-.7 1-.7 1-.6 1-.6 1-.8 1-1 1-.7 1-.2 1 .1 1 .3 1 1.2 1 1.6 1 1.6 1 1.4 1 .6 1 0 1 .2 1 .3 1 .2 1-.8 1-6.6 1-10.6 1-9.6 1-24.5 1-23.3 1-19.1 1-11.5 1-4.8 1 .9 1 1.5 1-.2 1-.3 1 1.4 1 5 1 5.8 1 11.6 1 13 1 20.5 1 22.1 1 16.9 1 9.5 1 3.7 1 .2 1-.2 1-.3 1-.6 1-.6 1-.5 1-.4 1-.4 1-.4 1-.3 1-.4 1-.3 1-.3 1-.3 1-.3 1-.2 1-.2 1-.1 1-.1"/>
<path stroke="#9a0065" d="M0 647.3l1-12 1-14.6 1-17 1-17.9 1-19.2 1-18.3 1-17.6 1-16.4 1-9.2 1-2.6 1 6.7 1 16.2 1 21.4 1 26.5 1 27.4 1 20.5 1 12.4 1 2.2 1-6.6 1-21.2 1-23.3 1-46 1-59.1 1-63.6 1-59.3 1-42.4 1-29.3 1-14.7 1-3.5 1 3.4 1 2.6 1-.1 1-2.6 1 .1 1 4.6 1 16.8 1 27.3 1 36.8 1 50.4 1 47.6 1 47.1 1 46.3 1 40.4 1 31.9 1 23.4 1 16.1 1 5.5 1-5.2 1-15.1 1-18.5 1-16.9 1-11.6 1-7.7 1-4.9 1-.6 1 1.9 1 2.8 1 3.2 1 3.5 1 3.9 1 3.2 1 2.9"/>
<path stroke="#9aff65" d="M0 438.1l1-.8 1-.7 1-.7 1-.6 1-.6 1-.8 1-1 1-.8 1-.1 1 .1 1 .3 1 1.2 1 1.6 1 1.6 1 1.4 1 .6 1 .1 1 .1 1 .3 1 .2 1-.8 1-6.5 1-10.7 1-9.7 1-24.5 1-23.3 1-19.2 1-11.5 1-4.7 1 .9 1 1.5 1-.2 1-.3 1 1.3 1 5 1 5.9 1 11.6 1 13.1 1 20.4 1 22.2 1 16.9 1 9.6 1 3.6 1 .2 1-.2 1-.3 1-.6 1-.6 1-.5 1-.4 1-.4 1-.4 1-.3 1-.4 1-.3 1-.3 1-.3 1-.3 1-.2 1-.2 1-.1 1-.1"/>
<path stroke="#990066" d="M0 647.7l1-12.1 1-14.7 1-17 1-18 1-19.2 1-18.3 1-17.8 1-16.3 1-9.3 1-2.6 1 6.7 1 16.2 1 21.5 1 26.6 1 27.5 1 20.6 1 12.4 1 2.3 1-6.7 1-21.2 1-23.4 1-46.2 1-59.2 1-63.8 1-59.5 1-42.5 1-29.3 1-14.7 1-3.5 1 3.4 1 2.6 1-.1 1-2.6 1 .1 1 4.5 1 16.9 1 27.3 1 36.9 1 50.6 1 47.7 1 47.3 1 46.4 1 40.5 1 32 1 23.5 1 16.1 1 5.5 1-5.2 1-15.2 1-18.6 1-16.9 1-11.6 1-7.7 1-5 1-.5 1 1.9 1 2.7 1 3.2 1 3.4 1 4 1 3.2 1 2.9"/>
<path stroke="#99ff66" d="M0 438.1l1-.7 1-.8 1-.7 1-.6 1-.6 1-.8 1-1 1-.8 1-.1 1 .1 1 .3 1 1.2 1 1.6 1 1.7 1 1.4 1 .5 1 .1 1 .1 1 .4 1 .2 1-.8 1-6.6 1-10.7 1-9.8 1-24.5 1-23.4 1-19.2 1-11.5 1-4.6 1 .9 1 1.5 1-.2 1-.3 1 1.3 1 5 1 5.8 1 11.7 1 13.1 1 20.5 1 22.1 1 17.1 1 9.5 1 3.6 1 .3 1-.2 1-.4 1-.6 1-.6 1-.5 1-.4 1-.4 1-.4 1-.3 1-.4 1-.3 1-.3 1-.3 1-.3 1-.2 1-.2 1-.1 1-.1"/>
<path stroke="#980067" d="M0 648l1-12.1 1-14.8 1-17 1-18.1 1-19.2 1-18.4 1-17.8 1-16.4 1-9.3 1-2.6 1 6.8 1 16.2 1 21.6 1 26.6 1 27.6 1 20.7 1 12.4 1 2.3 1-6.6 1-21.4 1-23.4 1-46.4 1-59.3 1-64 1-59.7 1-42.6 1-29.4 1-14.7 1-3.5 1 3.5 1 2.6 1 0 1-2.6 1 0 1 4.5 1 16.9 1 27.4 1 36.9 1 50.7 1 47.9 1 47.4 1 46.5 1 40.7 1 32 1 23.6 1 16.2 1 5.6 1-5.3 1-15.3 1-18.6 1-17 1-11.7 1-7.7 1-5 1-.5 1 1.9 1 2.7 1 3.2 1 3.4 1 4 1 3.2 1 2.9"/>
<path stroke="#980067" d="M0 648.3l1-12.1 1-14.8 1-17.2 1-18 1-19.4 1-18.4 1-17.8 1-16.5 1-9.2 1-2.6 1 6.7 1 16.2 1 21.7 1 26.7 1 27.7 1 20.7 1 12.6 1 2.3 1-6.7 1-21.4 1-23.5 1-46.6 1-59.4 1-64.2 1-59.9 1-42.7 1-29.5 1-14.7 1-3.4 1 3.5 1 2.6 1 0 1-2.6 1-.1 1 4.6 1 16.8 1 27.5 1 37 1 50.8 1 48.1 1 47.5 1 46.7 1 40.8 1 32.1 1 23.6 1 16.2 1 5.7 1-5.4 1-15.2 1-18.8 1-17 1-11.7 1-7.8 1-5 1-.5 1 1.9 1 2.7 1 3.2 1 3.4 1 4 1 3.2 1 2.9"/>
<path stroke="#970068" d="M0 648.7l1-12.2 1-14.9 1-17.2 1-18.1 1-19.4 1-18.5 1-17.8 1-16.5 1-9.3 1-2.6 1 6.7 1 16.3 1 21.7 1 26.9 1 27.7 1 20.8 1 12.6 1 2.3 1-6.7 1-21.4 1-23.7 1-46.7 1-59.5 1-64.4 1-60 1-42.9 1-29.5 1-14.8 1-3.4 1 3.6 1 2.7 1-.1 1-2.6 1-.1 1 4.6 1 16.8 1 27.5 1 37.2 1 50.9 1 48.2 1 47.6 1 46.9 1 40.8 1 32.3 1 23.7 1 16.2 1 5.7 1-5.4 1-15.3 1-18.8 1-17.1 1-11.8 1-7.7 1-5 1-.6 1 1.9 1 2.7 1 3.2 1 3.4 1 4 1 3.2 1 2.9"/>
<path stroke="#97ff68" d="M0 438.2l1-.8 1-.8 1-.6 1-.7 1-.6 1-.8 1-1 1-.8 1-.2 1 .2 1 .2 1 1.3 1 1.6 1 1.7 1 1.4 1 .6 1 .1 1 .2 1 .3 1 .2 1-.8 1-6.5 1-10.8 1-10.1 1-24.7 1-23.6 1-19.2 1-11.3 1-4.5 1 .9 1 1.6 1-.2 1-.4 1 1.2 1 5 1 5.8 1 11.8 1 13.2 1 20.6 1 22.2 1 17.1 1 9.5 1 3.7 1 .2 1-.2 1-.3 1-.6 1-.6 1-.5 1-.4 1-.5 1-.3 1-.4 1-.3 1-.4 1-.3 1-.3 1-.3 1-.2 1-.2 1-.1 1-.1"/>
<path stroke="#970068" d="M0 649l1-12.3 1-14.9 1-17.2 1-18.2 1-19.4 1-18.6 1-17.8 1-16.6 1-9.3 1-2.6 1 6.7 1 16.4 1 21.7 1 27 1 27.8 1 20.9 1 12.6 1 2.3 1-6.6 1-21.5 1-23.8 1-46.9 1-59.7 1-64.5 1-60.2 1-43 1-29.6 1-14.7 1-3.4 1 3.6 1 2.7 1-.1 1-2.6 1-.1 1 4.5 1 16.9 1 27.5 1 37.3 1 51 1 48.3 1 47.9 1 47 1 40.9 1 32.3 1 23.8 1 16.3 1 5.7 1-5.4 1-15.4 1-18.9 1-17.1 1-11.8 1-7.8 1-5 1-.6 1 1.9 1 2.7 1 3.2 1 3.4 1 4 1 3.2 1 2.9"/>
<path stroke="#960069" d="M0 649.3l1-12.3 1-14.9 1-17.3 1-18.3 1-19.4 1-18.6 1-18 1-16.5 1-9.4 1-2.6 1 6.7 1 16.4 1 21.8 1 27.1 1 27.9 1 21 1 12.7 1 2.3 1-6.7 1-21.6 1-23.8 1-47.1 1-59.8 1-64.7 1-60.4 1-43.1 1-29.6 1-14.8 1-3.4 1 3.7 1 2.7 1 0 1-2.7 1-.1 1 4.5 1 16.9 1 27.6 1 37.3 1 51.2 1 48.4 1 48 1 47.1 1 41.1 1 32.4 1 23.8 1 16.4 1 5.7 1-5.4 1-15.5 1-18.9 1-17.2 1-11.9 1-7.8 1-5 1-.6 1 1.9 1 2.7 1 3.1 1 3.5 1 3.9 1 3.3 1 2.9"/>
<path stroke="#960069" d="M0 649.6l1-12.3 1-15 1-17.4 1-18.3 1-19.5 1-18.6 1-18 1-16.6 1-9.4 1-2.6 1 6.8 1 16.4 1 21.8 1 27.2 1 28 1 21 1 12.8 1 2.3 1-6.7 1-21.6 1-23.9 1-47.3 1-59.9 1-64.9 1-60.6 1-43.2 1-29.7 1-14.8 1-3.3 1 3.7 1 2.8 1-.1 1-2.6 1-.2 1 4.5 1 16.9 1 27.6 1 37.4 1 51.3 1 48.6 1 48.1 1 47.3 1 41.2 1 32.5 1 23.9 1 16.4 1 5.7 1-5.4 1-15.5 1-19.1 1-17.2 1-11.9 1-7.9 1-5 1-.6 1 1.9 1 2.7 1 3.1 1 3.5 1 3.9 1 3.3 1 2.9"/>
<path stroke="#96ff69" d="M0 438.2l1-.8 1-.7 1-.7 1-.7 1-.6 1-.8 1-1 1-.8 1-.2 1 .1 1 .3 1 1.3 1 1.6 1 1.7 1 1.5 1 .6 1 .1 1 .2 1 .3 1 .3 1-.8 1-6.6 1-10.8 1-10.4 1-24.9 1-23.7 1-19.3 1-11.1 1-4.4 1 1 1 1.5 1-.2 1-.3 1 1.1 1 4.9 1 5.9 1 11.8 1 13.3 1 20.7 1 22.3 1 17.1 1 9.6 1 3.7 1 .2 1-.2 1-.3 1-.6 1-.7 1-.5 1-.4 1-.4 1-.4 1-.4 1-.3 1-.4 1-.3 1-.3 1-.2 1-.3 1-.2 1-.1 1-.1"/>
<path stroke="#95006a" d="M0 650l1-12.4 1-15.1 1-17.4 1-18.3 1-19.6 1-18.7 1-18 1-16.6 1-9.4 1-2.7 1 6.8 1 16.4 1 21.9 1 27.3 1 28.1 1 21.1 1 12.8 1 2.4 1-6.7 1-21.7 1-24.1 1-47.4 1-60 1-65.1 1-60.7 1-43.4 1-29.8 1-14.7 1-3.3 1 3.7 1 2.8 1 0 1-2.7 1-.2 1 4.5 1 16.9 1 27.6 1 37.6 1 51.3 1 48.8 1 48.3 1 47.4 1 41.2 1 32.6 1 24 1 16.4 1 5.8 1-5.5 1-15.5 1-19.1 1-17.3 1-12 1-7.8 1-5.1 1-.6 1 1.9 1 2.7 1 3.1 1 3.5 1 3.9 1 3.3 1 2.9"/>
<path stroke="#94006b" d="M0 650.3l1-12.4 1-15.2 1-17.4 1-18.4 1-19.6 1-18.8 1-18 1-16.7 1-9.4 1-2.7 1 6.8 1 16.5 1 22 1 27.3 1 28.2 1 21.2 1 12.8 1 2.4 1-6.7 1-21.7 1-24.2 1-47.6 1-60.1 1-65.3 1-60.9 1-43.5 1-29.8 1-14.8 1-3.3 1 3.8 1 2.8 1 0 1-2.7 1-.2 1 4.5 1 16.8 1 27.8 1 37.6 1 51.5 1 48.9 1 48.4 1 47.5 1 41.4 1 32.7 1 24 1 16.5 1 5.7 1-5.4 1-15.6 1-19.2 1-17.3 1-12 1-7.9 1-5.1 1-.5 1 1.8 1 2.7 1 3.1 1 3.4 1 4 1 3.3 1 2.9"/>
<path stroke="#94006b" d="M0 650.6l1-12.5 1-15.1 1-17.6 1-18.4 1-19.7 1-18.8 1-18.1 1-16.6 1-9.5 1-2.7 1 6.8 1 16.6 1 22 1 27.4 1 28.3 1 21.3 1 12.8 1 2.5 1-6.8 1-21.8 1-24.2 1-47.8 1-60.2 1-65.5 1-61.1 1-43.5 1-30 1-14.8 1-3.2 1 3.9 1 2.8 1-.1 1-2.7 1-.2 1 4.5 1 16.8 1 27.8 1 37.7 1 51.6 1 49.1 1 48.5 1 47.7 1 41.5 1 32.8 1 24 1 16.6 1 5.7 1-5.4 1-15.7 1-19.2 1-17.5 1-12 1-7.9 1-5.1 1-.5 1 1.8 1 2.7 1 3.1 1 3.4 1 4 1 3.2 1 3"/>
<path stroke="#94ff6b" d="M0 438.3l1-.8 1-.8 1-.7 1-.7 1-.6 1-.8 1-1.1 1-.8 1-.1 1 .1 1 .3 1 1.2 1 1.7 1 1.8 1 1.4 1 .7 1 .1 1 .2 1 .4 1 .2 1-.8 1-6.5 1-10.9 1-10.6 1-25.2 1-23.8 1-19.3 1-11.1 1-4.2 1 1 1 1.5 1-.2 1-.3 1 1.1 1 4.8 1 5.9 1 11.9 1 13.4 1 20.8 1 22.4 1 17.2 1 9.6 1 3.6 1 .3 1-.2 1-.4 1-.6 1-.6 1-.5 1-.5 1-.4 1-.4 1-.3 1-.4 1-.3 1-.4 1-.3 1-.2 1-.3 1-.2 1-.1 1-.2"/>
<path stroke="#93006c" d="M0 650.9l1-12.5 1-15.2 1-17.6 1-18.5 1-19.7 1-18.8 1-18.2 1-16.7 1-9.5 1-2.6 1 6.7 1 16.6 1 22.1 1 27.5 1 28.4 1 21.3 1 13 1 2.4 1-6.8 1-21.8 1-24.3 1-48 1-60.3 1-65.7 1-61.2 1-43.7 1-30 1-14.8 1-3.2 1 3.9 1 2.8 1 0 1-2.7 1-.2 1 4.4 1 16.8 1 27.8 1 37.8 1 51.8 1 49.1 1 48.8 1 47.8 1 41.5 1 32.9 1 24.2 1 16.6 1 5.7 1-5.4 1-15.8 1-19.3 1-17.5 1-12 1-8 1-5 1-.6 1 1.8 1 2.7 1 3.1 1 3.4 1 4 1 3.2 1 3"/>
<path stroke="#93006c" d="M0 651.2l1-12.5 1-15.3 1-17.6 1-18.6 1-19.7 1-18.9 1-18.2 1-16.8 1-9.4 1-2.7 1 6.8 1 16.6 1 22.1 1 27.6 1 28.5 1 21.4 1 13 1 2.4 1-6.7 1-21.9 1-24.5 1-48.1 1-60.5 1-65.8 1-61.4 1-43.8 1-30 1-14.9 1-3.2 1 4 1 2.9 1-.1 1-2.7 1-.2 1 4.4 1 16.8 1 27.9 1 37.9 1 51.8 1 49.3 1 48.9 1 48 1 41.6 1 33 1 24.2 1 16.6 1 5.8 1-5.5 1-15.8 1-19.3 1-17.6 1-12.1 1-7.9 1-5.1 1-.6 1 1.8 1 2.7 1 3.1 1 3.4 1 4 1 3.2 1 3"/>
<path stroke="#92006d" d="M0 651.6l1-12.6 1-15.4 1-17.6 1-18.7 1-19.8 1-18.9 1-18.2 1-16.8 1-9.5 1-2.7 1 6.8 1 16.7 1 22.1 1 27.7 1 28.6 1 21.5 1 13 1 2.5 1-6.8 1-22 1-24.5 1-48.3 1-60.6 1-66 1-61.5 1-44 1-30.1 1-14.8 1-3.2 1 4 1 2.9 1 0 1-2.8 1-.2 1 4.4 1 16.8 1 27.9 1 38 1 52 1 49.4 1 49 1 48.1 1 41.8 1 33 1 24.3 1 16.7 1 5.8 1-5.5 1-15.9 1-19.4 1-17.6 1-12.1 1-8 1-5.1 1-.6 1 1.9 1 2.6 1 3.1 1 3.4 1 3.9 1 3.3 1 3"/>
<path stroke="#92ff6d" d="M0 438.3l1-.8 1-.8 1-.7 1-.7 1-.6 1-.8 1-1.1 1-.8 1-.2 1 .2 1 .2 1 1.3 1 1.7 1 1.8 1 1.5 1 .6 1 .2 1 .2 1 .4 1 .2 1-.7 1-6.6 1-10.9 1-10.9 1-25.3 1-24 1-19.3 1-11 1-4.1 1 1.1 1 1.5 1-.2 1-.4 1 1 1 4.8 1 5.9 1 12.1 1 13.4 1 20.9 1 22.5 1 17.2 1 9.6 1 3.7 1 .3 1-.2 1-.4 1-.6 1-.7 1-.5 1-.4 1-.5 1-.3 1-.4 1-.4 1-.3 1-.4 1-.3 1-.2 1-.3 1-.2 1-.1 1-.2"/>
<path stroke="#92006d" d="M0 651.9l1-12.7 1-15.3 1-17.8 1-18.6 1-19.9 1-19 1-18.2 1-16.9 1-9.5 1-2.7 1 6.8 1 16.7 1 22.2 1 27.8 1 28.7 1 21.5 1 13.1 1 2.5 1-6.8 1-22 1-24.6 1-48.5 1-60.7 1-66.1 1-61.8 1-44 1-30.2 1-14.9 1-3.1 1 4 1 3 1-.1 1-2.7 1-.3 1 4.4 1 16.8 1 28 1 38.1 1 52 1 49.6 1 49.2 1 48.2 1 41.8 1 33.2 1 24.3 1 16.8 1 5.8 1-5.6 1-15.9 1-19.5 1-17.6 1-12.2 1-8 1-5.1 1-.6 1 1.9 1 2.6 1 3 1 3.5 1 3.9 1 3.3 1 3"/>
<path stroke="#91006e" d="M0 652.2l1-12.7 1-15.4 1-17.8 1-18.7 1-19.9 1-19.1 1-18.3 1-16.8 1-9.6 1-2.7 1 6.8 1 16.8 1 22.2 1 27.9 1 28.8 1 21.6 1 13.1 1 2.6 1-6.9 1-22 1-24.7 1-48.7 1-60.8 1-66.3 1-62 1-44.1 1-30.3 1-14.8 1-3.1 1 4.1 1 2.9 1 0 1-2.8 1-.3 1 4.4 1 16.8 1 28 1 38.2 1 52.2 1 49.7 1 49.3 1 48.4 1 41.9 1 33.2 1 24.4 1 16.8 1 5.9 1-5.6 1-15.9 1-19.6 1-17.7 1-12.3 1-8 1-5.1 1-.6 1 1.9 1 2.6 1 3 1 3.4 1 4 1 3.3 1 3"/>
<path stroke="#90006e" d="M0 652.5l1-12.7 1-15.5 1-17.8 1-18.8 1-20 1-19 1-18.4 1-16.9 1-9.5 1-2.8 1 6.8 1 16.8 1 22.4 1 27.9 1 28.9 1 21.7 1 13.2 1 2.5 1-6.8 1-22.2 1-24.8 1-48.8 1-60.9 1-66.5 1-62.1 1-44.3 1-30.3 1-14.9 1-3 1 4.1 1 3 1-.1 1-2.7 1-.4 1 4.4 1 16.8 1 28.1 1 38.2 1 52.3 1 49.9 1 49.4 1 48.5 1 42.1 1 33.3 1 24.4 1 16.9 1 5.8 1-5.5 1-16 1-19.7 1-17.8 1-12.2 1-8 1-5.2 1-.6 1 1.9 1 2.6 1 3 1 3.4 1 4 1 3.3 1 3"/>
<path stroke="#90ff6e" d="M0 438.4l1-.8 1-.8 1-.8 1-.7 1-.6 1-.9 1-1 1-.8 1-.2 1 .1 1 .3 1 1.3 1 1.8 1 1.7 1 1.6 1 .6 1 .2 1 .2 1 .4 1 .3 1-.8 1-6.5 1-11 1-11.2 1-25.4 1-24.2 1-19.4 1-10.8 1-3.9 1 1 1 1.6 1-.2 1-.4 1 .9 1 4.7 1 6 1 12.2 1 13.5 1 20.9 1 22.6 1 17.3 1 9.6 1 3.7 1 .2 1-.2 1-.3 1-.7 1-.6 1-.5 1-.5 1-.4 1-.4 1-.4 1-.4 1-.3 1-.3 1-.4 1-.2 1-.3 1-.2 1-.1 1-.2"/>
<path stroke="#90006f" d="M0 652.8l1-12.7 1-15.6 1-17.9 1-18.8 1-20 1-19.1 1-18.4 1-16.9 1-9.6 1-2.8 1 6.9 1 16.8 1 22.4 1 28 1 29 1 21.7 1 13.3 1 2.5 1-6.8 1-22.2 1-24.9 1-49 1-61 1-66.7 1-62.3 1-44.4 1-30.3 1-14.9 1-3.1 1 4.2 1 3 1 0 1-2.8 1-.4 1 4.4 1 16.8 1 28.1 1 38.4 1 52.4 1 50 1 49.6 1 48.6 1 42.1 1 33.4 1 24.6 1 16.9 1 5.8 1-5.6 1-16 1-19.7 1-17.9 1-12.3 1-8 1-5.2 1-.6 1 1.9 1 2.6 1 3 1 3.4 1 4 1 3.3 1 3"/>
<path stroke="#8f0070" d="M0 653.2l1-12.9 1-15.5 1-18 1-18.9 1-20 1-19.2 1-18.4 1-17 1-9.6 1-2.7 1 6.8 1 16.9 1 22.4 1 28.1 1 29.1 1 21.8 1 13.3 1 2.6 1-6.9 1-22.2 1-25 1-49.2 1-61.1 1-66.9 1-62.4 1-44.5 1-30.4 1-14.9 1-3.1 1 4.2 1 3.1 1-.1 1-2.8 1-.3 1 4.3 1 16.8 1 28.2 1 38.4 1 52.5 1 50.2 1 49.7 1 48.8 1 42.2 1 33.5 1 24.6 1 16.9 1 5.9 1-5.6 1-16.1 1-19.8 1-17.9 1-12.3 1-8.1 1-5.2 1-.6 1 1.9 1 2.6 1 3 1 3.4 1 4 1 3.2 1 3"/>
<path stroke="#8f0070" d="M0 653.5l1-12.9 1-15.6 1-18 1-19 1-20.1 1-19.2 1-18.5 1-16.9 1-9.7 1-2.7 1 6.8 1 16.9 1 22.5 1 28.2 1 29.2 1 21.9 1 13.3 1 2.6 1-6.9 1-22.3 1-25.1 1-49.3 1-61.2 1-67.1 1-62.6 1-44.6 1-30.5 1-14.9 1-3 1 4.3 1 3 1 0 1-2.8 1-.4 1 4.3 1 16.9 1 28.1 1 38.6 1 52.6 1 50.2 1 49.9 1 48.9 1 42.4 1 33.5 1 24.7 1 17 1 5.9 1-5.7 1-16.1 1-19.9 1-17.9 1-12.4 1-8.1 1-5.2 1-.6 1 1.9 1 2.6 1 3 1 3.4 1 3.9 1 3.3 1 3"/>
<path stroke="#8fff70" d="M0 438.4l1-.8 1-.8 1-.8 1-.6 1-.7 1-.9 1-1 1-.9 1-.2 1 .2 1 .3 1 1.3 1 1.8 1 1.8 1 1.5 1 .7 1 .2 1 .2 1 .4 1 .3 1-.7 1-6.6 1-11 1-11.5 1-25.6 1-24.3 1-19.4 1-10.7 1-3.8 1 1.1 1 1.5 1-.2 1-.4 1 .9 1 4.6 1 6.1 1 12.2 1 13.6 1 21 1 22.7 1 17.3 1 9.7 1 3.6 1 .3 1-.2 1-.3 1-.7 1-.6 1-.6 1-.4 1-.5 1-.4 1-.4 1-.3 1-.4 1-.3 1-.3 1-.3 1-.3 1-.2 1-.1 1-.2"/>
<path stroke="#8e0071" d="M0 653.8l1-12.9 1-15.7 1-18.1 1-18.9 1-20.2 1-19.3 1-18.5 1-17 1-9.7 1-2.7 1 6.8 1 17 1 22.5 1 28.3 1 29.3 1 22 1 13.3 1 2.7 1-6.9 1-22.4 1-25.2 1-49.5 1-61.4 1-67.1 1-62.8 1-44.7 1-30.6 1-14.9 1-3 1 4.3 1 3.1 1-.1 1-2.8 1-.4 1 4.3 1 16.9 1 28.2 1 38.6 1 52.8 1 50.3 1 50.1 1 49 1 42.4 1 33.7 1 24.7 1 17 1 5.9 1-5.6 1-16.2 1-19.9 1-18.1 1-12.4 1-8.1 1-5.2 1-.6 1 1.9 1 2.6 1 2.9 1 3.4 1 4 1 3.3 1 3"/>
<path stroke="#8e0071" d="M0 654.1l1-12.9 1-15.8 1-18.1 1-19 1-20.2 1-19.3 1-18.6 1-17.1 1-9.6 1-2.8 1 6.9 1 17 1 22.5 1 28.5 1 29.3 1 22 1 13.5 1 2.6 1-6.9 1-22.4 1-25.3 1-49.6 1-61.6 1-67.3 1-63 1-44.8 1-30.6 1-14.9 1-3 1 4.3 1 3.1 1 0 1-2.8 1-.4 1 4.2 1 16.9 1 28.2 1 38.8 1 52.8 1 50.5 1 50.2 1 49.2 1 42.5 1 33.7 1 24.8 1 17.1 1 5.9 1-5.7 1-16.2 1-20 1-18.1 1-12.4 1-8.2 1-5.2 1-.6 1 1.8 1 2.7 1 2.9 1 3.4 1 4 1 3.3 1 3"/>
<path stroke="#8d0072" d="M0 654.4l1-13 1-15.8 1-18.1 1-19.1 1-20.3 1-19.3 1-18.6 1-17.1 1-9.7 1-2.8 1 6.9 1 17 1 22.6 1 28.6 1 29.4 1 22.1 1 13.5 1 2.6 1-6.9 1-22.5 1-25.4 1-49.7 1-61.7 1-67.5 1-63.1 1-45 1-30.6 1-15 1-2.9 1 4.4 1 3.1 1 0 1-2.9 1-.4 1 4.2 1 16.9 1 28.3 1 38.8 1 53 1 50.6 1 50.3 1 49.3 1 42.6 1 33.9 1 24.8 1 17.1 1 6 1-5.7 1-16.4 1-20 1-18.1 1-12.5 1-8.1 1-5.3 1-.6 1 1.8 1 2.7 1 2.9 1 3.4 1 4 1 3.3 1 3"/>
<path stroke="#8dff72" d="M0 438.5l1-.9 1-.8 1-.7 1-.7 1-.7 1-.9 1-1.1 1-.8 1-.2 1 .1 1 .3 1 1.4 1 1.8 1 1.8 1 1.6 1 .7 1 .2 1 .2 1 .5 1 .2 1-.7 1-6.5 1-11.1 1-11.8 1-25.7 1-24.4 1-19.5 1-10.5 1-3.7 1 1.1 1 1.5 1-.2 1-.4 1 .8 1 4.6 1 6.1 1 12.3 1 13.7 1 21.1 1 22.7 1 17.4 1 9.6 1 3.7 1 .3 1-.2 1-.4 1-.6 1-.7 1-.5 1-.5 1-.4 1-.5 1-.3 1-.4 1-.4 1-.3 1-.3 1-.3 1-.3 1-.2 1-.1 1-.2"/>
<path stroke="#8d0072" d="M0 654.7l1-13 1-15.8 1-18.3 1-19.1 1-20.3 1-19.4 1-18.6 1-17.2 1-9.7 1-2.8 1 6.9 1 17.1 1 22.6 1 28.7 1 29.5 1 22.2 1 13.5 1 2.7 1-7 1-22.5 1-25.5 1-49.9 1-61.8 1-67.7 1-63.2 1-45.1 1-30.8 1-14.9 1-2.9 1 4.4 1 3.2 1-.1 1-2.8 1-.5 1 4.2 1 16.9 1 28.4 1 38.9 1 53 1 50.8 1 50.5 1 49.4 1 42.7 1 33.9 1 24.9 1 17.2 1 5.9 1-5.7 1-16.4 1-20.1 1-18.2 1-12.5 1-8.1 1-5.3 1-.6 1 1.8 1 2.6 1 3 1 3.4 1 3.9 1 3.4 1 3"/>
<path stroke="#8c0073" d="M0 655.1l1-13.1 1-15.9 1-18.3 1-19.2 1-20.3 1-19.5 1-18.7 1-17.1 1-9.8 1-2.8 1 6.9 1 17.1 1 22.8 1 28.7 1 29.6 1 22.2 1 13.6 1 2.7 1-7 1-22.5 1-25.6 1-50.1 1-61.9 1-67.9 1-63.4 1-45.2 1-30.8 1-14.9 1-2.9 1 4.5 1 3.1 1 0 1-2.8 1-.6 1 4.2 1 16.9 1 28.4 1 39 1 53.2 1 50.9 1 50.6 1 49.6 1 42.8 1 34 1 24.9 1 17.2 1 6 1-5.7 1-16.5 1-20.1 1-18.3 1-12.5 1-8.2 1-5.3 1-.6 1 1.8 1 2.6 1 3 1 3.3 1 4 1 3.3 1 3.1"/>
<path stroke="#8b0074" d="M0 655.4l1-13.1 1-16 1-18.3 1-19.3 1-20.4 1-19.5 1-18.7 1-17.2 1-9.7 1-2.8 1 6.8 1 17.2 1 22.8 1 28.8 1 29.7 1 22.3 1 13.6 1 2.7 1-6.9 1-22.7 1-25.6 1-50.3 1-62 1-68 1-63.6 1-45.3 1-30.9 1-15 1-2.8 1 4.5 1 3.2 1-.1 1-2.8 1-.5 1 4.2 1 16.9 1 28.4 1 39.1 1 53.3 1 51 1 50.7 1 49.7 1 42.9 1 34.1 1 25 1 17.3 1 6 1-5.8 1-16.5 1-20.2 1-18.3 1-12.6 1-8.2 1-5.3 1-.6 1 1.8 1 2.6 1 2.9 1 3.4 1 4 1 3.3 1 3.1"/>
<path stroke="#8bff74" d="M0 438.5l1-.8 1-.9 1-.7 1-.7 1-.7 1-.9 1-1.1 1-.8 1-.2 1 .1 1 .3 1 1.4 1 1.8 1 1.8 1 1.6 1 .8 1 .2 1 .2 1 .5 1 .3 1-.7 1-6.6 1-11.1 1-12 1-25.9 1-24.6 1-19.4 1-10.5 1-3.6 1 1.2 1 1.5 1-.2 1-.4 1 .8 1 4.5 1 6.1 1 12.4 1 13.8 1 21.1 1 22.8 1 17.5 1 9.6 1 3.7 1 .3 1-.2 1-.4 1-.7 1-.6 1-.6 1-.4 1-.5 1-.4 1-.4 1-.4 1-.4 1-.3 1-.3 1-.3 1-.3 1-.2 1-.1 1-.2"/>
<path stroke="#8b0074" d="M0 655.7l1-13.2 1-16 1-18.4 1-19.2 1-20.5 1-19.5 1-18.8 1-17.2 1-9.8 1-2.8 1 6.9 1 17.2 1 22.8 1 28.9 1 29.8 1 22.3 1 13.7 1 2.8 1-7 1-22.7 1-25.8 1-50.4 1-62.1 1-68.2 1-63.8 1-45.4 1-30.9 1-15 1-2.8 1 4.5 1 3.3 1-.1 1-2.8 1-.6 1 4.2 1 16.9 1 28.5 1 39.1 1 53.4 1 51.2 1 50.9 1 49.8 1 43 1 34.1 1 25.1 1 17.3 1 6 1-5.7 1-16.6 1-20.3 1-18.4 1-12.6 1-8.2 1-5.3 1-.6 1 1.8 1 2.6 1 2.9 1 3.4 1 4 1 3.3 1 3"/>
<path stroke="#8a0075" d="M0 656l1-13.2 1-16.1 1-18.4 1-19.3 1-20.5 1-19.6 1-18.8 1-17.3 1-9.8 1-2.8 1 6.9 1 17.2 1 22.9 1 29 1 29.9 1 22.4 1 13.7 1 2.8 1-7 1-22.7 1-25.9 1-50.6 1-62.2 1-68.4 1-63.9 1-45.5 1-31 1-15 1-2.8 1 4.6 1 3.2 1 0 1-2.9 1-.5 1 4.1 1 16.9 1 28.5 1 39.3 1 53.5 1 51.3 1 51 1 50 1 43 1 34.3 1 25.1 1 17.4 1 6 1-5.8 1-16.6 1-20.4 1-18.4 1-12.6 1-8.3 1-5.3 1-.6 1 1.8 1 2.6 1 2.9 1 3.3 1 4.1 1 3.3 1 3"/>
<path stroke="#8a0075" d="M0 656.3l1-13.2 1-16.1 1-18.5 1-19.4 1-20.6 1-19.6 1-18.8 1-17.3 1-9.9 1-2.8 1 6.9 1 17.3 1 22.9 1 29.1 1 30 1 22.5 1 13.8 1 2.7 1-7 1-22.8 1-25.9 1-50.8 1-62.3 1-68.6 1-64 1-45.7 1-31 1-15 1-2.8 1 4.6 1 3.3 1-.1 1-2.8 1-.6 1 4.1 1 16.9 1 28.6 1 39.3 1 53.7 1 51.4 1 51.2 1 50 1 43.2 1 34.3 1 25.2 1 17.4 1 6 1-5.8 1-16.6 1-20.5 1-18.4 1-12.7 1-8.3 1-5.3 1-.6 1 1.8 1 2.6 1 2.9 1 3.3 1 4 1 3.4 1 3"/>
<path stroke="#8aff75" d="M0 438.6l1-.9 1-.8 1-.8 1-.7 1-.7 1-.9 1-1.1 1-.9 1-.2 1 .2 1 .3 1 1.4 1 1.8 1 1.9 1 1.6 1 .7 1 .3 1 .3 1 .4 1 .3 1-.7 1-6.5 1-11.2 1-12.3 1-26 1-24.7 1-19.5 1-10.3 1-3.5 1 1.2 1 1.5 1-.2 1-.4 1 .7 1 4.5 1 6.1 1 12.5 1 13.8 1 21.3 1 22.8 1 17.5 1 9.7 1 3.6 1 .3 1-.2 1-.3 1-.7 1-.7 1-.5 1-.5 1-.5 1-.4 1-.4 1-.4 1-.3 1-.4 1-.3 1-.3 1-.3 1-.2 1-.1 1-.2"/>
<path stroke="#890076" d="M0 656.6l1-13.3 1-16.1 1-18.6 1-19.4 1-20.6 1-19.7 1-18.9 1-17.3 1-9.8 1-2.9 1 6.9 1 17.4 1 22.9 1 29.2 1 30.1 1 22.5 1 13.9 1 2.8 1-7.1 1-22.8 1-26.1 1-50.9 1-62.4 1-68.7 1-64.3 1-45.7 1-31.1 1-15 1-2.8 1 4.7 1 3.3 1-.1 1-2.9 1-.6 1 4.2 1 16.8 1 28.7 1 39.4 1 53.7 1 51.6 1 51.3 1 50.2 1 43.3 1 34.4 1 25.2 1 17.4 1 6.1 1-5.8 1-16.7 1-20.5 1-18.6 1-12.7 1-8.3 1-5.3 1-.7 1 1.9 1 2.6 1 2.8 1 3.4 1 4 1 3.3 1 3.1"/>
<path stroke="#890076" d="M0 656.9l1-13.3 1-16.2 1-18.6 1-19.5 1-20.6 1-19.8 1-18.9 1-17.3 1-9.9 1-2.9 1 7 1 17.3 1 23 1 29.3 1 30.2 1 22.6 1 13.9 1 2.8 1-7 1-22.9 1-26.2 1-51.1 1-62.6 1-68.8 1-64.4 1-45.8 1-31.2 1-15.1 1-2.7 1 4.7 1 3.3 1 0 1-2.9 1-.6 1 4.1 1 16.9 1 28.7 1 39.5 1 53.8 1 51.7 1 51.4 1 50.4 1 43.3 1 34.5 1 25.3 1 17.5 1 6 1-5.8 1-16.8 1-20.5 1-18.6 1-12.8 1-8.3 1-5.3 1-.7 1 1.9 1 2.5 1 2.9 1 3.4 1 4 1 3.3 1 3.1"/>
<path stroke="#880077" d="M0 657.3l1-13.4 1-16.3 1-18.6 1-19.6 1-20.7 1-19.7 1-19 1-17.4 1-9.9 1-2.9 1 7 1 17.4 1 23.1 1 29.3 1 30.3 1 22.7 1 13.9 1 2.8 1-7 1-23 1-26.2 1-51.3 1-62.7 1-69 1-64.5 1-46 1-31.2 1-15.1 1-2.7 1 4.8 1 3.3 1 0 1-2.9 1-.7 1 4.1 1 16.9 1 28.7 1 39.6 1 54 1 51.8 1 51.6 1 50.4 1 43.5 1 34.5 1 25.4 1 17.5 1 6.1 1-5.9 1-16.8 1-20.6 1-18.7 1-12.7 1-8.4 1-5.3 1-.7 1 1.9 1 2.5 1 2.9 1 3.3 1 4 1 3.4 1 3"/>
<path stroke="#88ff77" d="M0 438.6l1-.9 1-.8 1-.8 1-.7 1-.7 1-.9 1-1.1 1-.9 1-.2 1 .1 1 .3 1 1.4 1 1.9 1 1.9 1 1.7 1 .7 1 .3 1 .3 1 .4 1 .3 1-.6 1-6.5 1-11.3 1-12.6 1-26.1 1-24.8 1-19.5 1-10.2 1-3.4 1 1.2 1 1.6 1-.2 1-.5 1 .6 1 4.4 1 6.2 1 12.6 1 13.9 1 21.3 1 22.9 1 17.6 1 9.6 1 3.7 1 .3 1-.2 1-.4 1-.6 1-.7 1-.6 1-.5 1-.4 1-.5 1-.4 1-.3 1-.4 1-.4 1-.3 1-.3 1-.3 1-.2 1-.1 1-.2"/>
<path stroke="#870078" d="M0 657.6l1-13.4 1-16.4 1-18.7 1-19.6 1-20.7 1-19.8 1-19 1-17.4 1-10 1-2.8 1 6.9 1 17.4 1 23.2 1 29.4 1 30.4 1 22.7 1 14 1 2.9 1-7.1 1-23 1-26.4 1-51.4 1-62.8 1-69.2 1-64.7 1-46 1-31.3 1-15.1 1-2.7 1 4.8 1 3.4 1-.1 1-2.9 1-.6 1 4 1 16.9 1 28.8 1 39.7 1 54 1 52 1 51.7 1 50.6 1 43.5 1 34.7 1 25.4 1 17.5 1 6.1 1-5.8 1-16.9 1-20.7 1-18.7 1-12.8 1-8.4 1-5.3 1-.7 1 1.8 1 2.6 1 2.9 1 3.3 1 4 1 3.4 1 3"/>
<path stroke="#870078" d="M0 657.9l1-13.5 1-16.3 1-18.8 1-19.6 1-20.8 1-19.9 1-19.1 1-17.4 1-9.9 1-2.9 1 6.9 1 17.5 1 23.2 1 29.5 1 30.5 1 22.8 1 14 1 2.9 1-7.1 1-23 1-26.5 1-51.6 1-62.9 1-69.3 1-64.9 1-46.2 1-31.3 1-15.1 1-2.7 1 4.9 1 3.4 1-.1 1-2.9 1-.7 1 4.1 1 16.9 1 28.8 1 39.7 1 54.2 1 52.1 1 51.8 1 50.8 1 43.6 1 34.7 1 25.5 1 17.6 1 6.1 1-5.9 1-16.9 1-20.8 1-18.7 1-12.9 1-8.4 1-5.4 1-.6 1 1.8 1 2.6 1 2.8 1 3.4 1 4 1 3.3 1 3.1"/>
<path stroke="#860079" d="M0 658.2l1-13.5 1-16.4 1-18.8 1-19.7 1-20.9 1-19.9 1-19.1 1-17.5 1-9.9 1-2.9 1 6.9 1 17.6 1 23.2 1 29.6 1 30.6 1 22.9 1 14 1 2.9 1-7.1 1-23.1 1-26.5 1-51.8 1-63 1-69.5 1-65 1-46.3 1-31.4 1-15.1 1-2.7 1 4.9 1 3.4 1 0 1-2.9 1-.8 1 4.1 1 16.9 1 28.9 1 39.8 1 54.3 1 52.2 1 52 1 50.8 1 43.7 1 34.8 1 25.5 1 17.7 1 6.1 1-5.9 1-17 1-20.8 1-18.8 1-12.9 1-8.4 1-5.4 1-.6 1 1.8 1 2.6 1 2.8 1 3.3 1 4 1 3.4 1 3.1"/>
<path stroke="#86ff79" d="M0 438.7l1-.9 1-.9 1-.8 1-.7 1-.7 1-.9 1-1.1 1-.9 1-.2 1 .1 1 .3 1 1.4 1 1.9 1 1.9 1 1.7 1 .8 1 .3 1 .3 1 .5 1 .3 1-.7 1-6.5 1-11.3 1-12.8 1-26.3 1-24.9 1-19.5 1-10.1 1-3.3 1 1.2 1 1.6 1-.2 1-.5 1 .6 1 4.4 1 6.2 1 12.7 1 13.9 1 21.4 1 22.9 1 17.6 1 9.7 1 3.7 1 .3 1-.2 1-.4 1-.7 1-.7 1-.5 1-.5 1-.5 1-.4 1-.4 1-.4 1-.4 1-.4 1-.3 1-.3 1-.3 1-.2 1-.2 1-.1"/>
<path stroke="#860079" d="M0 658.5l1-13.5 1-16.5 1-18.9 1-19.7 1-20.9 1-20 1-19.1 1-17.5 1-10 1-2.9 1 7 1 17.5 1 23.3 1 29.7 1 30.7 1 22.9 1 14.1 1 3 1-7.2 1-23.1 1-26.7 1-51.9 1-63.1 1-69.7 1-65.1 1-46.4 1-31.5 1-15.1 1-2.6 1 4.9 1 3.4 1 0 1-3 1-.7 1 4 1 16.9 1 28.9 1 40 1 54.4 1 52.3 1 52.1 1 51 1 43.8 1 34.9 1 25.5 1 17.7 1 6.2 1-6 1-17 1-20.9 1-18.8 1-12.9 1-8.5 1-5.4 1-.6 1 1.8 1 2.5 1 2.9 1 3.3 1 4 1 3.4 1 3"/>
<path stroke="#85007a" d="M0 658.8l1-13.6 1-16.5 1-18.9 1-19.8 1-20.9 1-20 1-19.2 1-17.6 1-10 1-2.9 1 7 1 17.6 1 23.3 1 29.8 1 30.8 1 23 1 14.2 1 2.9 1-7.1 1-23.3 1-26.7 1-52.1 1-63.2 1-69.8 1-65.4 1-46.5 1-31.5 1-15.1 1-2.6 1 4.9 1 3.5 1-.1 1-2.9 1-.8 1 4.1 1 16.9 1 28.9 1 40 1 54.5 1 52.5 1 52.2 1 51.2 1 43.8 1 35 1 25.6 1 17.8 1 6.1 1-5.9 1-17.1 1-21 1-18.9 1-12.9 1-8.5 1-5.4 1-.6 1 1.8 1 2.5 1 2.8 1 3.4 1 4 1 3.3 1 3.1"/>
<path stroke="#85007a" d="M0 659.1l1-13.6 1-16.6 1-18.9 1-19.9 1-21 1-20 1-19.2 1-17.6 1-10 1-3 1 7 1 17.7 1 23.3 1 29.9 1 30.9 1 23.1 1 14.2 1 2.9 1-7.1 1-23.3 1-26.8 1-52.3 1-63.3 1-70 1-65.5 1-46.6 1-31.6 1-15.1 1-2.6 1 5 1 3.5 1-.1 1-2.9 1-.8 1 4 1 16.9 1 29 1 40.1 1 54.6 1 52.6 1 52.4 1 51.2 1 44 1 35 1 25.7 1 17.8 1 6.1 1-5.9 1-17.1 1-21 1-19 1-13 1-8.5 1-5.4 1-.7 1 1.9 1 2.5 1 2.8 1 3.3 1 4.1 1 3.3 1 3.1"/>
<path stroke="#85ff7a" d="M0 438.7l1-.9 1-.9 1-.7 1-.8 1-.7 1-.9 1-1.2 1-.9 1-.2 1 .2 1 .3 1 1.4 1 1.9 1 2 1 1.7 1 .8 1 .3 1 .3 1 .5 1 .3 1-.6 1-6.5 1-11.4 1-13.1 1-26.4 1-25 1-19.5 1-10 1-3.2 1 1.3 1 1.6 1-.2 1-.5 1 .5 1 4.3 1 6.2 1 12.8 1 14 1 21.4 1 23 1 17.7 1 9.6 1 3.7 1 .4 1-.2 1-.4 1-.7 1-.7 1-.6 1-.5 1-.5 1-.4 1-.4 1-.4 1-.4 1-.4 1-.3 1-.3 1-.3 1-.2 1-.2 1-.1"/>
<path stroke="#84007b" d="M0 659.4l1-13.6 1-16.6 1-19.1 1-19.9 1-21 1-20.1 1-19.3 1-17.6 1-10 1-2.9 1 6.9 1 17.7 1 23.5 1 29.9 1 31 1 23.1 1 14.3 1 3 1-7.2 1-23.3 1-27 1-52.4 1-63.4 1-70.2 1-65.6 1-46.7 1-31.7 1-15.1 1-2.6 1 5.1 1 3.4 1 0 1-3 1-.8 1 4 1 17 1 29 1 40.2 1 54.7 1 52.7 1 52.5 1 51.4 1 44 1 35.1 1 25.8 1 17.8 1 6.2 1-6 1-17.2 1-21 1-19.1 1-13 1-8.5 1-5.4 1-.7 1 1.8 1 2.6 1 2.8 1 3.3 1 4 1 3.4 1 3.1"/>
<path stroke="#83007c" d="M0 659.8l1-13.8 1-16.6 1-19.1 1-20 1-21 1-20.2 1-19.3 1-17.6 1-10.1 1-2.9 1 7 1 17.7 1 23.5 1 30 1 31.1 1 23.2 1 14.3 1 3 1-7.2 1-23.4 1-27 1-52.6 1-63.5 1-70.3 1-65.8 1-46.9 1-31.7 1-15.1 1-2.6 1 5.1 1 3.5 1 0 1-3 1-.8 1 4 1 16.9 1 29.1 1 40.3 1 54.8 1 52.8 1 52.7 1 51.5 1 44.1 1 35.2 1 25.8 1 17.8 1 6.2 1-6 1-17.2 1-21.1 1-19.1 1-13.1 1-8.5 1-5.4 1-.7 1 1.8 1 2.5 1 2.8 1 3.4 1 4 1 3.3 1 3.1"/>
<path stroke="#83007c" d="M0 660.1l1-13.8 1-16.7 1-19.1 1-20 1-21.2 1-20.2 1-19.3 1-17.7 1-10.1 1-2.9 1 7 1 17.7 1 23.6 1 30.1 1 31.2 1 23.2 1 14.4 1 3 1-7.2 1-23.4 1-27.1 1-52.8 1-63.6 1-70.5 1-66 1-46.9 1-31.8 1-15.1 1-2.6 1 5.2 1 3.5 1-.1 1-2.9 1-.9 1 4 1 16.9 1 29.2 1 40.3 1 54.9 1 53 1 52.8 1 51.6 1 44.2 1 35.3 1 25.8 1 17.9 1 6.2 1-6 1-17.3 1-21.1 1-19.2 1-13.1 1-8.5 1-5.5 1-.6 1 1.8 1 2.5 1 2.8 1 3.3 1 4 1 3.4 1 3.1"/>
<path stroke="#83ff7c" d="M0 438.8l1-1 1-.8 1-.8 1-.8 1-.7 1-.9 1-1.2 1-.9 1-.2 1 .1 1 .4 1 1.4 1 1.9 1 2 1 1.7 1 .8 1 .3 1 .4 1 .5 1 .3 1-.6 1-6.5 1-11.4 1-13.3 1-26.5 1-25.2 1-19.5 1-9.9 1-3 1 1.3 1 1.6 1-.3 1-.5 1 .5 1 4.2 1 6.3 1 12.9 1 14 1 21.5 1 23.1 1 17.6 1 9.7 1 3.7 1 .3 1-.2 1-.4 1-.7 1-.7 1-.5 1-.5 1-.5 1-.5 1-.4 1-.4 1-.4 1-.3 1-.4 1-.3 1-.3 1-.2 1-.2 1-.1"/>
<path stroke="#82007d" d="M0 660.4l1-13.8 1-16.8 1-19.2 1-20 1-21.2 1-20.2 1-19.4 1-17.7 1-10.1 1-3 1 7 1 17.8 1 23.6 1 30.2 1 31.3 1 23.3 1 14.4 1 3 1-7.2 1-23.5 1-27.2 1-52.9 1-63.7 1-70.7 1-66.1 1-47 1-31.9 1-15.1 1-2.5 1 5.1 1 3.6 1-.1 1-3 1-.8 1 4 1 16.9 1 29.1 1 40.5 1 55 1 53.1 1 52.9 1 51.8 1 44.3 1 35.3 1 25.9 1 18 1 6.2 1-6.1 1-17.3 1-21.2 1-19.3 1-13.1 1-8.5 1-5.5 1-.6 1 1.8 1 2.5 1 2.8 1 3.3 1 4 1 3.4 1 3.1"/>
<path stroke="#82007d" d="M0 660.7l1-13.9 1-16.8 1-19.2 1-20.1 1-21.2 1-20.3 1-19.4 1-17.8 1-10.1 1-3 1 7 1 17.9 1 23.6 1 30.3 1 31.4 1 23.4 1 14.4 1 3.1 1-7.2 1-23.6 1-27.3 1-53.1 1-63.8 1-70.8 1-66.3 1-47.1 1-32 1-15.1 1-2.5 1 5.2 1 3.6 1-.1 1-3 1-.9 1 4 1 16.9 1 29.2 1 40.6 1 55.1 1 53.2 1 53.1 1 51.8 1 44.4 1 35.4 1 26 1 18 1 6.2 1-6.1 1-17.3 1-21.3 1-19.3 1-13.1 1-8.6 1-5.5 1-.7 1 1.9 1 2.4 1 2.8 1 3.3 1 4.1 1 3.3 1 3.2"/>
<path stroke="#81007e" d="M0 661l1-13.9 1-16.8 1-19.4 1-20.1 1-21.3 1-20.3 1-19.5 1-17.7 1-10.2 1-3 1 7.1 1 17.8 1 23.7 1 30.4 1 31.5 1 23.4 1 14.5 1 3.1 1-7.2 1-23.6 1-27.4 1-53.3 1-63.9 1-71 1-66.4 1-47.2 1-32.1 1-15.1 1-2.5 1 5.2 1 3.6 1 0 1-3 1-.9 1 3.9 1 17 1 29.2 1 40.6 1 55.3 1 53.3 1 53.2 1 52 1 44.5 1 35.5 1 26 1 18 1 6.2 1-6.1 1-17.4 1-21.3 1-19.4 1-13.1 1-8.6 1-5.5 1-.7 1 1.8 1 2.5 1 2.8 1 3.3 1 4 1 3.4 1 3.1"/>
<path stroke="#81ff7e" d="M0 438.8l1-.9 1-.9 1-.8 1-.8 1-.7 1-.9 1-1.2 1-.9 1-.2 1 .1 1 .3 1 1.5 1 1.9 1 2 1 1.8 1 .8 1 .3 1 .4 1 .5 1 .4 1-.7 1-6.4 1-11.5 1-13.5 1-26.7 1-25.2 1-19.6 1-9.8 1-2.9 1 1.3 1 1.7 1-.3 1-.5 1 .4 1 4.2 1 6.3 1 13 1 14.1 1 21.5 1 23.1 1 17.7 1 9.7 1 3.6 1 .4 1-.2 1-.4 1-.7 1-.7 1-.6 1-.5 1-.5 1-.4 1-.5 1-.4 1-.4 1-.3 1-.4 1-.3 1-.3 1-.2 1-.2 1-.1"/>
<path stroke="#81007e" d="M0 661.3l1-13.9 1-16.9 1-19.4 1-20.2 1-21.3 1-20.4 1-19.5 1-17.8 1-10.2 1-3 1 7.1 1 17.9 1 23.7 1 30.5 1 31.6 1 23.5 1 14.6 1 3 1-7.2 1-23.7 1-27.5 1-53.4 1-64 1-71.1 1-66.6 1-47.4 1-32 1-15.2 1-2.5 1 5.3 1 3.6 1 0 1-3 1-1 1 4 1 16.9 1 29.3 1 40.7 1 55.3 1 53.5 1 53.4 1 52.1 1 44.5 1 35.6 1 26 1 18.1 1 6.2 1-6 1-17.5 1-21.4 1-19.4 1-13.2 1-8.6 1-5.5 1-.7 1 1.8 1 2.5 1 2.8 1 3.3 1 4 1 3.4 1 3.1"/>
<path stroke="#80007f" d="M0 661.6l1-13.9 1-17 1-19.4 1-20.3 1-21.3 1-20.5 1-19.5 1-17.8 1-10.2 1-3 1 7 1 18 1 23.7 1 30.6 1 31.7 1 23.6 1 14.6 1 3.1 1-7.3 1-23.7 1-27.6 1-53.6 1-64.2 1-71.2 1-66.7 1-47.5 1-32.1 1-15.2 1-2.4 1 5.3 1 3.6 1-.1 1-3 1-.9 1 3.9 1 17 1 29.3 1 40.8 1 55.4 1 53.6 1 53.5 1 52.2 1 44.7 1 35.6 1 26.1 1 18.1 1 6.3 1-6.1 1-17.6 1-21.5 1-19.4 1-13.2 1-8.6 1-5.6 1-.6 1 1.8 1 2.5 1 2.7 1 3.3 1 4.1 1 3.3 1 3.2"/>
<path stroke="#800080" d="M0 661.9l1-14 1-17 1-19.5 1-20.3 1-21.4 1-20.4 1-19.6 1-17.9 1-10.2 1-3 1 7 1 18 1 23.9 1 30.6 1 31.8 1 23.6 1 14.7 1 3.1 1-7.3 1-23.7 1-27.7 1-53.8 1-64.3 1-71.4 1-66.9 1-47.5 1-32.2 1-15.2 1-2.4 1 5.3 1 3.7 1-.1 1-3 1-.9 1 3.9 1 16.9 1 29.4 1 40.9 1 55.5 1 53.7 1 53.6 1 52.4 1 44.7 1 35.7 1 26.2 1 18.1 1 6.3 1-6.1 1-17.6 1-21.6 1-19.4 1-13.3 1-8.6 1-5.6 1-.7 1 1.9 1 2.4 1 2.8 1 3.3 1 4 1 3.4 1 3.1"/>
<path stroke="#80ff80" d="M0 438.9l1-1 1-.9 1-.8 1-.8 1-.7 1-1 1-1.1 1-1 1-.2 1 .2 1 .3 1 1.5 1 1.9 1 2.1 1 1.8 1 .8 1 .3 1 .4 1 .5 1 .4 1-.6 1-6.4 1-11.6 1-13.8 1-26.7 1-25.3 1-19.6 1-9.7 1-2.8 1 1.3 1 1.7 1-.3 1-.5 1 .3 1 4.1 1 6.4 1 13 1 14.2 1 21.6 1 23.1 1 17.8 1 9.6 1 3.7 1 .4 1-.2 1-.4 1-.7 1-.8 1-.5 1-.6 1-.5 1-.4 1-.4 1-.4 1-.4 1-.4 1-.4 1-.3 1-.3 1-.2 1-.2 1-.1"/>
<path stroke="#7f0080" d="M0 662.3l1-14.1 1-17.1 1-19.5 1-20.3 1-21.5 1-20.5 1-19.6 1-17.9 1-10.3 1-3 1 7.1 1 18 1 23.9 1 30.7 1 31.9 1 23.7 1 14.7 1 3.1 1-7.3 1-23.8 1-27.8 1-53.9 1-64.4 1-71.5 1-67.1 1-47.6 1-32.3 1-15.2 1-2.4 1 5.4 1 3.7 1-.1 1-3 1-1 1 3.9 1 17 1 29.4 1 40.9 1 55.7 1 53.8 1 53.8 1 52.5 1 44.7 1 35.8 1 26.2 1 18.2 1 6.3 1-6.1 1-17.7 1-21.6 1-19.5 1-13.3 1-8.7 1-5.5 1-.7 1 1.8 1 2.5 1 2.7 1 3.3 1 4.1 1 3.4 1 3.1"/>
<path stroke="#7e0081" d="M0 662.6l1-14.1 1-17.2 1-19.5 1-20.4 1-21.5 1-20.6 1-19.7 1-17.9 1-10.3 1-3 1 7.1 1 18 1 24 1 30.9 1 31.9 1 23.8 1 14.7 1 3.2 1-7.3 1-23.9 1-27.9 1-54 1-64.6 1-71.7 1-67.2 1-47.7 1-32.4 1-15.2 1-2.4 1 5.5 1 3.6 1 0 1-3 1-1 1 3.9 1 16.9 1 29.5 1 41 1 55.8 1 54 1 53.8 1 52.6 1 44.9 1 35.8 1 26.3 1 18.2 1 6.3 1-6.1 1-17.7 1-21.7 1-19.6 1-13.3 1-8.7 1-5.5 1-.7 1 1.8 1 2.4 1 2.8 1 3.3 1 4 1 3.4 1 3.1"/>
<path stroke="#7e0081" d="M0 662.9l1-14.2 1-17.1 1-19.7 1-20.4 1-21.6 1-20.6 1-19.7 1-18 1-10.2 1-3.1 1 7.1 1 18.1 1 24 1 31 1 31.9 1 23.9 1 14.8 1 3.2 1-7.3 1-24 1-27.9 1-54.2 1-64.7 1-71.8 1-67.4 1-47.8 1-32.4 1-15.3 1-2.3 1 5.4 1 3.7 1 0 1-3.1 1-1 1 3.9 1 17 1 29.5 1 41.1 1 55.9 1 54.1 1 54 1 52.7 1 44.9 1 36 1 26.3 1 18.2 1 6.3 1-6.1 1-17.8 1-21.7 1-19.6 1-13.4 1-8.7 1-5.6 1-.6 1 1.8 1 2.4 1 2.8 1 3.2 1 4.1 1 3.4 1 3.1"/>
<path stroke="#7eff81" d="M0 438.9l1-.9 1-1 1-.8 1-.8 1-.7 1-1 1-1.2 1-.9 1-.2 1 .1 1 .4 1 1.5 1 1.9 1 2.1 1 1.8 1 .9 1 .3 1 .4 1 .6 1 .3 1-.6 1-6.4 1-11.6 1-14 1-26.8 1-25.5 1-19.6 1-9.6 1-2.7 1 1.4 1 1.7 1-.3 1-.6 1 .3 1 4.1 1 6.4 1 13.1 1 14.3 1 21.5 1 23.2 1 17.8 1 9.7 1 3.7 1 .4 1-.3 1-.4 1-.7 1-.7 1-.6 1-.5 1-.5 1-.5 1-.4 1-.4 1-.4 1-.4 1-.4 1-.3 1-.2 1-.3 1-.2 1-.1"/>
<path stroke="#7d0082" d="M0 663.2l1-14.2 1-17.2 1-19.7 1-20.5 1-21.6 1-20.7 1-19.7 1-18 1-10.3 1-3.1 1 7.1 1 18.2 1 24 1 31.1 1 32 1 24 1 14.8 1 3.2 1-7.3 1-24 1-28.1 1-54.3 1-64.8 1-72 1-67.5 1-48 1-32.4 1-15.3 1-2.3 1 5.5 1 3.7 1 0 1-3.1 1-1 1 3.9 1 16.9 1 29.6 1 41.2 1 55.9 1 54.3 1 54.1 1 52.8 1 45.1 1 36 1 26.3 1 18.3 1 6.3 1-6.1 1-17.8 1-21.8 1-19.7 1-13.4 1-8.7 1-5.6 1-.7 1 1.8 1 2.5 1 2.7 1 3.3 1 4 1 3.4 1 3.2"/>
<path stroke="#7d0082" d="M0 663.5l1-14.2 1-17.3 1-19.7 1-20.6 1-21.6 1-20.7 1-19.8 1-18.1 1-10.3 1-3 1 7 1 18.2 1 24.1 1 31.2 1 32.1 1 24 1 14.9 1 3.3 1-7.4 1-24 1-28.2 1-54.5 1-64.9 1-72.1 1-67.7 1-48.1 1-32.5 1-15.3 1-2.3 1 5.6 1 3.7 1 0 1-3.1 1-1 1 3.8 1 17 1 29.6 1 41.3 1 56 1 54.4 1 54.2 1 53 1 45.1 1 36.1 1 26.4 1 18.3 1 6.4 1-6.2 1-17.9 1-21.8 1-19.8 1-13.4 1-8.7 1-5.6 1-.7 1 1.8 1 2.4 1 2.8 1 3.2 1 4.1 1 3.4 1 3.1"/>
<path stroke="#7c0083" d="M0 663.8l1-14.3 1-17.3 1-19.8 1-20.6 1-21.7 1-20.7 1-19.9 1-18 1-10.4 1-3 1 7.1 1 18.2 1 24.1 1 31.3 1 32.2 1 24.1 1 14.9 1 3.3 1-7.4 1-24.1 1-28.2 1-54.7 1-65 1-72.3 1-67.8 1-48.2 1-32.5 1-15.4 1-2.2 1 5.5 1 3.8 1 0 1-3.1 1-1.1 1 3.9 1 16.9 1 29.7 1 41.4 1 56.1 1 54.5 1 54.4 1 53.1 1 45.2 1 36.1 1 26.5 1 18.3 1 6.4 1-6.3 1-17.8 1-21.9 1-19.8 1-13.5 1-8.7 1-5.6 1-.7 1 1.8 1 2.4 1 2.7 1 3.3 1 4.1 1 3.4 1 3.1"/>
<path stroke="#7cff83" d="M0 439l1-1 1-.9 1-.9 1-.7 1-.8 1-1 1-1.2 1-.9 1-.2 1 .1 1 .3 1 1.6 1 2 1 2 1 1.9 1 .8 1 .4 1 .4 1 .6 1 .4 1-.6 1-6.4 1-11.7 1-14.2 1-27 1-25.5 1-19.6 1-9.5 1-2.6 1 1.4 1 1.7 1-.2 1-.7 1 .2 1 4.1 1 6.4 1 13.2 1 14.3 1 21.6 1 23.3 1 17.8 1 9.7 1 3.6 1 .4 1-.2 1-.4 1-.7 1-.8 1-.5 1-.6 1-.5 1-.4 1-.5 1-.4 1-.4 1-.4 1-.3 1-.4 1-.2 1-.3 1-.2 1-.1"/>
<path stroke="#7c0083" d="M0 664.1l1-14.3 1-17.4 1-19.8 1-20.7 1-21.7 1-20.8 1-19.9 1-18.1 1-10.3 1-3.1 1 7.1 1 18.3 1 24.2 1 31.3 1 32.3 1 24.2 1 14.9 1 3.3 1-7.4 1-24.1 1-28.4 1-54.8 1-65.1 1-72.4 1-68 1-48.3 1-32.6 1-15.3 1-2.3 1 5.6 1 3.8 1-.1 1-3 1-1.1 1 3.8 1 17 1 29.7 1 41.5 1 56.2 1 54.6 1 54.5 1 53.2 1 45.3 1 36.2 1 26.5 1 18.4 1 6.4 1-6.3 1-17.9 1-21.9 1-19.9 1-13.5 1-8.7 1-5.7 1-.7 1 1.8 1 2.5 1 2.7 1 3.3 1 4 1 3.4 1 3.2"/>
<path stroke="#7b0084" d="M0 664.4l1-14.3 1-17.4 1-19.9 1-20.7 1-21.8 1-20.9 1-19.9 1-18.1 1-10.4 1-3.1 1 7.1 1 18.3 1 24.3 1 31.4 1 32.4 1 24.2 1 15.1 1 3.2 1-7.4 1-24.2 1-28.4 1-55 1-65.2 1-72.6 1-68.1 1-48.4 1-32.7 1-15.3 1-2.3 1 5.7 1 3.8 1-.1 1-3.1 1-1 1 3.8 1 17 1 29.7 1 41.5 1 56.4 1 54.7 1 54.7 1 53.3 1 45.3 1 36.3 1 26.6 1 18.4 1 6.4 1-6.3 1-17.9 1-22.1 1-19.9 1-13.5 1-8.8 1-5.6 1-.7 1 1.8 1 2.4 1 2.7 1 3.3 1 4.1 1 3.4 1 3.1"/>
<path stroke="#7a0085" d="M0 664.7l1-14.4 1-17.4 1-20 1-20.7 1-21.9 1-20.9 1-19.9 1-18.2 1-10.4 1-3.1 1 7.1 1 18.4 1 24.3 1 31.5 1 32.5 1 24.3 1 15.1 1 3.3 1-7.5 1-24.2 1-28.6 1-55.1 1-65.3 1-72.7 1-68.3 1-48.4 1-32.8 1-15.4 1-2.2 1 5.7 1 3.8 1-.1 1-3.1 1-1.1 1 3.9 1 16.9 1 29.8 1 41.6 1 56.5 1 54.8 1 54.8 1 53.4 1 45.5 1 36.3 1 26.6 1 18.5 1 6.4 1-6.3 1-18 1-22.1 1-19.9 1-13.6 1-8.8 1-5.6 1-.7 1 1.8 1 2.4 1 2.7 1 3.3 1 4 1 3.4 1 3.2"/>
<path stroke="#7aff85" d="M0 439l1-1 1-.9 1-.8 1-.8 1-.8 1-1 1-1.2 1-1 1-.2 1 .2 1 .3 1 1.5 1 2.1 1 2.1 1 1.8 1 .9 1 .4 1 .4 1 .6 1 .4 1-.6 1-6.4 1-11.7 1-14.5 1-27 1-25.6 1-19.6 1-9.4 1-2.6 1 1.5 1 1.8 1-.3 1-.7 1 .1 1 4.1 1 6.4 1 13.3 1 14.4 1 21.6 1 23.3 1 17.8 1 9.7 1 3.7 1 .4 1-.2 1-.4 1-.8 1-.7 1-.6 1-.5 1-.6 1-.4 1-.5 1-.4 1-.4 1-.4 1-.3 1-.4 1-.2 1-.3 1-.2 1-.1"/>
<path stroke="#7a0085" d="M0 665.1l1-14.5 1-17.5 1-20 1-20.8 1-21.9 1-20.9 1-20 1-18.2 1-10.5 1-3.1 1 7.2 1 18.4 1 24.3 1 31.6 1 32.6 1 24.3 1 15.2 1 3.3 1-7.4 1-24.4 1-28.6 1-55.3 1-65.4 1-72.9 1-68.4 1-48.5 1-32.9 1-15.4 1-2.2 1 5.7 1 3.9 1-.1 1-3.1 1-1.1 1 3.8 1 17 1 29.8 1 41.7 1 56.6 1 54.9 1 55 1 53.5 1 45.5 1 36.5 1 26.6 1 18.5 1 6.4 1-6.3 1-18 1-22.2 1-20 1-13.6 1-8.8 1-5.6 1-.7 1 1.7 1 2.5 1 2.7 1 3.2 1 4.1 1 3.4 1 3.1"/>
<path stroke="#790086" d="M0 665.4l1-14.5 1-17.6 1-20.1 1-20.8 1-21.9 1-21 1-20.1 1-18.2 1-10.4 1-3.1 1 7.1 1 18.4 1 24.4 1 31.7 1 32.7 1 24.4 1 15.2 1 3.3 1-7.4 1-24.4 1-28.7 1-55.5 1-65.5 1-73 1-68.6 1-48.6 1-32.9 1-15.4 1-2.2 1 5.7 1 3.9 1-.1 1-3.1 1-1.1 1 3.8 1 17 1 29.8 1 41.8 1 56.7 1 55.1 1 55 1 53.7 1 45.6 1 36.5 1 26.7 1 18.5 1 6.4 1-6.3 1-18.1 1-22.2 1-20.1 1-13.6 1-8.8 1-5.7 1-.7 1 1.8 1 2.4 1 2.7 1 3.3 1 4 1 3.5 1 3.1"/>
<path stroke="#790086" d="M0 665.7l1-14.6 1-17.6 1-20.1 1-20.9 1-22 1-21 1-20.1 1-18.2 1-10.5 1-3.1 1 7.1 1 18.5 1 24.4 1 31.8 1 32.8 1 24.5 1 15.2 1 3.3 1-7.4 1-24.4 1-28.9 1-55.6 1-65.6 1-73.2 1-68.7 1-48.7 1-33 1-15.4 1-2.2 1 5.8 1 3.9 1-.1 1-3.1 1-1.2 1 3.9 1 16.9 1 29.9 1 41.9 1 56.8 1 55.2 1 55.1 1 53.8 1 45.7 1 36.6 1 26.7 1 18.6 1 6.4 1-6.3 1-18.2 1-22.2 1-20.1 1-13.7 1-8.8 1-5.7 1-.7 1 1.8 1 2.4 1 2.7 1 3.2 1 4.1 1 3.4 1 3.2"/>
<path stroke="#79ff86" d="M0 439l1-.9 1-1 1-.8 1-.8 1-.8 1-1 1-1.2 1-1 1-.2 1 .1 1 .4 1 1.5 1 2.1 1 2.1 1 1.9 1 .9 1 .4 1 .5 1 .5 1 .4 1-.5 1-6.4 1-11.8 1-14.7 1-27.1 1-25.7 1-19.6 1-9.4 1-2.4 1 1.5 1 1.8 1-.3 1-.7 1 .1 1 4 1 6.5 1 13.3 1 14.4 1 21.7 1 23.3 1 17.9 1 9.7 1 3.6 1 .5 1-.2 1-.5 1-.7 1-.8 1-.6 1-.5 1-.5 1-.5 1-.4 1-.5 1-.4 1-.4 1-.3 1-.4 1-.2 1-.3 1-.2 1-.1"/>
<path stroke="#780087" d="M0 666l1-14.6 1-17.7 1-20.1 1-21 1-22 1-21.1 1-20.1 1-18.3 1-10.5 1-3.1 1 7.1 1 18.5 1 24.5 1 31.9 1 32.9 1 24.5 1 15.3 1 3.4 1-7.5 1-24.5 1-28.9 1-55.8 1-65.7 1-73.3 1-68.8 1-48.9 1-33 1-15.4 1-2.2 1 5.8 1 3.9 1-.1 1-3.1 1-1.2 1 3.8 1 17 1 30 1 41.9 1 56.9 1 55.3 1 55.3 1 53.9 1 45.7 1 36.7 1 26.8 1 18.6 1 6.4 1-6.3 1-18.2 1-22.3 1-20.2 1-13.7 1-8.9 1-5.6 1-.7 1 1.7 1 2.4 1 2.7 1 3.3 1 4 1 3.5 1 3.1"/>
<path stroke="#780087" d="M0 666.3l1-14.7 1-17.7 1-20.2 1-21 1-22.1 1-21.1 1-20.1 1-18.3 1-10.6 1-3.1 1 7.2 1 18.5 1 24.6 1 31.9 1 33 1 24.6 1 15.3 1 3.4 1-7.5 1-24.5 1-29 1-56 1-65.8 1-73.5 1-68.9 1-49 1-33 1-15.5 1-2.2 1 5.9 1 3.9 1-.1 1-3.1 1-1.2 1 3.8 1 17 1 30 1 42 1 57 1 55.4 1 55.4 1 54 1 45.9 1 36.7 1 26.8 1 18.7 1 6.4 1-6.3 1-18.3 1-22.4 1-20.2 1-13.7 1-8.9 1-5.7 1-.7 1 1.8 1 2.4 1 2.7 1 3.2 1 4.1 1 3.4 1 3.2"/>
<path stroke="#770088" d="M0 666.6l1-14.7 1-17.7 1-20.3 1-21.1 1-22.1 1-21.1 1-20.2 1-18.4 1-10.5 1-3.2 1 7.2 1 18.6 1 24.6 1 32 1 33.1 1 24.6 1 15.4 1 3.4 1-7.5 1-24.6 1-29.1 1-56.1 1-65.9 1-73.6 1-69.1 1-49.1 1-33.1 1-15.5 1-2.1 1 5.9 1 3.9 1-.1 1-3.1 1-1.2 1 3.8 1 17 1 30 1 42.1 1 57.1 1 55.5 1 55.6 1 54.1 1 45.9 1 36.8 1 26.9 1 18.7 1 6.4 1-6.4 1-18.2 1-22.5 1-20.3 1-13.7 1-8.9 1-5.7 1-.7 1 1.8 1 2.4 1 2.6 1 3.3 1 4 1 3.5 1 3.1"/>
<path stroke="#77ff88" d="M0 439.1l1-1 1-.9 1-.9 1-.8 1-.8 1-1 1-1.2 1-1 1-.2 1 .1 1 .4 1 1.5 1 2.1 1 2.1 1 1.9 1 1 1 .4 1 .5 1 .5 1 .4 1-.5 1-6.4 1-11.8 1-14.9 1-27.2 1-25.8 1-19.6 1-9.3 1-2.3 1 1.6 1 1.8 1-.3 1-.8 1 0 1 4 1 6.5 1 13.4 1 14.5 1 21.7 1 23.4 1 17.9 1 9.6 1 3.7 1 .4 1-.2 1-.4 1-.7 1-.8 1-.6 1-.6 1-.5 1-.5 1-.4 1-.4 1-.5 1-.4 1-.3 1-.3 1-.3 1-.3 1-.2 1-.1"/>
<path stroke="#760089" d="M0 666.9l1-14.7 1-17.8 1-20.3 1-21.1 1-22.2 1-21.2 1-20.3 1-18.3 1-10.6 1-3.1 1 7.1 1 18.6 1 24.7 1 32.1 1 33.2 1 24.7 1 15.4 1 3.4 1-7.5 1-24.6 1-29.2 1-56.3 1-66 1-73.8 1-69.2 1-49.1 1-33.2 1-15.5 1-2.1 1 5.8 1 4 1-.1 1-3.1 1-1.2 1 3.7 1 17.1 1 30 1 42.2 1 57.2 1 55.6 1 55.7 1 54.3 1 46 1 36.8 1 26.9 1 18.8 1 6.4 1-6.4 1-18.3 1-22.5 1-20.3 1-13.8 1-8.9 1-5.7 1-.7 1 1.7 1 2.4 1 2.7 1 3.2 1 4.1 1 3.4 1 3.2"/>
<path stroke="#760089" d="M0 667.2l1-14.8 1-17.8 1-20.4 1-21.1 1-22.3 1-21.2 1-20.3 1-18.4 1-10.6 1-3.1 1 7.1 1 18.7 1 24.7 1 32.2 1 33.3 1 24.7 1 15.5 1 3.5 1-7.6 1-24.7 1-29.3 1-56.4 1-66.1 1-73.9 1-69.4 1-49.2 1-33.3 1-15.5 1-2.1 1 5.9 1 4 1 0 1-3.2 1-1.2 1 3.7 1 17 1 30.2 1 42.2 1 57.3 1 55.8 1 55.8 1 54.3 1 46.1 1 36.9 1 27 1 18.8 1 6.4 1-6.4 1-18.4 1-22.5 1-20.4 1-13.8 1-8.9 1-5.8 1-.7 1 1.8 1 2.4 1 2.6 1 3.3 1 4.1 1 3.4 1 3.2"/>
<path stroke="#75008a" d="M0 667.5l1-14.8 1-17.9 1-20.4 1-21.2 1-22.3 1-21.3 1-20.3 1-18.4 1-10.6 1-3.2 1 7.2 1 18.7 1 24.7 1 32.3 1 33.3 1 24.9 1 15.5 1 3.5 1-7.6 1-24.7 1-29.4 1-56.6 1-66.2 1-74 1-69.5 1-49.4 1-33.3 1-15.5 1-2.1 1 5.9 1 4 1 0 1-3.2 1-1.3 1 3.8 1 17 1 30.2 1 42.3 1 57.4 1 55.9 1 55.9 1 54.5 1 46.1 1 37 1 27 1 18.8 1 6.5 1-6.4 1-18.4 1-22.6 1-20.5 1-13.8 1-9 1-5.7 1-.7 1 1.8 1 2.3 1 2.7 1 3.2 1 4.1 1 3.4 1 3.2"/>
<path stroke="#75ff8a" d="M0 439.1l1-1 1-.9 1-.9 1-.8 1-.8 1-1 1-1.3 1-1 1-.2 1 .2 1 .3 1 1.6 1 2.1 1 2.2 1 1.9 1 .9 1 .5 1 .5 1 .6 1 .4 1-.5 1-6.4 1-11.9 1-15.2 1-27.2 1-25.9 1-19.6 1-9.2 1-2.2 1 1.6 1 1.8 1-.3 1-.8 1 0 1 3.9 1 6.5 1 13.5 1 14.5 1 21.8 1 23.4 1 17.9 1 9.7 1 3.7 1 .4 1-.2 1-.4 1-.8 1-.8 1-.6 1-.5 1-.5 1-.5 1-.5 1-.4 1-.4 1-.4 1-.4 1-.3 1-.3 1-.3 1-.2 1-.1"/>
<path stroke="#75008a" d="M0 667.8l1-14.8 1-18 1-20.5 1-21.2 1-22.3 1-21.4 1-20.3 1-18.5 1-10.6 1-3.2 1 7.2 1 18.7 1 24.8 1 32.4 1 33.4 1 25 1 15.5 1 3.5 1-7.6 1-24.8 1-29.4 1-56.8 1-66.3 1-74.2 1-69.6 1-49.4 1-33.4 1-15.6 1-2.1 1 6 1 4 1 0 1-3.2 1-1.3 1 3.8 1 17 1 30.2 1 42.5 1 57.4 1 56 1 56 1 54.6 1 46.3 1 37 1 27.1 1 18.8 1 6.5 1-6.4 1-18.5 1-22.7 1-20.4 1-13.9 1-9 1-5.7 1-.7 1 1.7 1 2.4 1 2.6 1 3.3 1 4.1 1 3.4 1 3.2"/>
<path stroke="#74008b" d="M0 668.1l1-14.9 1-18 1-20.5 1-21.3 1-22.4 1-21.3 1-20.4 1-18.5 1-10.7 1-3.2 1 7.2 1 18.8 1 24.8 1 32.5 1 33.5 1 25 1 15.6 1 3.5 1-7.6 1-24.8 1-29.6 1-56.9 1-66.4 1-74.3 1-69.8 1-49.5 1-33.4 1-15.6 1-2.1 1 6 1 4 1 0 1-3.2 1-1.3 1 3.8 1 17 1 30.3 1 42.5 1 57.5 1 56.1 1 56.2 1 54.7 1 46.3 1 37.1 1 27.1 1 18.9 1 6.5 1-6.4 1-18.6 1-22.7 1-20.5 1-13.9 1-9 1-5.8 1-.7 1 1.8 1 2.4 1 2.6 1 3.2 1 4.1 1 3.5 1 3.1"/>
<path stroke="#74008b" d="M0 668.4l1-14.9 1-18.1 1-20.5 1-21.4 1-22.4 1-21.4 1-20.5 1-18.5 1-10.7 1-3.2 1 7.2 1 18.9 1 24.8 1 32.6 1 33.6 1 25.1 1 15.6 1 3.5 1-7.6 1-24.9 1-29.6 1-57.1 1-66.5 1-74.4 1-69.9 1-49.7 1-33.5 1-15.5 1-2.1 1 6 1 4.1 1-.1 1-3.2 1-1.3 1 3.8 1 17 1 30.3 1 42.6 1 57.6 1 56.2 1 56.3 1 54.9 1 46.3 1 37.2 1 27.2 1 18.9 1 6.5 1-6.5 1-18.5 1-22.8 1-20.6 1-13.9 1-9 1-5.8 1-.7 1 1.8 1 2.3 1 2.6 1 3.3 1 4.1 1 3.4 1 3.2"/>
<path stroke="#74ff8b" d="M0 439.2l1-1 1-1 1-.9 1-.8 1-.8 1-1 1-1.3 1-1 1-.2 1 .2 1 .3 1 1.6 1 2.1 1 2.2 1 1.9 1 1 1 .5 1 .5 1 .6 1 .4 1-.5 1-6.3 1-11.9 1-15.5 1-27.3 1-26 1-19.6 1-9.1 1-2.1 1 1.6 1 1.9 1-.3 1-.8 1-.2 1 3.9 1 6.6 1 13.6 1 14.5 1 21.8 1 23.4 1 18 1 9.7 1 3.6 1 .5 1-.2 1-.5 1-.7 1-.8 1-.6 1-.6 1-.5 1-.5 1-.5 1-.4 1-.4 1-.4 1-.4 1-.3 1-.3 1-.3 1-.2 1-.1"/>
<path stroke="#73008c" d="M0 668.7l1-15 1-18.1 1-20.6 1-21.4 1-22.4 1-21.5 1-20.5 1-18.5 1-10.7 1-3.2 1 7.2 1 18.8 1 25 1 32.6 1 33.7 1 25.1 1 15.7 1 3.6 1-7.7 1-24.9 1-29.8 1-57.2 1-66.6 1-74.6 1-70 1-49.7 1-33.6 1-15.6 1-2 1 6 1 4.1 1-.1 1-3.2 1-1.3 1 3.7 1 17.1 1 30.3 1 42.7 1 57.7 1 56.4 1 56.4 1 54.9 1 46.5 1 37.2 1 27.2 1 19 1 6.5 1-6.5 1-18.6 1-22.8 1-20.7 1-13.9 1-9.1 1-5.7 1-.7 1 1.7 1 2.4 1 2.6 1 3.2 1 4.1 1 3.5 1 3.2"/>
<path stroke="#72008d" d="M0 669l1-15 1-18.1 1-20.7 1-21.5 1-22.5 1-21.5 1-20.5 1-18.6 1-10.7 1-3.2 1 7.2 1 18.9 1 25 1 32.7 1 33.8 1 25.2 1 15.7 1 3.6 1-7.7 1-25 1-29.8 1-57.4 1-66.7 1-74.7 1-70.2 1-49.8 1-33.6 1-15.6 1-2.1 1 6.1 1 4.1 1-.1 1-3.2 1-1.3 1 3.7 1 17.1 1 30.4 1 42.7 1 57.8 1 56.5 1 56.5 1 55.1 1 46.5 1 37.3 1 27.3 1 19 1 6.5 1-6.5 1-18.7 1-22.9 1-20.7 1-13.9 1-9.1 1-5.8 1-.7 1 1.8 1 2.3 1 2.7 1 3.2 1 4.1 1 3.4 1 3.2"/>
<path stroke="#72008d" d="M0 669.3l1-15 1-18.2 1-20.8 1-21.5 1-22.5 1-21.6 1-20.5 1-18.6 1-10.8 1-3.2 1 7.2 1 18.9 1 25.1 1 32.8 1 33.9 1 25.2 1 15.8 1 3.6 1-7.6 1-25.1 1-29.9 1-57.6 1-66.8 1-74.8 1-70.3 1-49.9 1-33.7 1-15.7 1-2 1 6.1 1 4.1 1 0 1-3.3 1-1.3 1 3.7 1 17.1 1 30.4 1 42.8 1 57.9 1 56.6 1 56.7 1 55.1 1 46.6 1 37.4 1 27.3 1 19 1 6.6 1-6.5 1-18.7 1-23 1-20.7 1-14.1 1-9 1-5.8 1-.7 1 1.7 1 2.4 1 2.6 1 3.2 1 4.1 1 3.5 1 3.2"/>
<path stroke="#72ff8d" d="M0 439.2l1-1 1-1 1-.9 1-.8 1-.8 1-1 1-1.3 1-1 1-.2 1 .1 1 .4 1 1.6 1 2.1 1 2.2 1 2 1 1 1 .5 1 .5 1 .6 1 .4 1-.5 1-6.3 1-11.9 1-15.7 1-27.4 1-26 1-19.7 1-9 1-2 1 1.7 1 1.9 1-.3 1-.9 1-.2 1 3.8 1 6.6 1 13.7 1 14.6 1 21.8 1 23.5 1 18 1 9.6 1 3.7 1 .4 1-.2 1-.4 1-.8 1-.8 1-.6 1-.5 1-.6 1-.5 1-.4 1-.5 1-.4 1-.4 1-.4 1-.3 1-.3 1-.3 1-.2 1-.1"/>
<path stroke="#71008e" d="M0 669.6l1-15.1 1-18.2 1-20.8 1-21.6 1-22.5 1-21.6 1-20.6 1-18.7 1-10.7 1-3.3 1 7.3 1 18.9 1 25.1 1 32.9 1 34 1 25.3 1 15.8 1 3.6 1-7.6 1-25.2 1-30 1-57.7 1-66.9 1-75 1-70.4 1-50 1-33.7 1-15.7 1-2 1 6.1 1 4.1 1 0 1-3.3 1-1.3 1 3.7 1 17.1 1 30.5 1 42.9 1 57.9 1 56.7 1 56.8 1 55.3 1 46.7 1 37.4 1 27.4 1 19 1 6.6 1-6.6 1-18.7 1-23 1-20.8 1-14.1 1-9 1-5.8 1-.8 1 1.8 1 2.4 1 2.6 1 3.2 1 4.1 1 3.4 1 3.2"/>
<path stroke="#71008e" d="M0 669.9l1-15.1 1-18.3 1-20.9 1-21.5 1-22.7 1-21.6 1-20.7 1-18.7 1-10.7 1-3.3 1 7.3 1 19 1 25.1 1 33 1 34.1 1 25.3 1 15.9 1 3.6 1-7.6 1-25.2 1-30.1 1-57.9 1-67 1-75.1 1-70.5 1-50.1 1-33.8 1-15.7 1-2 1 6.1 1 4.2 1-.1 1-3.2 1-1.4 1 3.7 1 17.1 1 30.5 1 43 1 58.1 1 56.8 1 56.9 1 55.3 1 46.8 1 37.5 1 27.4 1 19.1 1 6.6 1-6.6 1-18.8 1-23 1-20.9 1-14.1 1-9.1 1-5.8 1-.7 1 1.8 1 2.3 1 2.6 1 3.2 1 4.1 1 3.5 1 3.2"/>
<path stroke="#70008f" d="M0 670.2l1-15.2 1-18.3 1-20.9 1-21.6 1-22.7 1-21.7 1-20.7 1-18.7 1-10.8 1-3.2 1 7.2 1 19 1 25.2 1 33.1 1 34.1 1 25.5 1 15.9 1 3.6 1-7.6 1-25.3 1-30.2 1-58 1-67.1 1-75.2 1-70.7 1-50.2 1-33.8 1-15.7 1-2 1 6.1 1 4.2 1-.1 1-3.2 1-1.4 1 3.7 1 17.1 1 30.6 1 43 1 58.2 1 56.9 1 57 1 55.5 1 46.8 1 37.6 1 27.4 1 19.2 1 6.6 1-6.6 1-18.9 1-23.1 1-20.9 1-14.1 1-9.1 1-5.8 1-.7 1 1.7 1 2.4 1 2.6 1 3.2 1 4.1 1 3.4 1 3.2"/>
<path stroke="#70ff8f" d="M0 439.3l1-1.1 1-.9 1-.9 1-.9 1-.8 1-1 1-1.3 1-1.1 1-.2 1 .2 1 .3 1 1.7 1 2.1 1 2.3 1 2 1 1 1 .5 1 .5 1 .6 1 .5 1-.5 1-6.3 1-12 1-15.9 1-27.6 1-26 1-19.7 1-8.9 1-1.9 1 1.7 1 2 1-.3 1-1 1-.3 1 3.8 1 6.7 1 13.7 1 14.6 1 21.9 1 23.5 1 18 1 9.7 1 3.6 1 .5 1-.2 1-.4 1-.8 1-.8 1-.6 1-.6 1-.5 1-.5 1-.5 1-.5 1-.4 1-.4 1-.4 1-.3 1-.3 1-.3 1-.2 1-.1"/>
<path stroke="#70008f" d="M0 670.5l1-15.2 1-18.4 1-20.9 1-21.7 1-22.8 1-21.7 1-20.7 1-18.8 1-10.8 1-3.2 1 7.2 1 19.1 1 25.2 1 33.2 1 34.2 1 25.5 1 16 1 3.7 1-7.7 1-25.3 1-30.3 1-58.1 1-67.3 1-75.3 1-70.9 1-50.2 1-33.9 1-15.8 1-2 1 6.3 1 4.1 1 0 1-3.3 1-1.4 1 3.7 1 17.1 1 30.6 1 43.1 1 58.3 1 57 1 57.2 1 55.6 1 46.9 1 37.6 1 27.5 1 19.2 1 6.5 1-6.6 1-18.8 1-23.2 1-20.9 1-14.2 1-9.1 1-5.8 1-.8 1 1.8 1 2.3 1 2.6 1 3.2 1 4.1 1 3.5 1 3.2"/>
<path stroke="#6f0090" d="M0 670.8l1-15.3 1-18.4 1-21 1-21.7 1-22.8 1-21.8 1-20.7 1-18.8 1-10.8 1-3.3 1 7.3 1 19.1 1 25.2 1 33.3 1 34.3 1 25.6 1 16 1 3.7 1-7.7 1-25.4 1-30.4 1-58.2 1-67.4 1-75.4 1-71 1-50.4 1-33.9 1-15.8 1-2 1 6.3 1 4.1 1 0 1-3.3 1-1.4 1 3.7 1 17.1 1 30.7 1 43.2 1 58.3 1 57.2 1 57.2 1 55.7 1 47 1 37.7 1 27.5 1 19.2 1 6.6 1-6.6 1-18.9 1-23.2 1-21 1-14.2 1-9.1 1-5.9 1-.7 1 1.7 1 2.4 1 2.6 1 3.2 1 4.1 1 3.4 1 3.2"/>
<path stroke="#6e0090" d="M0 671.1l1-15.3 1-18.5 1-21 1-21.8 1-22.8 1-21.9 1-20.7 1-18.9 1-10.8 1-3.3 1 7.3 1 19.1 1 25.4 1 33.3 1 34.4 1 25.6 1 16.1 1 3.7 1-7.7 1-25.4 1-30.5 1-58.4 1-67.4 1-75.7 1-71.1 1-50.4 1-34 1-15.8 1-2 1 6.3 1 4.2 1-.1 1-3.3 1-1.4 1 3.7 1 17.1 1 30.7 1 43.3 1 58.4 1 57.3 1 57.4 1 55.8 1 47 1 37.8 1 27.6 1 19.2 1 6.6 1-6.6 1-19 1-23.3 1-21 1-14.2 1-9.2 1-5.8 1-.7 1 1.7 1 2.3 1 2.6 1 3.2 1 4.1 1 3.5 1 3.2"/>
<path stroke="#6eff90" d="M0 439.3l1-1 1-1 1-.9 1-.9 1-.8 1-1 1-1.3 1-1.1 1-.2 1 .2 1 .3 1 1.6 1 2.2 1 2.3 1 2 1 1 1 .5 1 .6 1 .6 1 .5 1-.5 1-6.3 1-12 1-16.1 1-27.6 1-26.2 1-19.7 1-8.8 1-1.8 1 1.8 1 2 1-.3 1-1.1 1-.3 1 3.8 1 6.7 1 13.7 1 14.7 1 22 1 23.5 1 18 1 9.7 1 3.6 1 .5 1-.2 1-.5 1-.8 1-.8 1-.6 1-.6 1-.5 1-.5 1-.5 1-.4 1-.5 1-.4 1-.4 1-.3 1-.3 1-.3 1-.2 1-.1"/>
<path stroke="#6e0091" d="M0 671.4l1-15.3 1-18.6 1-21.1 1-21.8 1-22.9 1-21.8 1-20.9 1-18.8 1-10.9 1-3.3 1 7.3 1 19.2 1 25.4 1 33.4 1 34.5 1 25.7 1 16.1 1 3.7 1-7.7 1-25.5 1-30.6 1-58.5 1-67.5 1-75.8 1-71.2 1-50.5 1-34.1 1-15.8 1-2 1 6.3 1 4.2 1-.1 1-3.3 1-1.3 1 3.7 1 17.1 1 30.7 1 43.3 1 58.6 1 57.3 1 57.5 1 55.9 1 47.1 1 37.9 1 27.6 1 19.3 1 6.6 1-6.6 1-19.1 1-23.3 1-21.1 1-14.2 1-9.2 1-5.9 1-.7 1 1.8 1 2.3 1 2.6 1 3.2 1 4.1 1 3.4 1 3.2"/>
<path stroke="#6d0092" d="M0 671.7l1-15.4 1-18.6 1-21.1 1-21.9 1-22.9 1-21.9 1-20.9 1-18.9 1-10.8 1-3.3 1 7.2 1 19.3 1 25.4 1 33.5 1 34.6 1 25.7 1 16.2 1 3.7 1-7.7 1-25.5 1-30.7 1-58.7 1-67.6 1-75.9 1-71.3 1-50.7 1-34.1 1-15.8 1-2 1 6.3 1 4.2 1 0 1-3.3 1-1.4 1 3.7 1 17.1 1 30.7 1 43.5 1 58.6 1 57.4 1 57.7 1 56 1 47.2 1 37.9 1 27.6 1 19.3 1 6.7 1-6.7 1-19 1-23.4 1-21.2 1-14.2 1-9.2 1-5.9 1-.7 1 1.7 1 2.3 1 2.6 1 3.2 1 4.1 1 3.5 1 3.2"/>
<path stroke="#6d0092" d="M0 672l1-15.4 1-18.7 1-21.2 1-21.9 1-22.9 1-22 1-20.9 1-18.9 1-10.9 1-3.3 1 7.3 1 19.2 1 25.5 1 33.6 1 34.7 1 25.8 1 16.2 1 3.7 1-7.7 1-25.6 1-30.7 1-58.9 1-67.7 1-76 1-71.5 1-50.7 1-34.2 1-15.8 1-2 1 6.3 1 4.3 1-.1 1-3.3 1-1.4 1 3.7 1 17.1 1 30.8 1 43.5 1 58.7 1 57.6 1 57.7 1 56.1 1 47.3 1 38 1 27.7 1 19.3 1 6.7 1-6.7 1-19.1 1-23.5 1-21.2 1-14.3 1-9.1 1-5.9 1-.8 1 1.8 1 2.3 1 2.6 1 3.2 1 4.1 1 3.4 1 3.3"/>
<path stroke="#6dff92" d="M0 439.3l1-1 1-1 1-.9 1-.9 1-.8 1-1.1 1-1.3 1-1 1-.2 1 .1 1 .4 1 1.6 1 2.2 1 2.3 1 2.1 1 1 1 .5 1 .6 1 .6 1 .5 1-.4 1-6.3 1-12.1 1-16.3 1-27.7 1-26.3 1-19.7 1-8.7 1-1.7 1 1.9 1 2 1-.4 1-1 1-.4 1 3.7 1 6.7 1 13.9 1 14.7 1 22 1 23.5 1 18.1 1 9.6 1 3.7 1 .4 1-.2 1-.4 1-.8 1-.8 1-.6 1-.6 1-.6 1-.5 1-.5 1-.4 1-.5 1-.4 1-.4 1-.3 1-.3 1-.3 1-.2 1-.1"/>
<path stroke="#6c0093" d="M0 672.3l1-15.5 1-18.7 1-21.2 1-22 1-23 1-22 1-20.9 1-19 1-10.9 1-3.3 1 7.3 1 19.3 1 25.5 1 33.7 1 34.8 1 25.8 1 16.3 1 3.7 1-7.8 1-25.6 1-30.8 1-59 1-67.8 1-76.1 1-71.6 1-50.8 1-34.3 1-15.8 1-2 1 6.4 1 4.2 1-.1 1-3.3 1-1.4 1 3.7 1 17.1 1 30.9 1 43.5 1 58.8 1 57.7 1 57.9 1 56.2 1 47.3 1 38.1 1 27.7 1 19.4 1 6.6 1-6.7 1-19.1 1-23.5 1-21.2 1-14.4 1-9.2 1-5.9 1-.7 1 1.7 1 2.4 1 2.5 1 3.2 1 4.1 1 3.5 1 3.2"/>
<path stroke="#6c0093" d="M0 672.6l1-15.5 1-18.8 1-21.2 1-22.1 1-23 1-22.1 1-20.9 1-19 1-11 1-3.3 1 7.3 1 19.4 1 25.5 1 33.8 1 34.8 1 26 1 16.3 1 3.7 1-7.8 1-25.6 1-30.9 1-59.2 1-67.9 1-76.2 1-71.7 1-50.9 1-34.4 1-15.8 1-2 1 6.4 1 4.2 1 0 1-3.3 1-1.5 1 3.7 1 17.2 1 30.8 1 43.7 1 58.9 1 57.7 1 58 1 56.3 1 47.5 1 38 1 27.9 1 19.4 1 6.6 1-6.7 1-19.2 1-23.5 1-21.3 1-14.4 1-9.2 1-5.9 1-.7 1 1.7 1 2.3 1 2.5 1 3.3 1 4 1 3.5 1 3.3"/>
<path stroke="#6b0094" d="M0 672.9l1-15.6 1-18.7 1-21.4 1-22.1 1-23.1 1-22 1-21.1 1-19 1-10.9 1-3.4 1 7.4 1 19.3 1 25.6 1 33.8 1 35 1 26 1 16.4 1 3.8 1-7.9 1-25.7 1-31 1-59.3 1-68 1-76.4 1-71.8 1-50.9 1-34.4 1-15.9 1-2 1 6.4 1 4.3 1-.1 1-3.3 1-1.5 1 3.7 1 17.2 1 30.9 1 43.7 1 59 1 57.9 1 58 1 56.5 1 47.5 1 38.1 1 27.9 1 19.4 1 6.7 1-6.7 1-19.3 1-23.6 1-21.3 1-14.4 1-9.2 1-5.9 1-.8 1 1.8 1 2.3 1 2.5 1 3.2 1 4.1 1 3.5 1 3.2"/>
<path stroke="#6bff94" d="M0 439.4l1-1.1 1-1 1-.9 1-.9 1-.8 1-1.1 1-1.3 1-1 1-.3 1 .2 1 .4 1 1.6 1 2.2 1 2.4 1 2 1 1.1 1 .5 1 .6 1 .6 1 .5 1-.4 1-6.3 1-12.1 1-16.6 1-27.7 1-26.3 1-19.7 1-8.7 1-1.6 1 1.9 1 2.1 1-.4 1-1.1 1-.5 1 3.7 1 6.8 1 13.9 1 14.8 1 22 1 23.6 1 18 1 9.7 1 3.6 1 .5 1-.2 1-.4 1-.8 1-.9 1-.6 1-.6 1-.6 1-.5 1-.4 1-.5 1-.4 1-.5 1-.4 1-.3 1-.3 1-.3 1-.2 1-.1"/>
<path stroke="#6b0094" d="M0 673.2l1-15.6 1-18.8 1-21.4 1-22.2 1-23.1 1-22.1 1-21.1 1-19 1-11 1-3.3 1 7.3 1 19.4 1 25.6 1 33.9 1 35.1 1 26.1 1 16.4 1 3.8 1-7.9 1-25.7 1-31.1 1-59.5 1-68.1 1-76.5 1-71.9 1-51.1 1-34.4 1-15.9 1-2 1 6.4 1 4.3 1-.1 1-3.3 1-1.4 1 3.6 1 17.2 1 31 1 43.8 1 59 1 58 1 58.2 1 56.6 1 47.5 1 38.2 1 27.9 1 19.5 1 6.7 1-6.8 1-19.2 1-23.7 1-21.4 1-14.4 1-9.3 1-5.9 1-.7 1 1.7 1 2.3 1 2.5 1 3.2 1 4.1 1 3.5 1 3.3"/>
<path stroke="#6a0095" d="M0 673.4l1-15.6 1-18.8 1-21.5 1-22.1 1-23.2 1-22.2 1-21.1 1-19.1 1-11 1-3.3 1 7.3 1 19.5 1 25.7 1 33.9 1 35.2 1 26.1 1 16.4 1 3.9 1-7.9 1-25.8 1-31.2 1-59.6 1-68.2 1-76.6 1-72 1-51.2 1-34.5 1-15.9 1-2 1 6.5 1 4.2 1 0 1-3.4 1-1.4 1 3.7 1 17.1 1 31 1 43.9 1 59.2 1 58.1 1 58.2 1 56.7 1 47.6 1 38.3 1 27.9 1 19.5 1 6.7 1-6.7 1-19.3 1-23.8 1-21.4 1-14.4 1-9.3 1-5.9 1-.8 1 1.8 1 2.3 1 2.5 1 3.2 1 4.1 1 3.5 1 3.2"/>
<path stroke="#690096" d="M0 673.7l1-15.6 1-18.9 1-21.5 1-22.2 1-23.3 1-22.2 1-21.1 1-19.1 1-11 1-3.4 1 7.3 1 19.5 1 25.8 1 34 1 35.3 1 26.2 1 16.4 1 3.9 1-7.9 1-25.8 1-31.3 1-59.8 1-68.3 1-76.7 1-72.2 1-51.2 1-34.6 1-15.9 1-2 1 6.5 1 4.3 1-.1 1-3.3 1-1.5 1 3.7 1 17.2 1 31 1 44 1 59.2 1 58.2 1 58.4 1 56.8 1 47.7 1 38.3 1 28 1 19.5 1 6.7 1-6.8 1-19.3 1-23.8 1-21.5 1-14.4 1-9.3 1-6 1-.7 1 1.7 1 2.3 1 2.5 1 3.2 1 4.1 1 3.5 1 3.3"/>
<path stroke="#69ff96" d="M0 439.4l1-1 1-1.1 1-.9 1-.9 1-.8 1-1.1 1-1.3 1-1.1 1-.2 1 .2 1 .3 1 1.7 1 2.2 1 2.4 1 2.1 1 1 1 .6 1 .6 1 .7 1 .4 1-.4 1-6.2 1-12.1 1-16.9 1-27.8 1-26.4 1-19.7 1-8.5 1-1.6 1 2 1 2.1 1-.3 1-1.2 1-.6 1 3.6 1 6.9 1 14 1 14.8 1 22 1 23.6 1 18.1 1 9.6 1 3.7 1 .5 1-.2 1-.5 1-.8 1-.8 1-.7 1-.6 1-.5 1-.5 1-.5 1-.5 1-.4 1-.5 1-.4 1-.3 1-.3 1-.3 1-.2 1-.1"/>
<path stroke="#690096" d="M0 674l1-15.7 1-18.9 1-21.6 1-22.2 1-23.3 1-22.3 1-21.1 1-19.2 1-11 1-3.4 1 7.4 1 19.5 1 25.8 1 34.1 1 35.4 1 26.2 1 16.5 1 3.9 1-7.9 1-25.9 1-31.4 1-59.9 1-68.4 1-76.8 1-72.3 1-51.3 1-34.6 1-16 1-2 1 6.5 1 4.3 1 0 1-3.4 1-1.5 1 3.7 1 17.2 1 31.1 1 44 1 59.3 1 58.3 1 58.5 1 56.9 1 47.8 1 38.4 1 28 1 19.6 1 6.7 1-6.8 1-19.4 1-23.8 1-21.6 1-14.5 1-9.3 1-5.9 1-.8 1 1.8 1 2.3 1 2.5 1 3.2 1 4.1 1 3.5 1 3.2"/>
<path stroke="#680097" d="M0 674.3l1-15.7 1-19 1-21.6 1-22.3 1-23.3 1-22.3 1-21.3 1-19.1 1-11.1 1-3.4 1 7.4 1 19.6 1 25.8 1 34.2 1 35.4 1 26.4 1 16.5 1 3.9 1-7.9 1-26 1-31.4 1-60.1 1-68.5 1-76.9 1-72.4 1-51.4 1-34.7 1-16 1-2 1 6.6 1 4.3 1-.1 1-3.3 1-1.5 1 3.6 1 17.2 1 31.2 1 44.1 1 59.4 1 58.4 1 58.6 1 57 1 47.8 1 38.5 1 28 1 19.6 1 6.8 1-6.8 1-19.5 1-23.9 1-21.5 1-14.6 1-9.3 1-5.9 1-.8 1 1.7 1 2.3 1 2.5 1 3.2 1 4.1 1 3.5 1 3.3"/>
<path stroke="#680097" d="M0 674.6l1-15.8 1-19 1-21.7 1-22.3 1-23.4 1-22.3 1-21.3 1-19.2 1-11 1-3.4 1 7.3 1 19.6 1 25.9 1 34.3 1 35.5 1 26.4 1 16.6 1 3.9 1-7.9 1-26 1-31.6 1-60.2 1-68.5 1-77.1 1-72.6 1-51.4 1-34.8 1-16 1-1.9 1 6.5 1 4.3 1 0 1-3.4 1-1.5 1 3.7 1 17.2 1 31.2 1 44.1 1 59.5 1 58.5 1 58.7 1 57.1 1 47.9 1 38.6 1 28.1 1 19.6 1 6.7 1-6.8 1-19.5 1-23.9 1-21.6 1-14.6 1-9.3 1-6 1-.7 1 1.7 1 2.3 1 2.5 1 3.2 1 4.1 1 3.5 1 3.2"/>
<path stroke="#68ff97" d="M0 439.5l1-1.1 1-1 1-1 1-.8 1-.9 1-1.1 1-1.3 1-1.1 1-.2 1 .1 1 .4 1 1.7 1 2.2 1 2.4 1 2.1 1 1.1 1 .6 1 .6 1 .7 1 .5 1-.4 1-6.2 1-12.2 1-17.1 1-27.9 1-26.4 1-19.7 1-8.5 1-1.5 1 2.1 1 2.2 1-.4 1-1.3 1-.6 1 3.6 1 6.8 1 14.1 1 14.9 1 22 1 23.6 1 18.2 1 9.6 1 3.6 1 .5 1-.2 1-.4 1-.8 1-.9 1-.6 1-.6 1-.6 1-.5 1-.5 1-.5 1-.4 1-.5 1-.3 1-.4 1-.3 1-.3 1-.2 1-.1"/>
<path stroke="#670098" d="M0 674.9l1-15.8 1-19.1 1-21.7 1-22.4 1-23.4 1-22.4 1-21.3 1-19.2 1-11.1 1-3.4 1 7.4 1 19.6 1 25.9 1 34.4 1 35.6 1 26.4 1 16.7 1 3.9 1-7.9 1-26.1 1-31.6 1-60.4 1-68.6 1-77.2 1-72.7 1-51.5 1-34.8 1-16.1 1-1.9 1 6.5 1 4.4 1-.1 1-3.4 1-1.5 1 3.7 1 17.2 1 31.2 1 44.3 1 59.5 1 58.6 1 58.9 1 57.2 1 48 1 38.5 1 28.2 1 19.7 1 6.7 1-6.8 1-19.6 1-24 1-21.6 1-14.6 1-9.4 1-5.9 1-.8 1 1.7 1 2.3 1 2.5 1 3.2 1 4.1 1 3.5 1 3.3"/>
<path stroke="#670098" d="M0 675.2l1-15.9 1-19.1 1-21.8 1-22.4 1-23.5 1-22.4 1-21.3 1-19.3 1-11.1 1-3.4 1 7.4 1 19.6 1 26 1 34.5 1 35.7 1 26.5 1 16.7 1 3.9 1-7.9 1-26.1 1-31.8 1-60.5 1-68.7 1-77.3 1-72.8 1-51.6 1-34.9 1-16.1 1-1.9 1 6.6 1 4.3 1 0 1-3.4 1-1.6 1 3.7 1 17.3 1 31.2 1 44.3 1 59.7 1 58.7 1 59 1 57.2 1 48.1 1 38.6 1 28.2 1 19.7 1 6.8 1-6.9 1-19.6 1-24 1-21.7 1-14.6 1-9.4 1-6 1-.7 1 1.7 1 2.3 1 2.5 1 3.2 1 4.1 1 3.5 1 3.2"/>
<path stroke="#660099" d="M0 675.5l1-15.9 1-19.2 1-21.8 1-22.5 1-23.5 1-22.5 1-21.3 1-19.3 1-11.2 1-3.4 1 7.4 1 19.7 1 26.1 1 34.5 1 35.8 1 26.5 1 16.8 1 3.9 1-7.9 1-26.2 1-31.8 1-60.7 1-68.8 1-77.4 1-72.9 1-51.8 1-34.9 1-16.1 1-1.9 1 6.6 1 4.4 1-.1 1-3.4 1-1.5 1 3.7 1 17.2 1 31.3 1 44.4 1 59.7 1 58.8 1 59.1 1 57.4 1 48.1 1 38.7 1 28.2 1 19.8 1 6.7 1-6.8 1-19.6 1-24.1 1-21.8 1-14.6 1-9.4 1-6 1-.8 1 1.8 1 2.2 1 2.5 1 3.2 1 4.1 1 3.5 1 3.3"/>
<path stroke="#66ff99" d="M0 439.5l1-1.1 1-1 1-1 1-.8 1-.9 1-1.1 1-1.4 1-1 1-.3 1 .2 1 .4 1 1.7 1 2.2 1 2.5 1 2.1 1 1.1 1 .6 1 .6 1 .7 1 .5 1-.4 1-6.2 1-12.2 1-17.3 1-28 1-26.5 1-19.7 1-8.4 1-1.4 1 2.2 1 2.2 1-.4 1-1.3 1-.7 1 3.5 1 6.9 1 14.2 1 14.9 1 22.1 1 23.6 1 18.1 1 9.7 1 3.6 1 .5 1-.2 1-.5 1-.8 1-.8 1-.7 1-.6 1-.6 1-.5 1-.5 1-.4 1-.5 1-.4 1-.4 1-.4 1-.3 1-.3 1-.2 1-.1"/>
<path stroke="#65009a" d="M0 675.8l1-16 1-19.2 1-21.9 1-22.5 1-23.5 1-22.6 1-21.4 1-19.3 1-11.1 1-3.4 1 7.3 1 19.8 1 26.1 1 34.6 1 35.9 1 26.6 1 16.8 1 3.9 1-7.9 1-26.3 1-31.9 1-60.8 1-68.9 1-77.5 1-73.1 1-51.8 1-34.9 1-16.2 1-1.9 1 6.6 1 4.4 1 0 1-3.4 1-1.6 1 3.7 1 17.2 1 31.4 1 44.4 1 59.8 1 59 1 59.2 1 57.4 1 48.2 1 38.8 1 28.3 1 19.7 1 6.8 1-6.9 1-19.6 1-24.2 1-21.8 1-14.7 1-9.4 1-6 1-.7 1 1.7 1 2.3 1 2.5 1 3.1 1 4.1 1 3.5 1 3.3"/>
<path stroke="#65009a" d="M0 676.1l1-16 1-19.3 1-21.9 1-22.6 1-23.6 1-22.5 1-21.5 1-19.3 1-11.2 1-3.4 1 7.4 1 19.7 1 26.2 1 34.7 1 35.9 1 26.7 1 16.9 1 3.9 1-7.9 1-26.3 1-32 1-61 1-69 1-77.7 1-73.1 1-51.9 1-35 1-16.2 1-1.9 1 6.7 1 4.4 1-.1 1-3.4 1-1.5 1 3.6 1 17.3 1 31.4 1 44.5 1 59.9 1 59 1 59.3 1 57.6 1 48.3 1 38.8 1 28.3 1 19.8 1 6.8 1-6.9 1-19.7 1-24.2 1-21.9 1-14.7 1-9.4 1-6 1-.8 1 1.8 1 2.2 1 2.5 1 3.2 1 4.1 1 3.5 1 3.3"/>
<path stroke="#64009b" d="M0 676.3l1-16 1-19.3 1-21.9 1-22.7 1-23.6 1-22.6 1-21.5 1-19.4 1-11.2 1-3.4 1 7.4 1 19.8 1 26.2 1 34.8 1 36 1 26.8 1 16.8 1 4 1-8 1-26.3 1-32.1 1-61.1 1-69.1 1-77.8 1-73.2 1-52 1-35.1 1-16.1 1-1.9 1 6.6 1 4.4 1 0 1-3.4 1-1.6 1 3.7 1 17.2 1 31.4 1 44.6 1 60 1 59.1 1 59.5 1 57.7 1 48.3 1 38.9 1 28.3 1 19.8 1 6.8 1-6.9 1-19.7 1-24.3 1-21.9 1-14.7 1-9.4 1-6 1-.8 1 1.7 1 2.3 1 2.4 1 3.2 1 4.1 1 3.5 1 3.3"/>
<path stroke="#64ff9b" d="M0 439.6l1-1.1 1-1.1 1-.9 1-.9 1-.9 1-1.1 1-1.4 1-1.1 1-.2 1 .2 1 .4 1 1.7 1 2.3 1 2.4 1 2.1 1 1.1 1 .7 1 .6 1 .7 1 .5 1-.3 1-6.2 1-12.3 1-17.5 1-28.1 1-26.5 1-19.7 1-8.3 1-1.3 1 2.2 1 2.2 1-.4 1-1.4 1-.7 1 3.5 1 6.9 1 14.2 1 15 1 22.1 1 23.6 1 18.2 1 9.6 1 3.7 1 .5 1-.2 1-.5 1-.8 1-.9 1-.6 1-.6 1-.6 1-.6 1-.4 1-.5 1-.5 1-.4 1-.4 1-.4 1-.3 1-.3 1-.2 1-.1"/>
<path stroke="#64009b" d="M0 676.6l1-16 1-19.4 1-22 1-22.7 1-23.7 1-22.6 1-21.5 1-19.4 1-11.2 1-3.5 1 7.4 1 19.9 1 26.2 1 34.9 1 36.1 1 26.8 1 16.9 1 4 1-8 1-26.3 1-32.2 1-61.3 1-69.2 1-77.9 1-73.3 1-52.1 1-35.1 1-16.2 1-1.9 1 6.7 1 4.4 1-.1 1-3.4 1-1.6 1 3.7 1 17.3 1 31.4 1 44.7 1 60.1 1 59.2 1 59.5 1 57.8 1 48.4 1 38.9 1 28.4 1 19.9 1 6.8 1-6.9 1-19.8 1-24.3 1-22 1-14.7 1-9.5 1-6 1-.8 1 1.8 1 2.2 1 2.5 1 3.2 1 4.1 1 3.5 1 3.3"/>
<path stroke="#63009c" d="M0 676.9l1-16.1 1-19.4 1-22 1-22.8 1-23.7 1-22.7 1-21.5 1-19.5 1-11.2 1-3.5 1 7.5 1 19.8 1 26.3 1 35 1 36.2 1 26.8 1 17 1 4 1-8 1-26.4 1-32.3 1-61.4 1-69.3 1-78 1-73.4 1-52.2 1-35.2 1-16.2 1-1.9 1 6.7 1 4.4 1 0 1-3.5 1-1.5 1 3.7 1 17.2 1 31.5 1 44.7 1 60.2 1 59.3 1 59.7 1 57.9 1 48.4 1 39 1 28.5 1 19.8 1 6.9 1-7 1-19.8 1-24.4 1-22 1-14.7 1-9.5 1-6 1-.8 1 1.7 1 2.3 1 2.4 1 3.2 1 4.1 1 3.5 1 3.3"/>
<path stroke="#63009c" d="M0 677.2l1-16.1 1-19.5 1-22.1 1-22.8 1-23.7 1-22.8 1-21.6 1-19.4 1-11.3 1-3.4 1 7.4 1 19.9 1 26.3 1 35.1 1 36.3 1 26.9 1 17 1 4 1-8 1-26.5 1-32.3 1-61.6 1-69.3 1-78.2 1-73.6 1-52.2 1-35.2 1-16.3 1-1.9 1 6.8 1 4.4 1-.1 1-3.4 1-1.6 1 3.7 1 17.3 1 31.5 1 44.8 1 60.2 1 59.5 1 59.7 1 58 1 48.5 1 39.1 1 28.5 1 19.9 1 6.8 1-6.9 1-19.9 1-24.4 1-22.1 1-14.8 1-9.4 1-6.1 1-.8 1 1.8 1 2.2 1 2.5 1 3.1 1 4.2 1 3.5 1 3.3"/>
<path stroke="#63ff9c" d="M0 439.6l1-1.1 1-1.1 1-.9 1-.9 1-.9 1-1.1 1-1.4 1-1.1 1-.2 1 .1 1 .4 1 1.8 1 2.3 1 2.4 1 2.2 1 1.1 1 .6 1 .7 1 .7 1 .5 1-.3 1-6.2 1-12.3 1-17.7 1-28.1 1-26.6 1-19.8 1-8.2 1-1.2 1 2.2 1 2.4 1-.5 1-1.4 1-.8 1 3.4 1 7 1 14.3 1 15 1 22.1 1 23.7 1 18.2 1 9.6 1 3.6 1 .5 1-.2 1-.4 1-.9 1-.8 1-.7 1-.6 1-.6 1-.5 1-.5 1-.5 1-.5 1-.4 1-.4 1-.4 1-.3 1-.3 1-.2 1-.1"/>
<path stroke="#62009d" d="M0 677.5l1-16.2 1-19.5 1-22.1 1-22.9 1-23.8 1-22.7 1-21.7 1-19.5 1-11.2 1-3.5 1 7.4 1 20 1 26.3 1 35.2 1 36.3 1 27 1 17.1 1 4 1-8 1-26.5 1-32.5 1-61.7 1-69.4 1-78.3 1-73.7 1-52.3 1-35.3 1-16.3 1-1.8 1 6.7 1 4.5 1-.1 1-3.4 1-1.6 1 3.6 1 17.3 1 31.6 1 44.9 1 60.3 1 59.5 1 59.9 1 58.1 1 48.6 1 39.1 1 28.5 1 19.9 1 6.9 1-7 1-19.9 1-24.5 1-22 1-14.9 1-9.5 1-6 1-.8 1 1.7 1 2.3 1 2.4 1 3.2 1 4.1 1 3.5 1 3.3"/>
<path stroke="#61009e" d="M0 677.8l1-16.2 1-19.6 1-22.2 1-22.9 1-23.8 1-22.8 1-21.7 1-19.5 1-11.3 1-3.5 1 7.5 1 19.9 1 26.4 1 35.3 1 36.4 1 27.1 1 17.1 1 4 1-8 1-26.6 1-32.5 1-61.9 1-69.5 1-78.4 1-73.8 1-52.4 1-35.3 1-16.3 1-1.9 1 6.8 1 4.4 1 0 1-3.5 1-1.6 1 3.7 1 17.3 1 31.6 1 44.9 1 60.4 1 59.7 1 59.9 1 58.2 1 48.7 1 39.2 1 28.5 1 20 1 6.8 1-7 1-19.9 1-24.5 1-22.1 1-14.9 1-9.5 1-6.1 1-.7 1 1.7 1 2.2 1 2.5 1 3.1 1 4.1 1 3.6 1 3.2"/>
<path stroke="#61009e" d="M0 678.1l1-16.3 1-19.6 1-22.2 1-23 1-23.9 1-22.8 1-21.7 1-19.5 1-11.4 1-3.5 1 7.5 1 20 1 26.5 1 35.3 1 36.5 1 27.1 1 17.1 1 4.1 1-8 1-26.7 1-32.6 1-61.9 1-69.7 1-78.5 1-73.9 1-52.5 1-35.4 1-16.3 1-1.9 1 6.8 1 4.5 1-.1 1-3.4 1-1.6 1 3.6 1 17.3 1 31.7 1 45 1 60.5 1 59.7 1 60.1 1 58.3 1 48.7 1 39.2 1 28.6 1 20 1 6.9 1-7 1-20 1-24.6 1-22.1 1-14.9 1-9.5 1-6.1 1-.8 1 1.7 1 2.3 1 2.4 1 3.2 1 4.1 1 3.5 1 3.3"/>
<path stroke="#61ff9e" d="M0 439.6l1-1.1 1-1 1-1 1-.9 1-.9 1-1.1 1-1.4 1-1.1 1-.3 1 .2 1 .4 1 1.7 1 2.4 1 2.4 1 2.2 1 1.2 1 .6 1 .7 1 .7 1 .6 1-.4 1-6.1 1-12.4 1-17.9 1-28.2 1-26.7 1-19.7 1-8.2 1-1.1 1 2.3 1 2.4 1-.4 1-1.5 1-1 1 3.5 1 7 1 14.3 1 15.1 1 22.1 1 23.7 1 18.2 1 9.6 1 3.7 1 .5 1-.2 1-.5 1-.8 1-.9 1-.6 1-.7 1-.6 1-.5 1-.5 1-.5 1-.5 1-.4 1-.4 1-.4 1-.3 1-.3 1-.2 1-.2"/>
<path stroke="#60009f" d="M0 678.3l1-16.3 1-19.6 1-22.3 1-23 1-23.9 1-22.9 1-21.7 1-19.6 1-11.3 1-3.5 1 7.4 1 20.1 1 26.5 1 35.4 1 36.6 1 27.1 1 17.2 1 4.1 1-8 1-26.7 1-32.7 1-62.1 1-69.8 1-78.6 1-74 1-52.5 1-35.5 1-16.4 1-1.8 1 6.8 1 4.4 1 0 1-3.5 1-1.6 1 3.7 1 17.3 1 31.7 1 45 1 60.6 1 59.8 1 60.2 1 58.4 1 48.8 1 39.3 1 28.6 1 20.1 1 6.8 1-7 1-20 1-24.6 1-22.2 1-15 1-9.5 1-6.1 1-.7 1 1.7 1 2.2 1 2.4 1 3.2 1 4.1 1 3.5 1 3.3"/>
<path stroke="#60009f" d="M0 678.6l1-16.3 1-19.7 1-22.3 1-23 1-24 1-23 1-21.8 1-19.5 1-11.4 1-3.5 1 7.4 1 20.1 1 26.6 1 35.5 1 36.6 1 27.3 1 17.2 1 4.1 1-8.1 1-26.7 1-32.8 1-62.2 1-69.9 1-78.7 1-74.1 1-52.6 1-35.6 1-16.3 1-1.9 1 6.8 1 4.5 1 0 1-3.5 1-1.7 1 3.7 1 17.3 1 31.8 1 45.1 1 60.7 1 59.9 1 60.3 1 58.5 1 48.8 1 39.4 1 28.7 1 20 1 6.9 1-7 1-20.1 1-24.7 1-22.2 1-15 1-9.5 1-6.1 1-.8 1 1.7 1 2.3 1 2.4 1 3.1 1 4.2 1 3.5 1 3.3"/>
<path stroke="#5f00a0" d="M0 678.9l1-16.4 1-19.7 1-22.4 1-23 1-24.1 1-23 1-21.8 1-19.6 1-11.4 1-3.5 1 7.5 1 20.1 1 26.6 1 35.5 1 36.8 1 27.3 1 17.3 1 4.1 1-8.1 1-26.8 1-32.8 1-62.4 1-70 1-78.8 1-74.2 1-52.7 1-35.6 1-16.4 1-1.9 1 6.9 1 4.5 1-.1 1-3.5 1-1.6 1 3.7 1 17.3 1 31.8 1 45.2 1 60.7 1 60 1 60.4 1 58.6 1 48.9 1 39.5 1 28.7 1 20.1 1 6.8 1-7 1-20.1 1-24.7 1-22.3 1-15 1-9.6 1-6.1 1-.7 1 1.7 1 2.2 1 2.4 1 3.2 1 4.1 1 3.5 1 3.3"/>
<path stroke="#5fffa0" d="M0 439.7l1-1.1 1-1.1 1-1 1-.9 1-.9 1-1.1 1-1.4 1-1.2 1-.2 1 .2 1 .4 1 1.7 1 2.4 1 2.5 1 2.2 1 1.1 1 .7 1 .7 1 .7 1 .6 1-.3 1-6.2 1-12.3 1-18.2 1-28.3 1-26.7 1-19.7 1-8.1 1-1 1 2.3 1 2.5 1-.5 1-1.6 1-1 1 3.5 1 7 1 14.4 1 15.1 1 22.2 1 23.7 1 18.2 1 9.6 1 3.6 1 .6 1-.2 1-.5 1-.9 1-.8 1-.7 1-.6 1-.6 1-.6 1-.5 1-.5 1-.4 1-.5 1-.4 1-.4 1-.3 1-.3 1-.2 1-.2"/>
<path stroke="#5f00a0" d="M0 679.2l1-16.4 1-19.8 1-22.4 1-23.1 1-24.1 1-23 1-21.9 1-19.6 1-11.4 1-3.6 1 7.5 1 20.2 1 26.6 1 35.6 1 36.9 1 27.4 1 17.3 1 4.1 1-8.1 1-26.8 1-33 1-62.5 1-70.1 1-78.9 1-74.3 1-52.8 1-35.7 1-16.4 1-1.8 1 6.8 1 4.5 1 0 1-3.5 1-1.6 1 3.6 1 17.4 1 31.8 1 45.2 1 60.9 1 60.1 1 60.5 1 58.7 1 49 1 39.4 1 28.8 1 20.1 1 6.9 1-7.1 1-20.1 1-24.8 1-22.3 1-15 1-9.6 1-6.1 1-.8 1 1.7 1 2.2 1 2.5 1 3.1 1 4.1 1 3.6 1 3.3"/>
<path stroke="#5e00a1" d="M0 679.5l1-16.5 1-19.8 1-22.5 1-23.1 1-24.2 1-23 1-21.9 1-19.7 1-11.4 1-3.5 1 7.4 1 20.2 1 26.7 1 35.7 1 37 1 27.4 1 17.4 1 4.1 1-8.1 1-26.9 1-33.1 1-62.6 1-70.1 1-79.1 1-74.5 1-52.8 1-35.7 1-16.4 1-1.9 1 6.9 1 4.5 1 0 1-3.5 1-1.7 1 3.7 1 17.3 1 31.9 1 45.3 1 60.9 1 60.2 1 60.6 1 58.8 1 49.1 1 39.5 1 28.8 1 20.1 1 6.9 1-7 1-20.2 1-24.8 1-22.4 1-15 1-9.6 1-6.2 1-.7 1 1.7 1 2.2 1 2.4 1 3.2 1 4.1 1 3.5 1 3.3"/>
<path stroke="#5e00a2" d="M0 679.8l1-16.5 1-19.9 1-22.5 1-23.2 1-24.2 1-23.1 1-21.9 1-19.7 1-11.5 1-3.5 1 7.5 1 20.2 1 26.7 1 35.8 1 37.1 1 27.4 1 17.4 1 4.2 1-8.1 1-27 1-33.1 1-62.8 1-70.2 1-79.2 1-74.6 1-52.9 1-35.8 1-16.4 1-1.9 1 6.9 1 4.6 1-.1 1-3.5 1-1.6 1 3.6 1 17.4 1 31.9 1 45.4 1 61 1 60.3 1 60.7 1 58.9 1 49.1 1 39.6 1 28.8 1 20.2 1 6.9 1-7.1 1-20.2 1-24.9 1-22.4 1-15.1 1-9.6 1-6.1 1-.8 1 1.7 1 2.2 1 2.5 1 3.1 1 4.1 1 3.6 1 3.3"/>
<path stroke="#5effa2" d="M0 439.7l1-1.1 1-1.1 1-1 1-.9 1-.9 1-1.1 1-1.5 1-1.1 1-.2 1 .2 1 .3 1 1.8 1 2.4 1 2.5 1 2.2 1 1.2 1 .7 1 .7 1 .7 1 .6 1-.3 1-6.1 1-12.4 1-18.4 1-28.3 1-26.8 1-19.8 1-8 1-.9 1 2.4 1 2.5 1-.5 1-1.6 1-1.1 1 3.4 1 7.1 1 14.5 1 15.1 1 22.2 1 23.7 1 18.3 1 9.6 1 3.6 1 .5 1-.2 1-.5 1-.8 1-.9 1-.7 1-.6 1-.6 1-.5 1-.6 1-.4 1-.5 1-.5 1-.4 1-.4 1-.3 1-.3 1-.2 1-.2"/>
<path stroke="#5d00a2" d="M0 680l1-16.5 1-19.9 1-22.6 1-23.2 1-24.2 1-23.2 1-22 1-19.7 1-11.4 1-3.6 1 7.5 1 20.3 1 26.7 1 35.9 1 37.1 1 27.6 1 17.4 1 4.2 1-8.1 1-27 1-33.3 1-62.9 1-70.3 1-79.3 1-74.7 1-53 1-35.8 1-16.5 1-1.8 1 6.9 1 4.6 1-.1 1-3.5 1-1.7 1 3.7 1 17.4 1 31.9 1 45.4 1 61.1 1 60.4 1 60.8 1 59 1 49.2 1 39.6 1 28.9 1 20.2 1 6.9 1-7.1 1-20.2 1-24.9 1-22.5 1-15.1 1-9.6 1-6.1 1-.8 1 1.7 1 2.2 1 2.4 1 3.1 1 4.2 1 3.5 1 3.3"/>
<path stroke="#5c00a3" d="M0 680.3l1-16.6 1-19.9 1-22.7 1-23.2 1-24.3 1-23.2 1-22 1-19.7 1-11.5 1-3.6 1 7.5 1 20.3 1 26.9 1 35.9 1 37.2 1 27.6 1 17.5 1 4.2 1-8.2 1-27 1-33.3 1-63.1 1-70.4 1-79.4 1-74.8 1-53.1 1-35.8 1-16.5 1-1.9 1 7 1 4.5 1 0 1-3.5 1-1.7 1 3.6 1 17.4 1 32 1 45.5 1 61.2 1 60.5 1 60.9 1 59.1 1 49.2 1 39.7 1 28.9 1 20.3 1 6.9 1-7.1 1-20.3 1-25 1-22.5 1-15.1 1-9.7 1-6.1 1-.8 1 1.7 1 2.2 1 2.4 1 3.2 1 4.1 1 3.5 1 3.4"/>
<path stroke="#5c00a3" d="M0 680.6l1-16.6 1-20 1-22.7 1-23.3 1-24.3 1-23.2 1-22.1 1-19.8 1-11.5 1-3.5 1 7.5 1 20.3 1 26.9 1 36 1 37.3 1 27.6 1 17.6 1 4.2 1-8.2 1-27.1 1-33.4 1-63.2 1-70.5 1-79.4 1-75 1-53.2 1-35.9 1-16.5 1-1.8 1 6.9 1 4.6 1-.1 1-3.5 1-1.7 1 3.7 1 17.4 1 32 1 45.6 1 61.2 1 60.6 1 61 1 59.2 1 49.3 1 39.8 1 28.9 1 20.3 1 6.9 1-7.1 1-20.3 1-25 1-22.6 1-15.2 1-9.6 1-6.1 1-.8 1 1.7 1 2.2 1 2.4 1 3.1 1 4.1 1 3.6 1 3.3"/>
<path stroke="#5cffa3" d="M0 439.8l1-1.2 1-1.1 1-1 1-.9 1-.9 1-1.1 1-1.5 1-1.1 1-.3 1 .2 1 .4 1 1.8 1 2.4 1 2.5 1 2.3 1 1.2 1 .7 1 .7 1 .7 1 .6 1-.3 1-6 1-12.5 1-18.6 1-28.4 1-26.8 1-19.8 1-7.9 1-.9 1 2.5 1 2.6 1-.5 1-1.7 1-1.2 1 3.4 1 7.1 1 14.5 1 15.2 1 22.2 1 23.8 1 18.2 1 9.6 1 3.6 1 .6 1-.2 1-.5 1-.9 1-.8 1-.7 1-.7 1-.6 1-.5 1-.5 1-.5 1-.5 1-.5 1-.4 1-.4 1-.3 1-.3 1-.2 1-.2"/>
<path stroke="#5b00a4" d="M0 680.9l1-16.7 1-20 1-22.8 1-23.3 1-24.4 1-23.2 1-22.1 1-19.8 1-11.5 1-3.6 1 7.5 1 20.4 1 26.9 1 36.1 1 37.4 1 27.7 1 17.5 1 4.3 1-8.2 1-27.2 1-33.4 1-63.4 1-70.6 1-79.5 1-75.1 1-53.2 1-36 1-16.6 1-1.8 1 7 1 4.6 1-.1 1-3.5 1-1.7 1 3.7 1 17.4 1 32 1 45.7 1 61.3 1 60.7 1 61.1 1 59.3 1 49.3 1 39.9 1 28.9 1 20.3 1 7 1-7.2 1-20.4 1-25 1-22.6 1-15.2 1-9.6 1-6.2 1-.8 1 1.7 1 2.2 1 2.4 1 3.2 1 4.1 1 3.5 1 3.3"/>
<path stroke="#5b00a4" d="M0 681.1l1-16.6 1-20.1 1-22.8 1-23.4 1-24.4 1-23.3 1-22.1 1-19.9 1-11.5 1-3.6 1 7.5 1 20.4 1 27 1 36.2 1 37.4 1 27.8 1 17.6 1 4.3 1-8.2 1-27.2 1-33.6 1-63.5 1-70.6 1-79.7 1-75.2 1-53.3 1-36.1 1-16.5 1-1.8 1 7 1 4.6 1-.1 1-3.5 1-1.7 1 3.6 1 17.4 1 32.1 1 45.7 1 61.4 1 60.8 1 61.3 1 59.3 1 49.5 1 39.8 1 29 1 20.4 1 6.9 1-7.1 1-20.5 1-25.1 1-22.6 1-15.2 1-9.7 1-6.1 1-.8 1 1.7 1 2.2 1 2.4 1 3.1 1 4.1 1 3.6 1 3.3"/>
<path stroke="#5a00a5" d="M0 681.4l1-16.7 1-20.1 1-22.9 1-23.4 1-24.4 1-23.4 1-22.2 1-19.8 1-11.6 1-3.6 1 7.6 1 20.4 1 27 1 36.3 1 37.5 1 27.8 1 17.7 1 4.3 1-8.2 1-27.3 1-33.6 1-63.7 1-70.7 1-79.8 1-75.3 1-53.4 1-36.1 1-16.6 1-1.8 1 7 1 4.6 1 0 1-3.6 1-1.7 1 3.7 1 17.4 1 32.1 1 45.8 1 61.5 1 60.9 1 61.3 1 59.5 1 49.5 1 39.9 1 29 1 20.4 1 7 1-7.2 1-20.5 1-25.1 1-22.7 1-15.2 1-9.7 1-6.2 1-.8 1 1.7 1 2.2 1 2.4 1 3.1 1 4.2 1 3.5 1 3.3"/>
<path stroke="#5affa5" d="M0 439.8l1-1.1 1-1.1 1-1 1-1 1-.9 1-1.1 1-1.5 1-1.1 1-.3 1 .2 1 .4 1 1.8 1 2.4 1 2.6 1 2.2 1 1.2 1 .8 1 .7 1 .8 1 .5 1-.2 1-6.1 1-12.5 1-18.8 1-28.5 1-26.8 1-19.8 1-7.9 1-.7 1 2.5 1 2.7 1-.6 1-1.8 1-1.2 1 3.3 1 7.2 1 14.6 1 15.2 1 22.3 1 23.8 1 18.2 1 9.6 1 3.6 1 .6 1-.3 1-.4 1-.9 1-.9 1-.7 1-.6 1-.6 1-.6 1-.5 1-.5 1-.5 1-.5 1-.4 1-.4 1-.3 1-.3 1-.2 1-.2"/>
<path stroke="#5a00a5" d="M0 681.7l1-16.8 1-20.2 1-22.8 1-23.5 1-24.5 1-23.4 1-22.2 1-19.9 1-11.5 1-3.6 1 7.5 1 20.5 1 27 1 36.4 1 37.6 1 27.9 1 17.7 1 4.3 1-8.3 1-27.3 1-33.7 1-63.8 1-70.8 1-79.9 1-75.4 1-53.5 1-36.1 1-16.6 1-1.8 1 7 1 4.6 1 0 1-3.6 1-1.7 1 3.6 1 17.5 1 32.1 1 45.9 1 61.5 1 61 1 61.5 1 59.5 1 49.6 1 40 1 29 1 20.4 1 7 1-7.2 1-20.5 1-25.2 1-22.7 1-15.3 1-9.7 1-6.1 1-.8 1 1.7 1 2.1 1 2.4 1 3.2 1 4.1 1 3.5 1 3.4"/>
<path stroke="#5900a6" d="M0 682l1-16.8 1-20.3 1-22.9 1-23.5 1-24.5 1-23.5 1-22.2 1-19.9 1-11.6 1-3.6 1 7.5 1 20.5 1 27.1 1 36.5 1 37.7 1 27.9 1 17.8 1 4.3 1-8.3 1-27.3 1-33.9 1-63.9 1-70.9 1-80 1-75.5 1-53.6 1-36.2 1-16.6 1-1.8 1 7.1 1 4.6 1-.1 1-3.5 1-1.8 1 3.7 1 17.4 1 32.2 1 46 1 61.6 1 61.1 1 61.5 1 59.7 1 49.6 1 40 1 29.1 1 20.5 1 6.9 1-7.2 1-20.5 1-25.2 1-22.8 1-15.3 1-9.7 1-6.2 1-.8 1 1.7 1 2.2 1 2.4 1 3.1 1 4.1 1 3.6 1 3.3"/>
<path stroke="#5800a7" d="M0 682.3l1-16.9 1-20.3 1-22.9 1-23.6 1-24.6 1-23.4 1-22.3 1-20 1-11.6 1-3.6 1 7.6 1 20.5 1 27.1 1 36.6 1 37.7 1 28 1 17.8 1 4.4 1-8.3 1-27.4 1-33.9 1-64.1 1-71 1-80.1 1-75.6 1-53.6 1-36.3 1-16.6 1-1.8 1 7 1 4.7 1-.1 1-3.5 1-1.8 1 3.7 1 17.4 1 32.2 1 46 1 61.8 1 61.1 1 61.7 1 59.7 1 49.7 1 40.1 1 29.1 1 20.5 1 7 1-7.2 1-20.6 1-25.3 1-22.8 1-15.3 1-9.8 1-6.1 1-.8 1 1.7 1 2.1 1 2.4 1 3.1 1 4.2 1 3.5 1 3.4"/>
<path stroke="#58ffa7" d="M0 439.9l1-1.2 1-1.1 1-1 1-1 1-.9 1-1.2 1-1.4 1-1.2 1-.2 1 .2 1 .4 1 1.8 1 2.4 1 2.6 1 2.3 1 1.2 1 .8 1 .7 1 .8 1 .6 1-.3 1-6 1-12.5 1-19.1 1-28.5 1-26.9 1-19.8 1-7.8 1-.7 1 2.7 1 2.6 1-.5 1-1.9 1-1.3 1 3.3 1 7.2 1 14.7 1 15.2 1 22.3 1 23.8 1 18.3 1 9.5 1 3.6 1 .6 1-.2 1-.5 1-.8 1-.9 1-.7 1-.7 1-.6 1-.6 1-.5 1-.5 1-.5 1-.4 1-.5 1-.4 1-.3 1-.3 1-.2 1-.2"/>
<path stroke="#5800a7" d="M0 682.5l1-16.8 1-20.4 1-23 1-23.6 1-24.6 1-23.5 1-22.3 1-20 1-11.6 1-3.7 1 7.6 1 20.6 1 27.2 1 36.5 1 37.9 1 28.1 1 17.8 1 4.4 1-8.3 1-27.5 1-34 1-64.2 1-71.1 1-80.2 1-75.7 1-53.7 1-36.3 1-16.7 1-1.8 1 7.1 1 4.7 1-.1 1-3.6 1-1.7 1 3.6 1 17.5 1 32.2 1 46.1 1 61.8 1 61.3 1 61.7 1 59.9 1 49.7 1 40.1 1 29.3 1 20.4 1 7 1-7.2 1-20.6 1-25.4 1-22.8 1-15.3 1-9.8 1-6.2 1-.8 1 1.7 1 2.2 1 2.3 1 3.2 1 4.1 1 3.6 1 3.3"/>
<path stroke="#5700a8" d="M0 682.8l1-16.9 1-20.4 1-23 1-23.7 1-24.6 1-23.6 1-22.3 1-20.1 1-11.6 1-3.6 1 7.5 1 20.6 1 27.3 1 36.6 1 38 1 28.1 1 17.9 1 4.4 1-8.4 1-27.5 1-34 1-64.4 1-71.1 1-80.4 1-75.8 1-53.8 1-36.3 1-16.7 1-1.8 1 7.1 1 4.7 1-.1 1-3.6 1-1.7 1 3.6 1 17.5 1 32.3 1 46.1 1 61.9 1 61.3 1 61.9 1 59.9 1 49.8 1 40.2 1 29.3 1 20.4 1 7.1 1-7.3 1-20.6 1-25.4 1-22.9 1-15.4 1-9.7 1-6.2 1-.9 1 1.7 1 2.2 1 2.4 1 3.1 1 4.2 1 3.5 1 3.3"/>
<path stroke="#5700a8" d="M0 683.1l1-17 1-20.4 1-23.1 1-23.7 1-24.7 1-23.6 1-22.4 1-20 1-11.7 1-3.6 1 7.6 1 20.6 1 27.3 1 36.7 1 38 1 28.2 1 18 1 4.4 1-8.4 1-27.5 1-34.2 1-64.5 1-71.2 1-80.5 1-75.9 1-53.9 1-36.4 1-16.7 1-1.8 1 7.1 1 4.7 1 0 1-3.6 1-1.8 1 3.7 1 17.4 1 32.4 1 46.2 1 61.9 1 61.5 1 61.9 1 60.1 1 49.8 1 40.3 1 29.2 1 20.6 1 7 1-7.3 1-20.7 1-25.4 1-22.9 1-15.4 1-9.8 1-6.2 1-.8 1 1.7 1 2.2 1 2.3 1 3.2 1 4.1 1 3.5 1 3.4"/>
<path stroke="#57ffa8" d="M0 439.9l1-1.2 1-1.1 1-1 1-1 1-.9 1-1.2 1-1.4 1-1.2 1-.2 1 .1 1 .4 1 1.9 1 2.4 1 2.6 1 2.3 1 1.3 1 .7 1 .8 1 .8 1 .6 1-.3 1-6 1-12.5 1-19.3 1-28.6 1-26.9 1-19.8 1-7.7 1-.7 1 2.8 1 2.7 1-.6 1-1.9 1-1.3 1 3.2 1 7.2 1 14.7 1 15.3 1 22.3 1 23.9 1 18.2 1 9.6 1 3.6 1 .6 1-.2 1-.5 1-.9 1-.9 1-.7 1-.7 1-.6 1-.5 1-.6 1-.5 1-.5 1-.4 1-.5 1-.3 1-.4 1-.3 1-.2 1-.2"/>
<path stroke="#5600a9" d="M0 683.4l1-17 1-20.5 1-23.1 1-23.8 1-24.7 1-23.7 1-22.4 1-20.1 1-11.6 1-3.7 1 7.6 1 20.7 1 27.3 1 36.8 1 38.1 1 28.3 1 17.9 1 4.4 1-8.3 1-27.6 1-34.2 1-64.7 1-71.3 1-80.6 1-76 1-53.9 1-36.5 1-16.7 1-1.8 1 7.1 1 4.7 1 0 1-3.6 1-1.8 1 3.7 1 17.4 1 32.4 1 46.3 1 62 1 61.5 1 62.1 1 60.1 1 50 1 40.2 1 29.3 1 20.6 1 7 1-7.2 1-20.8 1-25.4 1-23 1-15.4 1-9.8 1-6.3 1-.8 1 1.7 1 2.2 1 2.4 1 3.1 1 4.1 1 3.6 1 3.3"/>
<path stroke="#5600a9" d="M0 683.6l1-17 1-20.5 1-23.2 1-23.8 1-24.8 1-23.7 1-22.4 1-20.1 1-11.7 1-3.7 1 7.6 1 20.7 1 27.4 1 36.9 1 38.2 1 28.3 1 18 1 4.4 1-8.3 1-27.7 1-34.3 1-64.8 1-71.4 1-80.7 1-76.1 1-54 1-36.5 1-16.8 1-1.8 1 7.2 1 4.7 1 0 1-3.7 1-1.7 1 3.6 1 17.5 1 32.4 1 46.3 1 62.1 1 61.7 1 62.2 1 60.2 1 50 1 40.3 1 29.3 1 20.6 1 7.1 1-7.3 1-20.8 1-25.5 1-23.1 1-15.4 1-9.8 1-6.2 1-.8 1 1.7 1 2.1 1 2.4 1 3.1 1 4.2 1 3.5 1 3.4"/>
<path stroke="#5500aa" d="M0 683.9l1-17.1 1-20.5 1-23.3 1-23.8 1-24.8 1-23.7 1-22.5 1-20.1 1-11.8 1-3.6 1 7.6 1 20.7 1 27.4 1 37 1 38.3 1 28.3 1 18.1 1 4.4 1-8.4 1-27.7 1-34.4 1-64.9 1-71.5 1-80.7 1-76.3 1-54.1 1-36.5 1-16.8 1-1.8 1 7.2 1 4.7 1-.1 1-3.6 1-1.8 1 3.7 1 17.5 1 32.4 1 46.4 1 62.2 1 61.7 1 62.3 1 60.3 1 50.1 1 40.4 1 29.3 1 20.6 1 7.1 1-7.3 1-20.8 1-25.6 1-23.1 1-15.4 1-9.8 1-6.3 1-.8 1 1.7 1 2.2 1 2.3 1 3.2 1 4.1 1 3.6 1 3.3"/>
<path stroke="#55ffaa" d="M0 439.9l1-1.2 1-1.1 1-1 1-1 1-.9 1-1.2 1-1.5 1-1.1 1-.3 1 .2 1 .4 1 1.9 1 2.4 1 2.6 1 2.4 1 1.2 1 .8 1 .8 1 .8 1 .6 1-.2 1-6 1-12.6 1-19.5 1-28.6 1-27 1-19.8 1-7.7 1-.5 1 2.8 1 2.8 1-.6 1-2 1-1.4 1 3.2 1 7.2 1 14.8 1 15.3 1 22.4 1 23.8 1 18.3 1 9.6 1 3.6 1 .5 1-.2 1-.5 1-.8 1-.9 1-.8 1-.6 1-.6 1-.6 1-.5 1-.5 1-.5 1-.5 1-.5 1-.3 1-.4 1-.3 1-.2 1-.2"/>
<path stroke="#5400ab" d="M0 684.4l1-17.1 1-20.6 1-23.4 1-23.9 1-24.9 1-23.8 1-22.6 1-20.1 1-11.8 1-3.7 1 7.6 1 20.8 1 27.5 1 37.2 1 38.4 1 28.5 1 18.1 1 4.5 1-8.4 1-27.8 1-34.6 1-65.2 1-71.6 1-81 1-76.5 1-54.2 1-36.7 1-16.8 1-1.8 1 7.2 1 4.8 1-.1 1-3.6 1-1.8 1 3.7 1 17.5 1 32.5 1 46.5 1 62.3 1 61.9 1 62.5 1 60.5 1 50.2 1 40.5 1 29.4 1 20.7 1 7.1 1-7.4 1-20.9 1-25.6 1-23.2 1-15.5 1-9.8 1-6.3 1-.8 1 1.7 1 2.2 1 2.3 1 3.1 1 4.2 1 3.5 1 3.4"/>
<path stroke="#53ffac" d="M0 440l1-1.2 1-1.1 1-1.1 1-.9 1-1 1-1.2 1-1.5 1-1.2 1-.2 1 .2 1 .4 1 1.9 1 2.4 1 2.7 1 2.3 1 1.3 1 .8 1 .8 1 .8 1 .6 1-.2 1-6 1-12.6 1-19.7 1-28.7 1-27 1-19.8 1-7.6 1-.5 1 2.9 1 2.8 1-.6 1-2 1-1.5 1 3.2 1 7.2 1 14.9 1 15.4 1 22.3 1 23.9 1 18.3 1 9.5 1 3.6 1 .6 1-.2 1-.5 1-.9 1-.9 1-.7 1-.7 1-.6 1-.6 1-.5 1-.5 1-.5 1-.5 1-.4 1-.4 1-.4 1-.3 1-.2 1-.2"/>
<path stroke="#5300ac" d="M0 685l1-17.2 1-20.8 1-23.4 1-24 1-25 1-23.9 1-22.6 1-20.2 1-11.8 1-3.7 1 7.6 1 20.9 1 27.6 1 37.3 1 38.5 1 28.6 1 18.3 1 4.5 1-8.5 1-27.9 1-34.7 1-65.5 1-71.8 1-81.2 1-76.7 1-54.3 1-36.8 1-16.9 1-1.7 1 7.2 1 4.8 1-.1 1-3.6 1-1.8 1 3.6 1 17.5 1 32.6 1 46.7 1 62.5 1 62.1 1 62.6 1 60.7 1 50.3 1 40.6 1 29.5 1 20.7 1 7.1 1-7.3 1-21 1-25.7 1-23.3 1-15.5 1-9.9 1-6.3 1-.8 1 1.7 1 2.2 1 2.3 1 3.1 1 4.1 1 3.6 1 3.4"/>
<path stroke="#5200ad" d="M0 685.5l1-17.3 1-20.8 1-23.5 1-24.1 1-25.1 1-23.9 1-22.7 1-20.3 1-11.9 1-3.7 1 7.7 1 20.9 1 27.7 1 37.4 1 38.8 1 28.7 1 18.3 1 4.5 1-8.4 1-28 1-34.9 1-65.8 1-72 1-81.4 1-76.8 1-54.6 1-36.8 1-16.9 1-1.8 1 7.3 1 4.8 1-.1 1-3.6 1-1.9 1 3.7 1 17.5 1 32.7 1 46.7 1 62.7 1 62.3 1 62.8 1 60.9 1 50.4 1 40.7 1 29.6 1 20.8 1 7.1 1-7.4 1-21 1-25.9 1-23.3 1-15.6 1-9.9 1-6.3 1-.8 1 1.7 1 2.1 1 2.4 1 3.1 1 4.1 1 3.6 1 3.3"/>
<path stroke="#52ffad" d="M0 440l1-1.2 1-1.1 1-1.1 1-.9 1-1 1-1.2 1-1.5 1-1.2 1-.2 1 .2 1 .4 1 1.8 1 2.5 1 2.7 1 2.4 1 1.3 1 .8 1 .8 1 .8 1 .6 1-.2 1-5.9 1-12.7 1-19.9 1-28.7 1-27.1 1-19.8 1-7.5 1-.4 1 2.9 1 2.9 1-.6 1-2.2 1-1.5 1 3.1 1 7.4 1 14.9 1 15.4 1 22.4 1 23.8 1 18.3 1 9.6 1 3.6 1 .6 1-.2 1-.5 1-.9 1-1 1-.7 1-.7 1-.6 1-.6 1-.5 1-.5 1-.5 1-.5 1-.4 1-.4 1-.4 1-.3 1-.2 1-.2"/>
<path stroke="#5000af" d="M0 686.1l1-17.4 1-20.9 1-23.6 1-24.2 1-25.2 1-24 1-22.8 1-20.3 1-11.9 1-3.7 1 7.6 1 21.1 1 27.7 1 37.6 1 38.9 1 28.8 1 18.4 1 4.6 1-8.5 1-28.1 1-35.1 1-65.9 1-72.2 1-81.6 1-77.1 1-54.7 1-37 1-16.9 1-1.8 1 7.4 1 4.8 1-.1 1-3.7 1-1.8 1 3.6 1 17.6 1 32.7 1 46.9 1 62.8 1 62.5 1 63.1 1 61 1 50.5 1 40.8 1 29.7 1 20.8 1 7.1 1-7.4 1-21.1 1-25.9 1-23.4 1-15.7 1-9.9 1-6.3 1-.8 1 1.7 1 2.1 1 2.3 1 3.1 1 4.2 1 3.6 1 3.3"/>
<path stroke="#50ffaf" d="M0 440l1-1.2 1-1.1 1-1.1 1-.9 1-1 1-1.2 1-1.5 1-1.2 1-.3 1 .2 1 .4 1 1.9 1 2.5 1 2.7 1 2.4 1 1.3 1 .9 1 .8 1 .8 1 .6 1-.1 1-6 1-12.6 1-20.2 1-28.8 1-27.1 1-19.8 1-7.5 1-.3 1 3 1 3 1-.6 1-2.3 1-1.6 1 3.1 1 7.4 1 15 1 15.4 1 22.4 1 23.9 1 18.3 1 9.5 1 3.6 1 .6 1-.2 1-.5 1-.9 1-.9 1-.7 1-.7 1-.6 1-.6 1-.6 1-.5 1-.5 1-.5 1-.4 1-.4 1-.4 1-.3 1-.2 1-.2"/>
<path stroke="#4f00b0" d="M0 686.6l1-17.4 1-21 1-23.7 1-24.3 1-25.2 1-24.2 1-22.8 1-20.4 1-11.9 1-3.8 1 7.7 1 21.1 1 27.8 1 37.8 1 39.1 1 28.9 1 18.5 1 4.6 1-8.5 1-28.2 1-35.3 1-66.2 1-72.4 1-81.8 1-77.3 1-54.8 1-37.1 1-17 1-1.7 1 7.3 1 4.9 1-.1 1-3.7 1-1.8 1 3.6 1 17.6 1 32.8 1 47 1 63 1 62.6 1 63.3 1 61.2 1 50.6 1 40.9 1 29.8 1 20.8 1 7.1 1-7.4 1-21.2 1-26 1-23.5 1-15.6 1-10 1-6.3 1-.8 1 1.7 1 2.1 1 2.3 1 3.1 1 4.2 1 3.5 1 3.4"/>
<path stroke="#4e00b1" d="M0 687.1l1-17.5 1-21 1-23.8 1-24.4 1-25.3 1-24.2 1-22.9 1-20.5 1-12 1-3.7 1 7.7 1 21.1 1 28 1 37.9 1 39.2 1 29 1 18.6 1 4.6 1-8.5 1-28.3 1-35.4 1-66.5 1-72.5 1-82.1 1-77.5 1-54.9 1-37.2 1-17 1-1.8 1 7.4 1 4.9 1-.1 1-3.7 1-1.9 1 3.7 1 17.6 1 32.8 1 47.2 1 63.1 1 62.8 1 63.5 1 61.4 1 50.7 1 41 1 29.8 1 20.9 1 7.2 1-7.5 1-21.2 1-26.1 1-23.6 1-15.7 1-10 1-6.3 1-.8 1 1.6 1 2.2 1 2.3 1 3.1 1 4.1 1 3.6 1 3.4"/>
<path stroke="#4effb1" d="M0 440.1l1-1.2 1-1.2 1-1 1-1 1-1 1-1.2 1-1.5 1-1.2 1-.3 1 .2 1 .4 1 1.9 1 2.5 1 2.8 1 2.4 1 1.3 1 .8 1 .9 1 .8 1 .6 1-.1 1-5.9 1-12.7 1-20.4 1-28.8 1-27.2 1-19.8 1-7.4 1-.2 1 3 1 3.1 1-.7 1-2.3 1-1.7 1 3.1 1 7.4 1 15.1 1 15.4 1 22.5 1 23.9 1 18.3 1 9.5 1 3.6 1 .6 1-.2 1-.5 1-.9 1-1 1-.7 1-.7 1-.6 1-.6 1-.6 1-.5 1-.5 1-.5 1-.4 1-.4 1-.4 1-.3 1-.2 1-.2"/>
<path stroke="#4d00b2" d="M0 687.7l1-17.6 1-21.2 1-23.9 1-24.4 1-25.4 1-24.3 1-23 1-20.5 1-12 1-3.8 1 7.7 1 21.3 1 28 1 38 1 39.4 1 29.2 1 18.6 1 4.7 1-8.6 1-28.4 1-35.5 1-66.8 1-72.7 1-82.2 1-77.7 1-55.1 1-37.3 1-17.1 1-1.7 1 7.4 1 4.9 1-.1 1-3.7 1-1.9 1 3.7 1 17.6 1 32.9 1 47.3 1 63.2 1 63 1 63.7 1 61.6 1 50.8 1 41.1 1 29.9 1 21 1 7.1 1-7.5 1-21.3 1-26.2 1-23.6 1-15.8 1-10 1-6.3 1-.9 1 1.7 1 2.1 1 2.3 1 3.1 1 4.2 1 3.6 1 3.3"/>
<path stroke="#4dffb2" d="M0 440.1l1-1.2 1-1.2 1-1 1-1 1-1 1-1.2 1-1.5 1-1.3 1-.2 1 .2 1 .4 1 1.9 1 2.6 1 2.7 1 2.4 1 1.3 1 .9 1 .9 1 .8 1 .7 1-.2 1-5.9 1-12.7 1-20.5 1-28.9 1-27.3 1-19.7 1-7.4 1-.2 1 3.1 1 3.1 1-.6 1-2.4 1-1.8 1 3.1 1 7.4 1 15.2 1 15.5 1 22.4 1 23.9 1 18.3 1 9.5 1 3.6 1 .6 1-.2 1-.5 1-.9 1-.9 1-.8 1-.7 1-.6 1-.6 1-.5 1-.6 1-.5 1-.5 1-.4 1-.4 1-.4 1-.3 1-.2 1-.2"/>
<path stroke="#4c00b3" d="M0 688.2l1-17.7 1-21.2 1-24 1-24.5 1-25.5 1-24.4 1-23 1-20.6 1-12 1-3.8 1 7.7 1 21.3 1 28.1 1 38.2 1 39.6 1 29.2 1 18.7 1 4.8 1-8.7 1-28.4 1-35.8 1-67 1-72.9 1-82.4 1-77.9 1-55.2 1-37.4 1-17.1 1-1.8 1 7.5 1 4.9 1-.1 1-3.7 1-1.9 1 3.7 1 17.6 1 33 1 47.4 1 63.4 1 63.2 1 63.8 1 61.8 1 50.9 1 41.2 1 30 1 21 1 7.1 1-7.5 1-21.3 1-26.3 1-23.7 1-15.9 1-10 1-6.3 1-.9 1 1.7 1 2.1 1 2.3 1 3.1 1 4.2 1 3.5 1 3.4"/>
<path stroke="#4b00b4" d="M0 688.7l1-17.7 1-21.3 1-24.1 1-24.7 1-25.5 1-24.4 1-23.1 1-20.7 1-12 1-3.8 1 7.7 1 21.3 1 28.2 1 38.4 1 39.7 1 29.4 1 18.8 1 4.7 1-8.6 1-28.6 1-35.9 1-67.3 1-73 1-82.6 1-78.1 1-55.4 1-37.5 1-17.2 1-1.7 1 7.5 1 4.9 1 0 1-3.8 1-1.9 1 3.6 1 17.7 1 33.1 1 47.5 1 63.5 1 63.4 1 64 1 61.9 1 51.1 1 41.3 1 30 1 21.1 1 7.2 1-7.6 1-21.4 1-26.4 1-23.8 1-15.8 1-10.1 1-6.3 1-.9 1 1.7 1 2.1 1 2.3 1 3.1 1 4.1 1 3.6 1 3.4"/>
<path stroke="#4bffb4" d="M0 440.2l1-1.3 1-1.1 1-1.1 1-1 1-1 1-1.2 1-1.6 1-1.2 1-.3 1 .2 1 .5 1 1.9 1 2.6 1 2.7 1 2.4 1 1.4 1 .9 1 .9 1 .8 1 .7 1-.1 1-5.9 1-12.8 1-20.7 1-29 1-27.2 1-19.8 1-7.3 1-.1 1 3.2 1 3.1 1-.7 1-2.4 1-1.8 1 3 1 7.5 1 15.2 1 15.5 1 22.5 1 23.9 1 18.3 1 9.5 1 3.6 1 .6 1-.2 1-.5 1-.9 1-1 1-.7 1-.7 1-.7 1-.6 1-.5 1-.5 1-.6 1-.5 1-.4 1-.4 1-.4 1-.3 1-.2 1-.2"/>
<path stroke="#4a00b5" d="M0 689.3l1-17.9 1-21.4 1-24.1 1-24.8 1-25.6 1-24.5 1-23.2 1-20.7 1-12.1 1-3.8 1 7.7 1 21.5 1 28.2 1 38.6 1 39.8 1 29.5 1 18.9 1 4.8 1-8.7 1-28.7 1-36 1-67.6 1-73.2 1-82.8 1-78.3 1-55.5 1-37.6 1-17.2 1-1.7 1 7.5 1 4.9 1 0 1-3.8 1-1.9 1 3.6 1 17.7 1 33.1 1 47.7 1 63.7 1 63.5 1 64.3 1 62 1 51.2 1 41.4 1 30.1 1 21.1 1 7.2 1-7.6 1-21.5 1-26.4 1-23.9 1-15.9 1-10.1 1-6.4 1-.8 1 1.7 1 2.1 1 2.2 1 3.1 1 4.2 1 3.6 1 3.4"/>
<path stroke="#49ffb6" d="M0 440.2l1-1.2 1-1.2 1-1.1 1-1 1-1 1-1.2 1-1.6 1-1.2 1-.3 1 .2 1 .4 1 2 1 2.6 1 2.7 1 2.5 1 1.4 1 .9 1 .8 1 .9 1 .7 1-.1 1-5.9 1-12.7 1-21 1-29 1-27.3 1-19.8 1-7.3 1 0 1 3.3 1 3.2 1-.7 1-2.5 1-1.9 1 3 1 7.5 1 15.2 1 15.6 1 22.5 1 23.9 1 18.4 1 9.5 1 3.5 1 .7 1-.2 1-.5 1-1 1-.9 1-.8 1-.7 1-.6 1-.6 1-.6 1-.5 1-.5 1-.6 1-.4 1-.4 1-.4 1-.3 1-.2 1-.2"/>
<path stroke="#4900b6" d="M0 689.8l1-17.9 1-21.5 1-24.3 1-24.8 1-25.7 1-24.6 1-23.2 1-20.8 1-12.1 1-3.8 1 7.7 1 21.5 1 28.4 1 38.6 1 40.1 1 29.6 1 18.9 1 4.8 1-8.7 1-28.7 1-36.3 1-67.8 1-73.3 1-83 1-78.5 1-55.7 1-37.7 1-17.2 1-1.7 1 7.5 1 5 1-.1 1-3.7 1-2 1 3.6 1 17.7 1 33.2 1 47.8 1 63.8 1 63.8 1 64.4 1 62.2 1 51.3 1 41.5 1 30.1 1 21.2 1 7.2 1-7.6 1-21.6 1-26.5 1-23.9 1-16 1-10.1 1-6.4 1-.8 1 1.6 1 2.1 1 2.3 1 3.1 1 4.1 1 3.6 1 3.4"/>
<path stroke="#4700b8" d="M0 690.3l1-18 1-21.5 1-24.4 1-24.9 1-25.8 1-24.6 1-23.4 1-20.7 1-12.2 1-3.9 1 7.8 1 21.6 1 28.4 1 38.8 1 40.2 1 29.7 1 19 1 4.9 1-8.7 1-28.9 1-36.4 1-68.1 1-73.5 1-83.2 1-78.7 1-55.8 1-37.8 1-17.3 1-1.7 1 7.6 1 5 1 0 1-3.8 1-2 1 3.7 1 17.6 1 33.3 1 47.9 1 64 1 63.9 1 64.6 1 62.4 1 51.4 1 41.6 1 30.2 1 21.2 1 7.2 1-7.6 1-21.6 1-26.6 1-24.1 1-16 1-10.1 1-6.4 1-.8 1 1.6 1 2.1 1 2.3 1 3 1 4.2 1 3.6 1 3.4"/>
<path stroke="#47ffb8" d="M0 440.2l1-1.2 1-1.2 1-1.1 1-1 1-1 1-1.2 1-1.6 1-1.3 1-.2 1 .2 1 .4 1 2 1 2.6 1 2.8 1 2.4 1 1.4 1 .9 1 .9 1 .9 1 .7 1-.1 1-5.8 1-12.8 1-21.2 1-29 1-27.4 1-19.8 1-7.2 1 .1 1 3.3 1 3.3 1-.7 1-2.6 1-2 1 3 1 7.5 1 15.3 1 15.6 1 22.6 1 23.9 1 18.4 1 9.4 1 3.6 1 .6 1-.2 1-.5 1-.9 1-1 1-.7 1-.7 1-.7 1-.6 1-.6 1-.5 1-.5 1-.5 1-.5 1-.4 1-.4 1-.3 1-.2 1-.2"/>
<path stroke="#4600b9" d="M0 690.8l1-18 1-21.7 1-24.4 1-25 1-25.8 1-24.8 1-23.4 1-20.8 1-12.2 1-3.9 1 7.8 1 21.6 1 28.5 1 39 1 40.3 1 29.8 1 19.2 1 4.8 1-8.7 1-29 1-36.5 1-68.4 1-73.6 1-83.4 1-78.9 1-56 1-37.9 1-17.3 1-1.7 1 7.7 1 5 1-.1 1-3.8 1-2 1 3.7 1 17.7 1 33.3 1 48 1 64.2 1 64 1 64.8 1 62.6 1 51.5 1 41.7 1 30.2 1 21.3 1 7.2 1-7.6 1-21.7 1-26.7 1-24.1 1-16.1 1-10.1 1-6.4 1-.9 1 1.7 1 2.1 1 2.2 1 3.1 1 4.2 1 3.6 1 3.4"/>
<path stroke="#46ffb9" d="M0 440.3l1-1.3 1-1.2 1-1.1 1-1 1-1 1-1.2 1-1.6 1-1.3 1-.2 1 .2 1 .4 1 2 1 2.6 1 2.8 1 2.5 1 1.4 1 .9 1 .9 1 .9 1 .7 1-.1 1-5.7 1-12.9 1-21.4 1-29 1-27.4 1-19.8 1-7.2 1 .1 1 3.4 1 3.4 1-.8 1-2.7 1-2 1 3 1 7.6 1 15.3 1 15.7 1 22.5 1 24 1 18.3 1 9.5 1 3.5 1 .7 1-.2 1-.5 1-1 1-.9 1-.8 1-.7 1-.7 1-.6 1-.5 1-.6 1-.5 1-.5 1-.5 1-.4 1-.4 1-.3 1-.2 1-.2"/>
<path stroke="#4500ba" d="M0 691.3l1-18.1 1-21.7 1-24.5 1-25.1 1-25.9 1-24.9 1-23.4 1-20.9 1-12.3 1-3.8 1 7.7 1 21.7 1 28.6 1 39.2 1 40.4 1 30 1 19.2 1 4.9 1-8.8 1-29.1 1-36.7 1-68.6 1-73.8 1-83.6 1-79.1 1-56.1 1-38 1-17.3 1-1.7 1 7.7 1 5 1-.1 1-3.8 1-2 1 3.7 1 17.7 1 33.4 1 48.2 1 64.2 1 64.2 1 65 1 62.8 1 51.6 1 41.8 1 30.3 1 21.3 1 7.2 1-7.7 1-21.7 1-26.8 1-24.1 1-16.1 1-10.2 1-6.4 1-.9 1 1.7 1 2.1 1 2.2 1 3.1 1 4.1 1 3.6 1 3.4"/>
<path stroke="#4400bb" d="M0 691.8l1-18.1 1-21.8 1-24.7 1-25.1 1-26 1-24.9 1-23.6 1-20.9 1-12.3 1-3.9 1 7.8 1 21.8 1 28.7 1 39.2 1 40.7 1 30 1 19.3 1 4.9 1-8.8 1-29.2 1-36.8 1-68.9 1-73.9 1-83.8 1-79.3 1-56.2 1-38.1 1-17.4 1-1.7 1 7.7 1 5 1 0 1-3.8 1-2 1 3.6 1 17.7 1 33.5 1 48.3 1 64.4 1 64.4 1 65.2 1 62.9 1 51.7 1 41.8 1 30.4 1 21.3 1 7.3 1-7.7 1-21.8 1-26.8 1-24.3 1-16.1 1-10.2 1-6.5 1-.8 1 1.7 1 2 1 2.3 1 3 1 4.2 1 3.6 1 3.4"/>
<path stroke="#44ffbb" d="M0 440.3l1-1.2 1-1.2 1-1.2 1-1 1-1 1-1.2 1-1.6 1-1.3 1-.3 1 .2 1 .5 1 2 1 2.6 1 2.8 1 2.5 1 1.5 1 .9 1 .9 1 .9 1 .7 1 0 1-5.8 1-12.9 1-21.6 1-29.1 1-27.4 1-19.8 1-7.1 1 .1 1 3.5 1 3.4 1-.7 1-2.8 1-2.1 1 3 1 7.6 1 15.4 1 15.7 1 22.6 1 23.9 1 18.4 1 9.4 1 3.6 1 .6 1-.2 1-.5 1-.9 1-1 1-.8 1-.7 1-.6 1-.7 1-.5 1-.6 1-.5 1-.5 1-.5 1-.4 1-.4 1-.3 1-.2 1-.2"/>
<path stroke="#4300bc" d="M0 692.4l1-18.3 1-21.9 1-24.7 1-25.2 1-26.1 1-25 1-23.6 1-21 1-12.3 1-3.9 1 7.8 1 21.8 1 28.8 1 39.4 1 40.8 1 30.1 1 19.4 1 4.9 1-8.8 1-29.2 1-37 1-69.2 1-74.1 1-84 1-79.5 1-56.3 1-38.2 1-17.4 1-1.7 1 7.7 1 5.1 1-.1 1-3.8 1-2 1 3.6 1 17.8 1 33.5 1 48.4 1 64.6 1 64.5 1 65.4 1 63.1 1 51.8 1 41.9 1 30.4 1 21.4 1 7.3 1-7.7 1-21.9 1-26.9 1-24.3 1-16.2 1-10.2 1-6.5 1-.8 1 1.6 1 2.1 1 2.2 1 3.1 1 4.2 1 3.6 1 3.4"/>
<path stroke="#42ffbd" d="M0 440.4l1-1.3 1-1.2 1-1.1 1-1.1 1-1 1-1.3 1-1.6 1-1.2 1-.3 1 .2 1 .4 1 2 1 2.7 1 2.8 1 2.6 1 1.4 1 1 1 .9 1 .9 1 .7 1 0 1-5.7 1-12.9 1-21.8 1-29.2 1-27.4 1-19.8 1-7.1 1 .2 1 3.5 1 3.5 1-.8 1-2.8 1-2.2 1 3 1 7.6 1 15.5 1 15.8 1 22.5 1 24 1 18.4 1 9.4 1 3.5 1 .7 1-.2 1-.5 1-1 1-1 1-.7 1-.7 1-.7 1-.6 1-.6 1-.6 1-.5 1-.5 1-.5 1-.4 1-.4 1-.3 1-.2 1-.2"/>
<path stroke="#4200bd" d="M0 692.9l1-18.3 1-22 1-24.8 1-25.3 1-26.2 1-25.1 1-23.6 1-21.1 1-12.3 1-4 1 7.9 1 21.8 1 28.9 1 39.6 1 40.9 1 30.3 1 19.4 1 5 1-8.9 1-29.3 1-37.2 1-69.4 1-74.2 1-84.2 1-79.7 1-56.5 1-38.3 1-17.4 1-1.7 1 7.8 1 5 1 0 1-3.8 1-2.1 1 3.6 1 17.8 1 33.6 1 48.5 1 64.7 1 64.8 1 65.5 1 63.2 1 52 1 42 1 30.4 1 21.5 1 7.3 1-7.8 1-21.9 1-27 1-24.4 1-16.2 1-10.2 1-6.5 1-.9 1 1.7 1 2.1 1 2.2 1 3 1 4.2 1 3.6 1 3.4"/>
<path stroke="#4100be" d="M0 693.4l1-18.4 1-22.1 1-24.8 1-25.4 1-26.3 1-25.1 1-23.8 1-21.1 1-12.3 1-4 1 7.8 1 22 1 28.9 1 39.7 1 41.1 1 30.4 1 19.5 1 5 1-8.9 1-29.4 1-37.3 1-69.7 1-74.4 1-84.4 1-79.8 1-56.7 1-38.3 1-17.5 1-1.7 1 7.8 1 5.1 1-.1 1-3.8 1-2.1 1 3.7 1 17.8 1 33.7 1 48.6 1 64.8 1 64.9 1 65.7 1 63.4 1 52.1 1 42.1 1 30.5 1 21.5 1 7.3 1-7.8 1-22 1-27.1 1-24.4 1-16.3 1-10.2 1-6.5 1-.9 1 1.7 1 2 1 2.2 1 3.1 1 4.2 1 3.6 1 3.4"/>
<path stroke="#41ffbe" d="M0 440.4l1-1.3 1-1.2 1-1.1 1-1.1 1-1 1-1.3 1-1.6 1-1.3 1-.2 1 .2 1 .4 1 2 1 2.7 1 2.9 1 2.5 1 1.5 1 1 1 .9 1 .9 1 .7 1 0 1-5.7 1-12.9 1-22 1-29.2 1-27.5 1-19.8 1-7 1 .2 1 3.6 1 3.6 1-.8 1-2.9 1-2.2 1 2.9 1 7.7 1 15.5 1 15.8 1 22.6 1 24 1 18.3 1 9.5 1 3.5 1 .7 1-.3 1-.5 1-.9 1-1 1-.8 1-.7 1-.7 1-.6 1-.6 1-.5 1-.6 1-.5 1-.5 1-.4 1-.4 1-.3 1-.2 1-.2"/>
<path stroke="#3f00c0" d="M0 693.9l1-18.5 1-22.1 1-25 1-25.5 1-26.3 1-25.2 1-23.8 1-21.2 1-12.4 1-3.9 1 7.8 1 22 1 29.1 1 39.8 1 41.2 1 30.5 1 19.6 1 5.1 1-9 1-29.5 1-37.5 1-69.8 1-74.6 1-84.6 1-80 1-56.8 1-38.5 1-17.5 1-1.7 1 7.9 1 5.1 1-.1 1-3.9 1-2 1 3.6 1 17.8 1 33.8 1 48.7 1 65 1 65 1 65.9 1 63.6 1 52.2 1 42.1 1 30.6 1 21.5 1 7.3 1-7.7 1-22.1 1-27.2 1-24.5 1-16.3 1-10.2 1-6.5 1-.9 1 1.6 1 2.1 1 2.2 1 3.1 1 4.1 1 3.7 1 3.4"/>
<path stroke="#3fffc0" d="M0 440.4l1-1.3 1-1.2 1-1.1 1-1.1 1-1 1-1.3 1-1.6 1-1.3 1-.3 1 .2 1 .5 1 2 1 2.7 1 2.9 1 2.6 1 1.4 1 1 1 1 1 .9 1 .8 1-.1 1-5.6 1-13 1-22.2 1-29.2 1-27.5 1-19.8 1-7.1 1 .4 1 3.7 1 3.6 1-.8 1-3 1-2.3 1 2.9 1 7.7 1 15.6 1 15.8 1 22.6 1 24 1 18.4 1 9.4 1 3.5 1 .7 1-.2 1-.5 1-1 1-1 1-.8 1-.7 1-.7 1-.6 1-.6 1-.5 1-.6 1-.5 1-.5 1-.4 1-.4 1-.3 1-.2 1-.2"/>
<path stroke="#3e00c1" d="M0 694.4l1-18.5 1-22.3 1-25 1-25.6 1-26.4 1-25.3 1-23.8 1-21.2 1-12.5 1-4 1 7.9 1 22.1 1 29.1 1 40 1 41.4 1 30.6 1 19.6 1 5.1 1-8.9 1-29.7 1-37.6 1-70.1 1-74.8 1-84.7 1-80.3 1-56.9 1-38.5 1-17.6 1-1.7 1 7.9 1 5.1 1 0 1-3.9 1-2.1 1 3.7 1 17.8 1 33.8 1 48.8 1 65.1 1 65.3 1 66.1 1 63.7 1 52.2 1 42.3 1 30.6 1 21.6 1 7.3 1-7.8 1-22.1 1-27.2 1-24.6 1-16.4 1-10.3 1-6.5 1-.8 1 1.6 1 2.1 1 2.2 1 3 1 4.2 1 3.6 1 3.4"/>
<path stroke="#3d00c2" d="M0 694.9l1-18.6 1-22.3 1-25.1 1-25.7 1-26.5 1-25.3 1-24 1-21.2 1-12.5 1-4 1 7.9 1 22.1 1 29.2 1 40.1 1 41.6 1 30.7 1 19.7 1 5.1 1-8.9 1-29.8 1-37.8 1-70.3 1-74.9 1-85 1-80.4 1-57 1-38.7 1-17.6 1-1.6 1 7.8 1 5.2 1-.1 1-3.8 1-2.1 1 3.6 1 17.8 1 33.9 1 49 1 65.2 1 65.4 1 66.3 1 63.9 1 52.3 1 42.4 1 30.6 1 21.6 1 7.4 1-7.8 1-22.2 1-27.3 1-24.7 1-16.4 1-10.3 1-6.5 1-.9 1 1.7 1 2 1 2.2 1 3.1 1 4.2 1 3.6 1 3.4"/>
<path stroke="#3dffc2" d="M0 440.5l1-1.3 1-1.3 1-1.1 1-1.1 1-1 1-1.3 1-1.6 1-1.3 1-.3 1 .2 1 .5 1 2 1 2.7 1 2.9 1 2.6 1 1.5 1 1 1 1 1 .9 1 .8 1 0 1-5.7 1-13 1-22.4 1-29.2 1-27.6 1-19.8 1-7 1 .4 1 3.8 1 3.6 1-.8 1-3.1 1-2.3 1 2.9 1 7.8 1 15.7 1 15.8 1 22.6 1 24 1 18.4 1 9.4 1 3.5 1 .7 1-.2 1-.6 1-.9 1-1 1-.8 1-.8 1-.6 1-.7 1-.5 1-.6 1-.6 1-.5 1-.5 1-.4 1-.4 1-.3 1-.2 1-.2"/>
<path stroke="#3c00c3" d="M0 695.4l1-18.7 1-22.4 1-25.2 1-25.7 1-26.6 1-25.4 1-24 1-21.3 1-12.5 1-4 1 7.8 1 22.2 1 29.3 1 40.3 1 41.7 1 30.8 1 19.8 1 5.1 1-8.9 1-29.9 1-37.9 1-70.6 1-75.1 1-85.1 1-80.6 1-57.2 1-38.7 1-17.7 1-1.6 1 7.9 1 5.2 1-.1 1-3.9 1-2.1 1 3.6 1 17.9 1 33.9 1 49.1 1 65.4 1 65.6 1 66.4 1 64.1 1 52.4 1 42.4 1 30.8 1 21.6 1 7.4 1-7.9 1-22.2 1-27.4 1-24.7 1-16.4 1-10.4 1-6.5 1-.9 1 1.7 1 2 1 2.2 1 3 1 4.2 1 3.6 1 3.5"/>
<path stroke="#3bffc4" d="M0 440.5l1-1.3 1-1.2 1-1.2 1-1 1-1.1 1-1.3 1-1.6 1-1.3 1-.3 1 .2 1 .4 1 2.1 1 2.7 1 2.9 1 2.7 1 1.5 1 1 1 1 1 .9 1 .8 1 0 1-5.6 1-13 1-22.6 1-29.4 1-27.5 1-19.8 1-7 1 .5 1 3.8 1 3.7 1-.8 1-3.2 1-2.4 1 2.9 1 7.8 1 15.8 1 15.8 1 22.6 1 24 1 18.4 1 9.4 1 3.5 1 .7 1-.2 1-.5 1-1 1-1 1-.8 1-.7 1-.7 1-.6 1-.6 1-.6 1-.5 1-.6 1-.4 1-.5 1-.4 1-.3 1-.2 1-.2"/>
<path stroke="#3b00c4" d="M0 695.9l1-18.7 1-22.5 1-25.3 1-25.8 1-26.7 1-25.5 1-24 1-21.4 1-12.6 1-4 1 7.9 1 22.3 1 29.3 1 40.5 1 41.8 1 30.9 1 19.9 1 5.2 1-9 1-29.9 1-38.1 1-70.9 1-75.2 1-85.3 1-80.8 1-57.3 1-38.9 1-17.6 1-1.7 1 8 1 5.2 1-.1 1-3.9 1-2.1 1 3.6 1 17.8 1 34.1 1 49.2 1 65.5 1 65.7 1 66.6 1 64.2 1 52.6 1 42.5 1 30.8 1 21.7 1 7.3 1-7.8 1-22.4 1-27.4 1-24.8 1-16.4 1-10.4 1-6.5 1-.9 1 1.6 1 2.1 1 2.1 1 3.1 1 4.2 1 3.6 1 3.4"/>
<path stroke="#3a00c5" d="M0 696.4l1-18.8 1-22.6 1-25.4 1-25.8 1-26.8 1-25.5 1-24.2 1-21.4 1-12.6 1-4 1 7.9 1 22.3 1 29.5 1 40.5 1 42 1 31 1 20 1 5.2 1-9 1-30 1-38.3 1-71.1 1-75.4 1-85.5 1-80.9 1-57.5 1-38.9 1-17.7 1-1.7 1 8 1 5.2 1 0 1-4 1-2.1 1 3.7 1 17.8 1 34.1 1 49.3 1 65.7 1 65.9 1 66.8 1 64.3 1 52.7 1 42.5 1 30.9 1 21.7 1 7.4 1-7.9 1-22.4 1-27.5 1-24.8 1-16.5 1-10.4 1-6.6 1-.8 1 1.6 1 2 1 2.2 1 3 1 4.2 1 3.7 1 3.4"/>
<path stroke="#3affc5" d="M0 440.5l1-1.3 1-1.2 1-1.2 1-1 1-1.1 1-1.3 1-1.6 1-1.4 1-.2 1 .2 1 .4 1 2.1 1 2.7 1 3 1 2.6 1 1.5 1 1.1 1 1 1 .9 1 .8 1 0 1-5.6 1-13 1-22.8 1-29.4 1-27.6 1-19.8 1-6.9 1 .5 1 3.9 1 3.8 1-.9 1-3.2 1-2.5 1 2.9 1 7.9 1 15.8 1 15.8 1 22.7 1 24 1 18.4 1 9.4 1 3.5 1 .7 1-.2 1-.6 1-.9 1-1 1-.8 1-.8 1-.7 1-.6 1-.6 1-.6 1-.5 1-.6 1-.4 1-.5 1-.4 1-.3 1-.2 1-.2"/>
<path stroke="#3900c6" d="M0 696.9l1-18.9 1-22.6 1-25.5 1-26 1-26.8 1-25.6 1-24.2 1-21.5 1-12.6 1-4 1 7.9 1 22.4 1 29.5 1 40.7 1 42.1 1 31.2 1 20 1 5.2 1-9 1-30.1 1-38.4 1-71.4 1-75.5 1-85.7 1-81.1 1-57.6 1-39 1-17.8 1-1.6 1 8 1 5.2 1-.1 1-3.9 1-2.1 1 3.6 1 17.9 1 34.1 1 49.5 1 65.8 1 66 1 67 1 64.5 1 52.7 1 42.7 1 30.9 1 21.8 1 7.4 1-8 1-22.4 1-27.6 1-24.9 1-16.5 1-10.4 1-6.6 1-.9 1 1.7 1 2 1 2.2 1 3 1 4.2 1 3.6 1 3.5"/>
<path stroke="#38ffc7" d="M0 440.6l1-1.3 1-1.3 1-1.2 1-1 1-1.1 1-1.3 1-1.7 1-1.3 1-.3 1 .2 1 .5 1 2.1 1 2.7 1 3 1 2.6 1 1.6 1 1 1 1 1 1 1 .8 1 0 1-5.5 1-13.1 1-23 1-29.4 1-27.6 1-19.8 1-6.9 1 .5 1 4 1 3.9 1-.9 1-3.3 1-2.5 1 2.8 1 7.9 1 15.9 1 15.9 1 22.6 1 24.1 1 18.4 1 9.3 1 3.5 1 .7 1-.2 1-.5 1-1 1-1 1-.8 1-.8 1-.6 1-.7 1-.6 1-.5 1-.6 1-.5 1-.5 1-.5 1-.4 1-.3 1-.2 1-.2"/>
<path stroke="#3800c7" d="M0 697.4l1-19 1-22.7 1-25.5 1-26.1 1-26.9 1-25.7 1-24.2 1-21.6 1-12.6 1-4.1 1 7.9 1 22.5 1 29.6 1 40.9 1 42.2 1 31.3 1 20.1 1 5.2 1-9 1-30.2 1-38.6 1-71.6 1-75.7 1-85.8 1-81.4 1-57.6 1-39.2 1-17.8 1-1.6 1 8 1 5.3 1-.1 1-3.9 1-2.2 1 3.7 1 17.9 1 34.2 1 49.5 1 65.9 1 66.3 1 67.1 1 64.7 1 52.8 1 42.8 1 30.9 1 21.8 1 7.4 1-7.9 1-22.5 1-27.7 1-24.9 1-16.6 1-10.4 1-6.6 1-.9 1 1.6 1 2.1 1 2.1 1 3.1 1 4.1 1 3.7 1 3.4"/>
<path stroke="#3600c9" d="M0 697.9l1-19 1-22.8 1-25.7 1-26.1 1-26.9 1-25.8 1-24.4 1-21.5 1-12.7 1-4.1 1 7.9 1 22.6 1 29.6 1 41 1 42.5 1 31.3 1 20.2 1 5.3 1-9.2 1-30.2 1-38.7 1-71.9 1-75.8 1-86 1-81.6 1-57.8 1-39.2 1-17.8 1-1.7 1 8.1 1 5.3 1-.1 1-3.9 1-2.2 1 3.6 1 17.9 1 34.3 1 49.7 1 66 1 66.4 1 67.3 1 64.9 1 52.9 1 42.8 1 31 1 21.9 1 7.4 1-8 1-22.5 1-27.7 1-25.1 1-16.6 1-10.5 1-6.5 1-.9 1 1.6 1 2 1 2.2 1 3 1 4.2 1 3.6 1 3.5"/>
<path stroke="#36ffc9" d="M0 440.6l1-1.3 1-1.3 1-1.1 1-1.1 1-1.1 1-1.3 1-1.7 1-1.3 1-.3 1 .2 1 .5 1 2.1 1 2.7 1 3 1 2.7 1 1.5 1 1.1 1 1 1 1 1 .8 1 .1 1-5.6 1-13.1 1-23.2 1-29.4 1-27.6 1-19.9 1-6.8 1 .6 1 4 1 3.9 1-.9 1-3.4 1-2.5 1 2.8 1 8 1 15.9 1 15.9 1 22.7 1 24 1 18.5 1 9.3 1 3.5 1 .7 1-.2 1-.5 1-1 1-1.1 1-.8 1-.7 1-.7 1-.7 1-.6 1-.5 1-.6 1-.5 1-.5 1-.5 1-.4 1-.3 1-.2 1-.2"/>
<path stroke="#3500ca" d="M0 698.4l1-19.1 1-22.9 1-25.7 1-26.2 1-27 1-25.9 1-24.4 1-21.6 1-12.7 1-4.1 1 7.9 1 22.6 1 29.7 1 41.2 1 42.6 1 31.4 1 20.3 1 5.3 1-9.2 1-30.3 1-38.9 1-72.1 1-75.9 1-86.3 1-81.7 1-57.9 1-39.3 1-17.9 1-1.6 1 8.1 1 5.3 1-.1 1-4 1-2.1 1 3.6 1 17.9 1 34.4 1 49.7 1 66.2 1 66.6 1 67.5 1 64.9 1 53.1 1 42.9 1 31 1 21.9 1 7.4 1-7.9 1-22.6 1-27.8 1-25.1 1-16.7 1-10.5 1-6.6 1-.9 1 1.7 1 2 1 2.1 1 3.1 1 4.2 1 3.6 1 3.5"/>
<path stroke="#35ffca" d="M0 440.7l1-1.4 1-1.3 1-1.1 1-1.1 1-1.1 1-1.3 1-1.7 1-1.3 1-.3 1 .2 1 .4 1 2.2 1 2.7 1 3 1 2.7 1 1.6 1 1.1 1 1 1 1 1 .8 1 .1 1-5.5 1-13.1 1-23.4 1-29.5 1-27.7 1-19.8 1-6.8 1 .6 1 4.1 1 4 1-.9 1-3.5 1-2.6 1 2.8 1 8 1 16 1 16 1 22.6 1 24.1 1 18.4 1 9.3 1 3.5 1 .8 1-.3 1-.5 1-1 1-1 1-.8 1-.8 1-.7 1-.6 1-.6 1-.6 1-.6 1-.5 1-.5 1-.5 1-.4 1-.3 1-.2 1-.2"/>
<path stroke="#3400cb" d="M0 698.9l1-19.2 1-22.9 1-25.8 1-26.3 1-27.1 1-26 1-24.4 1-21.7 1-12.8 1-4.1 1 8 1 22.6 1 29.9 1 41.2 1 42.8 1 31.5 1 20.4 1 5.3 1-9.2 1-30.4 1-39 1-72.4 1-76.1 1-86.4 1-81.9 1-58 1-39.4 1-18 1-1.6 1 8.2 1 5.3 1-.1 1-4 1-2.2 1 3.7 1 17.9 1 34.4 1 49.9 1 66.3 1 66.7 1 67.7 1 65.1 1 53.2 1 42.9 1 31.1 1 21.9 1 7.5 1-8 1-22.7 1-27.8 1-25.2 1-16.7 1-10.5 1-6.6 1-.9 1 1.6 1 2 1 2.2 1 3 1 4.2 1 3.7 1 3.4"/>
<path stroke="#3300cc" d="M0 699.4l1-19.3 1-23 1-25.9 1-26.4 1-27.1 1-26.1 1-24.5 1-21.7 1-12.8 1-4.1 1 8 1 22.7 1 29.9 1 41.4 1 42.9 1 31.6 1 20.5 1 5.3 1-9.2 1-30.5 1-39.2 1-72.6 1-76.2 1-86.6 1-82.1 1-58.2 1-39.4 1-18 1-1.6 1 8.1 1 5.4 1-.1 1-4 1-2.2 1 3.6 1 18 1 34.5 1 49.9 1 66.5 1 66.9 1 67.8 1 65.3 1 53.2 1 43.1 1 31.1 1 22 1 7.4 1-8 1-22.7 1-27.9 1-25.3 1-16.7 1-10.5 1-6.6 1-.9 1 1.6 1 2 1 2.1 1 3.1 1 4.2 1 3.6 1 3.5"/>
<path stroke="#33ffcc" d="M0 440.7l1-1.4 1-1.2 1-1.2 1-1.1 1-1.1 1-1.3 1-1.7 1-1.4 1-.2 1 .2 1 .4 1 2.1 1 2.8 1 3.1 1 2.7 1 1.5 1 1.1 1 1.1 1 1 1 .8 1 .1 1-5.5 1-13.1 1-23.6 1-29.5 1-27.7 1-19.9 1-6.7 1 .7 1 4.1 1 4.1 1-1 1-3.5 1-2.7 1 2.8 1 8 1 16.1 1 16 1 22.7 1 24.1 1 18.4 1 9.3 1 3.5 1 .7 1-.2 1-.5 1-1.1 1-1 1-.8 1-.8 1-.7 1-.6 1-.6 1-.6 1-.6 1-.5 1-.5 1-.5 1-.4 1-.3 1-.2 1-.2"/>
<path stroke="#3200cd" d="M0 699.8l1-19.2 1-23.2 1-25.9 1-26.5 1-27.2 1-26.1 1-24.6 1-21.8 1-12.8 1-4.1 1 7.9 1 22.8 1 30 1 41.6 1 43 1 31.7 1 20.5 1 5.4 1-9.2 1-30.6 1-39.3 1-72.9 1-76.4 1-86.7 1-82.3 1-58.3 1-39.6 1-18 1-1.6 1 8.2 1 5.4 1-.1 1-4 1-2.2 1 3.6 1 18 1 34.5 1 50.1 1 66.6 1 67 1 68 1 65.5 1 53.3 1 43.1 1 31.2 1 22 1 7.5 1-8 1-22.8 1-28 1-25.3 1-16.8 1-10.5 1-6.7 1-.9 1 1.7 1 2 1 2.1 1 3 1 4.2 1 3.7 1 3.4"/>
<path stroke="#31ffce" d="M0 440.7l1-1.3 1-1.3 1-1.2 1-1.1 1-1.1 1-1.3 1-1.7 1-1.4 1-.3 1 .2 1 .5 1 2.1 1 2.9 1 3 1 2.7 1 1.6 1 1.1 1 1.1 1 1 1 .8 1 .1 1-5.4 1-13.2 1-23.8 1-29.5 1-27.8 1-19.8 1-6.7 1 .7 1 4.2 1 4.1 1-.9 1-3.6 1-2.8 1 2.8 1 8.1 1 16.1 1 16.1 1 22.7 1 24 1 18.5 1 9.3 1 3.4 1 .8 1-.2 1-.6 1-1 1-1 1-.9 1-.7 1-.7 1-.7 1-.6 1-.6 1-.6 1-.5 1-.5 1-.4 1-.5 1-.3 1-.2 1-.2"/>
<path stroke="#3100ce" d="M0 700.3l1-19.3 1-23.2 1-26.1 1-26.5 1-27.3 1-26.2 1-24.6 1-21.9 1-12.8 1-4.2 1 8 1 22.9 1 30 1 41.7 1 43.2 1 31.8 1 20.6 1 5.4 1-9.2 1-30.7 1-39.5 1-73.1 1-76.5 1-86.9 1-82.5 1-58.4 1-39.7 1-18 1-1.6 1 8.2 1 5.4 1-.1 1-4 1-2.2 1 3.6 1 18 1 34.6 1 50.2 1 66.7 1 67.2 1 68.2 1 65.6 1 53.4 1 43.2 1 31.2 1 22.1 1 7.4 1-8 1-22.8 1-28.1 1-25.4 1-16.8 1-10.5 1-6.7 1-.9 1 1.6 1 2 1 2.1 1 3.1 1 4.2 1 3.6 1 3.5"/>
<path stroke="#3000cf" d="M0 700.8l1-19.4 1-23.3 1-26.1 1-26.6 1-27.4 1-26.3 1-24.7 1-21.8 1-12.9 1-4.2 1 8 1 22.9 1 30.2 1 41.8 1 43.3 1 32 1 20.6 1 5.5 1-9.3 1-30.8 1-39.7 1-73.3 1-76.6 1-87.2 1-82.5 1-58.6 1-39.8 1-18 1-1.6 1 8.2 1 5.4 1-.1 1-4 1-2.3 1 3.7 1 18 1 34.7 1 50.3 1 66.8 1 67.3 1 68.4 1 65.7 1 53.5 1 43.3 1 31.3 1 22.1 1 7.5 1-8.1 1-22.9 1-28.1 1-25.4 1-16.9 1-10.6 1-6.6 1-.9 1 1.6 1 2 1 2.1 1 3 1 4.2 1 3.7 1 3.5"/>
<path stroke="#30ffcf" d="M0 440.8l1-1.4 1-1.3 1-1.2 1-1.1 1-1.1 1-1.3 1-1.8 1-1.3 1-.3 1 .2 1 .5 1 2.1 1 2.9 1 3 1 2.7 1 1.6 1 1.2 1 1.1 1 1 1 .8 1 .2 1-5.5 1-13.2 1-24 1-29.5 1-27.8 1-19.8 1-6.7 1 .8 1 4.2 1 4.2 1-1 1-3.6 1-2.8 1 2.7 1 8.1 1 16.2 1 16.1 1 22.7 1 24.1 1 18.4 1 9.3 1 3.5 1 .7 1-.2 1-.5 1-1.1 1-1 1-.8 1-.8 1-.7 1-.7 1-.6 1-.6 1-.5 1-.6 1-.5 1-.4 1-.4 1-.4 1-.2 1-.2"/>
<path stroke="#2e00d1" d="M0 701.3l1-19.5 1-23.3 1-26.3 1-26.7 1-27.4 1-26.3 1-24.8 1-21.9 1-12.9 1-4.2 1 8 1 22.9 1 30.3 1 41.9 1 43.5 1 32.1 1 20.7 1 5.5 1-9.3 1-30.9 1-39.8 1-73.5 1-76.9 1-87.3 1-82.7 1-58.7 1-39.9 1-18.1 1-1.6 1 8.3 1 5.4 1-.1 1-4 1-2.3 1 3.7 1 18 1 34.7 1 50.4 1 67 1 67.5 1 68.5 1 65.9 1 53.6 1 43.4 1 31.3 1 22.1 1 7.5 1-8.1 1-22.9 1-28.2 1-25.5 1-16.9 1-10.6 1-6.7 1-.9 1 1.7 1 2 1 2.1 1 3 1 4.2 1 3.6 1 3.5"/>
<path stroke="#2effd1" d="M0 440.8l1-1.4 1-1.3 1-1.2 1-1.1 1-1.1 1-1.3 1-1.8 1-1.3 1-.3 1 .2 1 .5 1 2.1 1 2.9 1 3 1 2.8 1 1.6 1 1.2 1 1.1 1 1 1 .8 1 .2 1-5.4 1-13.2 1-24.2 1-29.6 1-27.8 1-19.9 1-6.6 1 .8 1 4.3 1 4.2 1-1 1-3.7 1-2.8 1 2.7 1 8.2 1 16.2 1 16.1 1 22.8 1 24.1 1 18.4 1 9.3 1 3.4 1 .8 1-.2 1-.6 1-1 1-1.1 1-.8 1-.8 1-.7 1-.6 1-.7 1-.5 1-.6 1-.6 1-.5 1-.4 1-.4 1-.4 1-.2 1-.2"/>
<path stroke="#2d00d2" d="M0 701.8l1-19.6 1-23.4 1-26.3 1-26.8 1-27.5 1-26.4 1-24.8 1-22 1-13 1-4.2 1 8.1 1 23 1 30.3 1 42.1 1 43.6 1 32.2 1 20.8 1 5.5 1-9.4 1-31 1-39.9 1-73.7 1-77 1-87.5 1-82.9 1-58.8 1-40 1-18.1 1-1.6 1 8.3 1 5.4 1-.1 1-4 1-2.3 1 3.7 1 18 1 34.8 1 50.5 1 67.1 1 67.7 1 68.7 1 66 1 53.7 1 43.4 1 31.4 1 22.2 1 7.5 1-8.1 1-23 1-28.3 1-25.6 1-16.9 1-10.6 1-6.7 1-.9 1 1.6 1 2 1 2.1 1 3 1 4.2 1 3.7 1 3.5"/>
<path stroke="#2c00d3" d="M0 702.3l1-19.7 1-23.5 1-26.4 1-26.8 1-27.6 1-26.5 1-24.9 1-22 1-13 1-4.2 1 8.1 1 23 1 30.4 1 42.3 1 43.7 1 32.3 1 20.8 1 5.6 1-9.4 1-31.1 1-40 1-74 1-77.2 1-87.6 1-83.1 1-58.9 1-40.1 1-18.1 1-1.6 1 8.3 1 5.4 1 0 1-4.1 1-2.3 1 3.7 1 18 1 34.9 1 50.6 1 67.2 1 67.8 1 68.9 1 66.2 1 53.7 1 43.5 1 31.5 1 22.2 1 7.5 1-8.1 1-23.1 1-28.3 1-25.6 1-17 1-10.6 1-6.7 1-.9 1 1.6 1 2 1 2.1 1 3 1 4.2 1 3.7 1 3.4"/>
<path stroke="#2cffd3" d="M0 440.8l1-1.3 1-1.4 1-1.2 1-1.1 1-1.1 1-1.4 1-1.7 1-1.4 1-.3 1 .3 1 .4 1 2.2 1 2.9 1 3.1 1 2.7 1 1.7 1 1.1 1 1.2 1 1 1 .8 1 .2 1-5.4 1-13.2 1-24.4 1-29.6 1-27.9 1-19.8 1-6.6 1 .9 1 4.3 1 4.3 1-1 1-3.8 1-2.9 1 2.7 1 8.3 1 16.2 1 16.2 1 22.7 1 24.1 1 18.5 1 9.2 1 3.5 1 .7 1-.2 1-.5 1-1.1 1-1 1-.9 1-.7 1-.8 1-.6 1-.6 1-.6 1-.6 1-.6 1-.5 1-.4 1-.4 1-.4 1-.2 1-.2"/>
<path stroke="#2b00d4" d="M0 702.7l1-19.6 1-23.6 1-26.5 1-26.9 1-27.7 1-26.5 1-25 1-22.1 1-13 1-4.2 1 8 1 23.2 1 30.4 1 42.4 1 43.9 1 32.4 1 20.9 1 5.6 1-9.4 1-31.2 1-40.2 1-74.2 1-77.3 1-87.8 1-83.3 1-59.1 1-40.1 1-18.2 1-1.6 1 8.4 1 5.4 1 0 1-4.1 1-2.3 1 3.7 1 18 1 34.9 1 50.8 1 67.3 1 68 1 69 1 66.3 1 53.9 1 43.6 1 31.5 1 22.2 1 7.6 1-8.2 1-23.1 1-28.4 1-25.7 1-17 1-10.6 1-6.7 1-1 1 1.7 1 1.9 1 2.1 1 3 1 4.2 1 3.7 1 3.5"/>
<path stroke="#2affd4" d="M0 440.9l1-1.4 1-1.3 1-1.2 1-1.2 1-1.1 1-1.4 1-1.7 1-1.4 1-.3 1 .2 1 .5 1 2.2 1 2.9 1 3.1 1 2.8 1 1.6 1 1.2 1 1.1 1 1.1 1 .8 1 .2 1-5.4 1-13.2 1-24.6 1-29.6 1-27.9 1-19.8 1-6.6 1 .9 1 4.4 1 4.4 1-1.1 1-3.8 1-3 1 2.7 1 8.3 1 16.4 1 16.1 1 22.8 1 24.1 1 18.5 1 9.2 1 3.4 1 .8 1-.2 1-.6 1-1 1-1.1 1-.8 1-.8 1-.7 1-.7 1-.6 1-.6 1-.6 1-.6 1-.5 1-.4 1-.4 1-.4 1-.2 1-.2"/>
<path stroke="#2a00d5" d="M0 703.2l1-19.7 1-23.7 1-26.6 1-27 1-27.7 1-26.6 1-25 1-22.1 1-13.1 1-4.2 1 8 1 23.2 1 30.6 1 42.5 1 44 1 32.5 1 21 1 5.6 1-9.4 1-31.3 1-40.3 1-74.5 1-77.4 1-88 1-83.5 1-59.1 1-40.2 1-18.3 1-1.6 1 8.4 1 5.5 1-.1 1-4.1 1-2.3 1 3.7 1 18 1 35 1 50.9 1 67.5 1 68.1 1 69.1 1 66.5 1 54 1 43.6 1 31.6 1 22.2 1 7.6 1-8.2 1-23.2 1-28.4 1-25.8 1-17 1-10.7 1-6.7 1-.9 1 1.6 1 2 1 2.1 1 3 1 4.2 1 3.7 1 3.4"/>
<path stroke="#2900d6" d="M0 703.7l1-19.8 1-23.8 1-26.6 1-27.1 1-27.8 1-26.7 1-25.1 1-22.1 1-13.1 1-4.3 1 8.1 1 23.3 1 30.6 1 42.6 1 44.2 1 32.6 1 21.1 1 5.6 1-9.5 1-31.3 1-40.5 1-74.7 1-77.6 1-88.1 1-83.6 1-59.3 1-40.3 1-18.3 1-1.6 1 8.4 1 5.5 1-.1 1-4.1 1-2.3 1 3.7 1 18.1 1 35 1 50.9 1 67.7 1 68.2 1 69.4 1 66.6 1 54 1 43.8 1 31.6 1 22.3 1 7.5 1-8.2 1-23.2 1-28.6 1-25.7 1-17.1 1-10.7 1-6.7 1-.9 1 1.6 1 2 1 2 1 3 1 4.2 1 3.7 1 3.5"/>
<path stroke="#29ffd6" d="M0 440.9l1-1.4 1-1.3 1-1.2 1-1.2 1-1.1 1-1.4 1-1.7 1-1.4 1-.3 1 .2 1 .5 1 2.2 1 2.9 1 3.1 1 2.8 1 1.7 1 1.2 1 1.1 1 1.1 1 .8 1 .2 1-5.3 1-13.2 1-24.8 1-29.7 1-27.9 1-19.9 1-6.5 1 .9 1 4.5 1 4.4 1-1 1-3.9 1-3 1 2.6 1 8.4 1 16.4 1 16.2 1 22.8 1 24.1 1 18.4 1 9.2 1 3.5 1 .7 1-.2 1-.5 1-1.1 1-1 1-.9 1-.8 1-.7 1-.7 1-.6 1-.6 1-.6 1-.6 1-.5 1-.4 1-.4 1-.4 1-.2 1-.2"/>
<path stroke="#2800d7" d="M0 704.2l1-19.9 1-23.8 1-26.8 1-27.1 1-27.9 1-26.7 1-25.2 1-22.2 1-13.1 1-4.3 1 8.1 1 23.3 1 30.7 1 42.8 1 44.3 1 32.7 1 21.1 1 5.7 1-9.5 1-31.4 1-40.7 1-74.9 1-77.7 1-88.3 1-83.8 1-59.4 1-40.4 1-18.3 1-1.6 1 8.4 1 5.5 1 0 1-4.1 1-2.4 1 3.7 1 18.1 1 35.1 1 51 1 67.8 1 68.4 1 69.5 1 66.8 1 54.1 1 43.8 1 31.6 1 22.4 1 7.5 1-8.2 1-23.2 1-28.7 1-25.8 1-17.1 1-10.7 1-6.7 1-1 1 1.7 1 1.9 1 2.1 1 3 1 4.2 1 3.7 1 3.5"/>
<path stroke="#27ffd8" d="M0 440.9l1-1.4 1-1.3 1-1.2 1-1.2 1-1.1 1-1.4 1-1.7 1-1.4 1-.3 1 .2 1 .5 1 2.2 1 2.9 1 3.1 1 2.9 1 1.6 1 1.2 1 1.2 1 1.1 1 .8 1 .3 1-5.4 1-13.2 1-25 1-29.7 1-27.9 1-19.9 1-6.5 1 1 1 4.5 1 4.5 1-1.1 1-4 1-3 1 2.7 1 8.3 1 16.5 1 16.2 1 22.8 1 24.2 1 18.4 1 9.2 1 3.4 1 .8 1-.2 1-.6 1-1 1-1.1 1-.9 1-.7 1-.8 1-.7 1-.6 1-.6 1-.6 1-.6 1-.5 1-.4 1-.4 1-.4 1-.2 1-.2"/>
<path stroke="#2700d8" d="M0 704.6l1-19.9 1-23.9 1-26.8 1-27.2 1-28 1-26.8 1-25.2 1-22.3 1-13.1 1-4.3 1 8.1 1 23.4 1 30.7 1 42.9 1 44.5 1 32.8 1 21.2 1 5.7 1-9.5 1-31.5 1-40.8 1-75.2 1-77.8 1-88.5 1-84 1-59.5 1-40.5 1-18.3 1-1.6 1 8.4 1 5.6 1-.1 1-4.1 1-2.4 1 3.7 1 18.1 1 35.2 1 51.1 1 67.9 1 68.6 1 69.6 1 66.9 1 54.3 1 43.8 1 31.7 1 22.4 1 7.6 1-8.3 1-23.3 1-28.7 1-25.9 1-17.1 1-10.7 1-6.8 1-.9 1 1.6 1 2 1 2 1 3 1 4.2 1 3.7 1 3.5"/>
<path stroke="#2500da" d="M0 705.1l1-20 1-24 1-26.9 1-27.3 1-28 1-26.9 1-25.3 1-22.3 1-13.2 1-4.2 1 8.1 1 23.4 1 30.8 1 43.1 1 44.6 1 32.9 1 21.3 1 5.7 1-9.5 1-31.7 1-40.9 1-75.4 1-78 1-88.6 1-84.1 1-59.7 1-40.5 1-18.4 1-1.6 1 8.5 1 5.5 1-.1 1-4.1 1-2.3 1 3.6 1 18.2 1 35.2 1 51.2 1 68 1 68.7 1 69.9 1 67 1 54.3 1 44 1 31.7 1 22.4 1 7.6 1-8.3 1-23.3 1-28.8 1-25.9 1-17.2 1-10.8 1-6.7 1-.9 1 1.6 1 1.9 1 2.1 1 3 1 4.2 1 3.7 1 3.5"/>
<path stroke="#25ffda" d="M0 441l1-1.4 1-1.4 1-1.2 1-1.2 1-1.1 1-1.4 1-1.8 1-1.4 1-.3 1 .3 1 .4 1 2.3 1 2.9 1 3.2 1 2.8 1 1.7 1 1.2 1 1.2 1 1.1 1 .8 1 .3 1-5.3 1-13.3 1-25.2 1-29.7 1-28 1-19.8 1-6.5 1 1 1 4.6 1 4.5 1-1.1 1-4 1-3.1 1 2.7 1 8.4 1 16.5 1 16.3 1 22.8 1 24.1 1 18.5 1 9.1 1 3.4 1 .9 1-.3 1-.5 1-1.1 1-1.1 1-.8 1-.8 1-.7 1-.7 1-.7 1-.6 1-.6 1-.5 1-.6 1-.4 1-.4 1-.4 1-.2 1-.3"/>
<path stroke="#2400db" d="M0 705.6l1-20.1 1-24 1-27 1-27.4 1-28.1 1-27 1-25.3 1-22.3 1-13.3 1-4.3 1 8.1 1 23.5 1 31 1 43.2 1 44.7 1 33 1 21.3 1 5.8 1-9.6 1-31.7 1-41.1 1-75.6 1-78.1 1-88.8 1-84.3 1-59.8 1-40.6 1-18.4 1-1.6 1 8.5 1 5.5 1 0 1-4.2 1-2.3 1 3.6 1 18.2 1 35.3 1 51.3 1 68.2 1 68.8 1 70 1 67.2 1 54.4 1 44 1 31.8 1 22.4 1 7.6 1-8.3 1-23.4 1-28.8 1-26 1-17.2 1-10.8 1-6.8 1-.9 1 1.6 1 2 1 2 1 3 1 4.2 1 3.7 1 3.5"/>
<path stroke="#24ffdb" d="M0 441l1-1.4 1-1.4 1-1.2 1-1.1 1-1.2 1-1.4 1-1.8 1-1.4 1-.3 1 .2 1 .5 1 2.3 1 2.9 1 3.2 1 2.8 1 1.7 1 1.3 1 1.2 1 1.1 1 .8 1 .3 1-5.3 1-13.3 1-25.4 1-29.7 1-28 1-19.8 1-6.5 1 1.1 1 4.6 1 4.6 1-1.1 1-4.1 1-3.2 1 2.7 1 8.4 1 16.6 1 16.3 1 22.9 1 24.1 1 18.4 1 9.2 1 3.4 1 .8 1-.2 1-.6 1-1 1-1.1 1-.9 1-.8 1-.7 1-.7 1-.6 1-.7 1-.6 1-.5 1-.6 1-.4 1-.4 1-.4 1-.2 1-.3"/>
<path stroke="#2300dc" d="M0 706l1-20.1 1-24.1 1-27.1 1-27.4 1-28.2 1-27 1-25.4 1-22.4 1-13.3 1-4.3 1 8.1 1 23.6 1 31 1 43.3 1 44.9 1 33 1 21.5 1 5.7 1-9.5 1-31.8 1-41.2 1-75.9 1-78.2 1-89 1-84.5 1-59.9 1-40.7 1-18.4 1-1.6 1 8.5 1 5.6 1-.1 1-4.1 1-2.4 1 3.7 1 18.1 1 35.4 1 51.4 1 68.3 1 69 1 70.1 1 67.4 1 54.4 1 44.1 1 31.8 1 22.5 1 7.6 1-8.3 1-23.4 1-28.9 1-26.1 1-17.2 1-10.8 1-6.8 1-.9 1 1.6 1 1.9 1 2.1 1 3 1 4.2 1 3.7 1 3.5"/>
<path stroke="#2200dd" d="M0 706.5l1-20.2 1-24.2 1-27.1 1-27.5 1-28.3 1-27.1 1-25.5 1-22.4 1-13.3 1-4.3 1 8.1 1 23.6 1 31.1 1 43.5 1 45 1 33.1 1 21.6 1 5.7 1-9.6 1-31.8 1-41.4 1-76.1 1-78.4 1-89.1 1-84.6 1-60 1-40.8 1-18.5 1-1.6 1 8.6 1 5.5 1 0 1-4.2 1-2.4 1 3.7 1 18.2 1 35.4 1 51.5 1 68.4 1 69.2 1 70.3 1 67.4 1 54.6 1 44.1 1 31.9 1 22.5 1 7.6 1-8.3 1-23.5 1-28.9 1-26.2 1-17.2 1-10.8 1-6.8 1-1 1 1.7 1 1.9 1 2 1 3 1 4.2 1 3.7 1 3.5"/>
<path stroke="#22ffdd" d="M0 441l1-1.4 1-1.3 1-1.3 1-1.1 1-1.2 1-1.4 1-1.8 1-1.4 1-.3 1 .2 1 .5 1 2.2 1 3 1 3.2 1 2.9 1 1.7 1 1.2 1 1.3 1 1.1 1 .8 1 .3 1-5.2 1-13.3 1-25.6 1-29.8 1-28 1-19.9 1-6.4 1 1.1 1 4.7 1 4.6 1-1.1 1-4.1 1-3.2 1 2.6 1 8.5 1 16.6 1 16.4 1 22.8 1 24.2 1 18.4 1 9.2 1 3.3 1 .9 1-.3 1-.5 1-1.1 1-1.1 1-.8 1-.9 1-.7 1-.7 1-.6 1-.6 1-.6 1-.6 1-.5 1-.5 1-.4 1-.4 1-.2 1-.3"/>
<path stroke="#2100de" d="M0 706.9l1-20.2 1-24.3 1-27.2 1-27.6 1-28.3 1-27.2 1-25.5 1-22.5 1-13.3 1-4.3 1 8.1 1 23.7 1 31.1 1 43.6 1 45.2 1 33.2 1 21.6 1 5.8 1-9.6 1-31.9 1-41.6 1-76.3 1-78.5 1-89.3 1-84.8 1-60.1 1-40.9 1-18.5 1-1.6 1 8.6 1 5.6 1-.1 1-4.1 1-2.4 1 3.6 1 18.2 1 35.5 1 51.6 1 68.5 1 69.3 1 70.5 1 67.6 1 54.7 1 44.2 1 31.9 1 22.5 1 7.6 1-8.3 1-23.6 1-29 1-26.1 1-17.3 1-10.9 1-6.8 1-.9 1 1.6 1 1.9 1 2.1 1 3 1 4.2 1 3.7 1 3.5"/>
<path stroke="#20ffdf" d="M0 441.1l1-1.5 1-1.3 1-1.3 1-1.1 1-1.2 1-1.4 1-1.8 1-1.4 1-.3 1 .2 1 .5 1 2.2 1 3 1 3.2 1 2.9 1 1.7 1 1.3 1 1.2 1 1.1 1 .9 1 .3 1-5.2 1-13.3 1-25.8 1-29.8 1-28 1-19.9 1-6.4 1 1.2 1 4.7 1 4.6 1-1.1 1-4.2 1-3.2 1 2.6 1 8.6 1 16.7 1 16.4 1 22.8 1 24.1 1 18.5 1 9.1 1 3.4 1 .8 1-.2 1-.6 1-1 1-1.1 1-.9 1-.8 1-.8 1-.7 1-.6 1-.6 1-.6 1-.6 1-.5 1-.5 1-.4 1-.4 1-.3 1-.2"/>
<path stroke="#2000df" d="M0 707.4l1-20.3 1-24.4 1-27.2 1-27.7 1-28.4 1-27.2 1-25.6 1-22.6 1-13.3 1-4.4 1 8.2 1 23.7 1 31.2 1 43.8 1 45.2 1 33.4 1 21.7 1 5.8 1-9.6 1-32.1 1-41.6 1-76.6 1-78.6 1-89.5 1-84.9 1-60.3 1-40.9 1-18.6 1-1.6 1 8.6 1 5.6 1 0 1-4.2 1-2.4 1 3.7 1 18.2 1 35.5 1 51.8 1 68.6 1 69.4 1 70.6 1 67.8 1 54.7 1 44.3 1 31.9 1 22.6 1 7.7 1-8.4 1-23.6 1-29.1 1-26.2 1-17.4 1-10.8 1-6.8 1-.9 1 1.6 1 1.9 1 2 1 3 1 4.2 1 3.7 1 3.5"/>
<path stroke="#1f00e0" d="M0 707.9l1-20.4 1-24.4 1-27.4 1-27.7 1-28.5 1-27.3 1-25.6 1-22.6 1-13.4 1-4.4 1 8.2 1 23.8 1 31.3 1 43.8 1 45.4 1 33.5 1 21.7 1 5.9 1-9.7 1-32.1 1-41.8 1-76.8 1-78.7 1-89.7 1-85.1 1-60.3 1-41.1 1-18.6 1-1.6 1 8.7 1 5.6 1-.1 1-4.1 1-2.5 1 3.7 1 18.2 1 35.6 1 51.9 1 68.7 1 69.6 1 70.8 1 67.8 1 54.9 1 44.3 1 32 1 22.6 1 7.7 1-8.4 1-23.7 1-29.1 1-26.3 1-17.4 1-10.8 1-6.8 1-1 1 1.6 1 1.9 1 2.1 1 3 1 4.2 1 3.7 1 3.5"/>
<path stroke="#1fffe0" d="M0 441.1l1-1.4 1-1.4 1-1.3 1-1.1 1-1.2 1-1.4 1-1.8 1-1.5 1-.3 1 .3 1 .5 1 2.2 1 3 1 3.3 1 2.9 1 1.7 1 1.3 1 1.2 1 1.1 1 .9 1 .3 1-5.1 1-13.4 1-25.9 1-29.9 1-28 1-19.9 1-6.4 1 1.2 1 4.8 1 4.7 1-1.2 1-4.2 1-3.3 1 2.6 1 8.6 1 16.8 1 16.4 1 22.9 1 24.1 1 18.5 1 9.1 1 3.3 1 .9 1-.3 1-.5 1-1.1 1-1.1 1-.9 1-.8 1-.7 1-.7 1-.7 1-.6 1-.6 1-.6 1-.5 1-.5 1-.4 1-.4 1-.3 1-.2"/>
<path stroke="#1d00e2" d="M0 708.3l1-20.4 1-24.5 1-27.4 1-27.9 1-28.5 1-27.4 1-25.7 1-22.6 1-13.4 1-4.4 1 8.2 1 23.8 1 31.4 1 44 1 45.5 1 33.6 1 21.8 1 5.9 1-9.7 1-32.2 1-42 1-77 1-78.9 1-89.8 1-85.2 1-60.5 1-41.1 1-18.7 1-1.5 1 8.6 1 5.7 1-.1 1-4.2 1-2.4 1 3.7 1 18.2 1 35.6 1 52 1 68.9 1 69.7 1 70.9 1 68 1 54.9 1 44.4 1 32.1 1 22.6 1 7.7 1-8.4 1-23.8 1-29.1 1-26.4 1-17.4 1-10.9 1-6.8 1-.9 1 1.6 1 1.9 1 2 1 3 1 4.2 1 3.7 1 3.5"/>
<path stroke="#1dffe2" d="M0 441.1l1-1.4 1-1.4 1-1.2 1-1.2 1-1.2 1-1.4 1-1.8 1-1.5 1-.3 1 .2 1 .5 1 2.3 1 3 1 3.3 1 2.9 1 1.7 1 1.4 1 1.2 1 1.1 1 .9 1 .4 1-5.2 1-13.3 1-26.2 1-29.9 1-28 1-19.9 1-6.4 1 1.3 1 4.8 1 4.7 1-1.1 1-4.3 1-3.3 1 2.6 1 8.6 1 16.8 1 16.5 1 22.8 1 24.2 1 18.4 1 9.1 1 3.4 1 .8 1-.2 1-.6 1-1.1 1-1.1 1-.8 1-.9 1-.7 1-.7 1-.7 1-.6 1-.6 1-.6 1-.5 1-.5 1-.4 1-.4 1-.3 1-.2"/>
<path stroke="#1c00e3" d="M0 708.8l1-20.5 1-24.6 1-27.5 1-27.9 1-28.6 1-27.4 1-25.8 1-22.7 1-13.4 1-4.4 1 8.2 1 23.9 1 31.4 1 44.1 1 45.7 1 33.7 1 21.8 1 5.9 1-9.7 1-32.3 1-42 1-77.3 1-79 1-89.9 1-85.5 1-60.5 1-41.2 1-18.7 1-1.6 1 8.7 1 5.6 1 0 1-4.2 1-2.5 1 3.7 1 18.3 1 35.6 1 52.1 1 69 1 69.9 1 71 1 68.2 1 55 1 44.4 1 32.1 1 22.7 1 7.7 1-8.5 1-23.7 1-29.3 1-26.4 1-17.4 1-10.9 1-6.8 1-1 1 1.6 1 1.9 1 2.1 1 2.9 1 4.3 1 3.7 1 3.5"/>
<path stroke="#1b00e4" d="M0 709.2l1-20.5 1-24.7 1-27.6 1-27.9 1-28.7 1-27.5 1-25.8 1-22.8 1-13.4 1-4.5 1 8.2 1 24 1 31.5 1 44.3 1 45.8 1 33.7 1 22 1 5.9 1-9.7 1-32.4 1-42.2 1-77.4 1-79.2 1-90.1 1-85.6 1-60.7 1-41.3 1-18.7 1-1.6 1 8.7 1 5.7 1-.1 1-4.2 1-2.4 1 3.7 1 18.2 1 35.8 1 52.1 1 69.1 1 70 1 71.3 1 68.2 1 55.1 1 44.5 1 32.2 1 22.7 1 7.7 1-8.5 1-23.8 1-29.3 1-26.4 1-17.5 1-10.9 1-6.9 1-.9 1 1.6 1 1.9 1 2 1 3 1 4.2 1 3.7 1 3.5"/>
<path stroke="#1bffe4" d="M0 441.2l1-1.5 1-1.4 1-1.2 1-1.2 1-1.2 1-1.4 1-1.9 1-1.4 1-.3 1 .2 1 .5 1 2.3 1 3 1 3.3 1 2.9 1 1.8 1 1.3 1 1.3 1 1.1 1 .9 1 .4 1-5.1 1-13.4 1-26.4 1-29.9 1-28 1-19.9 1-6.4 1 1.3 1 4.9 1 4.7 1-1.1 1-4.4 1-3.3 1 2.6 1 8.7 1 16.8 1 16.5 1 22.9 1 24.2 1 18.4 1 9.1 1 3.3 1 .9 1-.2 1-.6 1-1.1 1-1.1 1-.9 1-.8 1-.8 1-.7 1-.6 1-.7 1-.6 1-.6 1-.5 1-.5 1-.4 1-.4 1-.3 1-.2"/>
<path stroke="#1a00e5" d="M0 709.7l1-20.7 1-24.7 1-27.6 1-28.1 1-28.7 1-27.6 1-25.9 1-22.8 1-13.5 1-4.4 1 8.2 1 24.1 1 31.5 1 44.4 1 46 1 33.8 1 22 1 6 1-9.8 1-32.4 1-42.4 1-77.6 1-79.4 1-90.2 1-85.7 1-60.8 1-41.4 1-18.8 1-1.5 1 8.7 1 5.7 1-.1 1-4.2 1-2.5 1 3.7 1 18.3 1 35.8 1 52.3 1 69.2 1 70.1 1 71.4 1 68.4 1 55.2 1 44.5 1 32.2 1 22.8 1 7.6 1-8.4 1-23.9 1-29.3 1-26.5 1-17.5 1-10.9 1-6.9 1-.9 1 1.6 1 1.8 1 2.1 1 2.9 1 4.3 1 3.7 1 3.5"/>
<path stroke="#19ffe6" d="M0 441.2l1-1.5 1-1.3 1-1.3 1-1.2 1-1.2 1-1.4 1-1.9 1-1.4 1-.3 1 .2 1 .5 1 2.3 1 3 1 3.3 1 3 1 1.7 1 1.4 1 1.3 1 1.1 1 .9 1 .4 1-5.1 1-13.4 1-26.5 1-30 1-28 1-19.9 1-6.4 1 1.3 1 5 1 4.8 1-1.2 1-4.4 1-3.4 1 2.6 1 8.7 1 17 1 16.5 1 22.9 1 24.1 1 18.5 1 9 1 3.4 1 .8 1-.2 1-.6 1-1.1 1-1.1 1-.9 1-.8 1-.8 1-.7 1-.6 1-.7 1-.6 1-.6 1-.5 1-.5 1-.4 1-.4 1-.3 1-.2"/>
<path stroke="#1900e6" d="M0 710.1l1-20.7 1-24.7 1-27.8 1-28.1 1-28.9 1-27.6 1-25.9 1-22.8 1-13.6 1-4.4 1 8.2 1 24.1 1 31.7 1 44.5 1 46.1 1 33.9 1 22.1 1 6 1-9.8 1-32.6 1-42.5 1-77.8 1-79.5 1-90.4 1-85.9 1-60.9 1-41.4 1-18.8 1-1.6 1 8.8 1 5.7 1-.1 1-4.2 1-2.5 1 3.7 1 18.3 1 35.8 1 52.4 1 69.3 1 70.3 1 71.5 1 68.6 1 55.2 1 44.7 1 32.2 1 22.7 1 7.7 1-8.4 1-23.9 1-29.5 1-26.5 1-17.5 1-11 1-6.9 1-.9 1 1.6 1 1.9 1 2 1 3 1 4.2 1 3.7 1 3.5"/>
<path stroke="#1800e7" d="M0 710.6l1-20.8 1-24.8 1-27.9 1-28.2 1-28.9 1-27.6 1-26 1-22.9 1-13.6 1-4.4 1 8.2 1 24.1 1 31.8 1 44.6 1 46.2 1 34.1 1 22.1 1 6 1-9.8 1-32.6 1-42.6 1-78.1 1-79.6 1-90.6 1-86 1-61 1-41.5 1-18.9 1-1.5 1 8.8 1 5.7 1-.1 1-4.3 1-2.4 1 3.7 1 18.3 1 35.9 1 52.4 1 69.5 1 70.4 1 71.7 1 68.6 1 55.4 1 44.7 1 32.2 1 22.8 1 7.7 1-8.5 1-23.9 1-29.5 1-26.6 1-17.6 1-10.9 1-6.9 1-.9 1 1.6 1 1.8 1 2 1 3 1 4.2 1 3.8 1 3.5"/>
<path stroke="#18ffe7" d="M0 441.2l1-1.4 1-1.4 1-1.3 1-1.2 1-1.2 1-1.4 1-1.9 1-1.5 1-.3 1 .3 1 .5 1 2.3 1 3 1 3.4 1 2.9 1 1.8 1 1.4 1 1.2 1 1.2 1 .9 1 .4 1-5 1-13.4 1-26.8 1-30 1-28.1 1-19.8 1-6.4 1 1.4 1 5 1 4.8 1-1.2 1-4.4 1-3.5 1 2.6 1 8.8 1 17 1 16.5 1 22.9 1 24.2 1 18.5 1 9 1 3.3 1 .9 1-.2 1-.6 1-1.1 1-1.2 1-.8 1-.9 1-.7 1-.8 1-.6 1-.6 1-.7 1-.6 1-.5 1-.5 1-.4 1-.4 1-.3 1-.2"/>
<path stroke="#1700e8" d="M0 711l1-20.8 1-24.9 1-27.9 1-28.3 1-29 1-27.7 1-26.1 1-22.9 1-13.6 1-4.4 1 8.2 1 24.2 1 31.8 1 44.8 1 46.3 1 34.2 1 22.2 1 6 1-9.8 1-32.7 1-42.8 1-78.3 1-79.7 1-90.7 1-86.2 1-61.1 1-41.6 1-18.9 1-1.6 1 8.8 1 5.8 1-.1 1-4.3 1-2.5 1 3.7 1 18.4 1 35.9 1 52.6 1 69.5 1 70.6 1 71.8 1 68.8 1 55.4 1 44.8 1 32.2 1 22.9 1 7.7 1-8.5 1-24 1-29.5 1-26.7 1-17.6 1-11 1-6.8 1-1 1 1.6 1 1.9 1 2 1 3 1 4.2 1 3.7 1 3.5"/>
<path stroke="#16ffe9" d="M0 441.3l1-1.5 1-1.4 1-1.3 1-1.2 1-1.2 1-1.4 1-1.9 1-1.5 1-.3 1 .2 1 .6 1 2.3 1 3 1 3.4 1 2.9 1 1.8 1 1.4 1 1.3 1 1.2 1 .9 1 .4 1-5 1-13.4 1-27 1-29.9 1-28.1 1-19.9 1-6.4 1 1.4 1 5 1 4.9 1-1.2 1-4.5 1-3.4 1 2.6 1 8.8 1 17 1 16.6 1 22.9 1 24.2 1 18.4 1 9 1 3.4 1 .8 1-.2 1-.6 1-1.1 1-1.1 1-.9 1-.8 1-.8 1-.7 1-.7 1-.6 1-.7 1-.6 1-.5 1-.5 1-.4 1-.4 1-.3 1-.2"/>
<path stroke="#1600e9" d="M0 711.5l1-20.9 1-25 1-28 1-28.3 1-29.1 1-27.8 1-26.1 1-23 1-13.6 1-4.5 1 8.3 1 24.2 1 31.9 1 44.9 1 46.5 1 34.2 1 22.3 1 6.1 1-9.9 1-32.8 1-42.9 1-78.5 1-79.9 1-90.8 1-86.3 1-61.3 1-41.7 1-18.9 1-1.5 1 8.8 1 5.7 1 0 1-4.3 1-2.5 1 3.7 1 18.4 1 36 1 52.6 1 69.7 1 70.7 1 72 1 68.9 1 55.4 1 44.9 1 32.3 1 22.8 1 7.8 1-8.6 1-24 1-29.6 1-26.7 1-17.6 1-11 1-6.9 1-.9 1 1.6 1 1.8 1 2 1 3 1 4.2 1 3.7 1 3.6"/>
<path stroke="#1400eb" d="M0 711.9l1-20.9 1-25.1 1-28.1 1-28.4 1-29.1 1-27.9 1-26.1 1-23 1-13.7 1-4.5 1 8.3 1 24.3 1 31.9 1 45 1 46.7 1 34.3 1 22.4 1 6 1-9.9 1-32.8 1-43.1 1-78.7 1-80 1-91 1-86.5 1-61.3 1-41.8 1-18.9 1-1.6 1 8.9 1 5.7 1 0 1-4.3 1-2.5 1 3.7 1 18.3 1 36.1 1 52.8 1 69.8 1 70.8 1 72.1 1 69 1 55.6 1 44.9 1 32.3 1 22.9 1 7.7 1-8.5 1-24.1 1-29.6 1-26.8 1-17.6 1-11 1-6.9 1-1 1 1.6 1 1.9 1 2 1 2.9 1 4.3 1 3.7 1 3.5"/>
<path stroke="#14ffeb" d="M0 441.3l1-1.5 1-1.4 1-1.3 1-1.2 1-1.2 1-1.5 1-1.8 1-1.5 1-.3 1 .2 1 .5 1 2.4 1 3 1 3.4 1 3 1 1.8 1 1.4 1 1.3 1 1.2 1 .9 1 .4 1-4.9 1-13.5 1-27.1 1-30 1-28.1 1-19.9 1-6.3 1 1.4 1 5 1 4.9 1-1.2 1-4.5 1-3.5 1 2.6 1 8.9 1 17.1 1 16.6 1 22.9 1 24.2 1 18.4 1 9 1 3.3 1 .9 1-.2 1-.6 1-1.1 1-1.2 1-.9 1-.8 1-.8 1-.7 1-.7 1-.6 1-.6 1-.6 1-.6 1-.5 1-.4 1-.4 1-.3 1-.2"/>
<path stroke="#1300ec" d="M0 712.3l1-21 1-25.1 1-28.1 1-28.5 1-29.2 1-27.9 1-26.2 1-23.1 1-13.7 1-4.5 1 8.3 1 24.3 1 32.1 1 45.1 1 46.7 1 34.5 1 22.4 1 6.1 1-9.9 1-33 1-43.2 1-78.9 1-80.1 1-91.1 1-86.7 1-61.4 1-41.9 1-18.9 1-1.6 1 8.9 1 5.7 1 0 1-4.3 1-2.5 1 3.7 1 18.4 1 36.1 1 52.8 1 69.9 1 71 1 72.2 1 69.2 1 55.6 1 45 1 32.4 1 22.9 1 7.7 1-8.6 1-24.1 1-29.7 1-26.8 1-17.7 1-11 1-6.9 1-.9 1 1.6 1 1.8 1 2 1 3 1 4.2 1 3.7 1 3.6"/>
<path stroke="#13ffec" d="M0 441.3l1-1.5 1-1.4 1-1.3 1-1.2 1-1.2 1-1.5 1-1.8 1-1.5 1-.3 1 .2 1 .5 1 2.4 1 3.1 1 3.3 1 3 1 1.8 1 1.4 1 1.4 1 1.2 1 .9 1 .5 1-5 1-13.5 1-27.3 1-30 1-28.1 1-19.9 1-6.3 1 1.4 1 5.1 1 4.9 1-1.2 1-4.5 1-3.6 1 2.6 1 9 1 17.1 1 16.6 1 23 1 24.1 1 18.5 1 8.9 1 3.3 1 .9 1-.2 1-.6 1-1.1 1-1.1 1-.9 1-.9 1-.8 1-.7 1-.7 1-.6 1-.6 1-.6 1-.6 1-.5 1-.4 1-.4 1-.3 1-.2"/>
<path stroke="#1200ed" d="M0 712.8l1-21.1 1-25.2 1-28.2 1-28.5 1-29.3 1-28 1-26.3 1-23.1 1-13.7 1-4.5 1 8.3 1 24.4 1 32.1 1 45.2 1 46.9 1 34.5 1 22.5 1 6.2 1-10 1-33 1-43.3 1-79.2 1-80.2 1-91.3 1-86.8 1-61.5 1-42 1-19 1-1.5 1 8.9 1 5.8 1-.1 1-4.3 1-2.5 1 3.7 1 18.4 1 36.1 1 53 1 70 1 71.1 1 72.4 1 69.3 1 55.7 1 45 1 32.4 1 22.9 1 7.8 1-8.6 1-24.2 1-29.7 1-26.9 1-17.7 1-11 1-6.9 1-1 1 1.6 1 1.9 1 1.9 1 3 1 4.2 1 3.8 1 3.5"/>
<path stroke="#1100ee" d="M0 713.2l1-21.1 1-25.3 1-28.3 1-28.6 1-29.3 1-28.1 1-26.3 1-23.2 1-13.7 1-4.5 1 8.3 1 24.4 1 32.2 1 45.4 1 47 1 34.6 1 22.6 1 6.1 1-9.9 1-33.2 1-43.4 1-79.4 1-80.3 1-91.5 1-86.9 1-61.7 1-41.9 1-19.1 1-1.5 1 8.9 1 5.8 1-.1 1-4.3 1-2.5 1 3.7 1 18.4 1 36.2 1 53 1 70.1 1 71.3 1 72.5 1 69.4 1 55.8 1 45 1 32.5 1 23 1 7.7 1-8.6 1-24.2 1-29.8 1-26.9 1-17.7 1-11.1 1-6.9 1-.9 1 1.6 1 1.8 1 2 1 2.9 1 4.3 1 3.7 1 3.6"/>
<path stroke="#11ffee" d="M0 441.4l1-1.5 1-1.5 1-1.3 1-1.2 1-1.2 1-1.5 1-1.9 1-1.4 1-.4 1 .3 1 .5 1 2.3 1 3.2 1 3.3 1 3.1 1 1.8 1 1.4 1 1.4 1 1.2 1 .9 1 .5 1-4.9 1-13.5 1-27.5 1-30.1 1-28.1 1-19.9 1-6.3 1 1.5 1 5.1 1 4.9 1-1.2 1-4.6 1-3.5 1 2.6 1 8.9 1 17.2 1 16.7 1 22.9 1 24.2 1 18.5 1 8.9 1 3.3 1 .9 1-.2 1-.6 1-1.2 1-1.1 1-.9 1-.9 1-.7 1-.8 1-.6 1-.7 1-.6 1-.6 1-.6 1-.5 1-.4 1-.4 1-.3 1-.2"/>
<path stroke="#1000ef" d="M0 713.6l1-21.1 1-25.4 1-28.3 1-28.7 1-29.4 1-28.1 1-26.4 1-23.2 1-13.8 1-4.6 1 8.4 1 24.5 1 32.2 1 45.5 1 47.2 1 34.7 1 22.6 1 6.2 1-10 1-33.2 1-43.6 1-79.6 1-80.5 1-91.5 1-87.1 1-61.8 1-42 1-19.1 1-1.6 1 9 1 5.8 1-.1 1-4.3 1-2.5 1 3.7 1 18.4 1 36.3 1 53.1 1 70.2 1 71.4 1 72.7 1 69.5 1 55.8 1 45.1 1 32.5 1 23 1 7.8 1-8.6 1-24.3 1-29.8 1-27 1-17.7 1-11.1 1-6.9 1-1 1 1.6 1 1.9 1 1.9 1 3 1 4.2 1 3.7 1 3.6"/>
<path stroke="#0ffff0" d="M0 441.4l1-1.5 1-1.4 1-1.3 1-1.3 1-1.2 1-1.5 1-1.9 1-1.5 1-.3 1 .3 1 .5 1 2.3 1 3.2 1 3.4 1 3 1 1.8 1 1.5 1 1.3 1 1.2 1 1 1 .5 1-4.9 1-13.5 1-27.7 1-30.1 1-28.1 1-19.9 1-6.3 1 1.5 1 5.1 1 5 1-1.2 1-4.6 1-3.6 1 2.6 1 9 1 17.3 1 16.7 1 22.9 1 24.2 1 18.4 1 8.9 1 3.3 1 .9 1-.2 1-.6 1-1.1 1-1.2 1-.9 1-.8 1-.8 1-.7 1-.7 1-.7 1-.6 1-.6 1-.6 1-.5 1-.4 1-.4 1-.3 1-.2"/>
<path stroke="#0f00f0" d="M0 714.1l1-21.3 1-25.4 1-28.4 1-28.8 1-29.4 1-28.2 1-26.5 1-23.2 1-13.8 1-4.6 1 8.4 1 24.5 1 32.3 1 45.7 1 47.2 1 34.8 1 22.7 1 6.2 1-10 1-33.3 1-43.7 1-79.8 1-80.6 1-91.7 1-87.2 1-61.9 1-42.1 1-19.1 1-1.6 1 9 1 5.8 1-.1 1-4.3 1-2.5 1 3.7 1 18.4 1 36.3 1 53.3 1 70.3 1 71.5 1 72.8 1 69.7 1 55.9 1 45.1 1 32.6 1 23 1 7.7 1-8.6 1-24.3 1-29.9 1-27 1-17.8 1-11 1-7 1-.9 1 1.5 1 1.9 1 2 1 2.9 1 4.3 1 3.7 1 3.5"/>
<path stroke="#0e00f1" d="M0 714.5l1-21.3 1-25.5 1-28.5 1-28.8 1-29.5 1-28.3 1-26.5 1-23.3 1-13.8 1-4.6 1 8.4 1 24.6 1 32.3 1 45.8 1 47.4 1 34.9 1 22.7 1 6.3 1-10.1 1-33.3 1-43.9 1-80 1-80.7 1-91.9 1-87.3 1-62 1-42.2 1-19.1 1-1.6 1 9 1 5.8 1 0 1-4.4 1-2.5 1 3.7 1 18.4 1 36.4 1 53.3 1 70.5 1 71.6 1 72.9 1 69.8 1 56 1 45.2 1 32.6 1 23 1 7.8 1-8.6 1-24.4 1-29.9 1-27.1 1-17.8 1-11.1 1-6.9 1-1 1 1.6 1 1.8 1 2 1 3 1 4.2 1 3.7 1 3.6"/>
<path stroke="#0efff1" d="M0 441.4l1-1.5 1-1.4 1-1.3 1-1.3 1-1.2 1-1.5 1-1.9 1-1.5 1-.3 1 .2 1 .5 1 2.4 1 3.2 1 3.4 1 3 1 1.9 1 1.4 1 1.4 1 1.2 1 1 1 .5 1-4.9 1-13.5 1-27.8 1-30.1 1-28.2 1-19.9 1-6.3 1 1.6 1 5.1 1 5 1-1.2 1-4.7 1-3.5 1 2.5 1 9.1 1 17.3 1 16.7 1 23 1 24.2 1 18.4 1 8.9 1 3.3 1 .9 1-.2 1-.6 1-1.2 1-1.1 1-.9 1-.9 1-.8 1-.7 1-.7 1-.7 1-.6 1-.6 1-.6 1-.5 1-.4 1-.4 1-.3 1-.2"/>
<path stroke="#0c00f3" d="M0 714.9l1-21.3 1-25.6 1-28.6 1-28.9 1-29.5 1-28.4 1-26.5 1-23.4 1-13.8 1-4.6 1 8.3 1 24.7 1 32.5 1 45.9 1 47.5 1 35 1 22.8 1 6.2 1-10 1-33.5 1-44 1-80.2 1-80.8 1-92 1-87.5 1-62.1 1-42.2 1-19.2 1-1.6 1 9 1 5.9 1-.1 1-4.4 1-2.5 1 3.7 1 18.5 1 36.4 1 53.4 1 70.5 1 71.8 1 73.1 1 69.9 1 56 1 45.3 1 32.6 1 23.1 1 7.7 1-8.6 1-24.4 1-30 1-27.1 1-17.8 1-11.1 1-7 1-1 1 1.6 1 1.9 1 1.9 1 3 1 4.2 1 3.8 1 3.5"/>
<path stroke="#0cfff3" d="M0 441.5l1-1.6 1-1.4 1-1.3 1-1.3 1-1.2 1-1.5 1-1.9 1-1.5 1-.3 1 .2 1 .5 1 2.4 1 3.2 1 3.4 1 3.1 1 1.8 1 1.5 1 1.4 1 1.2 1 1 1 .5 1-4.8 1-13.5 1-28.1 1-30.1 1-28.2 1-19.9 1-6.2 1 1.5 1 5.2 1 5 1-1.2 1-4.7 1-3.6 1 2.6 1 9.1 1 17.4 1 16.7 1 23 1 24.1 1 18.5 1 8.9 1 3.2 1 .9 1-.2 1-.6 1-1.1 1-1.2 1-.9 1-.9 1-.8 1-.7 1-.7 1-.6 1-.7 1-.6 1-.6 1-.5 1-.4 1-.4 1-.3 1-.2"/>
<path stroke="#0b00f4" d="M0 715.4l1-21.5 1-25.6 1-28.6 1-29 1-29.6 1-28.4 1-26.7 1-23.3 1-13.9 1-4.6 1 8.3 1 24.8 1 32.5 1 46 1 47.6 1 35.1 1 22.9 1 6.3 1-10.1 1-33.5 1-44.2 1-80.4 1-80.9 1-92.2 1-87.6 1-62.1 1-42.4 1-19.2 1-1.6 1 9 1 5.9 1-.1 1-4.3 1-2.6 1 3.7 1 18.5 1 36.5 1 53.5 1 70.6 1 71.9 1 73.2 1 70 1 56.1 1 45.4 1 32.6 1 23.1 1 7.8 1-8.7 1-24.4 1-30.1 1-27.1 1-17.9 1-11.1 1-7 1-.9 1 1.6 1 1.8 1 2 1 2.9 1 4.3 1 3.7 1 3.6"/>
<path stroke="#0a00f5" d="M0 715.8l1-21.5 1-25.7 1-28.7 1-29 1-29.8 1-28.4 1-26.7 1-23.4 1-13.9 1-4.6 1 8.3 1 24.8 1 32.6 1 46.1 1 47.8 1 35.2 1 22.9 1 6.3 1-10.1 1-33.6 1-44.3 1-80.6 1-81 1-92.3 1-87.8 1-62.2 1-42.5 1-19.2 1-1.6 1 9.1 1 5.8 1 0 1-4.4 1-2.6 1 3.7 1 18.5 1 36.6 1 53.5 1 70.8 1 72 1 73.4 1 70.1 1 56.2 1 45.3 1 32.7 1 23.1 1 7.8 1-8.7 1-24.4 1-30.1 1-27.2 1-17.9 1-11.1 1-7 1-1 1 1.6 1 1.9 1 1.9 1 3 1 4.2 1 3.7 1 3.6"/>
<path stroke="#0afff5" d="M0 441.5l1-1.5 1-1.5 1-1.3 1-1.3 1-1.2 1-1.5 1-1.9 1-1.5 1-.4 1 .3 1 .5 1 2.4 1 3.2 1 3.4 1 3.1 1 1.9 1 1.5 1 1.4 1 1.2 1 1 1 .5 1-4.8 1-13.5 1-28.2 1-30.2 1-28.1 1-20 1-6.2 1 1.5 1 5.2 1 5.1 1-1.3 1-4.6 1-3.7 1 2.6 1 9.2 1 17.4 1 16.8 1 23 1 24.1 1 18.4 1 8.9 1 3.3 1 .9 1-.2 1-.6 1-1.2 1-1.2 1-.9 1-.8 1-.8 1-.8 1-.7 1-.6 1-.7 1-.6 1-.6 1-.5 1-.4 1-.4 1-.3 1-.2"/>
<path stroke="#0900f6" d="M0 716.2l1-21.5 1-25.8 1-28.8 1-29.1 1-29.8 1-28.5 1-26.7 1-23.5 1-13.9 1-4.6 1 8.3 1 24.9 1 32.6 1 46.3 1 47.9 1 35.2 1 23 1 6.4 1-10.2 1-33.7 1-44.3 1-80.9 1-81.1 1-92.5 1-87.9 1-62.3 1-42.5 1-19.3 1-1.6 1 9.1 1 5.9 1-.1 1-4.4 1-2.6 1 3.8 1 18.5 1 36.6 1 53.6 1 70.9 1 72.1 1 73.5 1 70.3 1 56.2 1 45.4 1 32.7 1 23.1 1 7.8 1-8.7 1-24.4 1-30.2 1-27.2 1-17.9 1-11.2 1-7 1-.9 1 1.6 1 1.8 1 1.9 1 3 1 4.2 1 3.8 1 3.5"/>
<path stroke="#08fff6" d="M0 441.5l1-1.5 1-1.5 1-1.3 1-1.2 1-1.3 1-1.5 1-1.9 1-1.6 1-.3 1 .3 1 .5 1 2.4 1 3.2 1 3.4 1 3.1 1 1.9 1 1.5 1 1.4 1 1.3 1 1 1 .5 1-4.7 1-13.6 1-28.4 1-30.1 1-28.2 1-19.9 1-6.3 1 1.6 1 5.2 1 5.1 1-1.3 1-4.7 1-3.6 1 2.6 1 9.2 1 17.5 1 16.8 1 22.9 1 24.2 1 18.4 1 8.9 1 3.2 1 .9 1-.2 1-.6 1-1.2 1-1.1 1-1 1-.8 1-.8 1-.8 1-.7 1-.6 1-.7 1-.6 1-.5 1-.6 1-.4 1-.4 1-.3 1-.2"/>
<path stroke="#0800f7" d="M0 716.6l1-21.6 1-25.8 1-28.9 1-29.1 1-29.9 1-28.5 1-26.8 1-23.5 1-14 1-4.7 1 8.4 1 24.9 1 32.7 1 46.4 1 48 1 35.4 1 23.1 1 6.3 1-10.1 1-33.8 1-44.5 1-81.1 1-81.3 1-92.5 1-88 1-62.5 1-42.6 1-19.3 1-1.6 1 9.1 1 5.9 1-.1 1-4.3 1-2.6 1 3.7 1 18.5 1 36.7 1 53.7 1 71 1 72.2 1 73.7 1 70.3 1 56.3 1 45.5 1 32.7 1 23.2 1 7.8 1-8.7 1-24.6 1-30.2 1-27.2 1-18 1-11.1 1-7 1-1 1 1.6 1 1.8 1 2 1 2.9 1 4.3 1 3.7 1 3.6"/>
<path stroke="#0700f8" d="M0 717l1-21.6 1-25.9 1-28.9 1-29.3 1-29.9 1-28.6 1-26.9 1-23.5 1-14 1-4.7 1 8.4 1 25 1 32.8 1 46.4 1 48.2 1 35.4 1 23.2 1 6.3 1-10.1 1-33.9 1-44.6 1-81.2 1-81.5 1-92.7 1-88.1 1-62.6 1-42.6 1-19.4 1-1.5 1 9.1 1 5.9 1-.1 1-4.4 1-2.6 1 3.7 1 18.6 1 36.7 1 53.8 1 71.1 1 72.3 1 73.8 1 70.5 1 56.3 1 45.5 1 32.8 1 23.2 1 7.8 1-8.7 1-24.6 1-30.2 1-27.3 1-18 1-11.2 1-7 1-.9 1 1.5 1 1.9 1 1.9 1 2.9 1 4.3 1 3.7 1 3.6"/>
<path stroke="#07fff8" d="M0 441.6l1-1.6 1-1.4 1-1.4 1-1.2 1-1.3 1-1.5 1-1.9 1-1.6 1-.3 1 .2 1 .6 1 2.4 1 3.2 1 3.5 1 3.1 1 1.9 1 1.5 1 1.4 1 1.3 1 1 1 .5 1-4.7 1-13.5 1-28.6 1-30.2 1-28.2 1-19.9 1-6.2 1 1.5 1 5.3 1 5 1-1.2 1-4.7 1-3.7 1 2.6 1 9.3 1 17.5 1 16.8 1 23 1 24.2 1 18.4 1 8.8 1 3.2 1 1 1-.2 1-.7 1-1.1 1-1.2 1-.9 1-.9 1-.8 1-.7 1-.7 1-.7 1-.7 1-.6 1-.5 1-.5 1-.5 1-.4 1-.3 1-.2"/>
<path stroke="#0600f9" d="M0 717.5l1-21.8 1-25.9 1-29 1-29.3 1-30 1-28.7 1-26.9 1-23.6 1-14 1-4.7 1 8.4 1 25 1 32.9 1 46.6 1 48.3 1 35.5 1 23.2 1 6.4 1-10.2 1-34 1-44.7 1-81.4 1-81.6 1-92.8 1-88.3 1-62.6 1-42.8 1-19.3 1-1.6 1 9.1 1 5.9 1 0 1-4.4 1-2.7 1 3.8 1 18.5 1 36.8 1 53.9 1 71.2 1 72.5 1 73.9 1 70.5 1 56.5 1 45.5 1 32.8 1 23.2 1 7.8 1-8.7 1-24.6 1-30.3 1-27.3 1-18 1-11.2 1-7 1-1 1 1.6 1 1.8 1 1.9 1 3 1 4.2 1 3.8 1 3.5"/>
<path stroke="#05fffa" d="M0 441.6l1-1.6 1-1.4 1-1.4 1-1.2 1-1.3 1-1.5 1-2 1-1.5 1-.3 1 .2 1 .5 1 2.5 1 3.2 1 3.5 1 3.1 1 1.9 1 1.6 1 1.4 1 1.3 1 1 1 .6 1-4.7 1-13.6 1-28.8 1-30.1 1-28.2 1-20 1-6.2 1 1.6 1 5.2 1 5.1 1-1.3 1-4.7 1-3.7 1 2.7 1 9.3 1 17.6 1 16.8 1 23 1 24.2 1 18.4 1 8.8 1 3.2 1 .9 1-.2 1-.6 1-1.2 1-1.2 1-.9 1-.9 1-.8 1-.7 1-.7 1-.7 1-.6 1-.7 1-.5 1-.5 1-.5 1-.4 1-.3 1-.2"/>
<path stroke="#0500fa" d="M0 717.9l1-21.8 1-26 1-29.1 1-29.4 1-30 1-28.8 1-26.9 1-23.7 1-14 1-4.7 1 8.4 1 25.1 1 32.9 1 46.7 1 48.4 1 35.6 1 23.3 1 6.4 1-10.2 1-34 1-44.9 1-81.6 1-81.7 1-92.9 1-88.5 1-62.7 1-42.8 1-19.4 1-1.6 1 9.2 1 5.9 1-.1 1-4.4 1-2.6 1 3.7 1 18.6 1 36.8 1 54 1 71.3 1 72.6 1 74 1 70.7 1 56.5 1 45.6 1 32.8 1 23.2 1 7.8 1-8.7 1-24.7 1-30.3 1-27.4 1-18 1-11.2 1-7 1-1 1 1.6 1 1.8 1 2 1 2.9 1 4.2 1 3.8 1 3.6"/>
<path stroke="#0300fc" d="M0 718.3l1-21.8 1-26.1 1-29.2 1-29.4 1-30.1 1-28.8 1-27.1 1-23.6 1-14.1 1-4.7 1 8.4 1 25.1 1 33 1 46.9 1 48.5 1 35.7 1 23.3 1 6.4 1-10.2 1-34.1 1-45 1-81.8 1-81.8 1-93.1 1-88.5 1-62.9 1-42.8 1-19.5 1-1.5 1 9.1 1 5.9 1 0 1-4.4 1-2.7 1 3.8 1 18.6 1 36.8 1 54.1 1 71.4 1 72.7 1 74.2 1 70.7 1 56.6 1 45.6 1 32.9 1 23.2 1 7.8 1-8.7 1-24.7 1-30.4 1-27.4 1-18 1-11.2 1-7.1 1-.9 1 1.5 1 1.9 1 1.9 1 2.9 1 4.3 1 3.7 1 3.6"/>
<path stroke="#03fffc" d="M0 441.6l1-1.5 1-1.5 1-1.4 1-1.2 1-1.3 1-1.5 1-2 1-1.5 1-.4 1 .3 1 .5 1 2.5 1 3.2 1 3.5 1 3.1 1 2 1 1.5 1 1.5 1 1.2 1 1.1 1 .6 1-4.7 1-13.6 1-28.9 1-30.2 1-28.2 1-19.9 1-6.3 1 1.6 1 5.3 1 5.1 1-1.3 1-4.7 1-3.7 1 2.6 1 9.4 1 17.6 1 16.9 1 23 1 24.1 1 18.4 1 8.8 1 3.2 1 1 1-.3 1-.6 1-1.1 1-1.2 1-1 1-.8 1-.9 1-.7 1-.7 1-.7 1-.6 1-.7 1-.5 1-.5 1-.5 1-.4 1-.3 1-.2"/>
<path stroke="#0200fd" d="M0 718.7l1-21.9 1-26.1 1-29.3 1-29.5 1-30.1 1-28.9 1-27.1 1-23.7 1-14.1 1-4.7 1 8.4 1 25.2 1 33 1 47 1 48.6 1 35.8 1 23.4 1 6.5 1-10.3 1-34.2 1-45.1 1-82 1-81.9 1-93.2 1-88.7 1-62.9 1-42.9 1-19.5 1-1.6 1 9.2 1 5.9 1-.1 1-4.4 1-2.6 1 3.7 1 18.6 1 36.9 1 54.2 1 71.5 1 72.8 1 74.3 1 70.9 1 56.6 1 45.7 1 32.8 1 23.3 1 7.9 1-8.8 1-24.7 1-30.4 1-27.5 1-18.1 1-11.2 1-7 1-1 1 1.6 1 1.8 1 1.9 1 3 1 4.2 1 3.8 1 3.5"/>
<path stroke="#02fffd" d="M0 441.7l1-1.6 1-1.5 1-1.4 1-1.2 1-1.3 1-1.5 1-2 1-1.5 1-.4 1 .3 1 .5 1 2.5 1 3.2 1 3.5 1 3.2 1 1.9 1 1.6 1 1.4 1 1.3 1 1.1 1 .6 1-4.6 1-13.6 1-29.2 1-30.2 1-28.2 1-19.9 1-6.2 1 1.6 1 5.2 1 5.1 1-1.2 1-4.8 1-3.7 1 2.7 1 9.4 1 17.7 1 16.9 1 23 1 24.1 1 18.4 1 8.8 1 3.2 1 .9 1-.2 1-.6 1-1.2 1-1.2 1-.9 1-.9 1-.8 1-.8 1-.7 1-.7 1-.6 1-.7 1-.5 1-.5 1-.5 1-.4 1-.3 1-.2"/>
<path stroke="#0100fe" d="M0 719.1l1-21.9 1-26.3 1-29.2 1-29.6 1-30.3 1-28.9 1-27.1 1-23.8 1-14.1 1-4.7 1 8.4 1 25.2 1 33.1 1 47.1 1 48.8 1 35.9 1 23.4 1 6.5 1-10.3 1-34.2 1-45.3 1-82.2 1-82 1-93.3 1-88.9 1-63 1-43 1-19.5 1-1.6 1 9.2 1 6 1-.1 1-4.4 1-2.6 1 3.7 1 18.6 1 37 1 54.2 1 71.6 1 72.9 1 74.4 1 71.1 1 56.6 1 45.7 1 32.9 1 23.3 1 7.9 1-8.8 1-24.8 1-30.4 1-27.5 1-18.1 1-11.3 1-7 1-1 1 1.6 1 1.8 1 1.9 1 3 1 4.2 1 3.8 1 3.6"/>
<path stroke="#0000ff" d="M0 719.5l1-22 1-26.3 1-29.3 1-29.7 1-30.3 1-29 1-27.1 1-23.8 1-14.2 1-4.7 1 8.4 1 25.3 1 33.2 1 47.2 1 48.9 1 35.9 1 23.5 1 6.5 1-10.3 1-34.3 1-45.4 1-82.4 1-82.1 1-93.5 1-88.9 1-63.1 1-43.1 1-19.5 1-1.6 1 9.2 1 6 1-.1 1-4.4 1-2.7 1 3.8 1 18.6 1 37 1 54.3 1 71.7 1 73.1 1 74.5 1 71.1 1 56.7 1 45.8 1 32.9 1 23.3 1 7.9 1-8.9 1-24.7 1-30.5 1-27.6 1-18.1 1-11.2 1-7.1 1-.9 1 1.5 1 1.9 1 1.9 1 2.9 1 4.3 1 3.7 1 3.6"/>
<path stroke="#00ffff" d="M0 441.7l1-1.6 1-1.5 1-1.3 1-1.3 1-1.3 1-1.5 1-2 1-1.6 1-.3 1 .2 1 .6 1 2.5 1 3.2 1 3.6 1 3.1 1 2 1 1.5 1 1.5 1 1.3 1 1.1 1 .6 1-4.6 1-13.6 1-29.3 1-30.2 1-28.2 1-20 1-6.2 1 1.6 1 5.3 1 5.1 1-1.3 1-4.8 1-3.6 1 2.6 1 9.5 1 17.7 1 17 1 23 1 24.1 1 18.4 1 8.7 1 3.2 1 1 1-.3 1-.6 1-1.2 1-1.1 1-1 1-.9 1-.8 1-.8 1-.7 1-.6 1-.7 1-.6 1-.6 1-.5 1-.5 1-.4 1-.3 1-.2"/>
</g>
<g class="p" transform="translate(262.786,0) scale(13.2857,1)" fill="none" stroke="#000" stroke-width="1"><path d="M0 719.5l1-22 1-26.3 1-29.3 1-29.7 1-30.3 1-29 1-27.1 1-23.8 1-14.2 1-4.7 1 8.4 1 25.3 1 33.2 1 47.2 1 48.9 1 35.9 1 23.5 1 6.5 1-10.3 1-34.3 1-45.4 1-82.4 1-82.1 1-93.5 1-88.9 1-63.1 1-43.1 1-19.5 1-1.6 1 9.2 1 6 1-.1 1-4.4 1-2.7 1 3.8 1 18.6 1 37 1 54.3 1 71.7 1 73.1 1 74.5 1 71.1 1 56.7 1 45.8 1 32.9 1 23.3 1 7.9 1-8.9 1-24.7 1-30.5 1-27.6 1-18.1 1-11.2 1-7.1 1-.9 1 1.5 1 1.9 1 1.9 1 2.9 1 4.3 1 3.7 1 3.6"/><path d="M0 441.7l1-1.6 1-1.5 1-1.3 1-1.3 1-1.3 1-1.5 1-2 1-1.6 1-.3 1 .2 1 .6 1 2.5 1 3.2 1 3.6 1 3.1 1 2 1 1.5 1 1.5 1 1.3 1 1.1 1 .6 1-4.6 1-13.6 1-29.3 1-30.2 1-28.2 1-20 1-6.2 1 1.6 1 5.3 1 5.1 1-1.3 1-4.8 1-3.6 1 2.6 1 9.5 1 17.7 1 17 1 23 1 24.1 1 18.4 1 8.7 1 3.2 1 1 1-.3 1-.6 1-1.2 1-1.1 1-1 1-.9 1-.8 1-.8 1-.7 1-.6 1-.7 1-.6 1-.6 1-.5 1-.5 1-.4 1-.3 1-.2"/></g>
<path d="M156.5 68V802M156 801.5H1087M156 801.5h10M156 696.5h10M156 591.5h10M156 486.5h10M156 382.5h10M156 277.5h10M156 172.5h10M156 68.5h10M156.5 801.5v-10M289.5 801.5v-10M422.5 801.5v-10M555.5 801.5v-10M687.5 801.5v-10M820.5 801.5v-10M953.5 801.5v-10M1086.5 801.5v-10" stroke="#000" stroke-width="1" fill="none"/>
<rect x="872.5" y="79.5" width="205" height="119" fill="#fff" stroke="#000" stroke-width="1"/>
<path d="M885 96H951" stroke="#0ff" stroke-width="4"/><circle cx="917.5" cy="96" r="5.4" fill="none" stroke="#0ff" stroke-width="4"/>
<path d="M885 124H951M917.5 117.5v13" stroke="#000" stroke-width="4" fill="none"/>
<path d="M885 152.5H951" stroke="#f00" stroke-width="1" stroke-dasharray="10 4" stroke-dashoffset="10"/><path d="M885 180.5H951" stroke="#ff0" stroke-width="1" stroke-dasharray="10 4" stroke-dashoffset="10"/>
</g>
<text transform="translate(150.7 807.8) scale(1.067 1)" text-anchor="end">0</text><text transform="translate(150.7 703.1) scale(1.067 1)" text-anchor="end">0.2</text><text transform="translate(150.7 598.4) scale(1.067 1)" text-anchor="end">0.4</text><text transform="translate(150.7 493.8) scale(1.067 1)" text-anchor="end">0.6</text><text transform="translate(150.7 389.1) scale(1.067 1)" text-anchor="end">0.8</text><text transform="translate(150.7 284.4) scale(1.067 1)" text-anchor="end">1</text><text transform="translate(150.7 179.7) scale(1.067 1)" text-anchor="end">1.2</text><text transform="translate(150.7 75.0) scale(1.067 1)" text-anchor="end">1.4</text>
<text transform="translate(152.7 826.2) scale(1.067 1)" text-anchor="middle">-40</text><text transform="translate(285.6 826.2) scale(1.067 1)" text-anchor="middle">-30</text><text transform="translate(418.4 826.2) scale(1.067 1)" text-anchor="middle">-20</text><text transform="translate(551.3 826.2) scale(1.067 1)" text-anchor="middle">-10</text><text transform="translate(686.9 826.2) scale(1.067 1)" text-anchor="middle">0</text><text transform="translate(820.8 826.2) scale(1.067 1)" text-anchor="middle">10</text><text transform="translate(953.6 826.2) scale(1.067 1)" text-anchor="middle">20</text><text transform="translate(1086.5 826.2) scale(1.067 1)" text-anchor="middle">30</text>
<text transform="translate(620.5 51.3) scale(1.067 1)" text-anchor="middle">Progress of p1,p2</text>
<text transform="translate(620.3 853.2) scale(1.010 1)" text-anchor="middle">arc length</text>
<text transform="translate(956.3 104.2) scale(1.067 1)">p1 init</text><text transform="translate(956.3 132.3) scale(1.067 1)">p2 init</text><text transform="translate(956.3 160.4) scale(1.067 1)">p1 progress</text><text transform="translate(956.3 188.5) scale(1.067 1)">p2 progress</text>
</svg>
<script>
(function(){var SX=13.2857,ps=document.querySelectorAll('.q path');
for(var i=0;i<ps.length;i++){var p=ps[i],d=p.getAttribute('d'),m=d.slice(d.indexOf('l')+1).match(/-?\d*\.?\d+/g);
if(!m)continue;var c=0,e=0,C=[0],E=[0],j;
for(j=1;j<m.length;j+=2){var dy=Math.abs(+m[j]);c+=Math.max(SX,dy);e+=Math.sqrt(SX*SX+dy*dy);C.push(c);E.push(e);}
var o=[0],pv=0,b=4,on=false,s=0;
while(b<c){while(s<C.length-2&&C[s+1]<b)s++;var eb=E[s]+(b-C[s])/(C[s+1]-C[s])*(E[s+1]-E[s]);o.push((eb-pv).toFixed(2));pv=eb;on=!on;b+=on?10:4;}
o.push(9999);if(o.length%2)o.push(0);p.style.strokeDasharray=o.join(' ');p.style.strokeDashoffset='0';}})();
</script>
</body></html>
